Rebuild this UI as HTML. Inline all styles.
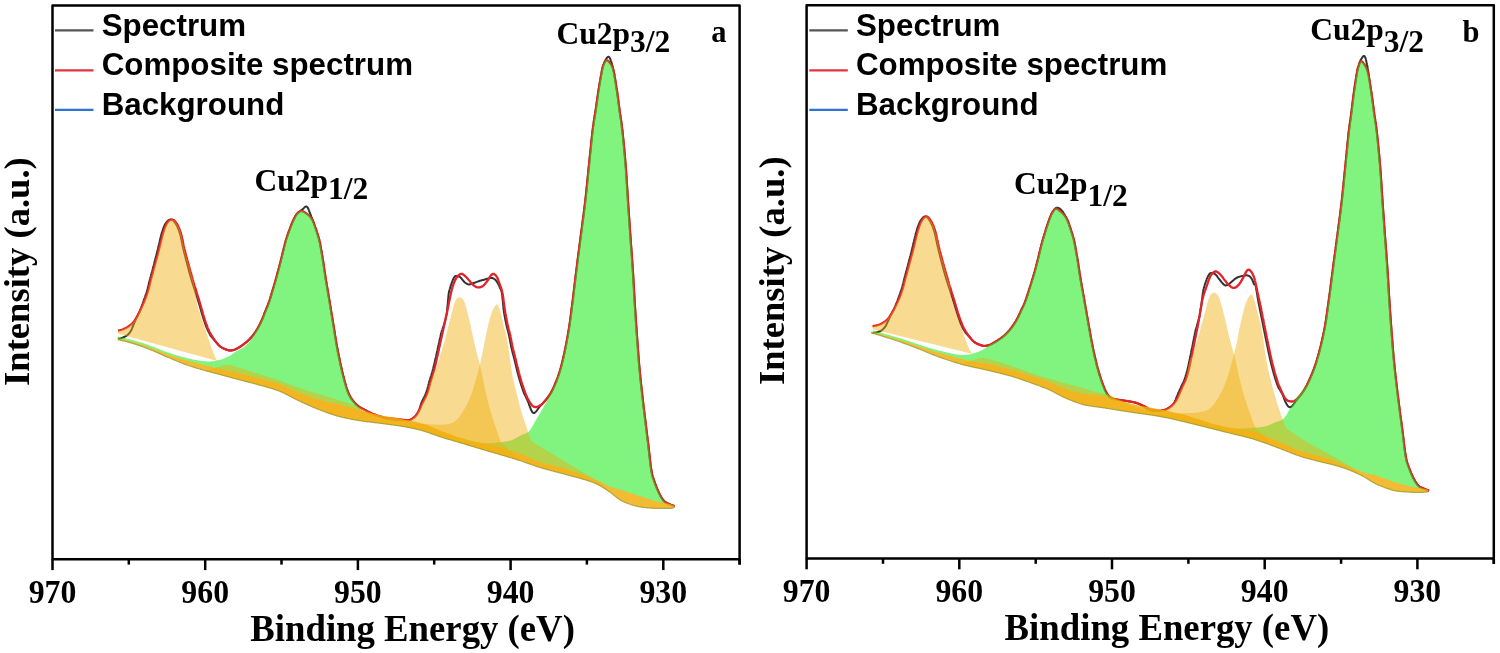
<!DOCTYPE html>
<html><head><meta charset="utf-8"><style>
html,body{margin:0;padding:0;background:#fff;}
svg{display:block;will-change:transform;}
</style></head><body>
<svg width="1500" height="653" viewBox="0 0 1500 653">
<rect width="1500" height="653" fill="#fff"/>

<g>
<path d="M118.0 338.9L118.4 338.8L118.9 338.7L119.5 338.5L120.2 338.4L120.9 338.2L121.6 338.0L122.3 337.7L123.0 337.5L123.5 337.3L124.1 337.0L124.6 336.8L125.2 336.5L125.7 336.2L126.3 335.9L126.8 335.5L127.4 335.1L127.9 334.6L128.4 334.2L128.9 333.6L129.4 333.0L129.9 332.3L130.5 331.5L131.0 330.6L131.5 329.6L132.0 328.6L132.4 327.5L132.9 326.4L133.3 325.4L133.6 324.6L134.0 323.7L134.3 322.9L134.6 322.1L135.0 321.4L135.3 320.6L135.6 319.9L135.9 319.2L136.2 318.6L136.6 317.9L136.9 317.2L137.2 316.6L137.5 316.1L137.8 315.5L138.0 314.9L138.3 314.3L138.6 313.7L138.9 313.2L139.2 312.6L139.5 312.0L139.8 311.4L140.0 310.7L140.3 310.0L140.6 309.2L140.9 308.5L141.2 307.8L141.4 307.1L141.7 306.4L141.9 305.7L142.2 305.0L142.4 304.3L142.7 303.6L142.9 302.9L143.2 302.1L143.4 301.4L143.7 300.6L143.9 299.8L144.2 299.2L144.4 298.5L144.7 297.9L144.9 297.3L145.1 296.7L145.3 296.0L145.5 295.4L145.8 294.8L146.0 294.2L146.2 293.6L146.4 292.9L146.6 292.3L146.8 291.7L147.0 291.0L147.2 290.4L147.4 289.7L147.6 289.0L147.8 288.3L147.9 287.6L148.1 286.8L148.3 286.1L148.5 285.4L148.6 284.7L148.7 284.2L148.8 283.7L148.9 283.3L149.0 282.9L149.1 282.5L149.2 282.1L149.3 281.7L149.5 281.3L149.6 280.8L149.7 280.3L149.9 279.6L150.1 278.9L150.3 278.1L150.5 277.2L150.8 276.2L150.9 275.8L151.0 275.3L151.1 274.9L151.3 274.4L151.4 274.0L151.5 273.4L151.7 272.9L151.8 272.4L152.0 271.8L152.1 271.3L152.3 270.7L152.4 270.1L152.6 269.5L152.7 268.9L152.9 268.3L153.1 267.6L153.2 267.0L153.4 266.3L153.6 265.7L153.8 265.0L153.9 264.3L154.1 263.7L154.3 263.0L154.5 262.3L154.6 261.6L154.8 260.9L155.0 260.2L155.2 259.5L155.4 258.8L155.5 258.1L155.7 257.4L155.9 256.7L156.1 256.0L156.2 255.4L156.4 254.7L156.6 254.0L156.8 253.4L156.9 252.7L157.1 252.1L157.2 251.4L157.4 250.8L157.6 250.2L157.7 249.6L157.9 249.0L158.0 248.4L158.1 247.8L158.3 247.3L158.4 246.7L158.6 245.9L158.8 245.1L159.0 244.4L159.1 243.6L159.3 242.9L159.5 242.1L159.7 241.4L159.8 240.7L160.0 240.1L160.1 239.4L160.3 238.8L160.4 238.2L160.6 237.6L160.7 237.0L160.9 236.4L161.0 235.9L161.1 235.4L161.3 234.9L161.4 234.4L161.5 233.9L161.7 233.4L161.8 233.0L161.9 232.6L162.1 232.1L162.2 231.7L162.3 231.3L162.5 230.9L162.6 230.5L162.7 230.1L162.9 229.7L163.0 229.3L163.2 228.6L163.5 228.0L163.7 227.4L163.9 226.8L164.1 226.3L164.4 225.8L164.6 225.3L164.8 224.9L165.0 224.5L165.2 224.1L165.4 223.7L165.6 223.4L165.9 223.0L166.1 222.7L166.3 222.4L166.5 222.1L166.8 221.8L167.0 221.6L167.5 221.1L168.0 220.6L168.5 220.3L169.0 220.0L169.6 219.8L170.1 219.6L170.6 219.6L171.2 219.6L171.7 219.7L172.2 219.9L172.7 220.2L173.2 220.6L173.8 221.1L174.3 221.6L174.8 222.3L175.3 223.0L175.8 223.8L176.3 224.6L176.6 225.1L176.8 225.6L177.1 226.1L177.3 226.6L177.6 227.2L177.8 227.8L178.1 228.4L178.4 229.0L178.6 229.7L178.9 230.4L179.1 231.1L179.4 231.8L179.7 232.6L179.9 233.4L180.2 234.3L180.4 235.2L180.7 236.2L180.9 237.2L181.0 237.9L181.2 238.5L181.3 239.1L181.4 239.7L181.6 240.3L181.7 240.9L181.8 241.5L181.9 242.1L182.0 242.7L182.2 243.3L182.3 243.8L182.4 244.4L182.5 245.0L182.6 245.5L182.7 246.1L182.9 246.6L183.0 247.2L183.1 247.8L183.2 248.3L183.4 248.9L183.5 249.5L183.6 250.0L183.8 250.6L183.9 251.2L184.1 251.8L184.2 252.5L184.4 253.1L184.6 253.8L184.7 254.5L184.9 255.2L185.1 255.9L185.2 256.4L185.4 256.9L185.5 257.5L185.6 258.0L185.8 258.6L185.9 259.2L186.1 259.7L186.2 260.3L186.4 261.0L186.6 261.6L186.7 262.2L186.9 262.9L187.1 263.5L187.2 264.2L187.4 264.9L187.6 265.5L187.8 266.2L187.9 266.9L188.1 267.6L188.3 268.3L188.5 269.0L188.7 269.6L188.8 270.3L189.0 271.0L189.2 271.7L189.4 272.3L189.6 273.0L189.8 273.6L189.9 274.3L190.1 274.9L190.3 275.5L190.5 276.1L190.6 276.7L190.8 277.3L191.0 277.9L191.2 278.5L191.3 279.0L191.5 279.6L191.6 280.1L191.8 280.6L191.9 281.1L192.1 281.6L192.2 282.1L192.4 282.6L192.5 283.0L192.7 283.4L192.8 283.8L192.9 284.2L193.2 285.1L193.4 285.8L193.6 286.5L193.9 287.2L194.1 287.8L194.3 288.4L194.4 288.9L194.6 289.5L194.8 289.9L194.9 290.4L195.1 290.9L195.2 291.3L195.4 291.8L195.5 292.3L195.7 292.7L195.8 293.2L196.0 293.6L196.1 294.1L196.3 294.6L196.4 295.2L196.6 295.7L196.8 296.3L197.0 296.8L197.1 297.4L197.3 298.0L197.5 298.5L197.7 299.1L197.8 299.7L198.0 300.3L198.2 300.8L198.4 301.4L198.5 302.0L198.7 302.6L198.9 303.2L199.1 303.8L199.3 304.3L199.4 304.9L199.6 305.5L199.8 306.1L200.0 306.7L200.1 307.3L200.3 308.0L200.5 308.6L200.6 309.2L200.8 309.8L201.0 310.4L201.1 311.0L201.3 311.5L201.5 312.1L201.6 312.7L201.8 313.3L202.0 313.8L202.1 314.4L202.3 314.9L202.5 315.5L202.7 316.0L202.8 316.6L203.0 317.1L203.2 317.6L203.3 318.2L203.5 318.8L203.7 319.3L203.9 319.9L204.1 320.5L204.3 321.1L204.5 321.7L204.7 322.2L204.8 322.8L205.0 323.4L205.2 323.9L205.4 324.5L205.6 325.1L205.8 325.6L206.0 326.1L206.2 326.7L206.4 327.2L206.7 327.7L206.9 328.2L207.1 328.7L207.3 329.2L207.5 329.7L207.7 330.2L208.0 330.7L208.2 331.1L208.5 331.7L208.8 332.2L209.0 332.8L209.3 333.3L209.6 333.8L209.9 334.4L210.2 334.9L210.5 335.4L210.8 335.9L211.1 336.3L211.5 336.7L211.8 337.1L212.1 337.5L212.4 337.8L212.7 338.2L213.1 338.6L213.4 338.9L213.7 339.3L214.1 339.7L214.4 340.1L214.8 340.5L215.2 340.9L215.5 341.4L215.9 341.9L216.3 342.4L216.7 342.9L217.1 343.3L217.5 343.8L217.9 344.2L218.3 344.7L218.7 345.1L219.1 345.5L219.5 345.8L219.9 346.2L220.4 346.6L221.0 347.0L221.6 347.4L222.1 347.7L222.7 348.0L223.3 348.3L223.9 348.6L224.5 348.9L225.1 349.1L225.7 349.3L226.2 349.5L226.7 349.7L227.2 349.9L227.9 350.1L228.6 350.3L229.2 350.4L229.8 350.4L230.3 350.4L230.9 350.4L231.4 350.4L232.0 350.3L232.6 350.2L233.3 350.1L233.8 349.9L234.5 349.7L235.1 349.5L235.8 349.2L236.5 348.8L237.0 348.6L237.5 348.3L238.0 348.0L238.5 347.7L239.0 347.4L239.5 347.1L240.1 346.7L240.7 346.4L241.2 346.0L241.8 345.6L242.3 345.2L242.9 344.8L243.3 344.5L243.8 344.1L244.3 343.8L244.7 343.4L245.2 343.0L245.7 342.7L246.2 342.3L246.6 341.9L247.1 341.5L247.6 341.1L248.0 340.7L248.5 340.3L248.9 339.8L249.4 339.4L249.8 339.0L250.2 338.5L250.7 338.1L251.1 337.6L251.5 337.1L251.9 336.6L252.3 336.1L252.7 335.6L253.1 335.1L253.5 334.6L253.9 334.1L254.2 333.6L254.6 333.1L255.0 332.6L255.3 332.1L255.7 331.6L256.0 331.0L256.4 330.5L256.7 330.0L257.0 329.5L257.3 329.0L257.6 328.4L257.9 327.9L258.2 327.4L258.5 326.8L258.8 326.3L259.1 325.8L259.4 325.2L259.7 324.6L260.0 324.0L260.3 323.5L260.6 322.8L260.9 322.2L261.1 321.6L261.4 321.0L261.7 320.4L261.9 319.8L262.2 319.2L262.4 318.7L262.7 318.1L262.9 317.6L263.2 316.9L263.4 316.4L263.6 315.9L263.8 315.4L264.0 314.9L264.2 314.3L264.4 313.7L264.7 313.0L265.0 312.1L265.2 311.7L265.3 311.3L265.5 310.9L265.7 310.5L265.9 310.1L266.0 309.6L266.2 309.2L266.4 308.8L266.6 308.3L266.8 307.8L267.0 307.3L267.3 306.8L267.5 306.2L267.7 305.6L268.0 305.0L268.2 304.3L268.5 303.5L268.8 302.7L269.1 301.9L269.4 301.0L269.7 300.0L269.8 299.6L270.0 299.2L270.1 298.7L270.2 298.3L270.4 297.8L270.5 297.3L270.7 296.8L270.8 296.3L271.0 295.8L271.2 295.3L271.3 294.8L271.5 294.2L271.6 293.7L271.8 293.1L272.0 292.5L272.2 292.0L272.3 291.4L272.5 290.8L272.7 290.2L272.9 289.6L273.0 289.0L273.2 288.4L273.4 287.7L273.6 287.1L273.8 286.5L273.9 285.9L274.1 285.2L274.3 284.6L274.5 284.0L274.7 283.3L274.8 282.7L275.0 282.1L275.2 281.4L275.4 280.8L275.6 280.2L275.8 279.5L275.9 278.9L276.1 278.3L276.3 277.6L276.5 277.0L276.6 276.4L276.8 275.8L277.0 275.2L277.1 274.6L277.3 274.0L277.5 273.4L277.6 272.8L277.8 272.2L277.9 271.7L278.1 271.1L278.3 270.5L278.4 270.0L278.6 269.4L278.7 268.7L278.9 268.1L279.1 267.4L279.3 266.8L279.4 266.1L279.6 265.4L279.8 264.8L279.9 264.1L280.1 263.5L280.3 262.8L280.4 262.1L280.6 261.5L280.8 260.8L280.9 260.1L281.1 259.5L281.3 258.8L281.4 258.2L281.6 257.5L281.7 256.9L281.9 256.2L282.0 255.6L282.2 255.0L282.4 254.4L282.5 253.7L282.6 253.1L282.8 252.5L282.9 251.9L283.1 251.4L283.2 250.8L283.4 250.2L283.5 249.7L283.6 249.1L283.8 248.6L283.9 248.1L284.0 247.6L284.1 247.1L284.2 246.6L284.4 246.1L284.5 245.7L284.6 245.2L284.7 244.8L284.8 244.4L284.9 244.0L285.2 242.8L285.5 241.8L285.7 241.0L285.9 240.3L286.1 239.7L286.2 239.2L286.4 238.8L286.5 238.4L286.6 238.1L286.7 237.7L286.9 237.3L287.0 236.8L287.2 236.3L287.4 235.7L287.6 235.1L287.8 234.5L288.0 234.0L288.2 233.4L288.4 232.8L288.6 232.2L288.8 231.6L289.0 231.0L289.2 230.5L289.5 229.9L289.7 229.3L289.9 228.7L290.1 228.1L290.3 227.5L290.6 226.9L290.8 226.3L291.0 225.7L291.3 225.1L291.5 224.5L291.7 223.9L292.0 223.3L292.2 222.7L292.5 222.1L292.7 221.6L293.0 221.0L293.3 220.4L293.5 219.9L293.8 219.3L294.1 218.7L294.4 218.1L294.7 217.5L295.0 217.0L295.2 216.4L295.5 215.9L295.9 215.4L296.2 214.9L296.5 214.5L296.8 214.1L297.3 213.6L297.8 213.0L298.3 212.6L298.8 212.1L299.3 211.7L299.8 211.3L300.4 210.9L300.9 210.5L301.4 210.2L302.0 209.7L302.6 209.3L303.2 208.7L303.8 208.1L304.3 207.6L304.9 207.0L305.5 206.6L306.0 206.4L306.5 206.5L307.0 206.8L307.5 207.4L308.0 208.2L308.5 209.2L308.9 210.3L309.4 211.5L309.8 212.7L310.2 213.7L310.6 214.7L310.9 215.7L311.3 216.6L311.6 217.5L312.0 218.3L312.3 219.1L312.6 219.8L312.9 220.5L313.2 221.2L313.4 221.8L313.6 222.5L313.9 223.1L314.1 223.8L314.3 224.4L314.5 225.1L314.8 225.7L315.0 226.4L315.2 227.1L315.4 227.6L315.6 228.2L315.8 228.7L316.0 229.3L316.2 229.8L316.4 230.4L316.5 231.0L316.7 231.6L316.9 232.1L317.1 232.8L317.3 233.4L317.5 234.0L317.7 234.5L317.8 235.0L318.0 235.5L318.1 236.0L318.3 236.5L318.4 237.0L318.6 237.5L318.8 238.1L318.9 238.7L319.1 239.3L319.3 240.0L319.4 240.7L319.6 241.5L319.8 242.4L319.9 242.9L320.0 243.3L320.1 243.8L320.2 244.3L320.3 244.9L320.4 245.4L320.5 246.0L320.6 246.5L320.7 247.1L320.8 247.7L320.9 248.3L321.0 248.9L321.1 249.5L321.3 250.2L321.4 250.8L321.5 251.4L321.6 252.1L321.7 252.7L321.8 253.4L321.9 254.1L322.0 254.7L322.1 255.4L322.3 256.0L322.4 256.7L322.5 257.4L322.6 258.0L322.7 258.7L322.8 259.3L322.9 260.0L323.0 260.6L323.1 261.1L323.2 261.7L323.3 262.3L323.4 262.9L323.4 263.5L323.5 264.1L323.6 264.7L323.7 265.3L323.8 265.9L323.9 266.5L324.0 267.1L324.1 267.7L324.2 268.3L324.2 268.9L324.3 269.5L324.4 270.2L324.5 270.8L324.6 271.4L324.7 272.0L324.8 272.6L324.9 273.2L325.0 273.9L325.1 274.5L325.1 275.1L325.2 275.7L325.3 276.3L325.4 276.9L325.5 277.6L325.6 278.2L325.7 278.8L325.8 279.4L325.9 280.0L326.0 280.6L326.1 281.2L326.2 281.8L326.3 282.4L326.4 283.0L326.5 283.6L326.6 284.2L326.7 284.7L326.8 285.3L326.9 285.9L327.0 286.5L327.1 287.1L327.2 287.6L327.3 288.2L327.4 288.8L327.5 289.4L327.6 290.0L327.7 290.6L327.8 291.2L327.9 291.8L328.0 292.4L328.1 293.0L328.2 293.6L328.3 294.2L328.4 294.8L328.5 295.4L328.6 296.1L328.7 296.7L328.9 297.3L329.0 298.0L329.1 298.7L329.2 299.3L329.3 300.0L329.4 300.5L329.5 301.1L329.6 301.6L329.7 302.2L329.8 302.7L329.8 303.3L329.9 303.9L330.0 304.4L330.1 305.0L330.2 305.6L330.3 306.2L330.4 306.8L330.5 307.4L330.6 308.0L330.7 308.6L330.8 309.2L330.9 309.8L331.0 310.4L331.1 311.0L331.2 311.6L331.3 312.2L331.4 312.8L331.5 313.4L331.6 314.0L331.7 314.6L331.8 315.3L331.9 315.9L332.0 316.5L332.1 317.1L332.2 317.7L332.3 318.3L332.4 318.9L332.5 319.6L332.6 320.2L332.7 320.8L332.8 321.4L332.9 322.0L333.0 322.6L333.1 323.2L333.2 323.8L333.3 324.4L333.4 325.0L333.5 325.6L333.6 326.2L333.7 326.8L333.8 327.4L333.9 328.0L334.0 328.6L334.1 329.2L334.2 329.8L334.3 330.4L334.4 331.0L334.5 331.5L334.6 332.1L334.7 332.7L334.7 333.3L334.8 333.9L334.9 334.5L335.0 335.1L335.1 335.7L335.2 336.3L335.3 336.9L335.4 337.5L335.5 338.1L335.6 338.7L335.7 339.3L335.8 339.9L335.9 340.5L336.0 341.1L336.1 341.7L336.2 342.3L336.3 342.9L336.4 343.5L336.5 344.0L336.6 344.6L336.7 345.2L336.8 345.8L336.9 346.4L337.0 347.0L337.2 347.6L337.3 348.2L337.4 348.8L337.5 349.4L337.6 350.0L337.7 350.6L337.8 351.2L337.9 351.8L338.1 352.4L338.2 353.0L338.3 353.6L338.4 354.3L338.6 354.9L338.7 355.5L338.8 356.1L338.9 356.8L339.1 357.4L339.2 358.0L339.3 358.6L339.5 359.3L339.6 359.9L339.7 360.5L339.9 361.1L340.0 361.8L340.1 362.4L340.2 363.0L340.4 363.6L340.5 364.2L340.7 364.8L340.8 365.5L340.9 366.1L341.1 366.7L341.2 367.3L341.3 367.9L341.5 368.4L341.6 369.0L341.7 369.6L341.8 370.2L342.0 370.7L342.1 371.3L342.2 371.8L342.4 372.4L342.5 372.9L342.6 373.5L342.8 374.0L342.9 374.5L343.0 375.0L343.2 375.7L343.4 376.4L343.5 377.1L343.7 377.8L343.9 378.5L344.1 379.2L344.2 379.8L344.4 380.5L344.6 381.1L344.8 381.8L344.9 382.4L345.1 383.0L345.3 383.6L345.5 384.2L345.6 384.8L345.8 385.4L346.0 386.0L346.1 386.5L346.3 387.1L346.5 387.6L346.6 388.1L346.8 388.7L347.0 389.2L347.2 389.7L347.3 390.2L347.5 390.6L347.7 391.1L347.8 391.6L348.0 392.0L348.3 392.8L348.6 393.5L348.9 394.2L349.2 394.8L349.5 395.4L349.8 395.9L350.1 396.4L350.3 396.9L350.6 397.4L350.9 397.9L351.2 398.3L351.5 398.8L351.8 399.2L352.1 399.6L352.5 400.1L352.8 400.5L353.2 401.0L353.6 401.5L354.0 402.0L354.4 402.5L354.8 402.9L355.2 403.4L355.7 403.8L356.1 404.2L356.5 404.6L357.0 405.0L357.4 405.4L357.8 405.8L358.3 406.2L358.7 406.5L359.2 406.9L359.7 407.2L360.2 407.5L360.7 407.8L361.2 408.1L361.7 408.4L362.2 408.6L362.8 408.9L363.3 409.2L363.9 409.4L364.4 409.7L365.0 410.0L365.5 410.3L366.0 410.5L366.5 410.8L367.0 411.1L367.5 411.4L368.1 411.7L368.6 411.9L369.2 412.2L369.7 412.5L370.3 412.8L370.9 413.1L371.5 413.4L372.1 413.6L372.8 413.9L373.3 414.1L373.8 414.3L374.4 414.5L375.0 414.7L375.5 414.9L376.1 415.2L376.7 415.4L377.3 415.6L378.0 415.8L378.6 416.0L379.2 416.2L379.8 416.4L380.4 416.6L381.0 416.8L381.6 417.0L382.2 417.2L382.7 417.4L383.3 417.5L383.8 417.7L384.5 417.9L385.2 418.1L385.9 418.2L386.6 418.4L387.3 418.5L387.9 418.6L388.5 418.8L389.1 418.9L389.7 419.0L390.3 419.1L390.9 419.2L391.4 419.3L392.0 419.4L392.7 419.5L393.3 419.6L393.9 419.7L394.5 419.8L395.1 419.9L395.6 419.9L396.2 420.0L396.8 420.0L397.4 420.1L398.0 420.1L398.6 420.1L399.2 420.1L399.9 420.1L400.6 420.2L401.3 420.2L401.9 420.2L402.6 420.2L403.2 420.2L403.8 420.2L404.4 420.2L404.9 420.3L405.8 420.3L406.5 420.4L407.1 420.5L407.7 420.5L408.3 420.4L408.9 420.3L409.4 420.1L410.0 419.9L410.6 419.7L411.2 419.4L411.8 419.0L412.3 418.7L412.8 418.3L413.3 417.9L413.8 417.5L414.4 417.1L414.9 416.6L415.4 416.1L415.9 415.5L416.3 415.0L416.7 414.5L417.0 414.0L417.4 413.5L417.7 412.9L418.1 412.3L418.4 411.5L418.8 410.7L419.1 409.9L419.4 409.1L419.7 408.3L419.9 407.4L420.2 406.6L420.4 405.8L420.7 405.1L420.9 404.3L421.1 403.7L421.4 403.0L421.6 402.4L421.9 401.8L422.1 401.2L422.4 400.7L422.7 400.2L422.9 399.6L423.2 399.1L423.5 398.5L423.8 397.9L424.1 397.4L424.3 396.8L424.6 396.3L424.9 395.7L425.2 395.2L425.4 394.6L425.7 394.0L425.9 393.4L426.2 392.7L426.4 392.0L426.7 391.2L426.9 390.4L427.2 389.5L427.4 388.6L427.7 387.6L427.9 387.0L428.0 386.4L428.2 385.7L428.3 385.1L428.5 384.5L428.7 384.0L428.8 383.4L429.0 382.8L429.1 382.2L429.3 381.7L429.5 381.1L429.6 380.6L429.8 380.0L430.0 379.5L430.1 378.9L430.3 378.3L430.5 377.7L430.7 377.2L430.8 376.6L431.0 376.0L431.2 375.5L431.4 374.9L431.6 374.3L431.7 373.6L431.9 373.0L432.1 372.3L432.3 371.7L432.5 371.0L432.7 370.3L432.9 369.6L433.1 368.9L433.3 368.2L433.4 367.5L433.6 366.8L433.8 366.1L433.9 365.5L434.1 364.8L434.3 364.1L434.4 363.3L434.6 362.7L434.7 362.0L434.9 361.3L435.0 360.7L435.2 360.1L435.3 359.6L435.4 359.0L435.6 358.4L435.7 357.8L435.8 357.3L436.0 356.7L436.1 356.1L436.2 355.5L436.4 354.9L436.5 354.2L436.6 353.7L436.8 353.1L436.9 352.6L437.0 352.0L437.1 351.5L437.2 351.0L437.3 350.4L437.5 349.9L437.6 349.4L437.7 348.8L437.8 348.3L437.9 347.7L438.1 347.1L438.2 346.5L438.4 345.8L438.5 345.2L438.7 344.4L438.8 343.7L439.0 342.9L439.1 342.4L439.2 341.9L439.3 341.4L439.4 340.9L439.6 340.4L439.7 339.8L439.8 339.3L439.9 338.7L440.0 338.1L440.2 337.5L440.3 337.0L440.4 336.4L440.6 335.8L440.7 335.1L440.8 334.5L441.0 333.9L441.1 333.4L441.2 333.0L441.4 332.6L441.5 332.2L441.7 331.7L441.8 331.3L441.9 330.9L442.1 330.4L442.2 330.0L442.4 329.6L442.5 329.2L442.6 328.7L442.8 328.3L442.9 327.9L443.0 327.5L443.2 327.1L443.3 326.7L443.4 326.3L443.6 325.9L443.7 325.5L443.8 325.0L444.0 324.6L444.1 324.2L444.3 323.8L444.4 323.3L444.5 322.9L444.7 322.5L444.8 322.0L445.0 321.6L445.1 321.0L445.2 320.4L445.4 319.7L445.5 319.1L445.7 318.5L445.8 317.8L445.9 317.2L446.1 316.6L446.2 316.0L446.3 315.4L446.5 314.8L446.6 314.2L446.7 313.7L446.8 312.8L447.0 311.6L447.1 310.4L447.2 309.2L447.3 308.0L447.4 306.9L447.5 305.9L447.6 304.9L447.8 303.0L447.9 301.3L448.1 299.8L448.2 298.5L448.3 297.3L448.4 296.2L448.5 295.3L448.6 294.3L448.7 293.5L448.8 292.8L448.9 292.4L449.0 292.0L449.1 291.6L449.2 291.1L449.4 290.6L449.5 290.1L449.6 289.7L449.7 289.2L449.8 288.8L450.0 288.3L450.1 287.9L450.2 287.5L450.3 287.1L450.5 286.6L450.6 286.2L450.7 285.8L450.9 285.4L451.0 285.0L451.1 284.6L451.3 284.2L451.4 283.8L451.6 283.4L451.7 283.0L451.8 282.6L452.0 282.2L452.1 281.8L452.3 281.4L452.5 280.9L452.7 280.4L452.9 279.8L453.2 279.3L453.4 278.8L453.6 278.3L453.9 277.9L454.1 277.4L454.4 277.0L454.6 276.7L454.9 276.4L455.1 276.2L455.3 276.1L455.6 276.0L455.8 276.0L456.0 276.1L456.5 276.1L456.9 276.1L457.4 276.1L457.8 276.2L458.2 276.3L458.7 276.4L459.1 276.6L459.7 276.9L460.2 277.3L460.8 277.8L461.4 278.4L462.1 279.3L462.5 279.8L463.0 280.4L463.4 281.0L463.9 281.5L464.4 282.0L464.9 282.5L465.4 282.9L465.9 283.2L466.4 283.5L466.8 283.8L467.3 284.0L467.7 284.2L468.1 284.3L468.6 284.4L469.0 284.4L469.5 284.4L469.9 284.3L470.3 284.2L470.7 284.1L471.2 284.0L471.7 283.8L472.1 283.7L472.5 283.5L473.0 283.3L473.4 283.1L473.9 283.0L474.4 282.8L475.0 282.6L475.6 282.4L476.2 282.1L476.8 281.9L477.5 281.7L478.1 281.4L478.7 281.2L479.3 281.0L479.9 280.8L480.5 280.6L481.2 280.5L481.8 280.3L482.4 280.1L483.0 280.0L483.4 279.9L483.9 279.8L484.3 279.6L484.8 279.5L485.2 279.4L485.6 279.2L486.1 279.1L486.5 279.0L486.9 278.8L487.3 278.7L487.7 278.6L488.1 278.4L488.5 278.3L488.8 278.3L489.2 278.2L489.6 278.1L489.9 278.1L490.2 278.0L490.6 278.0L490.9 278.0L491.5 278.0L492.1 278.0L492.6 278.1L493.1 278.3L493.7 278.6L494.1 278.9L494.6 279.2L495.1 279.6L495.6 280.1L496.1 280.7L496.5 281.3L497.0 281.9L497.2 282.3L497.5 282.6L497.7 283.0L497.9 283.4L498.1 283.8L498.4 284.2L498.6 284.7L498.8 285.1L499.0 285.6L499.3 286.1L499.5 286.7L499.7 287.2L499.9 287.8L500.1 288.2L500.3 288.5L500.5 288.8L500.7 289.1L500.9 289.5L501.0 290.0L501.2 290.4L501.4 291.0L501.6 291.7L501.7 292.5L501.9 293.5L502.1 294.7L502.3 296.1L502.4 297.6L502.6 299.3L502.7 300.2L502.8 301.1L502.9 302.0L502.9 302.9L503.0 303.7L503.1 304.6L503.2 305.4L503.3 306.2L503.4 307.0L503.4 307.8L503.5 308.5L503.6 309.3L503.7 309.9L503.8 310.6L503.9 311.3L503.9 311.9L504.0 312.5L504.1 313.0L504.2 313.5L504.3 314.0L504.4 314.4L504.4 314.9L504.5 315.4L504.6 315.9L504.7 316.4L504.8 316.9L504.9 317.4L505.0 318.0L505.1 318.5L505.2 319.1L505.3 319.7L505.4 320.2L505.5 320.8L505.7 321.4L505.8 321.9L505.9 322.5L506.0 323.1L506.1 323.6L506.2 324.2L506.3 324.7L506.5 325.3L506.6 325.8L506.7 326.3L506.8 326.8L506.9 327.3L507.0 327.8L507.2 328.2L507.3 328.6L507.4 329.1L507.5 329.5L507.6 329.9L507.7 330.3L507.9 330.8L508.0 331.4L508.2 332.0L508.3 332.5L508.5 333.1L508.6 333.7L508.7 334.3L508.9 335.0L509.0 335.6L509.2 336.3L509.3 337.0L509.5 337.7L509.6 338.5L509.8 339.2L509.9 340.0L510.1 340.8L510.2 341.6L510.3 342.2L510.4 342.8L510.5 343.4L510.7 344.0L510.8 344.5L510.9 345.1L511.0 345.7L511.1 346.2L511.2 346.7L511.3 347.3L511.4 347.8L511.6 348.3L511.7 348.8L511.8 349.3L511.9 349.8L512.0 350.3L512.2 350.8L512.3 351.3L512.4 351.8L512.5 352.3L512.7 352.8L512.8 353.3L512.9 353.8L513.1 354.3L513.2 354.9L513.4 355.4L513.5 356.0L513.7 356.5L513.8 357.1L514.0 357.7L514.1 358.3L514.3 358.9L514.4 359.5L514.6 360.1L514.7 360.7L514.9 361.3L515.0 361.9L515.2 362.6L515.3 363.2L515.5 363.9L515.6 364.5L515.8 365.2L516.0 365.8L516.1 366.4L516.2 367.1L516.4 367.7L516.5 368.3L516.7 368.9L516.8 369.5L517.0 370.0L517.1 370.6L517.2 371.2L517.4 371.7L517.5 372.3L517.7 372.8L517.8 373.4L517.9 373.9L518.1 374.4L518.2 375.0L518.4 375.5L518.5 376.0L518.7 376.6L518.8 377.1L519.0 377.7L519.1 378.2L519.3 378.8L519.5 379.3L519.6 379.9L519.8 380.4L520.0 381.0L520.1 381.6L520.3 382.1L520.5 382.7L520.6 383.2L520.8 383.8L521.0 384.4L521.2 384.9L521.3 385.5L521.5 386.0L521.7 386.6L521.9 387.1L522.1 387.6L522.3 388.2L522.4 388.7L522.6 389.3L522.8 389.9L523.0 390.4L523.2 391.0L523.4 391.6L523.6 392.2L523.8 392.8L524.1 393.4L524.3 393.8L524.5 394.3L524.7 394.7L524.9 395.1L525.2 395.6L525.4 396.0L525.6 396.5L525.8 397.0L526.1 397.4L526.3 397.9L526.5 398.4L526.8 398.9L527.0 399.4L527.3 400.0L527.5 400.5L527.8 401.1L528.1 401.9L528.5 402.8L528.8 403.8L529.1 404.8L529.5 405.8L529.9 406.7L530.2 407.7L530.6 408.6L530.9 409.5L531.3 410.3L531.7 411.0L532.1 411.7L532.4 412.2L532.8 412.6L533.2 412.9L533.6 413.0L534.2 413.0L534.8 412.7L535.3 412.2L535.9 411.6L536.6 410.8L537.2 410.0L537.8 409.1L538.4 408.3L539.0 407.5L539.6 406.7L540.2 406.1L540.6 405.6L541.1 405.2L541.5 404.7L541.9 404.3L542.4 403.8L542.8 403.4L543.2 402.9L543.7 402.5L544.1 402.0L544.5 401.5L545.0 401.0L545.4 400.4L545.8 399.9L546.3 399.4L546.7 398.8L547.0 398.4L547.3 398.0L547.7 397.6L548.0 397.1L548.3 396.7L548.6 396.3L548.9 395.9L549.2 395.4L549.6 395.0L549.9 394.5L550.2 394.0L550.5 393.5L550.8 393.0L551.2 392.4L551.5 391.8L551.8 391.2L552.2 390.6L552.5 389.9L552.8 389.2L553.2 388.4L553.4 388.0L553.6 387.5L553.8 387.1L554.0 386.7L554.2 386.2L554.4 385.7L554.6 385.3L554.8 384.8L555.0 384.3L555.2 383.8L555.4 383.3L555.6 382.8L555.8 382.3L556.1 381.8L556.3 381.3L556.5 380.7L556.7 380.2L556.9 379.6L557.1 379.1L557.3 378.5L557.6 377.9L557.8 377.3L558.0 376.7L558.2 376.1L558.4 375.5L558.6 374.9L558.8 374.3L559.0 373.6L559.3 373.0L559.5 372.3L559.7 371.7L559.9 371.0L560.1 370.3L560.3 369.6L560.5 368.9L560.7 368.2L560.9 367.5L561.0 367.0L561.2 366.5L561.3 366.0L561.4 365.5L561.6 365.0L561.7 364.4L561.8 363.9L562.0 363.4L562.1 362.8L562.2 362.3L562.4 361.7L562.5 361.2L562.7 360.6L562.8 360.0L562.9 359.5L563.1 358.9L563.2 358.3L563.3 357.7L563.5 357.1L563.6 356.5L563.7 355.9L563.9 355.3L564.0 354.7L564.1 354.1L564.3 353.5L564.4 352.9L564.5 352.2L564.7 351.6L564.8 351.0L564.9 350.4L565.0 349.7L565.2 349.1L565.3 348.5L565.4 347.9L565.6 347.2L565.7 346.6L565.8 346.0L565.9 345.4L566.1 344.7L566.2 344.1L566.3 343.5L566.4 342.8L566.5 342.2L566.7 341.6L566.8 341.0L566.9 340.4L567.0 339.7L567.1 339.1L567.2 338.5L567.4 337.9L567.5 337.3L567.6 336.7L567.7 336.1L567.8 335.5L567.9 334.9L568.0 334.3L568.1 333.7L568.2 333.1L568.3 332.5L568.4 331.9L568.5 331.3L568.6 330.7L568.7 330.1L568.8 329.5L568.9 328.9L569.0 328.3L569.1 327.7L569.2 327.1L569.3 326.5L569.4 325.9L569.5 325.3L569.5 324.7L569.6 324.1L569.7 323.5L569.8 322.9L569.9 322.2L570.0 321.6L570.1 321.0L570.1 320.4L570.2 319.8L570.3 319.2L570.4 318.6L570.5 318.0L570.6 317.4L570.6 316.8L570.7 316.2L570.8 315.6L570.9 315.0L571.0 314.4L571.0 313.8L571.1 313.2L571.2 312.6L571.3 312.0L571.3 311.4L571.4 310.8L571.5 310.2L571.6 309.6L571.6 309.0L571.7 308.4L571.8 307.8L571.9 307.2L572.0 306.6L572.0 306.0L572.1 305.4L572.2 304.8L572.3 304.2L572.3 303.6L572.4 303.0L572.5 302.4L572.6 301.8L572.7 301.2L572.7 300.6L572.8 300.0L572.9 299.4L573.0 298.8L573.0 298.3L573.1 297.7L573.2 297.1L573.2 296.5L573.3 295.9L573.4 295.4L573.5 294.8L573.5 294.2L573.6 293.6L573.7 293.1L573.7 292.5L573.8 291.9L573.9 291.3L573.9 290.8L574.0 290.2L574.1 289.6L574.1 289.0L574.2 288.5L574.3 287.9L574.3 287.3L574.4 286.7L574.5 286.2L574.5 285.6L574.6 285.0L574.7 284.4L574.7 283.8L574.8 283.2L574.9 282.6L575.0 282.0L575.0 281.4L575.1 280.8L575.2 280.2L575.2 279.6L575.3 279.0L575.4 278.4L575.5 277.8L575.5 277.2L575.6 276.5L575.7 275.9L575.8 275.3L575.8 274.6L575.9 274.0L576.0 273.3L576.1 272.7L576.1 272.0L576.2 271.3L576.3 270.7L576.4 270.0L576.5 269.5L576.5 268.9L576.6 268.4L576.7 267.8L576.7 267.2L576.8 266.7L576.9 266.1L577.0 265.5L577.0 264.9L577.1 264.3L577.2 263.7L577.3 263.1L577.3 262.5L577.4 261.9L577.5 261.3L577.6 260.7L577.7 260.1L577.7 259.5L577.8 258.8L577.9 258.2L578.0 257.6L578.1 256.9L578.1 256.3L578.2 255.7L578.3 255.0L578.4 254.4L578.5 253.8L578.6 253.1L578.6 252.5L578.7 251.9L578.8 251.2L578.9 250.6L579.0 249.9L579.1 249.3L579.1 248.6L579.2 248.0L579.3 247.4L579.4 246.7L579.5 246.1L579.6 245.5L579.6 244.8L579.7 244.2L579.8 243.6L579.9 242.9L580.0 242.3L580.1 241.7L580.1 241.1L580.2 240.4L580.3 239.8L580.4 239.2L580.5 238.6L580.5 238.0L580.6 237.4L580.7 236.8L580.8 236.2L580.8 235.6L580.9 235.0L581.0 234.5L581.1 233.9L581.1 233.3L581.2 232.8L581.3 232.2L581.4 231.7L581.4 231.1L581.5 230.6L581.6 230.0L581.6 229.5L581.7 229.0L581.8 228.3L581.9 227.6L582.0 226.9L582.1 226.2L582.2 225.5L582.2 224.8L582.3 224.2L582.4 223.5L582.5 222.9L582.6 222.3L582.7 221.7L582.7 221.0L582.8 220.4L582.9 219.8L583.0 219.3L583.1 218.7L583.1 218.1L583.2 217.5L583.3 216.9L583.4 216.4L583.4 215.8L583.5 215.2L583.6 214.7L583.7 214.1L583.7 213.6L583.8 213.0L583.9 212.5L583.9 211.9L584.0 211.3L584.1 210.8L584.2 210.2L584.2 209.7L584.3 209.1L584.4 208.5L584.4 208.0L584.5 207.4L584.6 206.8L584.7 206.2L584.7 205.6L584.8 205.0L584.9 204.4L585.0 203.8L585.0 203.2L585.1 202.6L585.2 202.0L585.2 201.3L585.3 200.7L585.4 200.0L585.5 199.4L585.5 198.9L585.6 198.3L585.7 197.8L585.7 197.2L585.8 196.6L585.8 196.1L585.9 195.5L586.0 194.9L586.0 194.3L586.1 193.7L586.1 193.1L586.2 192.6L586.3 192.0L586.3 191.4L586.4 190.8L586.5 190.2L586.5 189.6L586.6 189.0L586.6 188.4L586.7 187.8L586.8 187.2L586.8 186.6L586.9 185.9L587.0 185.3L587.0 184.7L587.1 184.1L587.1 183.5L587.2 182.9L587.3 182.3L587.3 181.6L587.4 181.0L587.4 180.4L587.5 179.8L587.6 179.2L587.6 178.5L587.7 177.9L587.8 177.3L587.8 176.7L587.9 176.1L587.9 175.4L588.0 174.8L588.1 174.2L588.1 173.6L588.2 173.0L588.3 172.3L588.3 171.7L588.4 171.1L588.4 170.5L588.5 169.9L588.6 169.3L588.6 168.6L588.7 168.0L588.7 167.4L588.8 166.8L588.9 166.2L588.9 165.6L589.0 165.0L589.1 164.4L589.1 163.8L589.2 163.2L589.3 162.6L589.3 161.9L589.4 161.3L589.4 160.7L589.5 160.0L589.6 159.4L589.6 158.8L589.7 158.1L589.8 157.5L589.8 156.9L589.9 156.2L590.0 155.6L590.0 154.9L590.1 154.3L590.2 153.6L590.2 153.0L590.3 152.3L590.4 151.7L590.4 151.1L590.5 150.4L590.6 149.8L590.6 149.1L590.7 148.5L590.8 147.8L590.8 147.2L590.9 146.6L591.0 145.9L591.0 145.3L591.1 144.7L591.1 144.0L591.2 143.4L591.3 142.8L591.3 142.2L591.4 141.6L591.5 141.0L591.5 140.4L591.6 139.8L591.7 139.2L591.7 138.6L591.8 138.0L591.9 137.4L591.9 136.8L592.0 136.3L592.0 135.7L592.1 135.1L592.2 134.6L592.2 134.1L592.3 133.5L592.3 133.0L592.4 132.5L592.5 132.0L592.5 131.5L592.6 131.0L592.6 130.5L592.7 130.0L592.8 129.2L592.9 128.4L593.0 127.6L593.1 126.9L593.2 126.2L593.3 125.5L593.4 124.8L593.5 124.1L593.6 123.5L593.7 122.8L593.8 122.2L593.8 121.6L593.9 121.0L594.0 120.5L594.1 119.9L594.2 119.3L594.3 118.8L594.4 118.2L594.5 117.7L594.6 117.2L594.6 116.6L594.7 116.1L594.8 115.6L594.9 115.0L595.0 114.5L595.1 114.0L595.2 113.4L595.3 112.9L595.3 112.3L595.4 111.8L595.5 111.2L595.6 110.6L595.7 110.0L595.8 109.4L595.9 108.8L596.0 108.2L596.1 107.6L596.1 107.0L596.2 106.4L596.3 105.8L596.4 105.2L596.5 104.5L596.6 103.9L596.7 103.3L596.7 102.7L596.8 102.1L596.9 101.5L597.0 100.9L597.1 100.3L597.2 99.7L597.2 99.1L597.3 98.5L597.4 97.9L597.5 97.3L597.6 96.7L597.7 96.1L597.8 95.5L597.9 94.8L597.9 94.2L598.0 93.6L598.1 93.0L598.2 92.4L598.3 91.8L598.4 91.2L598.5 90.6L598.6 90.0L598.7 89.4L598.8 88.8L598.9 88.1L599.0 87.5L599.1 86.8L599.2 86.2L599.3 85.5L599.4 84.8L599.6 84.2L599.7 83.5L599.8 82.8L599.9 82.1L600.0 81.5L600.1 80.8L600.2 80.1L600.4 79.5L600.5 78.8L600.6 78.1L600.7 77.5L600.8 76.9L600.9 76.2L601.0 75.6L601.1 75.0L601.3 74.4L601.4 73.9L601.5 73.3L601.6 72.8L601.7 72.3L601.8 71.8L601.8 71.3L601.9 70.8L602.0 70.4L602.1 70.0L602.3 68.8L602.6 67.9L602.7 67.1L602.9 66.5L603.1 65.9L603.2 65.5L603.4 65.1L603.5 64.8L603.7 64.3L603.9 63.9L604.2 63.1L604.5 62.3L604.8 61.5L605.2 60.8L605.5 60.0L605.9 59.3L606.3 58.7L606.8 58.0L607.3 57.4L607.8 56.9L608.4 56.7L608.9 56.8L609.5 57.5L609.8 58.0L610.0 58.5L610.3 59.1L610.6 59.8L610.8 60.5L611.1 61.4L611.4 62.2L611.7 63.1L611.9 64.1L612.2 65.1L612.5 66.1L612.8 67.1L613.0 68.2L613.3 69.3L613.4 69.8L613.5 70.3L613.6 70.9L613.7 71.4L613.9 72.0L614.0 72.5L614.1 73.1L614.2 73.7L614.3 74.3L614.4 74.9L614.5 75.6L614.6 76.2L614.7 76.9L614.8 77.5L615.0 78.2L615.1 78.8L615.2 79.5L615.3 80.1L615.4 80.8L615.5 81.5L615.6 82.2L615.7 82.8L615.8 83.5L615.9 84.2L616.0 84.9L616.1 85.5L616.2 86.2L616.3 86.8L616.4 87.5L616.5 88.1L616.6 88.8L616.7 89.4L616.8 90.0L616.9 90.6L617.0 91.2L617.1 91.8L617.2 92.4L617.3 93.0L617.3 93.6L617.4 94.2L617.5 94.8L617.6 95.5L617.7 96.1L617.8 96.7L617.8 97.3L617.9 97.9L618.0 98.5L618.1 99.1L618.2 99.7L618.2 100.3L618.3 100.9L618.4 101.5L618.5 102.1L618.5 102.7L618.6 103.3L618.7 103.9L618.8 104.5L618.9 105.2L618.9 105.8L619.0 106.4L619.1 107.0L619.2 107.6L619.3 108.2L619.3 108.8L619.4 109.4L619.5 110.0L619.6 110.6L619.7 111.2L619.7 111.8L619.8 112.3L619.9 112.9L620.0 113.4L620.1 114.0L620.2 114.5L620.2 115.0L620.3 115.6L620.4 116.1L620.5 116.6L620.6 117.2L620.7 117.7L620.7 118.2L620.8 118.8L620.9 119.3L621.0 119.9L621.1 120.5L621.2 121.0L621.2 121.6L621.3 122.2L621.4 122.8L621.5 123.5L621.6 124.1L621.7 124.8L621.8 125.5L621.8 126.2L621.9 126.9L622.0 127.6L622.1 128.4L622.2 129.2L622.3 130.0L622.4 130.5L622.4 131.0L622.5 131.5L622.5 132.0L622.6 132.5L622.6 133.0L622.7 133.5L622.7 134.1L622.8 134.6L622.9 135.1L622.9 135.7L623.0 136.3L623.0 136.8L623.1 137.4L623.1 138.0L623.2 138.6L623.3 139.2L623.3 139.8L623.4 140.4L623.4 141.0L623.5 141.6L623.6 142.2L623.6 142.8L623.7 143.4L623.7 144.0L623.8 144.7L623.9 145.3L623.9 145.9L624.0 146.6L624.0 147.2L624.1 147.8L624.2 148.5L624.2 149.1L624.3 149.8L624.3 150.4L624.4 151.1L624.5 151.7L624.5 152.3L624.6 153.0L624.6 153.6L624.7 154.3L624.7 154.9L624.8 155.6L624.9 156.2L624.9 156.9L625.0 157.5L625.0 158.1L625.1 158.8L625.1 159.4L625.2 160.0L625.2 160.7L625.3 161.3L625.3 161.9L625.4 162.6L625.5 163.2L625.5 163.8L625.6 164.4L625.6 165.0L625.6 165.6L625.7 166.2L625.7 166.8L625.8 167.4L625.8 168.0L625.9 168.6L625.9 169.2L626.0 169.8L626.0 170.4L626.1 171.0L626.1 171.6L626.1 172.2L626.2 172.8L626.2 173.4L626.3 174.1L626.3 174.7L626.3 175.3L626.4 175.9L626.4 176.5L626.5 177.1L626.5 177.7L626.5 178.3L626.6 178.9L626.6 179.5L626.7 180.1L626.7 180.7L626.7 181.3L626.8 181.9L626.8 182.5L626.8 183.1L626.9 183.7L626.9 184.3L627.0 184.9L627.0 185.5L627.0 186.1L627.1 186.7L627.1 187.3L627.1 187.9L627.2 188.5L627.2 189.1L627.2 189.7L627.3 190.3L627.3 190.9L627.4 191.6L627.4 192.2L627.4 192.8L627.5 193.4L627.5 194.0L627.5 194.6L627.6 195.2L627.6 195.8L627.7 196.4L627.7 197.0L627.7 197.6L627.8 198.2L627.8 198.8L627.9 199.4L627.9 200.0L627.9 200.6L628.0 201.2L628.0 201.8L628.1 202.4L628.1 203.0L628.1 203.6L628.2 204.2L628.2 204.8L628.3 205.4L628.3 206.0L628.3 206.6L628.4 207.2L628.4 207.8L628.5 208.4L628.5 209.1L628.6 209.7L628.6 210.3L628.6 210.9L628.7 211.5L628.7 212.1L628.8 212.7L628.8 213.3L628.8 213.9L628.9 214.5L628.9 215.1L629.0 215.7L629.0 216.3L629.0 216.9L629.1 217.5L629.1 218.1L629.2 218.7L629.2 219.3L629.3 219.9L629.3 220.5L629.3 221.1L629.4 221.7L629.4 222.3L629.5 222.9L629.5 223.5L629.5 224.1L629.6 224.7L629.6 225.3L629.7 225.9L629.7 226.6L629.8 227.2L629.8 227.8L629.8 228.4L629.9 229.0L629.9 229.6L630.0 230.2L630.0 230.8L630.0 231.4L630.1 232.0L630.1 232.6L630.2 233.2L630.2 233.8L630.3 234.4L630.3 235.0L630.3 235.6L630.4 236.2L630.4 236.8L630.5 237.4L630.5 238.0L630.6 238.6L630.6 239.2L630.6 239.8L630.7 240.4L630.7 241.0L630.8 241.6L630.8 242.2L630.9 242.8L630.9 243.4L630.9 244.0L631.0 244.6L631.0 245.2L631.1 245.8L631.1 246.4L631.2 247.0L631.2 247.6L631.3 248.2L631.3 248.8L631.3 249.4L631.4 250.0L631.4 250.6L631.5 251.2L631.5 251.8L631.6 252.4L631.6 253.0L631.7 253.6L631.7 254.2L631.7 254.8L631.8 255.4L631.8 256.0L631.9 256.6L631.9 257.2L632.0 257.8L632.0 258.4L632.0 259.0L632.1 259.6L632.1 260.2L632.2 260.8L632.2 261.4L632.3 262.0L632.3 262.6L632.3 263.2L632.4 263.8L632.4 264.4L632.5 265.1L632.5 265.7L632.6 266.3L632.6 266.9L632.6 267.5L632.7 268.1L632.7 268.8L632.8 269.4L632.8 270.0L632.8 270.6L632.9 271.2L632.9 271.7L632.9 272.3L633.0 272.9L633.0 273.5L633.1 274.1L633.1 274.7L633.1 275.3L633.2 275.9L633.2 276.4L633.2 277.0L633.3 277.6L633.3 278.2L633.3 278.8L633.4 279.4L633.4 280.0L633.4 280.6L633.5 281.2L633.5 281.8L633.5 282.4L633.6 283.0L633.6 283.6L633.7 284.2L633.7 284.7L633.7 285.3L633.8 285.9L633.8 286.5L633.8 287.1L633.9 287.7L633.9 288.3L633.9 288.9L634.0 289.5L634.0 290.1L634.0 290.8L634.1 291.4L634.1 292.0L634.1 292.6L634.2 293.2L634.2 293.8L634.2 294.4L634.3 295.0L634.3 295.6L634.3 296.2L634.4 296.8L634.4 297.4L634.4 298.0L634.5 298.6L634.5 299.2L634.5 299.8L634.6 300.5L634.6 301.1L634.7 301.7L634.7 302.3L634.7 302.9L634.8 303.5L634.8 304.1L634.8 304.7L634.9 305.4L634.9 306.0L635.0 306.6L635.0 307.2L635.0 307.8L635.1 308.4L635.1 309.0L635.2 309.6L635.2 310.2L635.2 310.8L635.3 311.4L635.3 312.0L635.4 312.6L635.4 313.2L635.4 313.8L635.5 314.5L635.5 315.1L635.6 315.7L635.6 316.3L635.6 317.0L635.7 317.6L635.7 318.2L635.8 318.8L635.8 319.5L635.8 320.1L635.9 320.7L635.9 321.4L636.0 322.0L636.0 322.6L636.1 323.3L636.1 323.9L636.1 324.5L636.2 325.1L636.2 325.8L636.3 326.4L636.3 327.0L636.4 327.7L636.4 328.3L636.5 328.9L636.5 329.5L636.5 330.2L636.6 330.8L636.6 331.4L636.7 332.0L636.7 332.6L636.8 333.2L636.8 333.8L636.8 334.4L636.9 335.0L636.9 335.6L637.0 336.2L637.0 336.8L637.1 337.4L637.1 338.0L637.1 338.6L637.2 339.2L637.2 339.8L637.3 340.3L637.3 340.9L637.3 341.5L637.4 342.0L637.4 342.6L637.5 343.1L637.5 343.7L637.5 344.2L637.6 344.7L637.6 345.3L637.7 345.8L637.7 346.3L637.8 347.0L637.8 347.7L637.9 348.4L637.9 349.1L638.0 349.8L638.0 350.5L638.1 351.1L638.1 351.8L638.2 352.4L638.2 353.0L638.3 353.6L638.3 354.3L638.3 354.9L638.4 355.5L638.4 356.1L638.5 356.6L638.5 357.2L638.6 357.8L638.6 358.4L638.7 359.0L638.7 359.5L638.8 360.1L638.8 360.7L638.9 361.2L638.9 361.8L638.9 362.3L639.0 362.9L639.0 363.5L639.1 364.0L639.1 364.6L639.2 365.1L639.2 365.7L639.3 366.3L639.3 366.8L639.4 367.4L639.4 368.0L639.5 368.5L639.5 369.1L639.6 369.7L639.6 370.3L639.7 370.9L639.8 371.5L639.8 372.1L639.9 372.7L639.9 373.4L640.0 374.0L640.1 374.6L640.1 375.2L640.2 375.7L640.2 376.3L640.3 376.9L640.3 377.5L640.4 378.0L640.5 378.6L640.5 379.2L640.6 379.8L640.6 380.3L640.7 380.9L640.8 381.5L640.8 382.1L640.9 382.7L640.9 383.3L641.0 383.8L641.1 384.4L641.1 385.0L641.2 385.6L641.3 386.2L641.3 386.8L641.4 387.4L641.5 388.0L641.5 388.6L641.6 389.2L641.7 389.8L641.7 390.4L641.8 391.0L641.9 391.6L641.9 392.2L642.0 392.8L642.1 393.4L642.1 394.1L642.2 394.7L642.3 395.3L642.3 395.9L642.4 396.6L642.5 397.2L642.6 397.8L642.6 398.5L642.7 399.1L642.8 399.7L642.9 400.4L642.9 401.0L643.0 401.7L643.1 402.3L643.2 403.0L643.2 403.7L643.3 404.3L643.4 405.0L643.5 405.5L643.5 406.1L643.6 406.7L643.7 407.2L643.7 407.8L643.8 408.4L643.9 408.9L643.9 409.5L644.0 410.1L644.1 410.7L644.1 411.3L644.2 411.9L644.3 412.5L644.4 413.1L644.4 413.7L644.5 414.3L644.6 414.9L644.7 415.6L644.7 416.2L644.8 416.8L644.9 417.4L645.0 418.0L645.0 418.7L645.1 419.3L645.2 419.9L645.3 420.6L645.4 421.2L645.4 421.8L645.5 422.4L645.6 423.1L645.7 423.7L645.7 424.3L645.8 425.0L645.9 425.6L646.0 426.2L646.1 426.9L646.1 427.5L646.2 428.1L646.3 428.7L646.4 429.3L646.4 430.0L646.5 430.6L646.6 431.2L646.7 431.8L646.7 432.4L646.8 433.0L646.9 433.6L647.0 434.2L647.0 434.8L647.1 435.4L647.2 436.0L647.3 436.6L647.3 437.1L647.4 437.7L647.5 438.3L647.5 438.8L647.6 439.4L647.7 439.9L647.7 440.5L647.8 441.0L647.9 441.6L647.9 442.1L648.0 442.6L648.1 443.3L648.2 444.0L648.3 444.8L648.3 445.5L648.4 446.2L648.5 446.9L648.6 447.6L648.7 448.3L648.7 449.0L648.8 449.7L648.9 450.4L649.0 451.1L649.1 451.7L649.1 452.4L649.2 453.1L649.3 453.7L649.4 454.4L649.4 455.1L649.5 455.7L649.6 456.3L649.6 457.0L649.7 457.6L649.8 458.2L649.8 458.9L649.9 459.5L650.0 460.1L650.1 460.7L650.1 461.3L650.2 461.8L650.3 462.4L650.3 463.0L650.4 463.5L650.5 464.1L650.5 464.6L650.6 465.2L650.7 465.7L650.7 466.2L650.8 466.7L650.9 467.2L650.9 467.7L651.0 468.2L651.1 468.7L651.2 469.1L651.2 469.6L651.3 470.0L651.5 471.0L651.6 471.9L651.8 472.7L651.9 473.5L652.1 474.2L652.2 474.8L652.4 475.4L652.5 476.0L652.7 476.5L652.8 477.0L653.0 477.5L653.2 477.9L653.3 478.4L653.5 478.9L653.7 479.4L653.8 479.9L654.0 480.4L654.2 480.9L654.4 481.5L654.6 482.1L654.8 482.7L655.0 483.3L655.2 483.9L655.4 484.5L655.7 485.1L655.9 485.7L656.1 486.3L656.4 486.9L656.6 487.5L656.8 488.1L657.1 488.7L657.3 489.3L657.6 489.8L657.8 490.4L658.1 490.9L658.3 491.5L658.5 492.0L658.8 492.5L659.0 493.0L659.3 493.7L659.7 494.3L660.0 495.0L660.3 495.6L660.6 496.2L661.0 496.8L661.3 497.3L661.6 497.9L662.0 498.4L662.3 498.9L662.6 499.3L662.9 499.8L663.3 500.2L663.6 500.6L664.1 501.1L664.6 501.6L665.1 502.0L665.5 502.3L666.0 502.6L666.5 502.9L667.1 503.1L667.6 503.4L668.2 503.7L668.7 504.0L669.3 504.2L670.0 504.5L670.7 504.8L671.3 505.0L672.0 505.3L672.7 505.5L673.3 505.7L673.8 505.9L674.3 506.1L674.6 506.2" fill="none" stroke="#333" stroke-width="2" stroke-linejoin="round"/>
<path d="M118.0 330.7L118.4 330.6L118.9 330.5L119.5 330.3L120.2 330.2L120.9 330.0L121.6 329.8L122.3 329.5L123.0 329.3L123.5 329.1L124.1 328.8L124.6 328.6L125.2 328.3L125.7 328.1L126.3 327.8L126.8 327.5L127.4 327.1L127.9 326.8L128.4 326.5L128.9 326.1L129.4 325.8L129.9 325.4L130.5 325.0L131.0 324.6L131.5 324.2L132.0 323.8L132.4 323.3L132.9 322.8L133.3 322.4L133.6 321.9L134.0 321.5L134.3 321.0L134.6 320.5L135.0 320.0L135.3 319.5L135.6 319.0L135.9 318.5L136.2 317.9L136.6 317.4L136.9 316.8L137.2 316.3L137.5 315.8L137.8 315.3L138.0 314.7L138.3 314.2L138.6 313.6L138.9 313.0L139.2 312.5L139.5 311.9L139.8 311.3L140.0 310.7L140.3 310.1L140.6 309.5L140.9 308.9L141.2 308.4L141.4 307.8L141.7 307.3L141.9 306.7L142.2 306.2L142.4 305.6L142.7 305.1L142.9 304.5L143.2 304.0L143.4 303.4L143.7 302.8L143.9 302.2L144.2 301.7L144.4 301.1L144.7 300.5L144.9 299.9L145.1 299.3L145.3 298.8L145.5 298.2L145.8 297.6L146.0 297.1L146.2 296.5L146.4 295.9L146.6 295.3L146.8 294.7L147.0 294.1L147.2 293.5L147.4 292.9L147.6 292.4L147.8 291.8L147.9 291.2L148.1 290.6L148.3 290.0L148.5 289.4L148.6 288.9L148.7 288.5L148.8 288.0L148.9 287.6L149.0 287.2L149.1 286.8L149.2 286.4L149.3 285.9L149.5 285.4L149.6 284.9L149.7 284.3L149.9 283.6L150.1 282.9L150.3 282.0L150.5 281.1L150.8 280.0L150.9 279.6L151.0 279.2L151.1 278.7L151.3 278.3L151.4 277.8L151.5 277.3L151.7 276.8L151.8 276.2L152.0 275.7L152.1 275.1L152.3 274.6L152.4 274.0L152.6 273.4L152.7 272.8L152.9 272.2L153.1 271.6L153.2 271.0L153.4 270.3L153.6 269.7L153.8 269.0L153.9 268.4L154.1 267.7L154.3 267.1L154.5 266.4L154.6 265.8L154.8 265.1L155.0 264.4L155.2 263.8L155.4 263.1L155.5 262.5L155.7 261.8L155.9 261.1L156.1 260.5L156.2 259.9L156.4 259.2L156.6 258.6L156.8 258.0L156.9 257.3L157.1 256.7L157.2 256.1L157.4 255.6L157.6 255.0L157.7 254.4L157.9 253.9L158.0 253.3L158.1 252.8L158.3 252.3L158.4 251.8L158.6 251.1L158.8 250.3L159.0 249.6L159.1 248.9L159.3 248.2L159.5 247.5L159.7 246.8L159.8 246.2L160.0 245.5L160.1 244.9L160.3 244.2L160.4 243.6L160.6 243.0L160.7 242.4L160.9 241.8L161.0 241.2L161.1 240.6L161.3 240.0L161.4 239.5L161.5 238.9L161.7 238.4L161.8 237.8L161.9 237.3L162.1 236.8L162.2 236.3L162.3 235.8L162.5 235.3L162.6 234.8L162.7 234.3L162.9 233.9L163.0 233.4L163.2 232.6L163.5 231.9L163.7 231.1L163.9 230.5L164.1 229.8L164.4 229.1L164.6 228.5L164.8 227.9L165.0 227.4L165.2 226.8L165.4 226.3L165.6 225.8L165.9 225.3L166.1 224.9L166.3 224.4L166.5 224.0L166.8 223.6L167.0 223.2L167.5 222.5L168.0 221.8L168.5 221.3L169.0 220.8L169.6 220.4L170.1 220.0L170.6 219.8L171.2 219.7L171.7 219.6L172.2 219.6L172.7 219.8L173.2 220.0L173.8 220.2L174.3 220.6L174.8 221.1L175.3 221.6L175.8 222.3L176.3 223.0L176.6 223.4L176.8 223.8L177.1 224.2L177.3 224.7L177.6 225.2L177.8 225.7L178.1 226.2L178.4 226.7L178.6 227.3L178.9 227.8L179.1 228.5L179.4 229.1L179.7 229.7L179.9 230.4L180.2 231.1L180.4 231.9L180.7 232.6L180.9 233.4L181.0 233.9L181.2 234.3L181.3 234.8L181.4 235.3L181.6 235.8L181.7 236.3L181.8 236.8L181.9 237.3L182.0 237.9L182.2 238.4L182.3 238.9L182.4 239.5L182.5 240.1L182.6 240.6L182.7 241.2L182.9 241.8L183.0 242.4L183.1 243.0L183.2 243.6L183.4 244.2L183.5 244.9L183.6 245.5L183.8 246.2L183.9 246.8L184.1 247.5L184.2 248.2L184.4 248.9L184.6 249.6L184.7 250.3L184.9 251.1L185.1 251.8L185.2 252.3L185.4 252.8L185.5 253.3L185.6 253.9L185.8 254.4L185.9 255.0L186.1 255.5L186.2 256.1L186.4 256.7L186.6 257.3L186.7 257.9L186.9 258.5L187.1 259.2L187.2 259.8L187.4 260.4L187.6 261.1L187.8 261.7L187.9 262.4L188.1 263.0L188.3 263.7L188.5 264.3L188.7 265.0L188.8 265.6L189.0 266.3L189.2 266.9L189.4 267.6L189.6 268.2L189.8 268.9L189.9 269.5L190.1 270.2L190.3 270.8L190.5 271.4L190.6 272.0L190.8 272.6L191.0 273.2L191.2 273.8L191.3 274.4L191.5 275.0L191.6 275.6L191.8 276.1L191.9 276.6L192.1 277.2L192.2 277.7L192.4 278.2L192.5 278.7L192.7 279.1L192.8 279.6L192.9 280.0L193.2 280.9L193.4 281.8L193.6 282.6L193.9 283.3L194.1 284.0L194.3 284.7L194.4 285.3L194.6 285.9L194.8 286.4L194.9 286.9L195.1 287.4L195.2 287.9L195.4 288.3L195.5 288.8L195.7 289.3L195.8 289.7L196.0 290.2L196.1 290.7L196.3 291.2L196.4 291.7L196.6 292.3L196.8 292.9L197.0 293.5L197.1 294.0L197.3 294.6L197.5 295.2L197.7 295.8L197.8 296.4L198.0 297.0L198.2 297.5L198.4 298.1L198.5 298.7L198.7 299.3L198.9 299.8L199.1 300.4L199.3 301.0L199.4 301.6L199.6 302.2L199.8 302.8L200.0 303.3L200.1 303.9L200.3 304.5L200.5 305.1L200.6 305.7L200.8 306.3L201.0 306.8L201.1 307.4L201.3 308.0L201.5 308.6L201.6 309.2L201.8 309.8L202.0 310.4L202.1 310.9L202.3 311.5L202.5 312.1L202.7 312.7L202.8 313.3L203.0 313.9L203.2 314.5L203.3 315.0L203.5 315.6L203.7 316.2L203.9 316.8L204.1 317.4L204.3 318.0L204.5 318.6L204.7 319.2L204.8 319.8L205.0 320.4L205.2 321.0L205.4 321.6L205.6 322.2L205.8 322.8L206.0 323.4L206.2 323.9L206.4 324.5L206.7 325.1L206.9 325.7L207.1 326.3L207.3 326.8L207.5 327.4L207.7 327.9L208.0 328.5L208.2 329.0L208.5 329.6L208.8 330.2L209.0 330.8L209.3 331.4L209.6 332.0L209.9 332.5L210.2 333.1L210.5 333.7L210.8 334.2L211.1 334.7L211.5 335.3L211.8 335.8L212.1 336.3L212.4 336.8L212.7 337.3L213.1 337.8L213.4 338.3L213.7 338.8L214.1 339.3L214.4 339.9L214.8 340.4L215.2 340.9L215.5 341.4L215.9 341.9L216.3 342.4L216.7 342.9L217.1 343.3L217.5 343.8L217.9 344.2L218.3 344.7L218.7 345.1L219.1 345.5L219.5 345.8L219.9 346.2L220.4 346.6L221.0 347.0L221.6 347.4L222.1 347.7L222.7 348.0L223.3 348.3L223.9 348.6L224.5 348.9L225.1 349.1L225.7 349.3L226.2 349.5L226.7 349.7L227.2 349.9L227.9 350.1L228.6 350.3L229.2 350.4L229.8 350.4L230.3 350.4L230.9 350.4L231.4 350.4L232.0 350.3L232.6 350.2L233.3 350.1L233.8 349.9L234.5 349.7L235.1 349.5L235.8 349.2L236.5 348.8L237.0 348.6L237.5 348.3L238.0 348.0L238.5 347.7L239.0 347.4L239.5 347.1L240.1 346.7L240.7 346.4L241.2 346.0L241.8 345.6L242.3 345.2L242.9 344.8L243.3 344.5L243.8 344.1L244.3 343.8L244.7 343.4L245.2 343.0L245.7 342.7L246.2 342.3L246.6 341.9L247.1 341.5L247.6 341.1L248.0 340.7L248.5 340.3L248.9 339.8L249.4 339.4L249.8 339.0L250.2 338.5L250.7 338.1L251.1 337.6L251.5 337.1L251.9 336.6L252.3 336.1L252.7 335.6L253.1 335.1L253.5 334.6L253.9 334.1L254.2 333.6L254.6 333.1L255.0 332.6L255.3 332.1L255.7 331.6L256.0 331.0L256.4 330.5L256.7 330.0L257.0 329.5L257.3 329.0L257.6 328.4L257.9 327.9L258.2 327.4L258.5 326.8L258.8 326.3L259.1 325.8L259.4 325.2L259.7 324.6L260.0 324.0L260.3 323.5L260.6 322.8L260.9 322.2L261.1 321.6L261.4 321.0L261.7 320.4L261.9 319.8L262.2 319.2L262.4 318.7L262.7 318.1L262.9 317.6L263.2 316.9L263.4 316.4L263.6 315.9L263.8 315.4L264.0 314.9L264.2 314.3L264.4 313.7L264.7 313.0L265.0 312.1L265.2 311.7L265.3 311.3L265.5 310.9L265.7 310.5L265.9 310.1L266.0 309.6L266.2 309.2L266.4 308.8L266.6 308.3L266.8 307.8L267.0 307.3L267.3 306.8L267.5 306.2L267.7 305.6L268.0 305.0L268.2 304.3L268.5 303.5L268.8 302.7L269.1 301.9L269.4 301.0L269.7 300.0L269.8 299.6L270.0 299.2L270.1 298.7L270.2 298.3L270.4 297.8L270.5 297.3L270.7 296.8L270.8 296.3L271.0 295.8L271.2 295.3L271.3 294.8L271.5 294.2L271.6 293.7L271.8 293.1L272.0 292.5L272.2 292.0L272.3 291.4L272.5 290.8L272.7 290.2L272.9 289.6L273.0 289.0L273.2 288.4L273.4 287.7L273.6 287.1L273.8 286.5L273.9 285.9L274.1 285.2L274.3 284.6L274.5 284.0L274.7 283.3L274.8 282.7L275.0 282.1L275.2 281.4L275.4 280.8L275.6 280.2L275.8 279.5L275.9 278.9L276.1 278.3L276.3 277.6L276.5 277.0L276.6 276.4L276.8 275.8L277.0 275.2L277.1 274.6L277.3 274.0L277.5 273.4L277.6 272.8L277.8 272.2L277.9 271.7L278.1 271.1L278.3 270.5L278.4 270.0L278.6 269.4L278.7 268.7L278.9 268.1L279.1 267.4L279.3 266.8L279.4 266.1L279.6 265.4L279.8 264.8L279.9 264.1L280.1 263.5L280.3 262.8L280.4 262.1L280.6 261.5L280.8 260.8L280.9 260.1L281.1 259.5L281.3 258.8L281.4 258.2L281.6 257.5L281.7 256.9L281.9 256.2L282.0 255.6L282.2 255.0L282.4 254.4L282.5 253.7L282.6 253.1L282.8 252.5L282.9 251.9L283.1 251.4L283.2 250.8L283.4 250.2L283.5 249.7L283.6 249.1L283.8 248.6L283.9 248.1L284.0 247.6L284.1 247.1L284.2 246.6L284.4 246.1L284.5 245.7L284.6 245.2L284.7 244.8L284.8 244.4L284.9 244.0L285.2 242.8L285.5 241.8L285.7 241.0L285.9 240.3L286.1 239.7L286.2 239.2L286.4 238.8L286.5 238.4L286.6 238.1L286.7 237.7L286.9 237.3L287.0 236.8L287.2 236.3L287.4 235.7L287.6 235.1L287.8 234.5L288.0 234.0L288.2 233.4L288.4 232.8L288.6 232.2L288.8 231.6L289.0 231.0L289.2 230.5L289.5 229.9L289.7 229.3L289.9 228.7L290.1 228.1L290.3 227.5L290.6 226.9L290.8 226.3L291.0 225.7L291.3 225.1L291.5 224.5L291.7 223.9L292.0 223.3L292.2 222.7L292.5 222.1L292.7 221.6L293.0 221.0L293.3 220.4L293.5 219.9L293.8 219.3L294.1 218.7L294.4 218.1L294.7 217.5L295.0 217.0L295.2 216.4L295.5 215.9L295.9 215.4L296.2 214.9L296.5 214.5L296.8 214.1L297.3 213.6L297.8 213.1L298.3 212.6L298.8 212.2L299.3 211.8L299.8 211.5L300.4 211.3L300.9 211.1L301.4 211.0L302.0 211.0L302.6 211.2L303.2 211.4L303.8 211.8L304.3 212.1L304.9 212.5L305.5 212.9L306.0 213.3L306.5 213.6L307.0 214.0L307.5 214.3L308.0 214.7L308.5 215.1L308.9 215.5L309.4 215.9L309.8 216.4L310.2 216.8L310.6 217.3L310.9 217.8L311.3 218.3L311.6 218.8L312.0 219.3L312.3 219.8L312.6 220.4L312.9 221.0L313.2 221.5L313.4 222.1L313.6 222.7L313.9 223.3L314.1 223.9L314.3 224.5L314.5 225.2L314.8 225.8L315.0 226.5L315.2 227.1L315.4 227.6L315.6 228.2L315.8 228.7L316.0 229.3L316.2 229.8L316.4 230.4L316.5 231.0L316.7 231.6L316.9 232.2L317.1 232.8L317.3 233.4L317.5 234.0L317.7 234.5L317.8 235.0L318.0 235.5L318.1 236.0L318.3 236.5L318.4 237.0L318.6 237.5L318.8 238.1L318.9 238.7L319.1 239.3L319.3 240.0L319.4 240.7L319.6 241.5L319.8 242.4L319.9 242.9L320.0 243.3L320.1 243.8L320.2 244.3L320.3 244.9L320.4 245.4L320.5 246.0L320.6 246.5L320.7 247.1L320.8 247.7L320.9 248.3L321.0 248.9L321.1 249.5L321.3 250.2L321.4 250.8L321.5 251.4L321.6 252.1L321.7 252.7L321.8 253.4L321.9 254.1L322.0 254.7L322.1 255.4L322.3 256.0L322.4 256.7L322.5 257.4L322.6 258.0L322.7 258.7L322.8 259.3L322.9 260.0L323.0 260.6L323.1 261.1L323.2 261.7L323.3 262.3L323.4 262.9L323.4 263.5L323.5 264.1L323.6 264.7L323.7 265.3L323.8 265.9L323.9 266.5L324.0 267.1L324.1 267.7L324.2 268.3L324.2 268.9L324.3 269.5L324.4 270.2L324.5 270.8L324.6 271.4L324.7 272.0L324.8 272.6L324.9 273.2L325.0 273.9L325.1 274.5L325.1 275.1L325.2 275.7L325.3 276.3L325.4 276.9L325.5 277.6L325.6 278.2L325.7 278.8L325.8 279.4L325.9 280.0L326.0 280.6L326.1 281.2L326.2 281.8L326.3 282.4L326.4 283.0L326.5 283.6L326.6 284.2L326.7 284.7L326.8 285.3L326.9 285.9L327.0 286.5L327.1 287.1L327.2 287.6L327.3 288.2L327.4 288.8L327.5 289.4L327.6 290.0L327.7 290.6L327.8 291.2L327.9 291.8L328.0 292.4L328.1 293.0L328.2 293.6L328.3 294.2L328.4 294.8L328.5 295.4L328.6 296.1L328.7 296.7L328.9 297.3L329.0 298.0L329.1 298.7L329.2 299.3L329.3 300.0L329.4 300.5L329.5 301.1L329.6 301.6L329.7 302.2L329.8 302.7L329.8 303.3L329.9 303.9L330.0 304.4L330.1 305.0L330.2 305.6L330.3 306.2L330.4 306.8L330.5 307.4L330.6 308.0L330.7 308.6L330.8 309.2L330.9 309.8L331.0 310.4L331.1 311.0L331.2 311.6L331.3 312.2L331.4 312.8L331.5 313.4L331.6 314.0L331.7 314.6L331.8 315.3L331.9 315.9L332.0 316.5L332.1 317.1L332.2 317.7L332.3 318.3L332.4 318.9L332.5 319.6L332.6 320.2L332.7 320.8L332.8 321.4L332.9 322.0L333.0 322.6L333.1 323.2L333.2 323.8L333.3 324.4L333.4 325.0L333.5 325.6L333.6 326.2L333.7 326.8L333.8 327.4L333.9 328.0L334.0 328.6L334.1 329.2L334.2 329.8L334.3 330.4L334.4 331.0L334.5 331.5L334.6 332.1L334.7 332.7L334.7 333.3L334.8 333.9L334.9 334.5L335.0 335.1L335.1 335.7L335.2 336.3L335.3 336.9L335.4 337.5L335.5 338.1L335.6 338.7L335.7 339.3L335.8 339.9L335.9 340.5L336.0 341.1L336.1 341.7L336.2 342.3L336.3 342.9L336.4 343.5L336.5 344.0L336.6 344.6L336.7 345.2L336.8 345.8L336.9 346.4L337.0 347.0L337.2 347.6L337.3 348.2L337.4 348.8L337.5 349.4L337.6 350.0L337.7 350.6L337.8 351.2L337.9 351.8L338.1 352.4L338.2 353.0L338.3 353.6L338.4 354.3L338.6 354.9L338.7 355.5L338.8 356.1L338.9 356.8L339.1 357.4L339.2 358.0L339.3 358.6L339.5 359.3L339.6 359.9L339.7 360.5L339.9 361.1L340.0 361.8L340.1 362.4L340.2 363.0L340.4 363.6L340.5 364.2L340.7 364.8L340.8 365.5L340.9 366.1L341.1 366.7L341.2 367.3L341.3 367.9L341.5 368.4L341.6 369.0L341.7 369.6L341.8 370.2L342.0 370.7L342.1 371.3L342.2 371.8L342.4 372.4L342.5 372.9L342.6 373.5L342.8 374.0L342.9 374.5L343.0 375.0L343.2 375.7L343.4 376.4L343.5 377.1L343.7 377.8L343.9 378.5L344.1 379.2L344.2 379.8L344.4 380.5L344.6 381.1L344.8 381.8L344.9 382.4L345.1 383.0L345.3 383.6L345.5 384.2L345.6 384.8L345.8 385.4L346.0 386.0L346.1 386.5L346.3 387.1L346.5 387.6L346.6 388.1L346.8 388.7L347.0 389.2L347.2 389.7L347.3 390.2L347.5 390.6L347.7 391.1L347.8 391.6L348.0 392.0L348.3 392.8L348.6 393.5L348.9 394.2L349.2 394.8L349.5 395.4L349.8 395.9L350.1 396.4L350.3 396.9L350.6 397.4L350.9 397.9L351.2 398.3L351.5 398.8L351.8 399.2L352.1 399.6L352.5 400.1L352.8 400.5L353.2 401.0L353.6 401.5L354.0 402.0L354.4 402.5L354.8 402.9L355.2 403.4L355.7 403.8L356.1 404.2L356.5 404.6L357.0 405.0L357.4 405.4L357.8 405.8L358.3 406.2L358.7 406.5L359.2 406.9L359.7 407.2L360.2 407.5L360.7 407.8L361.2 408.1L361.7 408.4L362.2 408.6L362.8 408.9L363.3 409.2L363.9 409.4L364.4 409.7L365.0 410.0L365.5 410.3L366.0 410.5L366.5 410.8L367.0 411.1L367.5 411.4L368.1 411.7L368.6 411.9L369.2 412.2L369.7 412.5L370.3 412.8L370.9 413.1L371.5 413.4L372.1 413.6L372.8 413.9L373.3 414.1L373.8 414.3L374.4 414.5L375.0 414.7L375.5 414.9L376.1 415.1L376.7 415.4L377.3 415.6L378.0 415.8L378.6 416.0L379.2 416.2L379.8 416.4L380.4 416.6L381.0 416.7L381.6 416.9L382.2 417.1L382.7 417.2L383.3 417.4L383.8 417.5L384.5 417.7L385.2 417.8L385.9 417.9L386.6 418.0L387.3 418.1L387.9 418.2L388.5 418.2L389.1 418.3L389.7 418.3L390.3 418.3L390.9 418.4L391.4 418.4L392.0 418.5L392.7 418.6L393.3 418.7L393.9 418.7L394.5 418.8L395.1 418.9L395.6 418.9L396.2 419.0L396.8 419.1L397.4 419.1L398.0 419.2L398.6 419.3L399.2 419.3L399.9 419.4L400.6 419.5L401.3 419.6L401.9 419.7L402.6 419.7L403.2 419.8L403.8 419.9L404.4 419.9L404.9 420.0L405.8 420.1L406.5 420.2L407.1 420.3L407.7 420.4L408.3 420.3L408.9 420.2L409.4 420.1L410.0 419.9L410.6 419.7L411.2 419.4L411.8 419.0L412.3 418.7L412.8 418.3L413.3 417.9L413.8 417.5L414.4 417.1L414.9 416.6L415.4 416.0L415.9 415.5L416.3 415.0L416.7 414.5L417.0 414.0L417.4 413.5L417.7 412.9L418.1 412.3L418.4 411.8L418.8 411.2L419.1 410.6L419.4 410.0L419.7 409.5L419.9 408.9L420.2 408.3L420.4 407.8L420.7 407.2L420.9 406.6L421.1 406.0L421.4 405.5L421.6 404.9L421.9 404.3L422.1 403.8L422.4 403.2L422.7 402.7L422.9 402.1L423.2 401.6L423.5 401.1L423.8 400.5L424.1 400.0L424.3 399.4L424.6 398.9L424.9 398.3L425.2 397.8L425.4 397.3L425.7 396.8L425.9 396.3L426.2 395.7L426.4 395.2L426.7 394.7L426.9 394.1L427.2 393.5L427.4 392.8L427.7 392.1L427.9 391.6L428.0 391.1L428.2 390.6L428.3 390.0L428.5 389.5L428.7 388.9L428.8 388.3L429.0 387.7L429.1 387.1L429.3 386.5L429.5 385.9L429.6 385.2L429.8 384.6L430.0 383.9L430.1 383.3L430.3 382.6L430.5 382.0L430.7 381.4L430.8 380.9L431.0 380.3L431.2 379.7L431.4 379.1L431.6 378.5L431.7 377.9L431.9 377.2L432.1 376.6L432.3 376.0L432.5 375.4L432.7 374.7L432.9 374.1L433.1 373.5L433.3 372.9L433.4 372.3L433.6 371.7L433.8 371.1L433.9 370.6L434.1 370.0L434.3 369.4L434.4 368.7L434.6 368.1L434.7 367.5L434.9 366.9L435.0 366.4L435.2 365.8L435.3 365.2L435.4 364.7L435.6 364.1L435.7 363.5L435.8 363.0L436.0 362.4L436.1 361.8L436.2 361.2L436.4 360.6L436.5 360.0L436.6 359.4L436.8 358.9L436.9 358.4L437.0 357.9L437.1 357.4L437.2 356.8L437.3 356.3L437.5 355.8L437.6 355.3L437.7 354.7L437.8 354.2L437.9 353.6L438.1 353.0L438.2 352.4L438.4 351.7L438.5 351.1L438.7 350.3L438.8 349.6L439.0 348.8L439.1 348.3L439.2 347.8L439.3 347.3L439.4 346.8L439.6 346.3L439.7 345.7L439.8 345.2L439.9 344.6L440.0 344.1L440.2 343.5L440.3 342.9L440.4 342.3L440.6 341.7L440.7 341.1L440.8 340.5L441.0 339.8L441.1 339.2L441.2 338.6L441.4 338.0L441.5 337.3L441.7 336.7L441.8 336.0L441.9 335.4L442.1 334.8L442.2 334.1L442.4 333.5L442.5 332.9L442.6 332.3L442.8 331.6L442.9 331.0L443.0 330.4L443.2 329.8L443.3 329.2L443.4 328.6L443.6 328.0L443.7 327.4L443.8 326.8L444.0 326.1L444.1 325.5L444.3 324.9L444.4 324.2L444.5 323.6L444.7 322.9L444.8 322.3L445.0 321.7L445.1 321.0L445.2 320.4L445.4 319.7L445.5 319.1L445.7 318.5L445.8 317.8L445.9 317.2L446.1 316.6L446.2 316.0L446.3 315.4L446.5 314.8L446.6 314.2L446.7 313.7L446.8 313.1L447.0 312.6L447.1 312.0L447.2 311.5L447.3 311.0L447.4 310.5L447.5 310.1L447.6 309.6L447.8 308.7L447.9 307.9L448.1 307.2L448.2 306.6L448.3 306.0L448.4 305.4L448.5 304.9L448.6 304.3L448.7 303.8L448.8 303.4L448.9 302.9L449.0 302.4L449.1 301.8L449.2 301.3L449.4 300.7L449.5 300.0L449.6 299.5L449.7 298.9L449.8 298.4L450.0 297.8L450.1 297.2L450.2 296.6L450.3 296.0L450.5 295.4L450.6 294.8L450.7 294.1L450.9 293.5L451.0 292.9L451.1 292.3L451.3 291.7L451.4 291.1L451.6 290.5L451.7 289.9L451.8 289.3L452.0 288.8L452.1 288.2L452.3 287.7L452.5 287.0L452.7 286.4L452.9 285.7L453.2 285.1L453.4 284.4L453.6 283.8L453.9 283.2L454.1 282.6L454.4 282.0L454.6 281.4L454.9 280.9L455.1 280.3L455.3 279.8L455.6 279.4L455.8 278.9L456.0 278.5L456.5 277.7L456.9 277.0L457.4 276.4L457.8 276.0L458.2 275.6L458.7 275.2L459.1 274.9L459.7 274.5L460.2 274.1L460.8 273.9L461.4 273.8L462.1 273.9L462.5 274.1L463.0 274.3L463.4 274.7L463.9 275.0L464.4 275.4L464.9 275.9L465.4 276.4L465.9 276.8L466.4 277.3L466.8 277.7L467.3 278.2L467.7 278.7L468.1 279.2L468.6 279.7L469.0 280.3L469.5 280.8L469.9 281.3L470.3 281.8L470.7 282.2L471.2 282.7L471.7 283.3L472.1 283.8L472.5 284.3L473.0 284.7L473.4 285.2L473.9 285.6L474.4 285.9L475.0 286.3L475.6 286.6L476.2 286.9L476.8 287.1L477.5 287.3L478.1 287.4L478.7 287.4L479.3 287.4L479.9 287.3L480.5 287.1L481.2 286.9L481.8 286.7L482.4 286.3L483.0 285.9L483.4 285.6L483.9 285.1L484.3 284.7L484.8 284.2L485.2 283.7L485.6 283.2L486.1 282.6L486.5 282.1L486.9 281.5L487.3 281.0L487.7 280.5L488.1 279.9L488.5 279.3L488.8 278.7L489.2 278.0L489.6 277.4L489.9 276.9L490.2 276.4L490.6 275.9L490.9 275.5L491.5 274.9L492.1 274.3L492.6 274.0L493.1 273.8L493.7 273.9L494.1 274.1L494.6 274.4L495.1 274.8L495.6 275.3L496.1 275.8L496.5 276.5L497.0 277.3L497.2 277.7L497.5 278.2L497.7 278.7L497.9 279.2L498.1 279.8L498.4 280.4L498.6 281.0L498.8 281.6L499.0 282.2L499.3 282.8L499.5 283.5L499.7 284.1L499.9 284.7L500.1 285.3L500.3 285.9L500.5 286.4L500.7 286.9L500.9 287.5L501.0 288.0L501.2 288.5L501.4 289.0L501.6 289.6L501.7 290.2L501.9 290.8L502.1 291.5L502.3 292.2L502.4 293.0L502.6 293.8L502.7 294.3L502.8 294.8L502.9 295.3L502.9 295.8L503.0 296.3L503.1 296.9L503.2 297.5L503.3 298.1L503.4 298.7L503.4 299.3L503.5 299.9L503.6 300.5L503.7 301.2L503.8 301.8L503.9 302.5L503.9 303.1L504.0 303.8L504.1 304.4L504.2 305.1L504.3 305.7L504.4 306.3L504.4 307.0L504.5 307.6L504.6 308.2L504.7 308.8L504.8 309.4L504.9 310.0L505.0 310.6L505.1 311.3L505.2 311.9L505.3 312.5L505.4 313.2L505.5 313.8L505.7 314.4L505.8 315.1L505.9 315.7L506.0 316.3L506.1 317.0L506.2 317.6L506.3 318.2L506.5 318.8L506.6 319.4L506.7 320.0L506.8 320.6L506.9 321.2L507.0 321.8L507.2 322.3L507.3 322.9L507.4 323.4L507.5 324.0L507.6 324.5L507.7 325.0L507.9 325.7L508.0 326.4L508.2 327.0L508.3 327.6L508.5 328.2L508.6 328.8L508.7 329.3L508.9 329.9L509.0 330.4L509.2 330.9L509.3 331.5L509.5 332.0L509.6 332.5L509.8 333.1L509.9 333.7L510.1 334.3L510.2 335.0L510.3 335.5L510.4 336.1L510.5 336.6L510.7 337.2L510.8 337.8L510.9 338.3L511.0 338.9L511.1 339.5L511.2 340.1L511.3 340.7L511.4 341.3L511.6 341.9L511.7 342.5L511.8 343.1L511.9 343.8L512.0 344.4L512.2 345.0L512.3 345.6L512.4 346.2L512.5 346.8L512.7 347.4L512.8 348.0L512.9 348.6L513.1 349.2L513.2 349.8L513.4 350.4L513.5 351.0L513.7 351.5L513.8 352.1L514.0 352.7L514.1 353.3L514.3 353.9L514.4 354.5L514.6 355.1L514.7 355.7L514.9 356.3L515.0 356.9L515.2 357.4L515.3 358.0L515.5 358.6L515.6 359.2L515.8 359.8L516.0 360.4L516.1 361.0L516.2 361.6L516.4 362.2L516.5 362.8L516.7 363.4L516.8 364.0L517.0 364.6L517.1 365.2L517.2 365.8L517.4 366.4L517.5 367.0L517.7 367.6L517.8 368.1L517.9 368.7L518.1 369.3L518.2 369.9L518.4 370.5L518.5 371.1L518.7 371.7L518.8 372.3L519.0 372.9L519.1 373.5L519.3 374.1L519.5 374.7L519.6 375.3L519.8 375.9L520.0 376.5L520.1 377.1L520.3 377.7L520.5 378.3L520.6 378.9L520.8 379.5L521.0 380.1L521.2 380.7L521.3 381.3L521.5 381.9L521.7 382.5L521.9 383.1L522.1 383.7L522.3 384.2L522.4 384.8L522.6 385.4L522.8 386.0L523.0 386.5L523.2 387.1L523.4 387.7L523.6 388.3L523.8 389.0L524.1 389.6L524.3 390.2L524.5 390.8L524.7 391.4L524.9 392.1L525.2 392.7L525.4 393.3L525.6 393.9L525.8 394.5L526.1 395.0L526.3 395.6L526.5 396.2L526.8 396.7L527.0 397.3L527.3 397.8L527.5 398.3L527.8 398.8L528.1 399.4L528.5 400.0L528.8 400.6L529.1 401.2L529.5 401.8L529.9 402.4L530.2 403.0L530.6 403.5L530.9 404.0L531.3 404.5L531.7 405.0L532.1 405.4L532.4 405.8L532.8 406.1L533.2 406.4L533.6 406.6L534.2 406.8L534.8 407.0L535.3 407.0L535.9 407.0L536.6 406.9L537.2 406.8L537.8 406.5L538.4 406.3L539.0 406.0L539.6 405.6L540.2 405.3L540.6 405.0L541.1 404.7L541.5 404.4L541.9 404.0L542.4 403.7L542.8 403.3L543.2 402.8L543.7 402.4L544.1 401.9L544.5 401.4L545.0 400.9L545.4 400.4L545.8 399.9L546.3 399.4L546.7 398.8L547.0 398.4L547.3 398.0L547.7 397.6L548.0 397.1L548.3 396.7L548.6 396.3L548.9 395.9L549.2 395.4L549.6 395.0L549.9 394.5L550.2 394.0L550.5 393.5L550.8 393.0L551.2 392.4L551.5 391.8L551.8 391.2L552.2 390.6L552.5 389.9L552.8 389.2L553.2 388.4L553.4 388.0L553.6 387.5L553.8 387.1L554.0 386.7L554.2 386.2L554.4 385.7L554.6 385.3L554.8 384.8L555.0 384.3L555.2 383.8L555.4 383.3L555.6 382.8L555.8 382.3L556.1 381.8L556.3 381.3L556.5 380.7L556.7 380.2L556.9 379.6L557.1 379.1L557.3 378.5L557.6 377.9L557.8 377.3L558.0 376.7L558.2 376.1L558.4 375.5L558.6 374.9L558.8 374.3L559.0 373.6L559.3 373.0L559.5 372.3L559.7 371.7L559.9 371.0L560.1 370.3L560.3 369.6L560.5 368.9L560.7 368.2L560.9 367.5L561.0 367.0L561.2 366.5L561.3 366.0L561.4 365.5L561.6 365.0L561.7 364.4L561.8 363.9L562.0 363.4L562.1 362.8L562.2 362.3L562.4 361.7L562.5 361.2L562.7 360.6L562.8 360.0L562.9 359.5L563.1 358.9L563.2 358.3L563.3 357.7L563.5 357.1L563.6 356.5L563.7 355.9L563.9 355.3L564.0 354.7L564.1 354.1L564.3 353.5L564.4 352.9L564.5 352.2L564.7 351.6L564.8 351.0L564.9 350.4L565.0 349.7L565.2 349.1L565.3 348.5L565.4 347.9L565.6 347.2L565.7 346.6L565.8 346.0L565.9 345.4L566.1 344.7L566.2 344.1L566.3 343.5L566.4 342.8L566.5 342.2L566.7 341.6L566.8 341.0L566.9 340.4L567.0 339.7L567.1 339.1L567.2 338.5L567.4 337.9L567.5 337.3L567.6 336.7L567.7 336.1L567.8 335.5L567.9 334.9L568.0 334.3L568.1 333.7L568.2 333.1L568.3 332.5L568.4 331.9L568.5 331.3L568.6 330.7L568.7 330.1L568.8 329.5L568.9 328.9L569.0 328.3L569.1 327.7L569.2 327.1L569.3 326.5L569.4 325.9L569.5 325.3L569.5 324.7L569.6 324.1L569.7 323.5L569.8 322.9L569.9 322.2L570.0 321.6L570.1 321.0L570.1 320.4L570.2 319.8L570.3 319.2L570.4 318.6L570.5 318.0L570.6 317.4L570.6 316.8L570.7 316.2L570.8 315.6L570.9 315.0L571.0 314.4L571.0 313.8L571.1 313.2L571.2 312.6L571.3 312.0L571.3 311.4L571.4 310.8L571.5 310.2L571.6 309.6L571.6 309.0L571.7 308.4L571.8 307.8L571.9 307.2L572.0 306.6L572.0 306.0L572.1 305.4L572.2 304.8L572.3 304.2L572.3 303.6L572.4 303.0L572.5 302.4L572.6 301.8L572.7 301.2L572.7 300.6L572.8 300.0L572.9 299.4L573.0 298.8L573.0 298.3L573.1 297.7L573.2 297.1L573.2 296.5L573.3 295.9L573.4 295.4L573.5 294.8L573.5 294.2L573.6 293.6L573.7 293.1L573.7 292.5L573.8 291.9L573.9 291.3L573.9 290.8L574.0 290.2L574.1 289.6L574.1 289.0L574.2 288.5L574.3 287.9L574.3 287.3L574.4 286.7L574.5 286.2L574.5 285.6L574.6 285.0L574.7 284.4L574.7 283.8L574.8 283.2L574.9 282.6L575.0 282.0L575.0 281.4L575.1 280.8L575.2 280.2L575.2 279.6L575.3 279.0L575.4 278.4L575.5 277.8L575.5 277.2L575.6 276.5L575.7 275.9L575.8 275.3L575.8 274.6L575.9 274.0L576.0 273.3L576.1 272.7L576.1 272.0L576.2 271.3L576.3 270.7L576.4 270.0L576.5 269.5L576.5 268.9L576.6 268.4L576.7 267.8L576.7 267.2L576.8 266.7L576.9 266.1L577.0 265.5L577.0 264.9L577.1 264.3L577.2 263.7L577.3 263.1L577.3 262.5L577.4 261.9L577.5 261.3L577.6 260.7L577.7 260.1L577.7 259.5L577.8 258.8L577.9 258.2L578.0 257.6L578.1 256.9L578.1 256.3L578.2 255.7L578.3 255.0L578.4 254.4L578.5 253.8L578.6 253.1L578.6 252.5L578.7 251.9L578.8 251.2L578.9 250.6L579.0 249.9L579.1 249.3L579.1 248.6L579.2 248.0L579.3 247.4L579.4 246.7L579.5 246.1L579.6 245.5L579.6 244.8L579.7 244.2L579.8 243.6L579.9 242.9L580.0 242.3L580.1 241.7L580.1 241.1L580.2 240.4L580.3 239.8L580.4 239.2L580.5 238.6L580.5 238.0L580.6 237.4L580.7 236.8L580.8 236.2L580.8 235.6L580.9 235.0L581.0 234.5L581.1 233.9L581.1 233.3L581.2 232.8L581.3 232.2L581.4 231.7L581.4 231.1L581.5 230.6L581.6 230.0L581.6 229.5L581.7 229.0L581.8 228.3L581.9 227.6L582.0 226.9L582.1 226.2L582.2 225.5L582.2 224.8L582.3 224.2L582.4 223.5L582.5 222.9L582.6 222.3L582.7 221.7L582.7 221.0L582.8 220.4L582.9 219.8L583.0 219.3L583.1 218.7L583.1 218.1L583.2 217.5L583.3 216.9L583.4 216.4L583.4 215.8L583.5 215.2L583.6 214.7L583.7 214.1L583.7 213.6L583.8 213.0L583.9 212.5L583.9 211.9L584.0 211.3L584.1 210.8L584.2 210.2L584.2 209.7L584.3 209.1L584.4 208.5L584.4 208.0L584.5 207.4L584.6 206.8L584.7 206.2L584.7 205.6L584.8 205.0L584.9 204.4L585.0 203.8L585.0 203.2L585.1 202.6L585.2 202.0L585.2 201.3L585.3 200.7L585.4 200.0L585.5 199.4L585.5 198.9L585.6 198.3L585.7 197.8L585.7 197.2L585.8 196.6L585.8 196.1L585.9 195.5L586.0 194.9L586.0 194.3L586.1 193.7L586.1 193.1L586.2 192.6L586.3 192.0L586.3 191.4L586.4 190.8L586.5 190.2L586.5 189.6L586.6 189.0L586.6 188.4L586.7 187.8L586.8 187.2L586.8 186.6L586.9 185.9L587.0 185.3L587.0 184.7L587.1 184.1L587.1 183.5L587.2 182.9L587.3 182.3L587.3 181.6L587.4 181.0L587.4 180.4L587.5 179.8L587.6 179.2L587.6 178.5L587.7 177.9L587.8 177.3L587.8 176.7L587.9 176.1L587.9 175.4L588.0 174.8L588.1 174.2L588.1 173.6L588.2 173.0L588.3 172.3L588.3 171.7L588.4 171.1L588.4 170.5L588.5 169.9L588.6 169.3L588.6 168.6L588.7 168.0L588.7 167.4L588.8 166.8L588.9 166.2L588.9 165.6L589.0 165.0L589.1 164.4L589.1 163.8L589.2 163.2L589.3 162.6L589.3 161.9L589.4 161.3L589.4 160.7L589.5 160.0L589.6 159.4L589.6 158.8L589.7 158.1L589.8 157.5L589.8 156.9L589.9 156.2L590.0 155.6L590.0 154.9L590.1 154.3L590.2 153.6L590.2 153.0L590.3 152.3L590.4 151.7L590.4 151.1L590.5 150.4L590.6 149.8L590.6 149.1L590.7 148.5L590.8 147.8L590.8 147.2L590.9 146.6L591.0 145.9L591.0 145.3L591.1 144.7L591.1 144.0L591.2 143.4L591.3 142.8L591.3 142.2L591.4 141.6L591.5 141.0L591.5 140.4L591.6 139.8L591.7 139.2L591.7 138.6L591.8 138.0L591.9 137.4L591.9 136.8L592.0 136.3L592.0 135.7L592.1 135.1L592.2 134.6L592.2 134.1L592.3 133.5L592.3 133.0L592.4 132.5L592.5 132.0L592.5 131.5L592.6 131.0L592.6 130.5L592.7 130.0L592.8 129.2L592.9 128.4L593.0 127.6L593.1 126.9L593.2 126.2L593.3 125.5L593.4 124.8L593.5 124.1L593.6 123.5L593.7 122.8L593.8 122.2L593.8 121.6L593.9 121.0L594.0 120.5L594.1 119.9L594.2 119.3L594.3 118.8L594.4 118.2L594.5 117.7L594.6 117.2L594.6 116.6L594.7 116.1L594.8 115.6L594.9 115.0L595.0 114.5L595.1 114.0L595.2 113.4L595.3 112.9L595.3 112.3L595.4 111.8L595.5 111.2L595.6 110.6L595.7 110.0L595.8 109.4L595.9 108.8L596.0 108.2L596.1 107.6L596.1 107.0L596.2 106.4L596.3 105.8L596.4 105.2L596.5 104.5L596.6 103.9L596.7 103.3L596.7 102.7L596.8 102.1L596.9 101.5L597.0 100.9L597.1 100.3L597.2 99.7L597.2 99.1L597.3 98.5L597.4 97.9L597.5 97.3L597.6 96.7L597.7 96.1L597.8 95.5L597.9 94.8L597.9 94.2L598.0 93.6L598.1 93.0L598.2 92.4L598.3 91.8L598.4 91.2L598.5 90.6L598.6 90.0L598.7 89.4L598.8 88.8L598.9 88.1L599.0 87.5L599.1 86.8L599.2 86.2L599.3 85.5L599.4 84.8L599.6 84.2L599.7 83.5L599.8 82.8L599.9 82.1L600.0 81.5L600.1 80.8L600.2 80.1L600.4 79.5L600.5 78.8L600.6 78.1L600.7 77.5L600.8 76.9L600.9 76.2L601.0 75.6L601.1 75.0L601.3 74.4L601.4 73.9L601.5 73.3L601.6 72.8L601.7 72.3L601.8 71.8L601.8 71.3L601.9 70.8L602.0 70.4L602.1 70.0L602.3 68.8L602.6 67.9L602.7 67.1L602.9 66.5L603.1 66.0L603.2 65.6L603.4 65.2L603.5 64.8L603.7 64.4L603.9 64.0L604.2 63.3L604.5 62.6L604.8 61.9L605.2 61.4L605.5 60.9L605.9 60.5L606.3 60.3L606.8 60.3L607.3 60.4L607.8 60.7L608.4 61.2L608.9 61.8L609.5 62.5L609.8 62.8L610.0 63.2L610.3 63.5L610.6 63.9L610.8 64.3L611.1 64.7L611.4 65.1L611.7 65.6L611.9 66.2L612.2 66.8L612.5 67.5L612.8 68.2L613.0 69.1L613.3 70.0L613.4 70.4L613.5 70.9L613.6 71.3L613.7 71.8L613.9 72.3L614.0 72.9L614.1 73.4L614.2 74.0L614.3 74.6L614.4 75.1L614.5 75.7L614.6 76.4L614.7 77.0L614.8 77.6L615.0 78.2L615.1 78.9L615.2 79.5L615.3 80.2L615.4 80.9L615.5 81.5L615.6 82.2L615.7 82.9L615.8 83.5L615.9 84.2L616.0 84.9L616.1 85.5L616.2 86.2L616.3 86.8L616.4 87.5L616.5 88.1L616.6 88.8L616.7 89.4L616.8 90.0L616.9 90.6L617.0 91.2L617.1 91.8L617.2 92.4L617.3 93.0L617.3 93.6L617.4 94.2L617.5 94.8L617.6 95.5L617.7 96.1L617.8 96.7L617.8 97.3L617.9 97.9L618.0 98.5L618.1 99.1L618.2 99.7L618.2 100.3L618.3 100.9L618.4 101.5L618.5 102.1L618.5 102.7L618.6 103.3L618.7 103.9L618.8 104.5L618.9 105.2L618.9 105.8L619.0 106.4L619.1 107.0L619.2 107.6L619.3 108.2L619.3 108.8L619.4 109.4L619.5 110.0L619.6 110.6L619.7 111.2L619.7 111.8L619.8 112.3L619.9 112.9L620.0 113.4L620.1 114.0L620.2 114.5L620.2 115.0L620.3 115.6L620.4 116.1L620.5 116.6L620.6 117.2L620.7 117.7L620.7 118.2L620.8 118.8L620.9 119.3L621.0 119.9L621.1 120.5L621.2 121.0L621.2 121.6L621.3 122.2L621.4 122.8L621.5 123.5L621.6 124.1L621.7 124.8L621.8 125.5L621.8 126.2L621.9 126.9L622.0 127.6L622.1 128.4L622.2 129.2L622.3 130.0L622.4 130.5L622.4 131.0L622.5 131.5L622.5 132.0L622.6 132.5L622.6 133.0L622.7 133.5L622.7 134.1L622.8 134.6L622.9 135.1L622.9 135.7L623.0 136.3L623.0 136.8L623.1 137.4L623.1 138.0L623.2 138.6L623.3 139.2L623.3 139.8L623.4 140.4L623.4 141.0L623.5 141.6L623.6 142.2L623.6 142.8L623.7 143.4L623.7 144.0L623.8 144.7L623.9 145.3L623.9 145.9L624.0 146.6L624.0 147.2L624.1 147.8L624.2 148.5L624.2 149.1L624.3 149.8L624.3 150.4L624.4 151.1L624.5 151.7L624.5 152.3L624.6 153.0L624.6 153.6L624.7 154.3L624.7 154.9L624.8 155.6L624.9 156.2L624.9 156.9L625.0 157.5L625.0 158.1L625.1 158.8L625.1 159.4L625.2 160.0L625.2 160.7L625.3 161.3L625.3 161.9L625.4 162.6L625.5 163.2L625.5 163.8L625.6 164.4L625.6 165.0L625.6 165.6L625.7 166.2L625.7 166.8L625.8 167.4L625.8 168.0L625.9 168.6L625.9 169.2L626.0 169.8L626.0 170.4L626.1 171.0L626.1 171.6L626.1 172.2L626.2 172.8L626.2 173.4L626.3 174.1L626.3 174.7L626.3 175.3L626.4 175.9L626.4 176.5L626.5 177.1L626.5 177.7L626.5 178.3L626.6 178.9L626.6 179.5L626.7 180.1L626.7 180.7L626.7 181.3L626.8 181.9L626.8 182.5L626.8 183.1L626.9 183.7L626.9 184.3L627.0 184.9L627.0 185.5L627.0 186.1L627.1 186.7L627.1 187.3L627.1 187.9L627.2 188.5L627.2 189.1L627.2 189.7L627.3 190.3L627.3 190.9L627.4 191.6L627.4 192.2L627.4 192.8L627.5 193.4L627.5 194.0L627.5 194.6L627.6 195.2L627.6 195.8L627.7 196.4L627.7 197.0L627.7 197.6L627.8 198.2L627.8 198.8L627.9 199.4L627.9 200.0L627.9 200.6L628.0 201.2L628.0 201.8L628.1 202.4L628.1 203.0L628.1 203.6L628.2 204.2L628.2 204.8L628.3 205.4L628.3 206.0L628.3 206.6L628.4 207.2L628.4 207.8L628.5 208.4L628.5 209.1L628.6 209.7L628.6 210.3L628.6 210.9L628.7 211.5L628.7 212.1L628.8 212.7L628.8 213.3L628.8 213.9L628.9 214.5L628.9 215.1L629.0 215.7L629.0 216.3L629.0 216.9L629.1 217.5L629.1 218.1L629.2 218.7L629.2 219.3L629.3 219.9L629.3 220.5L629.3 221.1L629.4 221.7L629.4 222.3L629.5 222.9L629.5 223.5L629.5 224.1L629.6 224.7L629.6 225.3L629.7 225.9L629.7 226.6L629.8 227.2L629.8 227.8L629.8 228.4L629.9 229.0L629.9 229.6L630.0 230.2L630.0 230.8L630.0 231.4L630.1 232.0L630.1 232.6L630.2 233.2L630.2 233.8L630.3 234.4L630.3 235.0L630.3 235.6L630.4 236.2L630.4 236.8L630.5 237.4L630.5 238.0L630.6 238.6L630.6 239.2L630.6 239.8L630.7 240.4L630.7 241.0L630.8 241.6L630.8 242.2L630.9 242.8L630.9 243.4L630.9 244.0L631.0 244.6L631.0 245.2L631.1 245.8L631.1 246.4L631.2 247.0L631.2 247.6L631.3 248.2L631.3 248.8L631.3 249.4L631.4 250.0L631.4 250.6L631.5 251.2L631.5 251.8L631.6 252.4L631.6 253.0L631.7 253.6L631.7 254.2L631.7 254.8L631.8 255.4L631.8 256.0L631.9 256.6L631.9 257.2L632.0 257.8L632.0 258.4L632.0 259.0L632.1 259.6L632.1 260.2L632.2 260.8L632.2 261.4L632.3 262.0L632.3 262.6L632.3 263.2L632.4 263.8L632.4 264.4L632.5 265.1L632.5 265.7L632.6 266.3L632.6 266.9L632.6 267.5L632.7 268.1L632.7 268.8L632.8 269.4L632.8 270.0L632.8 270.6L632.9 271.2L632.9 271.7L632.9 272.3L633.0 272.9L633.0 273.5L633.1 274.1L633.1 274.7L633.1 275.3L633.2 275.9L633.2 276.4L633.2 277.0L633.3 277.6L633.3 278.2L633.3 278.8L633.4 279.4L633.4 280.0L633.4 280.6L633.5 281.2L633.5 281.8L633.5 282.4L633.6 283.0L633.6 283.6L633.7 284.2L633.7 284.7L633.7 285.3L633.8 285.9L633.8 286.5L633.8 287.1L633.9 287.7L633.9 288.3L633.9 288.9L634.0 289.5L634.0 290.1L634.0 290.8L634.1 291.4L634.1 292.0L634.1 292.6L634.2 293.2L634.2 293.8L634.2 294.4L634.3 295.0L634.3 295.6L634.3 296.2L634.4 296.8L634.4 297.4L634.4 298.0L634.5 298.6L634.5 299.2L634.5 299.8L634.6 300.5L634.6 301.1L634.7 301.7L634.7 302.3L634.7 302.9L634.8 303.5L634.8 304.1L634.8 304.7L634.9 305.4L634.9 306.0L635.0 306.6L635.0 307.2L635.0 307.8L635.1 308.4L635.1 309.0L635.2 309.6L635.2 310.2L635.2 310.8L635.3 311.4L635.3 312.0L635.4 312.6L635.4 313.2L635.4 313.8L635.5 314.5L635.5 315.1L635.6 315.7L635.6 316.3L635.6 317.0L635.7 317.6L635.7 318.2L635.8 318.8L635.8 319.5L635.8 320.1L635.9 320.7L635.9 321.4L636.0 322.0L636.0 322.6L636.1 323.3L636.1 323.9L636.1 324.5L636.2 325.1L636.2 325.8L636.3 326.4L636.3 327.0L636.4 327.7L636.4 328.3L636.5 328.9L636.5 329.5L636.5 330.2L636.6 330.8L636.6 331.4L636.7 332.0L636.7 332.6L636.8 333.2L636.8 333.8L636.8 334.4L636.9 335.0L636.9 335.6L637.0 336.2L637.0 336.8L637.1 337.4L637.1 338.0L637.1 338.6L637.2 339.2L637.2 339.8L637.3 340.3L637.3 340.9L637.3 341.5L637.4 342.0L637.4 342.6L637.5 343.1L637.5 343.7L637.5 344.2L637.6 344.7L637.6 345.3L637.7 345.8L637.7 346.3L637.8 347.0L637.8 347.7L637.9 348.4L637.9 349.1L638.0 349.8L638.0 350.5L638.1 351.1L638.1 351.8L638.2 352.4L638.2 353.0L638.3 353.6L638.3 354.3L638.3 354.9L638.4 355.5L638.4 356.1L638.5 356.6L638.5 357.2L638.6 357.8L638.6 358.4L638.7 359.0L638.7 359.5L638.8 360.1L638.8 360.7L638.9 361.2L638.9 361.8L638.9 362.3L639.0 362.9L639.0 363.5L639.1 364.0L639.1 364.6L639.2 365.1L639.2 365.7L639.3 366.3L639.3 366.8L639.4 367.4L639.4 368.0L639.5 368.5L639.5 369.1L639.6 369.7L639.6 370.3L639.7 370.9L639.8 371.5L639.8 372.1L639.9 372.7L639.9 373.4L640.0 374.0L640.1 374.6L640.1 375.2L640.2 375.7L640.2 376.3L640.3 376.9L640.3 377.5L640.4 378.0L640.5 378.6L640.5 379.2L640.6 379.8L640.6 380.3L640.7 380.9L640.8 381.5L640.8 382.1L640.9 382.7L640.9 383.3L641.0 383.8L641.1 384.4L641.1 385.0L641.2 385.6L641.3 386.2L641.3 386.8L641.4 387.4L641.5 388.0L641.5 388.6L641.6 389.2L641.7 389.8L641.7 390.4L641.8 391.0L641.9 391.6L641.9 392.2L642.0 392.8L642.1 393.4L642.1 394.1L642.2 394.7L642.3 395.3L642.3 395.9L642.4 396.6L642.5 397.2L642.6 397.8L642.6 398.5L642.7 399.1L642.8 399.7L642.9 400.4L642.9 401.0L643.0 401.7L643.1 402.3L643.2 403.0L643.2 403.7L643.3 404.3L643.4 405.0L643.5 405.5L643.5 406.1L643.6 406.7L643.7 407.2L643.7 407.8L643.8 408.4L643.9 408.9L643.9 409.5L644.0 410.1L644.1 410.7L644.1 411.3L644.2 411.9L644.3 412.5L644.4 413.1L644.4 413.7L644.5 414.3L644.6 414.9L644.7 415.6L644.7 416.2L644.8 416.8L644.9 417.4L645.0 418.0L645.0 418.7L645.1 419.3L645.2 419.9L645.3 420.6L645.4 421.2L645.4 421.8L645.5 422.4L645.6 423.1L645.7 423.7L645.7 424.3L645.8 425.0L645.9 425.6L646.0 426.2L646.1 426.9L646.1 427.5L646.2 428.1L646.3 428.7L646.4 429.3L646.4 430.0L646.5 430.6L646.6 431.2L646.7 431.8L646.7 432.4L646.8 433.0L646.9 433.6L647.0 434.2L647.0 434.8L647.1 435.4L647.2 436.0L647.3 436.6L647.3 437.1L647.4 437.7L647.5 438.3L647.5 438.8L647.6 439.4L647.7 439.9L647.7 440.5L647.8 441.0L647.9 441.6L647.9 442.1L648.0 442.6L648.1 443.3L648.2 444.0L648.3 444.8L648.3 445.5L648.4 446.2L648.5 446.9L648.6 447.6L648.7 448.3L648.7 449.0L648.8 449.7L648.9 450.4L649.0 451.1L649.1 451.7L649.1 452.4L649.2 453.1L649.3 453.7L649.4 454.4L649.4 455.1L649.5 455.7L649.6 456.3L649.6 457.0L649.7 457.6L649.8 458.2L649.8 458.9L649.9 459.5L650.0 460.1L650.1 460.7L650.1 461.3L650.2 461.8L650.3 462.4L650.3 463.0L650.4 463.5L650.5 464.1L650.5 464.6L650.6 465.2L650.7 465.7L650.7 466.2L650.8 466.7L650.9 467.2L650.9 467.7L651.0 468.2L651.1 468.7L651.2 469.1L651.2 469.6L651.3 470.0L651.5 471.0L651.6 471.9L651.8 472.7L651.9 473.5L652.1 474.2L652.2 474.8L652.4 475.4L652.5 476.0L652.7 476.5L652.8 477.0L653.0 477.5L653.2 477.9L653.3 478.4L653.5 478.9L653.7 479.4L653.8 479.9L654.0 480.4L654.2 480.9L654.4 481.5L654.6 482.1L654.8 482.7L655.0 483.3L655.2 483.9L655.4 484.5L655.7 485.1L655.9 485.7L656.1 486.3L656.4 486.9L656.6 487.5L656.8 488.1L657.1 488.7L657.3 489.3L657.6 489.8L657.8 490.4L658.1 490.9L658.3 491.5L658.5 492.0L658.8 492.5L659.0 493.0L659.3 493.7L659.7 494.3L660.0 495.0L660.3 495.6L660.6 496.2L661.0 496.8L661.3 497.3L661.6 497.9L662.0 498.4L662.3 498.9L662.6 499.3L662.9 499.8L663.3 500.2L663.6 500.6L664.1 501.1L664.6 501.6L665.1 502.0L665.5 502.3L666.0 502.6L666.5 502.9L667.1 503.1L667.6 503.4L668.2 503.7L668.7 504.0L669.3 504.2L670.0 504.5L670.7 504.8L671.3 505.0L672.0 505.3L672.7 505.5L673.3 505.7L673.8 505.9L674.3 506.1L674.6 506.2" fill="none" stroke="#E0242A" stroke-width="2.3" stroke-linejoin="round"/>
<path d="M117.8 336.6L118.5 336.8L119.3 336.9L120.0 337.1L120.8 337.3L121.5 337.5L122.3 337.6L123.0 337.8L123.8 338.0L124.5 338.1L125.3 338.3L126.0 338.5L126.8 338.7L127.5 338.9L128.3 339.0L129.1 339.2L129.8 339.4L130.6 339.6L131.3 339.8L132.1 340.0L132.8 340.2L133.6 340.4L134.3 340.6L135.1 340.8L135.8 341.0L136.6 341.2L137.3 341.4L138.1 341.7L138.8 341.9L139.6 342.1L140.3 342.4L141.1 342.6L141.8 342.8L142.6 343.1L143.3 343.3L144.1 343.6L144.8 343.8L145.6 344.1L146.3 344.3L147.1 344.6L147.8 344.8L148.6 345.1L149.3 345.4L150.1 345.6L150.8 345.9L151.6 346.2L152.3 346.4L153.1 346.7L153.8 347.0L154.6 347.3L155.3 347.6L156.1 347.9L156.8 348.2L157.6 348.5L158.3 348.8L159.1 349.1L159.8 349.4L160.6 349.7L161.3 350.0L162.1 350.3L162.8 350.6L163.6 350.9L164.3 351.2L165.1 351.4L165.8 351.7L166.6 352.0L167.3 352.3L168.1 352.5L168.8 352.8L169.6 353.1L170.3 353.3L171.1 353.5L171.8 353.8L172.6 354.0L173.3 354.3L174.1 354.5L174.8 354.7L175.6 354.9L176.3 355.2L177.1 355.4L177.8 355.6L178.6 355.8L179.3 356.0L180.1 356.2L180.8 356.5L181.6 356.7L182.3 356.9L183.1 357.1L183.8 357.3L184.6 357.5L185.3 357.6L186.1 357.8L186.8 358.0L187.6 358.2L188.3 358.4L189.1 358.6L189.8 358.7L190.6 358.9L191.3 359.1L192.1 359.2L192.8 359.4L193.6 359.5L194.3 359.7L195.1 359.8L195.8 360.0L196.6 360.1L197.3 360.2L198.1 360.4L198.8 360.5L199.6 360.6L200.3 360.7L201.1 360.8L201.8 360.9L202.6 361.0L203.3 361.1L204.1 361.1L204.8 361.2L205.6 361.3L206.3 361.3L207.1 361.4L207.8 361.4L208.6 361.4L209.3 361.4L210.1 361.4L210.8 361.4L211.6 361.3L212.3 361.3L213.1 361.2L213.8 361.1L214.6 361.0L215.3 360.9L216.1 360.7L216.8 360.6L217.6 360.4L218.3 360.3L219.1 360.1L219.8 359.9L220.6 359.7L221.3 359.5L222.1 359.2L222.8 359.0L223.6 358.7L224.3 358.4L225.1 358.1L225.8 357.8L226.6 357.5L227.3 357.1L228.1 356.8L228.8 356.4L229.6 356.0L230.3 355.5L231.1 355.0L231.8 354.4L232.6 353.9L233.3 353.3L234.1 352.7L234.8 352.2L235.6 351.7L236.3 351.2L237.1 350.8L237.8 350.4L238.6 350.0L239.3 349.7L240.1 349.3L240.8 348.9L241.6 348.5L242.3 348.0L243.1 347.5L243.8 346.9L244.6 346.4L245.3 345.8L246.1 345.2L246.8 344.5L247.6 343.8L248.3 343.1L249.1 342.3L249.8 341.4L250.6 340.4L251.3 339.2L252.1 338.0L252.8 336.7L253.6 335.3L254.3 333.9L255.1 332.5L255.8 331.3L256.6 330.0L257.3 328.8L258.1 327.6L258.8 326.3L259.6 324.9L260.3 323.4L261.1 321.8L261.8 320.1L262.6 318.4L263.3 316.6L264.1 314.6L264.8 312.6L265.6 310.8L266.3 309.1L267.1 307.3L267.8 305.5L268.6 303.4L269.3 301.2L270.1 298.9L270.8 296.5L271.6 294.0L272.3 291.5L273.1 288.9L273.8 286.3L274.6 283.7L275.3 281.1L276.1 278.5L276.8 275.8L277.6 273.1L278.3 270.4L279.1 267.6L279.8 264.7L280.6 261.7L281.3 258.7L282.1 255.6L282.8 252.5L283.6 249.4L284.3 246.4L285.1 243.4L285.8 240.6L286.6 238.2L287.3 236.0L288.1 233.8L288.8 231.7L289.6 229.6L290.3 227.6L291.1 225.7L291.8 223.8L292.6 222.0L293.3 220.4L294.1 218.8L294.8 217.3L295.6 215.9L296.3 214.8L297.1 213.8L297.8 213.0L298.6 212.4L299.3 211.8L300.1 211.4L300.8 211.1L301.6 211.0L302.3 211.1L303.1 211.4L303.8 211.8L304.6 212.3L305.3 212.8L306.1 213.3L306.8 213.8L307.6 214.4L308.3 215.0L309.1 215.6L309.8 216.4L310.6 217.3L311.3 218.3L312.1 219.5L312.8 220.8L313.6 222.4L314.3 224.5L315.1 226.7L315.8 228.8L316.6 231.0L317.3 233.3L318.1 235.8L318.8 238.2L319.6 241.2L320.3 244.9L321.1 249.0L321.8 253.4L322.6 257.9L323.3 262.5L324.1 267.6L324.8 272.7L325.6 277.8L326.3 282.5L327.1 286.9L327.8 291.2L328.6 295.6L329.3 300.0L330.1 304.5L330.8 309.1L331.6 313.7L332.3 318.3L333.1 322.9L333.8 327.4L334.6 332.1L335.3 336.8L336.1 341.3L336.8 345.7L337.6 349.7L338.3 353.6L339.1 357.3L339.8 360.9L340.6 364.4L341.3 367.8L342.1 371.0L342.8 374.2L343.6 377.2L344.3 380.1L345.1 382.8L345.8 385.4L346.6 387.8L347.3 390.1L348.1 392.1L348.8 394.0L349.6 395.6L350.3 396.9L351.1 398.1L351.8 399.1L352.6 400.2L353.3 401.2L354.1 402.1L354.8 402.9L355.6 403.7L356.3 404.5L357.1 405.3L357.8 406.1L358.6 406.9L359.3 407.7L360.1 408.6L360.8 409.5L361.6 410.4L362.3 411.2L363.1 411.4L363.8 411.6L364.6 411.8L365.3 412.0L366.1 412.2L366.8 412.4L367.6 412.6L366.8 412.4L366.1 412.2L365.3 412.0L364.6 411.8L363.8 411.6L363.1 411.4L362.3 411.2L361.6 411.0L360.8 410.8L360.1 410.6L359.3 410.4L358.6 410.2L357.8 410.0L357.1 409.8L356.3 409.5L355.6 409.3L354.8 409.1L354.1 408.9L353.3 408.7L352.6 408.6L351.8 408.4L351.1 408.2L350.3 408.0L349.6 407.8L348.8 407.6L348.1 407.4L347.3 407.2L346.6 407.0L345.8 406.7L345.1 406.5L344.3 406.3L343.6 406.1L342.8 405.9L342.1 405.6L341.3 405.4L340.6 405.2L339.8 405.0L339.1 404.9L338.3 404.7L337.6 404.6L336.8 404.5L336.1 404.3L335.3 404.2L334.6 404.0L333.8 403.9L333.1 403.7L332.3 403.5L331.6 403.3L330.8 403.2L330.1 403.0L329.3 402.8L328.6 402.6L327.8 402.4L327.1 402.2L326.3 402.0L325.6 401.8L324.8 401.6L324.1 401.4L323.3 401.2L322.6 401.0L321.8 400.8L321.1 400.6L320.3 400.4L319.6 400.2L318.8 400.0L318.1 399.7L317.3 399.5L316.6 399.3L315.8 399.1L315.1 398.8L314.3 398.6L313.6 398.3L312.8 398.1L312.1 397.8L311.3 397.6L310.6 397.3L309.8 397.1L309.1 396.8L308.3 396.6L307.6 396.3L306.8 396.0L306.1 395.8L305.3 395.5L304.6 395.2L303.8 395.0L303.1 394.7L302.3 394.4L301.6 394.2L300.8 393.9L300.1 393.6L299.3 393.3L298.6 393.0L297.8 392.7L297.1 392.3L296.3 392.0L295.6 391.7L294.8 391.3L294.1 391.0L293.3 390.6L292.6 390.2L291.8 389.9L291.1 389.5L290.3 389.2L289.6 388.8L288.8 388.5L288.1 388.1L287.3 387.8L286.6 387.4L285.8 387.1L285.1 386.7L284.3 386.4L283.6 386.1L282.8 385.8L282.1 385.5L281.3 385.2L280.6 384.9L279.8 384.6L279.1 384.3L278.3 384.1L277.6 383.8L276.8 383.5L276.1 383.3L275.3 383.1L274.6 382.8L273.8 382.6L273.1 382.4L272.3 382.2L271.6 382.0L270.8 381.8L270.1 381.6L269.3 381.4L268.6 381.2L267.8 381.0L267.1 380.8L266.3 380.6L265.6 380.4L264.8 380.2L264.1 380.0L263.3 379.8L262.6 379.6L261.8 379.5L261.1 379.3L260.3 379.1L259.6 378.9L258.8 378.7L258.1 378.5L257.3 378.3L256.6 378.1L255.8 377.9L255.1 377.7L254.3 377.5L253.6 377.3L252.8 377.1L252.1 376.9L251.3 376.7L250.6 376.5L249.8 376.3L249.1 376.1L248.3 375.9L247.6 375.7L246.8 375.5L246.1 375.3L245.3 375.2L244.6 375.0L243.8 374.8L243.1 374.6L242.3 374.4L241.6 374.2L240.8 374.0L240.1 373.8L239.3 373.7L238.6 373.5L237.8 373.3L237.1 373.1L236.3 373.0L235.6 372.8L234.8 372.6L234.1 372.4L233.3 372.3L232.6 372.1L231.8 371.9L231.1 371.7L230.3 371.6L229.6 371.4L228.8 371.2L228.1 371.0L227.3 370.9L226.6 370.7L225.8 370.5L225.1 370.3L224.3 370.2L223.6 370.0L222.8 369.8L222.1 369.6L221.3 369.4L220.6 369.3L219.8 369.1L219.1 368.9L218.3 368.7L217.6 368.5L216.8 368.4L216.1 368.2L215.3 368.0L214.6 367.8L213.8 367.6L213.1 367.5L212.3 367.3L211.6 367.1L210.8 366.9L210.1 366.7L209.3 366.5L208.6 366.4L207.8 366.2L207.1 366.0L206.3 365.8L205.6 365.6L204.8 365.4L204.1 365.2L203.3 365.0L202.6 364.8L201.8 364.7L201.1 364.5L200.3 364.3L199.6 364.1L198.8 363.9L198.1 363.7L197.3 363.5L196.6 363.3L195.8 363.1L195.1 362.9L194.3 362.7L193.6 362.5L192.8 362.3L192.1 362.1L191.3 361.9L190.6 361.7L189.8 361.4L189.1 361.2L188.3 361.0L187.6 360.8L186.8 360.6L186.1 360.4L185.3 360.2L184.6 360.0L183.8 359.8L183.1 359.6L182.3 359.4L181.6 359.1L180.8 358.9L180.1 358.7L179.3 358.5L178.6 358.2L177.8 358.0L177.1 357.8L176.3 357.5L175.6 357.3L174.8 357.0L174.1 356.8L173.3 356.6L172.6 356.3L171.8 356.1L171.1 355.8L170.3 355.6L169.6 355.3L168.8 355.1L168.1 354.8L167.3 354.5L166.6 354.2L165.8 353.9L165.1 353.6L164.3 353.3L163.6 353.0L162.8 352.7L162.1 352.4L161.3 352.1L160.6 351.8L159.8 351.5L159.1 351.2L158.3 350.9L157.6 350.7L156.8 350.4L156.1 350.1L155.3 349.8L154.6 349.5L153.8 349.2L153.1 349.0L152.3 348.7L151.6 348.4L150.8 348.2L150.1 347.9L149.3 347.7L148.6 347.4L147.8 347.1L147.1 346.8L146.3 346.6L145.6 346.3L144.8 346.0L144.1 345.8L143.3 345.5L142.6 345.3L141.8 345.0L141.1 344.7L140.3 344.5L139.6 344.3L138.8 344.0L138.1 343.8L137.3 343.6L136.6 343.3L135.8 343.1L135.1 342.9L134.3 342.7L133.6 342.5L132.8 342.3L132.1 342.0L131.3 341.8L130.6 341.6L129.8 341.4L129.1 341.2L128.3 341.0L127.5 340.8L126.8 340.6L126.0 340.4L125.3 340.3L124.5 340.1L123.8 339.9L123.0 339.7L122.3 339.6L121.5 339.4L120.8 339.2L120.0 339.1L119.3 338.9L118.5 338.7L117.8 338.6Z" fill="rgba(26,235,22,0.55)"/>
<path d="M430.6 426.7L431.3 427.1L432.1 427.4L432.8 427.7L433.6 428.0L434.3 428.4L435.1 428.7L435.8 429.0L436.6 429.3L437.3 429.7L438.1 430.0L438.8 430.3L439.6 430.6L440.3 430.9L441.1 431.2L441.8 431.4L442.6 431.7L443.3 432.0L444.1 432.3L444.8 432.6L445.6 432.9L446.3 433.2L447.1 433.4L447.8 433.7L448.6 434.0L449.3 434.3L450.1 434.6L450.8 434.8L451.6 435.1L452.3 435.4L453.1 435.6L453.8 435.9L454.6 436.2L455.3 436.4L456.1 436.7L456.8 436.9L457.6 437.1L458.3 437.3L459.1 437.5L459.8 437.6L460.6 437.8L461.3 438.0L462.1 438.2L462.8 438.4L463.6 438.6L464.3 438.8L465.1 439.0L465.8 439.3L466.6 439.5L467.3 439.7L468.1 439.9L468.8 440.1L469.6 440.3L470.3 440.5L471.1 440.8L471.8 441.0L472.6 441.2L473.3 441.4L474.1 441.6L474.8 441.8L475.6 441.9L476.3 442.1L477.1 442.3L477.8 442.4L478.6 442.6L479.3 442.7L480.1 442.8L480.8 442.9L481.6 443.0L482.3 443.1L483.1 443.1L483.8 443.2L484.6 443.2L485.3 443.3L486.1 443.3L486.8 443.3L487.6 443.3L488.3 443.3L489.1 443.2L489.8 443.2L490.6 443.1L491.3 443.1L492.1 443.0L492.8 443.0L493.6 442.9L494.3 442.9L495.1 442.8L495.8 442.8L496.6 442.7L497.3 442.6L498.1 442.6L498.8 442.5L499.6 442.4L500.3 442.3L501.1 442.2L501.8 442.1L502.6 442.1L503.3 441.9L504.1 441.8L504.8 441.7L505.6 441.6L506.3 441.5L507.1 441.3L507.8 441.2L508.6 441.0L509.3 440.8L510.1 440.6L510.8 440.4L511.6 440.2L512.3 439.9L513.0 439.6L513.8 439.3L514.5 438.9L515.3 438.5L516.0 438.1L516.8 437.6L517.5 437.2L518.3 436.7L519.0 436.3L519.8 435.9L520.5 435.5L521.3 435.2L522.0 434.9L522.8 434.6L523.5 434.4L524.3 434.1L525.0 433.8L525.8 433.5L526.5 433.1L527.3 432.7L528.0 432.1L528.8 431.5L529.5 430.7L530.3 429.8L531.0 428.7L531.8 427.5L532.5 426.3L533.3 424.9L534.0 423.5L534.8 422.1L535.5 420.8L536.3 419.5L537.0 418.3L537.8 417.0L538.5 415.8L539.3 414.5L540.0 413.2L540.8 411.9L541.5 410.6L542.3 409.3L543.0 407.9L543.8 406.5L544.5 405.2L545.3 403.8L546.0 402.5L546.8 401.1L547.5 399.7L548.3 398.3L549.0 396.9L549.8 395.4L550.5 394.0L551.3 392.5L552.0 390.9L552.8 389.3L553.5 387.6L554.3 385.9L555.0 384.2L555.8 382.4L556.5 380.6L557.3 378.6L558.0 376.6L558.8 374.4L559.5 372.1L560.3 369.6L561.0 366.9L561.8 364.1L562.5 361.0L563.3 357.8L564.0 354.5L564.8 350.9L565.5 347.3L566.3 343.5L567.0 339.6L567.8 335.5L568.5 331.1L569.3 326.3L570.0 321.1L570.8 315.6L571.5 309.8L572.3 303.9L573.0 298.1L573.8 291.9L574.5 285.5L575.3 279.1L576.0 272.8L576.8 266.8L577.5 261.0L578.3 255.2L579.0 249.4L579.8 243.6L580.5 237.9L581.3 232.1L582.0 226.3L582.8 220.6L583.5 214.9L584.3 209.1L585.0 203.0L585.8 196.4L586.5 189.3L587.3 181.9L588.0 174.3L588.8 166.9L589.5 159.7L590.3 152.3L591.0 145.0L591.8 137.9L592.5 131.2L593.3 125.4L594.0 120.3L594.8 115.7L595.5 111.0L596.3 105.8L597.0 100.5L597.8 95.2L598.5 90.3L599.3 85.7L600.0 81.3L600.8 77.0L601.5 72.8L602.3 69.0L603.0 66.0L603.8 64.2L604.5 62.5L605.3 61.2L606.0 60.4L606.8 60.3L607.5 60.5L608.3 61.1L609.0 61.9L609.8 62.9L610.5 63.9L611.3 65.0L612.0 66.4L612.8 68.3L613.5 71.0L614.3 74.6L615.0 78.8L615.8 83.5L616.5 88.4L617.3 93.4L618.0 98.9L618.8 104.7L619.5 110.4L620.3 115.4L621.0 120.3L621.8 125.8L622.5 132.3L623.3 139.6L624.0 147.3L624.8 155.5L625.5 164.4L626.3 174.6L627.0 186.5L627.8 198.5L628.5 209.6L629.3 220.6L630.0 231.4L630.8 242.0L631.5 252.2L632.3 262.6L633.0 273.9L633.8 286.8L634.5 299.9L635.3 311.8L636.0 323.1L636.8 333.9L637.5 344.3L638.3 354.2L639.0 363.6L639.8 371.9L640.5 379.5L641.3 386.6L642.0 393.3L642.8 399.8L643.5 406.3L644.3 412.6L645.0 418.7L645.8 424.8L646.5 430.8L647.3 436.9L648.0 443.0L648.8 449.5L649.5 456.2L650.3 462.7L651.0 468.4L651.8 472.8L652.5 476.0L653.3 478.4L654.0 480.5L654.8 482.7L655.5 484.8L656.3 486.7L657.0 488.6L657.8 490.4L658.5 492.0L659.3 493.6L660.0 495.1L660.8 496.5L661.5 497.7L662.3 498.9L663.0 499.9L663.8 500.8L664.5 501.6L665.3 502.2L666.0 502.6L666.8 503.0L667.5 503.4L668.3 503.7L669.0 504.1L669.8 504.4L670.5 504.5L671.3 504.8L672.0 505.2L672.8 505.5L673.5 505.8L674.3 506.0L674.6 506.1L674.3 506.0L673.5 505.8L672.8 505.6L672.0 505.2L671.3 504.8L670.5 504.5L669.8 504.4L669.0 504.2L668.3 504.1L667.5 503.9L666.8 503.8L666.0 503.6L665.3 503.5L664.5 503.3L663.8 503.2L663.0 503.0L662.3 502.9L661.5 502.7L660.8 502.6L660.0 502.4L659.3 502.3L658.5 502.1L657.8 502.0L657.0 501.8L656.3 501.7L655.5 501.5L654.8 501.3L654.0 501.1L653.3 500.8L652.5 500.6L651.8 500.4L651.0 500.1L650.3 499.9L649.5 499.6L648.8 499.3L648.0 499.1L647.3 498.8L646.5 498.5L645.8 498.3L645.0 498.0L644.3 497.8L643.5 497.6L642.8 497.4L642.0 497.2L641.3 496.9L640.5 496.7L639.8 496.5L639.0 496.2L638.3 496.0L637.5 495.7L636.8 495.5L636.0 495.2L635.3 494.9L634.5 494.6L633.8 494.3L633.0 494.0L632.3 493.9L631.5 493.7L630.8 493.5L630.0 493.3L629.3 493.1L628.5 492.9L627.8 492.6L627.0 492.4L626.3 492.1L625.5 491.9L624.8 491.6L624.0 491.3L623.3 491.0L622.5 490.7L621.8 490.3L621.0 490.2L620.3 490.1L619.5 490.0L618.8 489.8L618.0 489.6L617.3 489.4L616.5 489.2L615.8 488.9L615.0 488.7L614.3 488.4L613.5 488.2L612.8 487.9L612.0 487.7L611.3 487.4L610.5 487.2L609.8 487.0L609.0 486.6L608.3 486.1L607.5 485.7L606.8 485.3L606.0 484.9L605.3 484.5L604.5 484.1L603.8 483.7L603.0 483.3L602.3 483.0L601.5 482.6L600.8 482.3L600.0 481.9L599.3 481.6L598.5 481.3L597.8 481.0L597.0 480.7L596.3 480.4L595.5 480.2L594.8 479.9L594.0 479.6L593.3 479.2L592.5 478.9L591.8 478.5L591.0 478.2L590.3 477.9L589.5 477.6L588.8 477.3L588.0 477.0L587.3 476.7L586.5 476.4L585.8 476.1L585.0 475.8L584.3 475.5L583.5 475.3L582.8 475.0L582.0 474.7L581.3 474.5L580.5 474.2L579.8 473.9L579.0 473.7L578.3 473.4L577.5 473.2L576.8 472.9L576.0 472.7L575.3 472.4L574.5 472.2L573.8 471.9L573.0 471.7L572.3 471.4L571.5 471.1L570.8 470.9L570.0 470.6L569.3 470.4L568.5 470.1L567.8 469.8L567.0 469.6L566.3 469.4L565.5 469.2L564.8 468.9L564.0 468.7L563.3 468.5L562.5 468.3L561.8 468.1L561.0 467.9L560.3 467.8L559.5 467.6L558.8 467.4L558.0 467.2L557.3 467.0L556.5 466.8L555.8 466.6L555.0 466.4L554.3 466.2L553.5 466.0L552.8 465.8L552.0 465.6L551.3 465.4L550.5 465.2L549.8 465.0L549.0 464.8L548.3 464.6L547.5 464.4L546.8 464.2L546.0 464.0L545.3 463.8L544.5 463.6L543.8 463.4L543.0 463.2L542.3 463.0L541.5 462.8L540.8 462.5L540.0 462.3L539.3 462.0L538.5 461.7L537.8 461.4L537.0 461.1L536.3 460.8L535.5 460.5L534.8 460.2L534.0 459.9L533.3 459.6L532.5 459.3L531.8 458.9L531.0 458.6L530.3 458.3L529.5 457.9L528.8 457.6L528.0 457.3L527.3 457.0L526.5 456.6L525.8 456.3L525.0 456.0L524.3 455.7L523.5 455.4L522.8 455.0L522.0 454.7L521.3 454.4L520.5 454.1L519.8 453.8L519.0 453.6L518.3 453.4L517.5 453.1L516.8 452.9L516.0 452.6L515.3 452.4L514.5 452.2L513.8 451.9L513.0 451.7L512.3 451.5L511.6 451.3L510.8 451.0L510.1 450.8L509.3 450.6L508.6 450.4L507.8 450.1L507.1 449.9L506.3 449.7L505.6 449.5L504.8 449.2L504.1 449.0L503.3 448.8L502.6 448.6L501.8 448.4L501.1 448.1L500.3 447.9L499.6 447.7L498.8 447.5L498.1 447.4L497.3 447.2L496.6 447.0L495.8 446.8L495.1 446.6L494.3 446.5L493.6 446.3L492.8 446.1L492.1 445.9L491.3 445.7L490.6 445.6L489.8 445.4L489.1 445.2L488.3 445.0L487.6 444.8L486.8 444.7L486.1 444.5L485.3 444.3L484.6 444.1L483.8 443.9L483.1 443.8L482.3 443.6L481.6 443.4L480.8 443.2L480.1 443.0L479.3 442.9L478.6 442.8L477.8 442.7L477.1 442.6L476.3 442.5L475.6 442.4L474.8 442.3L474.1 442.2L473.3 442.1L472.6 442.0L471.8 441.9L471.1 441.8L470.3 441.7L469.6 441.5L468.8 441.3L468.1 441.0L467.3 440.7L466.6 440.5L465.8 440.2L465.1 439.9L464.3 439.6L463.6 439.4L462.8 439.1L462.1 438.8L461.3 438.6L460.6 438.3L459.8 438.0L459.1 437.8L458.3 437.5L457.6 437.2L456.8 437.0L456.1 436.7L455.3 436.4L454.6 436.2L453.8 435.9L453.1 435.6L452.3 435.4L451.6 435.1L450.8 434.8L450.1 434.6L449.3 434.3L448.6 434.0L447.8 433.7L447.1 433.4L446.3 433.2L445.6 432.9L444.8 432.6L444.1 432.3L443.3 432.0L442.6 431.7L441.8 431.4L441.1 431.2L440.3 430.9L439.6 430.6L438.8 430.3L438.1 430.0L437.3 429.7L436.6 429.3L435.8 429.0L435.1 428.7L434.3 428.4L433.6 428.0L432.8 427.7L432.1 427.4L431.3 427.1L430.6 426.7Z" fill="rgba(26,235,22,0.55)"/>
<path d="M117.8 330.9L118.5 330.7L119.3 330.5L120.0 330.3L120.8 330.0L121.5 329.8L122.3 329.6L123.0 329.3L123.8 329.0L124.5 328.6L125.3 328.3L126.0 327.9L126.8 327.5L127.5 327.0L128.3 326.5L129.1 326.0L129.8 325.5L130.6 324.9L131.3 324.3L132.1 323.7L132.8 322.9L133.6 322.0L134.3 321.0L135.1 319.9L135.8 318.7L136.6 317.4L137.3 316.1L138.1 314.7L138.8 313.2L139.6 311.7L140.3 310.2L141.1 308.6L141.8 307.0L142.6 305.4L143.3 303.7L144.1 302.0L144.8 300.2L145.6 298.2L146.3 296.1L147.1 294.0L147.8 291.6L148.6 289.1L149.3 286.1L150.1 282.9L150.8 280.0L151.6 277.2L152.3 274.4L153.1 271.6L153.8 268.9L154.6 266.1L155.3 263.4L156.1 260.6L156.8 257.8L157.6 255.0L158.3 252.2L159.1 249.3L159.8 246.2L160.6 243.1L161.3 239.9L162.1 236.9L162.8 234.1L163.6 231.6L164.3 229.3L165.1 227.2L165.8 225.4L166.6 224.0L167.3 222.7L168.1 221.8L168.8 221.0L169.6 220.4L170.3 219.9L171.1 219.7L171.8 219.6L172.6 219.7L173.3 220.0L174.1 220.5L174.8 221.1L175.6 222.0L176.3 223.0L177.1 224.2L177.8 225.6L178.6 227.1L179.3 228.8L180.1 230.8L180.8 233.1L181.6 235.8L182.3 239.1L183.1 242.7L183.8 246.3L184.6 249.6L185.3 252.6L186.1 255.4L186.8 258.1L187.6 260.8L188.3 263.5L189.1 266.1L189.8 268.8L190.6 271.4L191.3 274.1L192.1 276.8L192.8 279.6L193.6 282.6L194.3 285.7L195.1 289.4L195.8 294.0L196.6 300.8L197.3 304.9L198.1 307.6L198.8 309.9L199.6 312.0L200.3 314.1L201.1 316.2L201.8 318.5L202.6 320.8L203.3 323.2L204.1 325.5L204.8 327.8L205.6 330.1L206.3 332.3L207.1 334.6L207.8 336.9L208.6 339.2L209.3 341.5L210.1 343.9L210.8 346.1L211.6 348.0L212.3 350.0L213.1 351.9L213.8 353.8L214.6 355.6L215.3 357.3L216.1 358.7L216.8 360.0L217.6 360.9L218.3 361.3L219.1 361.5L219.8 361.8L220.6 362.0L221.3 362.2L220.6 362.0L219.8 361.8L219.1 361.5L218.3 361.3L217.6 361.1L216.8 360.9L216.1 360.7L215.3 360.5L214.6 360.3L213.8 360.1L213.1 359.9L212.3 359.7L211.6 359.5L210.8 359.3L210.1 359.1L209.3 358.9L208.6 358.6L207.8 358.4L207.1 358.2L206.3 358.0L205.6 357.8L204.8 357.6L204.1 357.4L203.3 357.2L202.6 357.0L201.8 356.8L201.1 356.6L200.3 356.4L199.6 356.2L198.8 356.0L198.1 355.7L197.3 355.5L196.6 355.3L195.8 355.1L195.1 354.9L194.3 354.7L193.6 354.5L192.8 354.3L192.1 354.1L191.3 353.9L190.6 353.7L189.8 353.5L189.1 353.3L188.3 353.1L187.6 352.9L186.8 352.6L186.1 352.4L185.3 352.2L184.6 352.0L183.8 351.8L183.1 351.6L182.3 351.4L181.6 351.2L180.8 351.0L180.1 350.8L179.3 350.6L178.6 350.4L177.8 350.2L177.1 350.0L176.3 349.7L175.6 349.5L174.8 349.3L174.1 349.1L173.3 348.9L172.6 348.7L171.8 348.5L171.1 348.3L170.3 348.1L169.6 347.9L168.8 347.7L168.1 347.5L167.3 347.3L166.6 347.1L165.8 346.8L165.1 346.6L164.3 346.4L163.6 346.2L162.8 346.0L162.1 345.8L161.3 345.6L160.6 345.4L159.8 345.2L159.1 345.0L158.3 344.8L157.6 344.6L156.8 344.4L156.1 344.2L155.3 344.0L154.6 343.7L153.8 343.5L153.1 343.3L152.3 343.1L151.6 342.9L150.8 342.7L150.1 342.5L149.3 342.3L148.6 342.1L147.8 341.9L147.1 341.7L146.3 341.5L145.6 341.3L144.8 341.1L144.1 340.8L143.3 340.6L142.6 340.4L141.8 340.2L141.1 340.0L140.3 339.8L139.6 339.6L138.8 339.4L138.1 339.2L137.3 339.0L136.6 338.8L135.8 338.6L135.1 338.4L134.3 338.2L133.6 337.9L132.8 337.7L132.1 337.5L131.3 337.3L130.6 337.1L129.8 336.9L129.1 336.7L128.3 336.5L127.5 336.3L126.8 336.1L126.0 335.9L125.3 335.7L124.5 335.5L123.8 335.3L123.0 335.0L122.3 334.8L121.5 334.6L120.8 334.4L120.0 334.2L119.3 334.0L118.5 333.8L117.8 333.6Z" fill="rgba(240,173,11,0.45)"/>
<path d="M205.6 370.4L206.3 370.2L207.1 369.9L207.8 369.7L208.6 369.5L209.3 369.3L210.1 369.1L210.8 368.9L211.6 368.7L212.3 368.5L213.1 368.2L213.8 368.0L214.6 367.9L215.3 367.7L216.1 367.5L216.8 367.3L217.6 367.1L218.3 367.0L219.1 366.8L219.8 366.5L220.6 366.3L221.3 366.0L222.1 365.8L222.8 365.5L223.6 365.3L224.3 365.2L225.1 365.0L225.8 365.0L226.6 364.9L227.3 364.9L228.1 365.0L228.8 365.0L229.6 365.1L230.3 365.2L231.1 365.4L231.8 365.5L232.6 365.7L233.3 365.9L234.1 366.1L234.8 366.3L235.6 366.5L236.3 366.7L237.1 366.9L237.8 367.2L238.6 367.4L239.3 367.6L240.1 367.9L240.8 368.1L241.6 368.4L242.3 368.6L243.1 368.9L243.8 369.1L244.6 369.4L245.3 369.6L246.1 369.9L246.8 370.1L247.6 370.4L248.3 370.6L249.1 370.9L249.8 371.1L250.6 371.4L251.3 371.6L252.1 371.9L252.8 372.1L253.6 372.4L254.3 372.6L255.1 372.8L255.8 373.1L256.6 373.3L257.3 373.5L258.1 373.8L258.8 374.0L259.6 374.2L260.3 374.4L261.1 374.7L261.8 374.9L262.6 375.1L263.3 375.3L264.1 375.6L264.8 375.8L265.6 376.0L266.3 376.3L267.1 376.5L267.8 376.7L268.6 377.0L269.3 377.2L270.1 377.4L270.8 377.7L271.6 377.9L272.3 378.2L273.1 378.4L273.8 378.6L274.6 378.9L275.3 379.2L276.1 379.4L276.8 379.7L277.6 379.9L278.3 380.2L279.1 380.5L279.8 380.7L280.6 381.0L281.3 381.3L282.1 381.6L282.8 381.9L283.6 382.2L284.3 382.5L285.1 382.8L285.8 383.0L286.6 383.3L287.3 383.6L288.1 383.9L288.8 384.2L289.6 384.5L290.3 384.8L291.1 385.1L291.8 385.3L292.6 385.6L293.3 385.9L294.1 386.2L294.8 386.4L295.6 386.7L296.3 386.9L297.1 387.2L297.8 387.5L298.6 387.7L299.3 388.0L300.1 388.2L300.8 388.5L301.6 388.7L302.3 388.9L303.1 389.2L303.8 389.4L304.6 389.7L305.3 389.9L306.1 390.1L306.8 390.4L307.6 390.6L308.3 390.8L309.1 391.1L309.8 391.3L310.6 391.5L311.3 391.8L312.1 392.0L312.8 392.2L313.6 392.5L314.3 392.7L315.1 392.9L315.8 393.1L316.6 393.4L317.3 393.6L318.1 393.8L318.8 394.1L319.6 394.3L320.3 394.5L321.1 394.7L321.8 395.0L322.6 395.2L323.3 395.4L324.1 395.6L324.8 395.9L325.6 396.1L326.3 396.3L327.1 396.5L327.8 396.8L328.6 397.0L329.3 397.2L330.1 397.5L330.8 397.7L331.6 397.9L332.3 398.1L333.1 398.4L333.8 398.6L334.6 398.8L335.3 399.0L336.1 399.3L336.8 399.5L337.6 399.7L338.3 400.0L339.1 400.2L339.8 400.4L340.6 400.7L341.3 400.9L342.1 401.1L342.8 401.4L343.6 401.6L344.3 401.9L345.1 402.1L345.8 402.3L346.6 402.6L347.3 402.8L348.1 403.1L348.8 403.3L349.6 403.6L350.3 403.8L351.1 404.1L351.8 404.3L352.6 404.6L353.3 404.9L354.1 405.1L354.8 405.4L355.6 405.7L356.3 406.0L357.1 406.3L357.8 406.7L358.6 407.0L359.3 407.4L360.1 407.8L360.8 408.1L361.6 408.5L362.3 408.8L363.1 409.2L363.8 409.5L364.6 409.9L365.3 410.3L366.1 410.6L366.8 411.0L367.6 411.3L368.3 411.7L369.1 412.1L369.8 412.4L370.6 412.8L371.3 413.1L372.1 413.5L372.8 413.8L373.6 414.2L374.3 414.6L375.1 414.9L375.8 415.3L376.6 415.6L377.3 415.9L378.1 416.3L378.8 416.6L379.6 416.9L380.3 417.3L381.1 417.6L381.8 417.9L382.6 418.2L383.3 418.5L384.1 418.7L384.8 418.9L385.6 419.1L386.3 419.3L387.1 419.3L387.8 419.4L388.6 419.3L389.3 419.1L390.1 418.9L390.8 418.6L391.6 418.5L392.3 418.5L393.1 418.6L393.8 418.6L394.6 418.7L395.3 418.8L396.1 418.9L396.8 419.0L397.6 419.1L398.3 419.2L399.1 419.3L399.8 419.4L400.6 419.5L401.3 419.6L402.1 419.7L402.8 419.8L403.6 419.8L404.3 419.9L405.1 420.0L405.8 420.1L406.6 420.2L407.3 420.3L408.1 420.3L408.8 420.2L409.6 420.0L410.3 419.8L411.1 419.4L411.8 419.0L412.6 418.5L413.3 418.0L414.1 417.3L414.8 416.7L415.6 415.9L416.3 415.0L417.1 414.0L417.8 412.8L418.6 411.6L419.3 410.2L420.1 408.7L420.8 406.9L421.6 405.0L422.3 403.4L423.1 401.9L423.8 400.5L424.6 399.0L425.3 397.5L426.1 396.0L426.8 394.4L427.6 392.5L428.3 390.1L429.1 387.2L429.8 384.3L430.6 381.8L431.3 379.7L432.1 377.6L432.8 375.5L433.6 373.5L434.3 371.6L435.1 369.6L435.8 367.8L436.6 366.3L437.3 364.7L438.1 362.7L438.8 360.3L439.6 357.8L440.3 355.3L441.1 352.7L441.8 350.2L442.6 347.7L443.3 345.2L444.1 342.7L444.8 340.1L445.6 337.3L446.3 334.4L447.1 331.3L447.8 328.3L448.6 325.3L449.3 322.3L450.1 319.4L450.8 316.4L451.6 313.5L452.3 310.6L453.1 307.8L453.8 305.1L454.6 302.8L455.3 300.9L456.1 299.6L456.8 298.6L457.6 298.0L458.3 297.6L459.1 297.4L459.8 297.4L460.6 297.5L461.3 297.9L462.1 298.6L462.8 299.4L463.6 300.4L464.3 301.8L465.1 303.7L465.8 306.2L466.6 308.9L467.3 311.9L468.1 315.0L468.8 318.1L469.6 321.3L470.3 324.5L471.1 327.8L471.8 331.2L472.6 334.7L473.3 338.2L474.1 341.6L474.8 344.9L475.6 348.1L476.3 351.0L477.1 353.9L477.8 356.8L478.6 359.6L479.3 362.5L480.1 365.5L480.8 368.7L481.6 372.2L482.3 375.8L483.1 379.5L483.8 383.2L484.6 386.9L485.3 390.5L486.1 393.9L486.8 397.0L487.6 400.1L488.3 403.0L489.1 405.8L489.8 408.6L490.6 411.2L491.3 413.8L492.1 416.4L492.8 418.8L493.6 421.1L494.3 423.4L495.1 425.6L495.8 427.7L496.6 429.9L497.3 432.0L498.1 434.2L498.8 436.6L499.6 438.8L500.3 440.7L501.1 442.2L501.8 443.4L502.6 444.3L503.3 445.1L504.1 445.7L504.8 446.2L505.6 446.8L506.3 447.4L507.1 448.0L507.8 448.7L508.6 449.4L509.3 450.1L510.1 450.9L510.8 451.6L511.6 452.3L512.3 453.1L513.0 453.8L513.8 454.5L514.5 455.3L515.3 456.0L516.0 456.7L516.8 457.5L517.5 458.2L518.3 458.9L519.0 459.7L519.8 460.4L519.8 460.5L519.0 460.3L518.3 460.1L517.5 459.8L516.8 459.6L516.0 459.3L515.3 459.1L514.5 458.9L513.8 458.6L513.0 458.4L512.3 458.2L511.6 458.0L510.8 457.7L510.1 457.5L509.3 457.3L508.6 457.1L507.8 456.8L507.1 456.6L506.3 456.4L505.6 456.2L504.8 455.9L504.1 455.7L503.3 455.5L502.6 455.3L501.8 455.1L501.1 454.8L500.3 454.6L499.6 454.4L498.8 454.2L498.1 454.0L497.3 453.7L496.6 453.5L495.8 453.3L495.1 453.1L494.3 452.9L493.6 452.7L492.8 452.4L492.1 452.2L491.3 452.0L490.6 451.8L489.8 451.6L489.1 451.4L488.3 451.1L487.6 450.9L486.8 450.7L486.1 450.5L485.3 450.3L484.6 450.0L483.8 449.8L483.1 449.6L482.3 449.4L481.6 449.2L480.8 448.9L480.1 448.7L479.3 448.5L478.6 448.3L477.8 448.0L477.1 447.8L476.3 447.6L475.6 447.4L474.8 447.1L474.1 446.9L473.3 446.7L472.6 446.5L471.8 446.2L471.1 446.0L470.3 445.8L469.6 445.6L468.8 445.3L468.1 445.1L467.3 444.9L466.6 444.7L465.8 444.4L465.1 444.2L464.3 444.0L463.6 443.8L462.8 443.5L462.1 443.3L461.3 443.1L460.6 442.9L459.8 442.6L459.1 442.4L458.3 442.2L457.6 442.0L456.8 441.7L456.1 441.5L455.3 441.3L454.6 441.1L453.8 440.9L453.1 440.6L452.3 440.4L451.6 440.2L450.8 440.0L450.1 439.8L449.3 439.5L448.6 439.3L447.8 439.1L447.1 438.9L446.3 438.6L445.6 438.4L444.8 438.2L444.1 438.0L443.3 437.7L442.6 437.5L441.8 437.3L441.1 437.0L440.3 436.8L439.6 436.6L438.8 436.3L438.1 436.1L437.3 435.8L436.6 435.5L435.8 435.3L435.1 435.0L434.3 434.7L433.6 434.5L432.8 434.2L432.1 433.9L431.3 433.7L430.6 433.4L429.8 433.1L429.1 432.8L428.3 432.6L427.6 432.3L426.8 432.1L426.1 431.8L425.3 431.6L424.6 431.3L423.8 431.1L423.1 430.8L422.3 430.6L421.6 430.4L420.8 430.2L420.1 430.0L419.3 429.8L418.6 429.6L417.8 429.5L417.1 429.3L416.3 429.1L415.6 428.9L414.8 428.8L414.1 428.6L413.3 428.5L412.6 428.3L411.8 428.1L411.1 428.0L410.3 427.8L409.6 427.7L408.8 427.5L408.1 427.4L407.3 427.3L406.6 427.1L405.8 427.0L405.1 426.9L404.3 426.7L403.6 426.6L402.8 426.5L402.1 426.3L401.3 426.2L400.6 426.1L399.8 426.0L399.1 425.8L398.3 425.7L397.6 425.6L396.8 425.5L396.1 425.4L395.3 425.3L394.6 425.2L393.8 425.1L393.1 425.0L392.3 424.9L391.6 424.8L390.8 424.7L390.1 424.6L389.3 424.5L388.6 424.4L387.8 424.3L387.1 424.2L386.3 424.1L385.6 424.0L384.8 423.9L384.1 423.8L383.3 423.7L382.6 423.6L381.8 423.5L381.1 423.4L380.3 423.3L379.6 423.2L378.8 423.1L378.1 423.0L377.3 423.0L376.6 422.9L375.8 422.8L375.1 422.7L374.3 422.6L373.6 422.5L372.8 422.4L372.1 422.3L371.3 422.2L370.6 422.1L369.8 422.0L369.1 421.9L368.3 421.9L367.6 421.8L366.8 421.7L366.1 421.6L365.3 421.5L364.6 421.4L363.8 421.3L363.1 421.2L362.3 421.0L361.6 420.9L360.8 420.8L360.1 420.7L359.3 420.6L358.6 420.5L357.8 420.3L357.1 420.2L356.3 420.1L355.6 420.0L354.8 419.8L354.1 419.7L353.3 419.6L352.6 419.4L351.8 419.3L351.1 419.1L350.3 419.0L349.6 418.8L348.8 418.7L348.1 418.5L347.3 418.4L346.6 418.2L345.8 418.1L345.1 417.9L344.3 417.7L343.6 417.6L342.8 417.4L342.1 417.2L341.3 417.0L340.6 416.8L339.8 416.6L339.1 416.5L338.3 416.3L337.6 416.1L336.8 415.8L336.1 415.6L335.3 415.4L334.6 415.2L333.8 414.9L333.1 414.7L332.3 414.4L331.6 414.2L330.8 413.9L330.1 413.7L329.3 413.4L328.6 413.2L327.8 412.9L327.1 412.6L326.3 412.4L325.6 412.1L324.8 411.8L324.1 411.5L323.3 411.2L322.6 411.0L321.8 410.7L321.1 410.4L320.3 410.1L319.6 409.8L318.8 409.5L318.1 409.2L317.3 408.9L316.6 408.6L315.8 408.3L315.1 408.0L314.3 407.7L313.6 407.4L312.8 407.1L312.1 406.8L311.3 406.4L310.6 406.1L309.8 405.8L309.1 405.4L308.3 405.1L307.6 404.8L306.8 404.4L306.1 404.1L305.3 403.7L304.6 403.4L303.8 403.0L303.1 402.7L302.3 402.4L301.6 402.0L300.8 401.7L300.1 401.3L299.3 401.0L298.6 400.6L297.8 400.3L297.1 399.9L296.3 399.5L295.6 399.1L294.8 398.7L294.1 398.4L293.3 398.0L292.6 397.6L291.8 397.2L291.1 396.8L290.3 396.4L289.6 396.0L288.8 395.6L288.1 395.2L287.3 394.8L286.6 394.4L285.8 394.1L285.1 393.7L284.3 393.3L283.6 393.0L282.8 392.6L282.1 392.3L281.3 391.9L280.6 391.6L279.8 391.3L279.1 391.0L278.3 390.7L277.6 390.4L276.8 390.2L276.1 389.9L275.3 389.7L274.6 389.4L273.8 389.2L273.1 388.9L272.3 388.7L271.6 388.5L270.8 388.2L270.1 388.0L269.3 387.8L268.6 387.6L267.8 387.4L267.1 387.2L266.3 386.9L265.6 386.7L264.8 386.5L264.1 386.3L263.3 386.1L262.6 385.9L261.8 385.7L261.1 385.5L260.3 385.3L259.6 385.1L258.8 384.9L258.1 384.7L257.3 384.4L256.6 384.2L255.8 384.0L255.1 383.8L254.3 383.6L253.6 383.4L252.8 383.2L252.1 383.0L251.3 382.8L250.6 382.6L249.8 382.4L249.1 382.3L248.3 382.1L247.6 381.9L246.8 381.7L246.1 381.5L245.3 381.3L244.6 381.1L243.8 380.9L243.1 380.7L242.3 380.5L241.6 380.3L240.8 380.1L240.1 379.9L239.3 379.7L238.6 379.5L237.8 379.3L237.1 379.1L236.3 378.9L235.6 378.7L234.8 378.5L234.1 378.3L233.3 378.1L232.6 377.9L231.8 377.7L231.1 377.5L230.3 377.3L229.6 377.1L228.8 376.9L228.1 376.7L227.3 376.5L226.6 376.3L225.8 376.1L225.1 375.9L224.3 375.7L223.6 375.5L222.8 375.3L222.1 375.1L221.3 374.9L220.6 374.7L219.8 374.5L219.1 374.3L218.3 374.1L217.6 373.9L216.8 373.7L216.1 373.5L215.3 373.3L214.6 373.1L213.8 372.9L213.1 372.7L212.3 372.5L211.6 372.3L210.8 372.1L210.1 371.9L209.3 371.7L208.6 371.5L207.8 371.3L207.1 371.1L206.3 370.9L205.6 370.7Z" fill="rgba(240,173,11,0.45)"/>
<path d="M400.6 425.9L401.3 425.9L402.1 425.8L402.8 425.7L403.6 425.6L404.3 425.5L405.1 425.4L405.8 425.3L406.6 425.2L407.3 425.1L408.1 425.0L408.8 424.9L409.6 424.8L410.3 424.8L411.1 424.7L411.8 424.6L412.6 424.5L413.3 424.4L414.1 424.4L414.8 424.3L415.6 424.3L416.3 424.2L417.1 424.1L417.8 424.1L418.6 424.1L419.3 424.0L420.1 424.0L420.8 424.0L421.6 424.0L422.3 424.0L423.1 424.0L423.8 424.0L424.6 424.0L425.3 424.1L426.1 424.1L426.8 424.1L427.6 424.2L428.3 424.2L429.1 424.3L429.8 424.3L430.6 424.3L431.3 424.4L432.1 424.4L432.8 424.5L433.6 424.5L434.3 424.6L435.1 424.6L435.8 424.7L436.6 424.7L437.3 424.7L438.1 424.7L438.8 424.8L439.6 424.8L440.3 424.8L441.1 424.8L441.8 424.8L442.6 424.7L443.3 424.7L444.1 424.6L444.8 424.6L445.6 424.5L446.3 424.4L447.1 424.3L447.8 424.1L448.6 424.0L449.3 423.8L450.1 423.6L450.8 423.4L451.6 423.1L452.3 422.8L453.1 422.4L453.8 422.0L454.6 421.5L455.3 420.9L456.1 420.3L456.8 419.7L457.6 419.0L458.3 418.2L459.1 417.3L459.8 416.3L460.6 415.3L461.3 414.2L462.1 413.0L462.8 411.8L463.6 410.5L464.3 409.2L465.1 407.9L465.8 406.5L466.6 405.1L467.3 403.7L468.1 402.2L468.8 400.5L469.6 398.8L470.3 396.9L471.1 395.0L471.8 392.9L472.6 390.7L473.3 388.5L474.1 386.1L474.8 383.5L475.6 380.8L476.3 378.0L477.1 375.2L477.8 372.4L478.6 369.6L479.3 366.8L480.1 363.8L480.8 360.6L481.6 357.2L482.3 353.6L483.1 349.7L483.8 345.8L484.6 341.9L485.3 338.2L486.1 334.6L486.8 331.2L487.6 327.8L488.3 324.5L489.1 321.4L489.8 318.5L490.6 316.0L491.3 313.7L492.1 311.8L492.8 310.0L493.6 308.4L494.3 307.0L495.1 305.9L495.8 305.0L496.6 304.5L497.3 304.6L498.1 305.6L498.8 307.4L499.6 309.6L500.3 311.9L501.1 314.6L501.8 317.7L502.6 321.0L503.3 324.2L504.1 327.1L504.8 329.7L505.6 332.3L506.3 335.4L507.1 339.2L507.8 343.7L508.6 348.8L509.3 354.2L510.1 359.8L510.8 365.1L511.6 370.2L512.3 374.7L513.0 378.6L513.8 382.1L514.5 385.3L515.3 388.3L516.0 391.3L516.8 394.2L517.5 397.2L518.3 400.1L519.0 403.0L519.8 405.8L520.5 408.5L521.3 411.1L522.0 413.6L522.8 416.0L523.5 418.3L524.3 420.6L525.0 422.8L525.8 425.0L526.5 427.2L527.3 429.4L528.0 431.7L528.8 434.2L529.5 436.7L530.3 438.7L531.0 440.1L531.8 441.2L532.5 442.0L533.3 442.5L534.0 442.9L534.8 443.4L535.5 443.9L536.3 444.3L537.0 444.8L537.8 445.3L538.5 445.8L539.3 446.2L540.0 446.7L540.8 447.1L541.5 447.6L542.3 448.0L543.0 448.5L543.8 448.9L544.5 449.4L545.3 449.8L546.0 450.3L546.8 450.7L547.5 451.2L548.3 451.6L549.0 452.1L549.8 452.5L550.5 453.0L551.3 453.4L552.0 453.8L552.8 454.3L553.5 454.7L554.3 455.2L555.0 455.6L555.8 456.1L556.5 456.5L557.3 457.0L558.0 457.4L558.8 457.9L559.5 458.3L560.3 458.8L561.0 459.2L561.8 459.7L562.5 460.1L563.3 460.6L564.0 461.0L564.8 461.5L565.5 461.9L566.3 462.4L567.0 462.8L567.8 463.3L568.5 463.7L569.3 464.2L570.0 464.6L570.8 465.1L571.5 465.5L572.3 466.0L573.0 466.4L573.8 466.9L574.5 467.3L575.3 467.8L576.0 468.2L576.8 468.7L577.5 469.1L578.3 469.6L579.0 470.0L579.8 470.4L580.5 470.9L581.3 471.3L582.0 471.7L582.8 472.2L583.5 472.6L584.3 473.0L585.0 473.4L585.8 473.9L586.5 474.3L587.3 474.7L588.0 475.2L588.8 475.6L589.5 476.0L590.3 476.5L591.0 476.9L591.8 477.3L592.5 477.8L593.3 478.2L594.0 478.7L594.8 479.2L595.5 479.7L596.3 480.1L597.0 480.6L597.8 481.1L598.5 481.7L599.3 482.2L600.0 482.8L600.8 483.4L601.5 484.0L602.3 484.7L603.0 485.4L603.8 486.1L604.5 486.8L605.3 487.5L606.0 488.2L606.8 489.0L607.5 489.7L608.3 490.5L609.0 491.3L609.8 492.0L609.8 492.1L609.0 491.5L608.3 491.0L607.5 490.5L606.8 490.0L606.0 489.5L605.3 489.0L604.5 488.5L603.8 488.0L603.0 487.5L602.3 487.1L601.5 486.6L600.8 486.2L600.0 485.8L599.3 485.3L598.5 484.9L597.8 484.5L597.0 484.1L596.3 483.8L595.5 483.4L594.8 483.1L594.0 482.8L593.3 482.5L592.5 482.2L591.8 482.0L591.0 481.7L590.3 481.4L589.5 481.2L588.8 480.9L588.0 480.7L587.3 480.4L586.5 480.2L585.8 480.0L585.0 479.7L584.3 479.5L583.5 479.3L582.8 479.1L582.0 478.9L581.3 478.6L580.5 478.4L579.8 478.2L579.0 478.0L578.3 477.8L577.5 477.6L576.8 477.4L576.0 477.2L575.3 477.0L574.5 476.8L573.8 476.6L573.0 476.4L572.3 476.2L571.5 476.0L570.8 475.8L570.0 475.6L569.3 475.4L568.5 475.2L567.8 475.0L567.0 474.8L566.3 474.6L565.5 474.4L564.8 474.1L564.0 473.9L563.3 473.7L562.5 473.5L561.8 473.3L561.0 473.1L560.3 473.0L559.5 472.8L558.8 472.6L558.0 472.4L557.3 472.2L556.5 472.0L555.8 471.8L555.0 471.6L554.3 471.4L553.5 471.2L552.8 471.0L552.0 470.8L551.3 470.6L550.5 470.4L549.8 470.2L549.0 470.0L548.3 469.8L547.5 469.6L546.8 469.4L546.0 469.2L545.3 469.0L544.5 468.8L543.8 468.6L543.0 468.4L542.3 468.2L541.5 468.0L540.8 467.7L540.0 467.5L539.3 467.3L538.5 467.0L537.8 466.8L537.0 466.6L536.3 466.3L535.5 466.1L534.8 465.8L534.0 465.5L533.3 465.3L532.5 465.0L531.8 464.7L531.0 464.5L530.3 464.2L529.5 463.9L528.8 463.7L528.0 463.4L527.3 463.1L526.5 462.9L525.8 462.6L525.0 462.3L524.3 462.1L523.5 461.8L522.8 461.5L522.0 461.3L521.3 461.0L520.5 460.8L519.8 460.5L519.0 460.3L518.3 460.1L517.5 459.8L516.8 459.6L516.0 459.3L515.3 459.1L514.5 458.9L513.8 458.6L513.0 458.4L512.3 458.2L511.6 458.0L510.8 457.7L510.1 457.5L509.3 457.3L508.6 457.1L507.8 456.8L507.1 456.6L506.3 456.4L505.6 456.2L504.8 455.9L504.1 455.7L503.3 455.5L502.6 455.3L501.8 455.1L501.1 454.8L500.3 454.6L499.6 454.4L498.8 454.2L498.1 454.0L497.3 453.7L496.6 453.5L495.8 453.3L495.1 453.1L494.3 452.9L493.6 452.7L492.8 452.4L492.1 452.2L491.3 452.0L490.6 451.8L489.8 451.6L489.1 451.4L488.3 451.1L487.6 450.9L486.8 450.7L486.1 450.5L485.3 450.3L484.6 450.0L483.8 449.8L483.1 449.6L482.3 449.4L481.6 449.2L480.8 448.9L480.1 448.7L479.3 448.5L478.6 448.3L477.8 448.0L477.1 447.8L476.3 447.6L475.6 447.4L474.8 447.1L474.1 446.9L473.3 446.7L472.6 446.5L471.8 446.2L471.1 446.0L470.3 445.8L469.6 445.6L468.8 445.3L468.1 445.1L467.3 444.9L466.6 444.7L465.8 444.4L465.1 444.2L464.3 444.0L463.6 443.8L462.8 443.5L462.1 443.3L461.3 443.1L460.6 442.9L459.8 442.6L459.1 442.4L458.3 442.2L457.6 442.0L456.8 441.7L456.1 441.5L455.3 441.3L454.6 441.1L453.8 440.9L453.1 440.6L452.3 440.4L451.6 440.2L450.8 440.0L450.1 439.8L449.3 439.5L448.6 439.3L447.8 439.1L447.1 438.9L446.3 438.6L445.6 438.4L444.8 438.2L444.1 438.0L443.3 437.7L442.6 437.5L441.8 437.3L441.1 437.0L440.3 436.8L439.6 436.6L438.8 436.3L438.1 436.1L437.3 435.8L436.6 435.5L435.8 435.3L435.1 435.0L434.3 434.7L433.6 434.5L432.8 434.2L432.1 433.9L431.3 433.7L430.6 433.4L429.8 433.1L429.1 432.8L428.3 432.6L427.6 432.3L426.8 432.1L426.1 431.8L425.3 431.6L424.6 431.3L423.8 431.1L423.1 430.8L422.3 430.6L421.6 430.4L420.8 430.2L420.1 430.0L419.3 429.8L418.6 429.6L417.8 429.5L417.1 429.3L416.3 429.1L415.6 428.9L414.8 428.8L414.1 428.6L413.3 428.5L412.6 428.3L411.8 428.1L411.1 428.0L410.3 427.8L409.6 427.7L408.8 427.5L408.1 427.4L407.3 427.3L406.6 427.1L405.8 427.0L405.1 426.9L404.3 426.7L403.6 426.6L402.8 426.5L402.1 426.3L401.3 426.2L400.6 426.1Z" fill="rgba(240,173,11,0.45)"/>
<path d="M117.8 338.3L118.5 338.4L119.3 338.6L120.0 338.8L120.8 338.9L121.5 339.1L122.3 339.3L123.0 339.4L123.8 339.6L124.5 339.8L125.3 340.0L126.0 340.1L126.8 340.3L127.5 340.5L128.3 340.7L129.1 340.9L129.8 341.1L130.6 341.3L131.3 341.5L132.1 341.7L132.8 342.0L133.6 342.2L134.3 342.4L135.1 342.6L135.8 342.8L136.6 343.0L137.3 343.3L138.1 343.5L138.8 343.7L139.6 344.0L140.3 344.2L141.1 344.4L141.8 344.7L142.6 345.0L143.3 345.2L144.1 345.5L144.8 345.7L145.6 346.0L146.3 346.3L147.1 346.5L147.8 346.8L148.6 347.1L149.3 347.4L150.1 347.6L150.8 347.9L151.6 348.1L152.3 348.4L153.1 348.7L153.8 348.9L154.6 349.2L155.3 349.5L156.1 349.8L156.8 350.1L157.6 350.4L158.3 350.6L159.1 350.9L159.8 351.2L160.6 351.5L161.3 351.8L162.1 352.1L162.8 352.4L163.6 352.7L164.3 353.0L165.1 353.3L165.8 353.6L166.6 353.9L167.3 354.2L168.1 354.5L168.8 354.8L169.6 355.0L170.3 355.3L171.1 355.5L171.8 355.8L172.6 356.0L173.3 356.3L174.1 356.5L174.8 356.7L175.6 357.0L176.3 357.2L177.1 357.5L177.8 357.7L178.6 357.9L179.3 358.2L180.1 358.4L180.8 358.6L181.6 358.8L182.3 359.1L183.1 359.3L183.8 359.5L184.6 359.7L185.3 359.9L186.1 360.1L186.8 360.3L187.6 360.5L188.3 360.7L189.1 360.9L189.8 361.1L190.6 361.4L191.3 361.6L192.1 361.8L192.8 362.0L193.6 362.2L194.3 362.4L195.1 362.6L195.8 362.8L196.6 363.0L197.3 363.2L198.1 363.4L198.8 363.6L199.6 363.8L200.3 364.0L201.1 364.2L201.8 364.4L202.6 364.5L203.3 364.7L204.1 364.9L204.8 365.1L205.6 365.3L206.3 365.5L207.1 365.7L207.8 365.9L208.6 366.1L209.3 366.2L210.1 366.4L210.8 366.6L211.6 366.8L212.3 367.0L213.1 367.2L213.8 367.3L214.6 367.5L215.3 367.7L216.1 367.9L216.8 368.1L217.6 368.2L218.3 368.4L219.1 368.6L219.8 368.8L220.6 369.0L221.3 369.1L222.1 369.3L222.8 369.5L223.6 369.7L224.3 369.9L225.1 370.0L225.8 370.2L226.6 370.4L227.3 370.6L228.1 370.7L228.8 370.9L229.6 371.1L230.3 371.3L231.1 371.4L231.8 371.6L232.6 371.8L233.3 372.0L234.1 372.1L234.8 372.3L235.6 372.5L236.3 372.7L237.1 372.8L237.8 373.0L238.6 373.2L239.3 373.4L240.1 373.5L240.8 373.7L241.6 373.9L242.3 374.1L243.1 374.3L243.8 374.5L244.6 374.7L245.3 374.9L246.1 375.0L246.8 375.2L247.6 375.4L248.3 375.6L249.1 375.8L249.8 376.0L250.6 376.2L251.3 376.4L252.1 376.6L252.8 376.8L253.6 377.0L254.3 377.2L255.1 377.4L255.8 377.6L256.6 377.8L257.3 378.0L258.1 378.2L258.8 378.4L259.6 378.6L260.3 378.8L261.1 379.0L261.8 379.2L262.6 379.3L263.3 379.5L264.1 379.7L264.8 379.9L265.6 380.1L266.3 380.3L267.1 380.5L267.8 380.7L268.6 380.9L269.3 381.1L270.1 381.3L270.8 381.5L271.6 381.7L272.3 381.9L273.1 382.1L273.8 382.3L274.6 382.5L275.3 382.8L276.1 383.0L276.8 383.2L277.6 383.5L278.3 383.8L279.1 384.0L279.8 384.3L280.6 384.6L281.3 384.9L282.1 385.2L282.8 385.5L283.6 385.8L284.3 386.1L285.1 386.4L285.8 386.8L286.6 387.1L287.3 387.5L288.1 387.8L288.8 388.2L289.6 388.5L290.3 388.9L291.1 389.2L291.8 389.6L292.6 389.9L293.3 390.3L294.1 390.7L294.8 391.0L295.6 391.4L296.3 391.7L297.1 392.0L297.8 392.4L298.6 392.7L299.3 393.0L300.1 393.3L300.8 393.6L301.6 393.9L302.3 394.1L303.1 394.4L303.8 394.7L304.6 394.9L305.3 395.2L306.1 395.5L306.8 395.7L307.6 396.0L308.3 396.3L309.1 396.5L309.8 396.8L310.6 397.0L311.3 397.3L312.1 397.5L312.8 397.8L313.6 398.0L314.3 398.3L315.1 398.5L315.8 398.8L316.6 399.0L317.3 399.2L318.1 399.4L318.8 399.7L319.6 399.9L320.3 400.1L321.1 400.3L321.8 400.5L322.6 400.7L323.3 400.9L324.1 401.1L324.8 401.3L325.6 401.5L326.3 401.7L327.1 401.9L327.8 402.1L328.6 402.3L329.3 402.5L330.1 402.7L330.8 402.9L331.6 403.0L332.3 403.2L333.1 403.4L333.8 403.6L334.6 403.7L335.3 403.9L336.1 404.0L336.8 404.2L337.6 404.3L338.3 404.4L339.1 404.6L339.8 404.7L340.6 404.9L341.3 405.1L342.1 405.3L342.8 405.6L343.6 405.8L344.3 406.0L345.1 406.2L345.8 406.4L346.6 406.7L347.3 406.9L348.1 407.1L348.8 407.3L349.6 407.5L350.3 407.7L351.1 407.9L351.8 408.1L352.6 408.3L353.3 408.4L354.1 408.6L354.8 408.8L355.6 409.0L356.3 409.2L357.1 409.5L357.8 409.7L358.6 409.9L359.3 410.1L360.1 410.3L360.8 410.5L361.6 410.7L362.3 410.9L363.1 411.1L363.8 411.3L364.6 411.5L365.3 411.7L366.1 411.9L366.8 412.1L367.6 412.3L368.3 412.4L369.1 412.6L369.8 412.8L370.6 413.0L371.3 413.2L372.1 413.4L372.8 413.5L373.6 413.7L374.3 413.9L375.1 414.1L375.8 414.3L376.6 414.4L377.3 414.6L378.1 414.8L378.8 415.0L379.6 415.2L380.3 415.4L381.1 415.5L381.8 415.6L382.6 415.7L383.3 415.9L384.1 416.0L384.8 416.1L385.6 416.2L386.3 416.4L387.1 416.5L387.8 416.6L388.6 416.7L389.3 416.9L390.1 417.0L390.8 417.1L391.6 417.2L392.3 417.4L393.1 417.5L393.8 417.6L394.6 417.8L395.3 417.9L396.1 418.0L396.8 418.2L397.6 418.3L398.3 418.5L399.1 418.6L399.8 418.8L400.6 418.9L401.3 419.1L402.1 419.2L402.8 419.4L403.6 419.5L404.3 419.7L405.1 419.9L405.8 420.0L406.6 420.1L407.3 420.3L408.1 420.4L408.8 420.5L409.6 420.7L410.3 420.8L411.1 421.0L411.8 421.1L412.6 421.3L413.3 421.5L414.1 421.6L414.8 421.8L415.6 421.9L416.3 422.1L417.1 422.3L417.8 422.5L418.6 422.6L419.3 422.8L420.1 423.0L420.8 423.2L421.6 423.4L422.3 423.6L423.1 423.8L423.8 424.1L424.6 424.3L425.3 424.6L426.1 424.8L426.8 425.1L427.6 425.3L428.3 425.6L429.1 425.8L429.8 426.1L430.6 426.4L431.3 426.8L432.1 427.1L432.8 427.4L433.6 427.7L434.3 428.1L435.1 428.4L435.8 428.7L436.6 429.0L437.3 429.4L438.1 429.7L438.8 430.0L439.6 430.3L440.3 430.6L441.1 430.9L441.8 431.1L442.6 431.4L443.3 431.7L444.1 432.0L444.8 432.3L445.6 432.6L446.3 432.9L447.1 433.1L447.8 433.4L448.6 433.7L449.3 434.0L450.1 434.3L450.8 434.5L451.6 434.8L452.3 435.1L453.1 435.3L453.8 435.6L454.6 435.9L455.3 436.1L456.1 436.4L456.8 436.7L457.6 436.9L458.3 437.2L459.1 437.5L459.8 437.7L460.6 438.0L461.3 438.3L462.1 438.5L462.8 438.8L463.6 439.1L464.3 439.3L465.1 439.6L465.8 439.9L466.6 440.2L467.3 440.4L468.1 440.7L468.8 441.0L469.6 441.2L470.3 441.4L471.1 441.5L471.8 441.6L472.6 441.7L473.3 441.8L474.1 441.9L474.8 442.0L475.6 442.1L476.3 442.2L477.1 442.3L477.8 442.4L478.6 442.5L479.3 442.6L480.1 442.7L480.8 442.9L481.6 443.1L482.3 443.3L483.1 443.5L483.8 443.6L484.6 443.8L485.3 444.0L486.1 444.2L486.8 444.4L487.6 444.5L488.3 444.7L489.1 444.9L489.8 445.1L490.6 445.3L491.3 445.4L492.1 445.6L492.8 445.8L493.6 446.0L494.3 446.2L495.1 446.3L495.8 446.5L496.6 446.7L497.3 446.9L498.1 447.1L498.8 447.2L499.6 447.4L500.3 447.6L501.1 447.8L501.8 448.1L502.6 448.3L503.3 448.5L504.1 448.7L504.8 448.9L505.6 449.2L506.3 449.4L507.1 449.6L507.8 449.8L508.6 450.1L509.3 450.3L510.1 450.5L510.8 450.7L511.6 451.0L512.3 451.2L513.0 451.4L513.8 451.6L514.5 451.9L515.3 452.1L516.0 452.3L516.8 452.6L517.5 452.8L518.3 453.1L519.0 453.3L519.8 453.5L520.5 453.8L521.3 454.1L522.0 454.4L522.8 454.7L523.5 455.1L524.3 455.4L525.0 455.7L525.8 456.0L526.5 456.3L527.3 456.7L528.0 457.0L528.8 457.3L529.5 457.6L530.3 458.0L531.0 458.3L531.8 458.6L532.5 459.0L533.3 459.3L534.0 459.6L534.8 459.9L535.5 460.2L536.3 460.5L537.0 460.8L537.8 461.1L538.5 461.4L539.3 461.7L540.0 462.0L540.8 462.2L541.5 462.5L542.3 462.7L543.0 462.9L543.8 463.1L544.5 463.3L545.3 463.5L546.0 463.7L546.8 463.9L547.5 464.1L548.3 464.3L549.0 464.5L549.8 464.7L550.5 464.9L551.3 465.1L552.0 465.3L552.8 465.5L553.5 465.7L554.3 465.9L555.0 466.1L555.8 466.3L556.5 466.5L557.3 466.7L558.0 466.9L558.8 467.1L559.5 467.3L560.3 467.5L561.0 467.6L561.8 467.8L562.5 468.0L563.3 468.2L564.0 468.4L564.8 468.6L565.5 468.9L566.3 469.1L567.0 469.3L567.8 469.5L568.5 469.8L569.3 470.1L570.0 470.3L570.8 470.6L571.5 470.8L572.3 471.1L573.0 471.4L573.8 471.6L574.5 471.9L575.3 472.1L576.0 472.4L576.8 472.6L577.5 472.9L578.3 473.1L579.0 473.4L579.8 473.6L580.5 473.9L581.3 474.2L582.0 474.4L582.8 474.7L583.5 475.0L584.3 475.2L585.0 475.5L585.8 475.8L586.5 476.1L587.3 476.4L588.0 476.7L588.8 477.0L589.5 477.3L590.3 477.6L591.0 477.9L591.8 478.2L592.5 478.6L593.3 478.9L594.0 479.3L594.8 479.6L595.5 479.9L596.3 480.1L597.0 480.4L597.8 480.7L598.5 481.0L599.3 481.3L600.0 481.6L600.8 482.0L601.5 482.3L602.3 482.7L603.0 483.0L603.8 483.4L604.5 483.8L605.3 484.2L606.0 484.6L606.8 485.0L607.5 485.4L608.3 485.8L609.0 486.3L609.8 486.7L610.5 486.9L611.3 487.1L612.0 487.4L612.8 487.6L613.5 487.9L614.3 488.1L615.0 488.4L615.8 488.6L616.5 488.9L617.3 489.1L618.0 489.3L618.8 489.5L619.5 489.7L620.3 489.8L621.0 489.9L621.8 490.0L622.5 490.4L623.3 490.7L624.0 491.0L624.8 491.3L625.5 491.6L626.3 491.8L627.0 492.1L627.8 492.3L628.5 492.6L629.3 492.8L630.0 493.0L630.8 493.2L631.5 493.4L632.3 493.6L633.0 493.7L633.8 494.0L634.5 494.3L635.3 494.6L636.0 494.9L636.8 495.2L637.5 495.4L638.3 495.7L639.0 495.9L639.8 496.2L640.5 496.4L641.3 496.6L642.0 496.9L642.8 497.1L643.5 497.3L644.3 497.5L645.0 497.7L645.8 498.0L646.5 498.2L647.3 498.5L648.0 498.8L648.8 499.0L649.5 499.3L650.3 499.6L651.0 499.8L651.8 500.1L652.5 500.3L653.3 500.5L654.0 500.8L654.8 501.0L655.5 501.2L656.3 501.4L657.0 501.5L657.8 501.7L658.5 501.8L659.3 502.0L660.0 502.1L660.8 502.3L661.5 502.4L662.3 502.6L663.0 502.7L663.8 502.9L664.5 503.0L665.3 503.2L666.0 503.3L666.8 503.5L667.5 503.6L668.3 503.8L669.0 503.9L669.8 504.1L670.5 504.2L671.3 504.5L672.0 504.9L672.8 505.3L673.5 505.5L674.3 505.7L674.6 505.8L674.6 507.3L674.3 507.4L673.5 507.7L672.8 508.0L672.0 508.2L671.3 508.3L670.5 508.3L669.8 508.3L669.0 508.3L668.3 508.3L667.5 508.3L666.8 508.3L666.0 508.3L665.3 508.3L664.5 508.3L663.8 508.3L663.0 508.3L662.3 508.3L661.5 508.3L660.8 508.3L660.0 508.3L659.3 508.3L658.5 508.3L657.8 508.3L657.0 508.3L656.3 508.3L655.5 508.3L654.8 508.3L654.0 508.3L653.3 508.2L652.5 508.2L651.8 508.2L651.0 508.1L650.3 508.1L649.5 508.0L648.8 507.9L648.0 507.9L647.3 507.8L646.5 507.7L645.8 507.6L645.0 507.6L644.3 507.5L643.5 507.4L642.8 507.3L642.0 507.2L641.3 507.1L640.5 506.9L639.8 506.8L639.0 506.6L638.3 506.5L637.5 506.3L636.8 506.2L636.0 506.0L635.3 505.8L634.5 505.6L633.8 505.4L633.0 505.2L632.3 505.0L631.5 504.8L630.8 504.6L630.0 504.3L629.3 504.0L628.5 503.8L627.8 503.5L627.0 503.2L626.3 502.9L625.5 502.5L624.8 502.2L624.0 501.9L623.3 501.5L622.5 501.1L621.8 500.8L621.0 500.4L620.3 499.9L619.5 499.5L618.8 498.9L618.0 498.4L617.3 497.9L616.5 497.3L615.8 496.7L615.0 496.1L614.3 495.5L613.5 494.9L612.8 494.3L612.0 493.7L611.3 493.1L610.5 492.6L609.8 492.1L609.0 491.5L608.3 491.0L607.5 490.5L606.8 490.0L606.0 489.5L605.3 489.0L604.5 488.5L603.8 488.0L603.0 487.5L602.3 487.1L601.5 486.6L600.8 486.2L600.0 485.8L599.3 485.3L598.5 484.9L597.8 484.5L597.0 484.1L596.3 483.8L595.5 483.4L594.8 483.1L594.0 482.8L593.3 482.5L592.5 482.2L591.8 482.0L591.0 481.7L590.3 481.4L589.5 481.2L588.8 480.9L588.0 480.7L587.3 480.4L586.5 480.2L585.8 480.0L585.0 479.7L584.3 479.5L583.5 479.3L582.8 479.1L582.0 478.9L581.3 478.6L580.5 478.4L579.8 478.2L579.0 478.0L578.3 477.8L577.5 477.6L576.8 477.4L576.0 477.2L575.3 477.0L574.5 476.8L573.8 476.6L573.0 476.4L572.3 476.2L571.5 476.0L570.8 475.8L570.0 475.6L569.3 475.4L568.5 475.2L567.8 475.0L567.0 474.8L566.3 474.6L565.5 474.4L564.8 474.1L564.0 473.9L563.3 473.7L562.5 473.5L561.8 473.3L561.0 473.1L560.3 473.0L559.5 472.8L558.8 472.6L558.0 472.4L557.3 472.2L556.5 472.0L555.8 471.8L555.0 471.6L554.3 471.4L553.5 471.2L552.8 471.0L552.0 470.8L551.3 470.6L550.5 470.4L549.8 470.2L549.0 470.0L548.3 469.8L547.5 469.6L546.8 469.4L546.0 469.2L545.3 469.0L544.5 468.8L543.8 468.6L543.0 468.4L542.3 468.2L541.5 468.0L540.8 467.7L540.0 467.5L539.3 467.3L538.5 467.0L537.8 466.8L537.0 466.6L536.3 466.3L535.5 466.1L534.8 465.8L534.0 465.5L533.3 465.3L532.5 465.0L531.8 464.7L531.0 464.5L530.3 464.2L529.5 463.9L528.8 463.7L528.0 463.4L527.3 463.1L526.5 462.9L525.8 462.6L525.0 462.3L524.3 462.1L523.5 461.8L522.8 461.5L522.0 461.3L521.3 461.0L520.5 460.8L519.8 460.5L519.0 460.3L518.3 460.1L517.5 459.8L516.8 459.6L516.0 459.3L515.3 459.1L514.5 458.9L513.8 458.6L513.0 458.4L512.3 458.2L511.6 458.0L510.8 457.7L510.1 457.5L509.3 457.3L508.6 457.1L507.8 456.8L507.1 456.6L506.3 456.4L505.6 456.2L504.8 455.9L504.1 455.7L503.3 455.5L502.6 455.3L501.8 455.1L501.1 454.8L500.3 454.6L499.6 454.4L498.8 454.2L498.1 454.0L497.3 453.7L496.6 453.5L495.8 453.3L495.1 453.1L494.3 452.9L493.6 452.7L492.8 452.4L492.1 452.2L491.3 452.0L490.6 451.8L489.8 451.6L489.1 451.4L488.3 451.1L487.6 450.9L486.8 450.7L486.1 450.5L485.3 450.3L484.6 450.0L483.8 449.8L483.1 449.6L482.3 449.4L481.6 449.2L480.8 448.9L480.1 448.7L479.3 448.5L478.6 448.3L477.8 448.0L477.1 447.8L476.3 447.6L475.6 447.4L474.8 447.1L474.1 446.9L473.3 446.7L472.6 446.5L471.8 446.2L471.1 446.0L470.3 445.8L469.6 445.6L468.8 445.3L468.1 445.1L467.3 444.9L466.6 444.7L465.8 444.4L465.1 444.2L464.3 444.0L463.6 443.8L462.8 443.5L462.1 443.3L461.3 443.1L460.6 442.9L459.8 442.6L459.1 442.4L458.3 442.2L457.6 442.0L456.8 441.7L456.1 441.5L455.3 441.3L454.6 441.1L453.8 440.9L453.1 440.6L452.3 440.4L451.6 440.2L450.8 440.0L450.1 439.8L449.3 439.5L448.6 439.3L447.8 439.1L447.1 438.9L446.3 438.6L445.6 438.4L444.8 438.2L444.1 438.0L443.3 437.7L442.6 437.5L441.8 437.3L441.1 437.0L440.3 436.8L439.6 436.6L438.8 436.3L438.1 436.1L437.3 435.8L436.6 435.5L435.8 435.3L435.1 435.0L434.3 434.7L433.6 434.5L432.8 434.2L432.1 433.9L431.3 433.7L430.6 433.4L429.8 433.1L429.1 432.8L428.3 432.6L427.6 432.3L426.8 432.1L426.1 431.8L425.3 431.6L424.6 431.3L423.8 431.1L423.1 430.8L422.3 430.6L421.6 430.4L420.8 430.2L420.1 430.0L419.3 429.8L418.6 429.6L417.8 429.5L417.1 429.3L416.3 429.1L415.6 428.9L414.8 428.8L414.1 428.6L413.3 428.5L412.6 428.3L411.8 428.1L411.1 428.0L410.3 427.8L409.6 427.7L408.8 427.5L408.1 427.4L407.3 427.3L406.6 427.1L405.8 427.0L405.1 426.9L404.3 426.7L403.6 426.6L402.8 426.5L402.1 426.3L401.3 426.2L400.6 426.1L399.8 426.0L399.1 425.8L398.3 425.7L397.6 425.6L396.8 425.5L396.1 425.4L395.3 425.3L394.6 425.2L393.8 425.1L393.1 425.0L392.3 424.9L391.6 424.8L390.8 424.7L390.1 424.6L389.3 424.5L388.6 424.4L387.8 424.3L387.1 424.2L386.3 424.1L385.6 424.0L384.8 423.9L384.1 423.8L383.3 423.7L382.6 423.6L381.8 423.5L381.1 423.4L380.3 423.3L379.6 423.2L378.8 423.1L378.1 423.0L377.3 423.0L376.6 422.9L375.8 422.8L375.1 422.7L374.3 422.6L373.6 422.5L372.8 422.4L372.1 422.3L371.3 422.2L370.6 422.1L369.8 422.0L369.1 421.9L368.3 421.9L367.6 421.8L366.8 421.7L366.1 421.6L365.3 421.5L364.6 421.4L363.8 421.3L363.1 421.2L362.3 421.0L361.6 420.9L360.8 420.8L360.1 420.7L359.3 420.6L358.6 420.5L357.8 420.3L357.1 420.2L356.3 420.1L355.6 420.0L354.8 419.8L354.1 419.7L353.3 419.6L352.6 419.4L351.8 419.3L351.1 419.1L350.3 419.0L349.6 418.8L348.8 418.7L348.1 418.5L347.3 418.4L346.6 418.2L345.8 418.1L345.1 417.9L344.3 417.7L343.6 417.6L342.8 417.4L342.1 417.2L341.3 417.0L340.6 416.8L339.8 416.6L339.1 416.5L338.3 416.3L337.6 416.1L336.8 415.8L336.1 415.6L335.3 415.4L334.6 415.2L333.8 414.9L333.1 414.7L332.3 414.4L331.6 414.2L330.8 413.9L330.1 413.7L329.3 413.4L328.6 413.2L327.8 412.9L327.1 412.6L326.3 412.4L325.6 412.1L324.8 411.8L324.1 411.5L323.3 411.2L322.6 411.0L321.8 410.7L321.1 410.4L320.3 410.1L319.6 409.8L318.8 409.5L318.1 409.2L317.3 408.9L316.6 408.6L315.8 408.3L315.1 408.0L314.3 407.7L313.6 407.4L312.8 407.1L312.1 406.8L311.3 406.4L310.6 406.1L309.8 405.8L309.1 405.4L308.3 405.1L307.6 404.8L306.8 404.4L306.1 404.1L305.3 403.7L304.6 403.4L303.8 403.0L303.1 402.7L302.3 402.4L301.6 402.0L300.8 401.7L300.1 401.3L299.3 401.0L298.6 400.6L297.8 400.3L297.1 399.9L296.3 399.5L295.6 399.1L294.8 398.7L294.1 398.4L293.3 398.0L292.6 397.6L291.8 397.2L291.1 396.8L290.3 396.4L289.6 396.0L288.8 395.6L288.1 395.2L287.3 394.8L286.6 394.4L285.8 394.1L285.1 393.7L284.3 393.3L283.6 393.0L282.8 392.6L282.1 392.3L281.3 391.9L280.6 391.6L279.8 391.3L279.1 391.0L278.3 390.7L277.6 390.4L276.8 390.2L276.1 389.9L275.3 389.7L274.6 389.4L273.8 389.2L273.1 388.9L272.3 388.7L271.6 388.5L270.8 388.2L270.1 388.0L269.3 387.8L268.6 387.6L267.8 387.4L267.1 387.2L266.3 386.9L265.6 386.7L264.8 386.5L264.1 386.3L263.3 386.1L262.6 385.9L261.8 385.7L261.1 385.5L260.3 385.3L259.6 385.1L258.8 384.9L258.1 384.7L257.3 384.4L256.6 384.2L255.8 384.0L255.1 383.8L254.3 383.6L253.6 383.4L252.8 383.2L252.1 383.0L251.3 382.8L250.6 382.6L249.8 382.4L249.1 382.3L248.3 382.1L247.6 381.9L246.8 381.7L246.1 381.5L245.3 381.3L244.6 381.1L243.8 380.9L243.1 380.7L242.3 380.5L241.6 380.3L240.8 380.1L240.1 379.9L239.3 379.7L238.6 379.5L237.8 379.3L237.1 379.1L236.3 378.9L235.6 378.7L234.8 378.5L234.1 378.3L233.3 378.1L232.6 377.9L231.8 377.7L231.1 377.5L230.3 377.3L229.6 377.1L228.8 376.9L228.1 376.7L227.3 376.5L226.6 376.3L225.8 376.1L225.1 375.9L224.3 375.7L223.6 375.5L222.8 375.3L222.1 375.1L221.3 374.9L220.6 374.7L219.8 374.5L219.1 374.3L218.3 374.1L217.6 373.9L216.8 373.7L216.1 373.5L215.3 373.3L214.6 373.1L213.8 372.9L213.1 372.7L212.3 372.5L211.6 372.3L210.8 372.1L210.1 371.9L209.3 371.7L208.6 371.5L207.8 371.3L207.1 371.1L206.3 370.9L205.6 370.7L204.8 370.5L204.1 370.3L203.3 370.0L202.6 369.8L201.8 369.6L201.1 369.4L200.3 369.2L199.6 369.0L198.8 368.8L198.1 368.5L197.3 368.3L196.6 368.1L195.8 367.9L195.1 367.7L194.3 367.4L193.6 367.2L192.8 367.0L192.1 366.7L191.3 366.5L190.6 366.3L189.8 366.0L189.1 365.8L188.3 365.5L187.6 365.2L186.8 365.0L186.1 364.7L185.3 364.4L184.6 364.2L183.8 363.9L183.1 363.6L182.3 363.3L181.6 363.0L180.8 362.7L180.1 362.4L179.3 362.1L178.6 361.8L177.8 361.5L177.1 361.2L176.3 360.8L175.6 360.5L174.8 360.2L174.1 359.9L173.3 359.6L172.6 359.3L171.8 359.0L171.1 358.6L170.3 358.3L169.6 358.0L168.8 357.7L168.1 357.4L167.3 357.1L166.6 356.7L165.8 356.4L165.1 356.1L164.3 355.7L163.6 355.4L162.8 355.1L162.1 354.7L161.3 354.4L160.6 354.1L159.8 353.7L159.1 353.4L158.3 353.1L157.6 352.7L156.8 352.4L156.1 352.1L155.3 351.8L154.6 351.4L153.8 351.1L153.1 350.8L152.3 350.5L151.6 350.2L150.8 349.9L150.1 349.6L149.3 349.3L148.6 349.0L147.8 348.7L147.1 348.4L146.3 348.1L145.6 347.9L144.8 347.6L144.1 347.3L143.3 347.0L142.6 346.7L141.8 346.4L141.1 346.2L140.3 345.9L139.6 345.6L138.8 345.4L138.1 345.1L137.3 344.9L136.6 344.6L135.8 344.4L135.1 344.1L134.3 343.9L133.6 343.7L132.8 343.4L132.1 343.2L131.3 343.0L130.6 342.8L129.8 342.6L129.1 342.4L128.3 342.2L127.5 341.9L126.8 341.7L126.0 341.5L125.3 341.4L124.5 341.2L123.8 341.0L123.0 340.8L122.3 340.6L121.5 340.4L120.8 340.3L120.0 340.1L119.3 339.9L118.5 339.8L117.8 339.6Z" fill="rgba(240,173,11,0.83)"/>
<path d="M117.8 339.6L118.5 339.8L119.3 339.9L120.0 340.1L120.8 340.3L121.5 340.4L122.3 340.6L123.0 340.8L123.8 341.0L124.5 341.2L125.3 341.4L126.0 341.5L126.8 341.7L127.5 341.9L128.3 342.2L129.1 342.4L129.8 342.6L130.6 342.8L131.3 343.0L132.1 343.2L132.8 343.4L133.6 343.7L134.3 343.9L135.1 344.1L135.8 344.4L136.6 344.6L137.3 344.9L138.1 345.1L138.8 345.4L139.6 345.6L140.3 345.9L141.1 346.2L141.8 346.4L142.6 346.7L143.3 347.0L144.1 347.3L144.8 347.6L145.6 347.9L146.3 348.1L147.1 348.4L147.8 348.7L148.6 349.0L149.3 349.3L150.1 349.6L150.8 349.9L151.6 350.2L152.3 350.5L153.1 350.8L153.8 351.1L154.6 351.4L155.3 351.8L156.1 352.1L156.8 352.4L157.6 352.7L158.3 353.1L159.1 353.4L159.8 353.7L160.6 354.1L161.3 354.4L162.1 354.7L162.8 355.1L163.6 355.4L164.3 355.7L165.1 356.1L165.8 356.4L166.6 356.7L167.3 357.1L168.1 357.4L168.8 357.7L169.6 358.0L170.3 358.3L171.1 358.6L171.8 359.0L172.6 359.3L173.3 359.6L174.1 359.9L174.8 360.2L175.6 360.5L176.3 360.8L177.1 361.2L177.8 361.5L178.6 361.8L179.3 362.1L180.1 362.4L180.8 362.7L181.6 363.0L182.3 363.3L183.1 363.6L183.8 363.9L184.6 364.2L185.3 364.4L186.1 364.7L186.8 365.0L187.6 365.2L188.3 365.5L189.1 365.8L189.8 366.0L190.6 366.3L191.3 366.5L192.1 366.7L192.8 367.0L193.6 367.2L194.3 367.4L195.1 367.7L195.8 367.9L196.6 368.1L197.3 368.3L198.1 368.5L198.8 368.8L199.6 369.0L200.3 369.2L201.1 369.4L201.8 369.6L202.6 369.8L203.3 370.0L204.1 370.3L204.8 370.5L205.6 370.7L206.3 370.9L207.1 371.1L207.8 371.3L208.6 371.5L209.3 371.7L210.1 371.9L210.8 372.1L211.6 372.3L212.3 372.5L213.1 372.7L213.8 372.9L214.6 373.1L215.3 373.3L216.1 373.5L216.8 373.7L217.6 373.9L218.3 374.1L219.1 374.3L219.8 374.5L220.6 374.7L221.3 374.9L222.1 375.1L222.8 375.3L223.6 375.5L224.3 375.7L225.1 375.9L225.8 376.1L226.6 376.3L227.3 376.5L228.1 376.7L228.8 376.9L229.6 377.1L230.3 377.3L231.1 377.5L231.8 377.7L232.6 377.9L233.3 378.1L234.1 378.3L234.8 378.5L235.6 378.7L236.3 378.9L237.1 379.1L237.8 379.3L238.6 379.5L239.3 379.7L240.1 379.9L240.8 380.1L241.6 380.3L242.3 380.5L243.1 380.7L243.8 380.9L244.6 381.1L245.3 381.3L246.1 381.5L246.8 381.7L247.6 381.9L248.3 382.1L249.1 382.3L249.8 382.4L250.6 382.6L251.3 382.8L252.1 383.0L252.8 383.2L253.6 383.4L254.3 383.6L255.1 383.8L255.8 384.0L256.6 384.2L257.3 384.4L258.1 384.7L258.8 384.9L259.6 385.1L260.3 385.3L261.1 385.5L261.8 385.7L262.6 385.9L263.3 386.1L264.1 386.3L264.8 386.5L265.6 386.7L266.3 386.9L267.1 387.2L267.8 387.4L268.6 387.6L269.3 387.8L270.1 388.0L270.8 388.2L271.6 388.5L272.3 388.7L273.1 388.9L273.8 389.2L274.6 389.4L275.3 389.7L276.1 389.9L276.8 390.2L277.6 390.4L278.3 390.7L279.1 391.0L279.8 391.3L280.6 391.6L281.3 391.9L282.1 392.3L282.8 392.6L283.6 393.0L284.3 393.3L285.1 393.7L285.8 394.1L286.6 394.4L287.3 394.8L288.1 395.2L288.8 395.6L289.6 396.0L290.3 396.4L291.1 396.8L291.8 397.2L292.6 397.6L293.3 398.0L294.1 398.4L294.8 398.7L295.6 399.1L296.3 399.5L297.1 399.9L297.8 400.3L298.6 400.6L299.3 401.0L300.1 401.3L300.8 401.7L301.6 402.0L302.3 402.4L303.1 402.7L303.8 403.0L304.6 403.4L305.3 403.7L306.1 404.1L306.8 404.4L307.6 404.8L308.3 405.1L309.1 405.4L309.8 405.8L310.6 406.1L311.3 406.4L312.1 406.8L312.8 407.1L313.6 407.4L314.3 407.7L315.1 408.0L315.8 408.3L316.6 408.6L317.3 408.9L318.1 409.2L318.8 409.5L319.6 409.8L320.3 410.1L321.1 410.4L321.8 410.7L322.6 411.0L323.3 411.2L324.1 411.5L324.8 411.8L325.6 412.1L326.3 412.4L327.1 412.6L327.8 412.9L328.6 413.2L329.3 413.4L330.1 413.7L330.8 413.9L331.6 414.2L332.3 414.4L333.1 414.7L333.8 414.9L334.6 415.2L335.3 415.4L336.1 415.6L336.8 415.8L337.6 416.1L338.3 416.3L339.1 416.5L339.8 416.6L340.6 416.8L341.3 417.0L342.1 417.2L342.8 417.4L343.6 417.6L344.3 417.7L345.1 417.9L345.8 418.1L346.6 418.2L347.3 418.4L348.1 418.5L348.8 418.7L349.6 418.8L350.3 419.0L351.1 419.1L351.8 419.3L352.6 419.4L353.3 419.6L354.1 419.7L354.8 419.8L355.6 420.0L356.3 420.1L357.1 420.2L357.8 420.3L358.6 420.5L359.3 420.6L360.1 420.7L360.8 420.8L361.6 420.9L362.3 421.0L363.1 421.2L363.8 421.3L364.6 421.4L365.3 421.5L366.1 421.6L366.8 421.7L367.6 421.8L368.3 421.9L369.1 421.9L369.8 422.0L370.6 422.1L371.3 422.2L372.1 422.3L372.8 422.4L373.6 422.5L374.3 422.6L375.1 422.7L375.8 422.8L376.6 422.9L377.3 423.0L378.1 423.0L378.8 423.1L379.6 423.2L380.3 423.3L381.1 423.4L381.8 423.5L382.6 423.6L383.3 423.7L384.1 423.8L384.8 423.9L385.6 424.0L386.3 424.1L387.1 424.2L387.8 424.3L388.6 424.4L389.3 424.5L390.1 424.6L390.8 424.7L391.6 424.8L392.3 424.9L393.1 425.0L393.8 425.1L394.6 425.2L395.3 425.3L396.1 425.4L396.8 425.5L397.6 425.6L398.3 425.7L399.1 425.8L399.8 426.0L400.6 426.1L401.3 426.2L402.1 426.3L402.8 426.5L403.6 426.6L404.3 426.7L405.1 426.9L405.8 427.0L406.6 427.1L407.3 427.3L408.1 427.4L408.8 427.5L409.6 427.7L410.3 427.8L411.1 428.0L411.8 428.1L412.6 428.3L413.3 428.5L414.1 428.6L414.8 428.8L415.6 428.9L416.3 429.1L417.1 429.3L417.8 429.5L418.6 429.6L419.3 429.8L420.1 430.0L420.8 430.2L421.6 430.4L422.3 430.6L423.1 430.8L423.8 431.1L424.6 431.3L425.3 431.6L426.1 431.8L426.8 432.1L427.6 432.3L428.3 432.6L429.1 432.8L429.8 433.1L430.6 433.4L431.3 433.7L432.1 433.9L432.8 434.2L433.6 434.5L434.3 434.7L435.1 435.0L435.8 435.3L436.6 435.5L437.3 435.8L438.1 436.1L438.8 436.3L439.6 436.6L440.3 436.8L441.1 437.0L441.8 437.3L442.6 437.5L443.3 437.7L444.1 438.0L444.8 438.2L445.6 438.4L446.3 438.6L447.1 438.9L447.8 439.1L448.6 439.3L449.3 439.5L450.1 439.8L450.8 440.0L451.6 440.2L452.3 440.4L453.1 440.6L453.8 440.9L454.6 441.1L455.3 441.3L456.1 441.5L456.8 441.7L457.6 442.0L458.3 442.2L459.1 442.4L459.8 442.6L460.6 442.9L461.3 443.1L462.1 443.3L462.8 443.5L463.6 443.8L464.3 444.0L465.1 444.2L465.8 444.4L466.6 444.7L467.3 444.9L468.1 445.1L468.8 445.3L469.6 445.6L470.3 445.8L471.1 446.0L471.8 446.2L472.6 446.5L473.3 446.7L474.1 446.9L474.8 447.1L475.6 447.4L476.3 447.6L477.1 447.8L477.8 448.0L478.6 448.3L479.3 448.5L480.1 448.7L480.8 448.9L481.6 449.2L482.3 449.4L483.1 449.6L483.8 449.8L484.6 450.0L485.3 450.3L486.1 450.5L486.8 450.7L487.6 450.9L488.3 451.1L489.1 451.4L489.8 451.6L490.6 451.8L491.3 452.0L492.1 452.2L492.8 452.4L493.6 452.7L494.3 452.9L495.1 453.1L495.8 453.3L496.6 453.5L497.3 453.7L498.1 454.0L498.8 454.2L499.6 454.4L500.3 454.6L501.1 454.8L501.8 455.1L502.6 455.3L503.3 455.5L504.1 455.7L504.8 455.9L505.6 456.2L506.3 456.4L507.1 456.6L507.8 456.8L508.6 457.1L509.3 457.3L510.1 457.5L510.8 457.7L511.6 458.0L512.3 458.2L513.0 458.4L513.8 458.6L514.5 458.9L515.3 459.1L516.0 459.3L516.8 459.6L517.5 459.8L518.3 460.1L519.0 460.3L519.8 460.5L520.5 460.8L521.3 461.0L522.0 461.3L522.8 461.5L523.5 461.8L524.3 462.1L525.0 462.3L525.8 462.6L526.5 462.9L527.3 463.1L528.0 463.4L528.8 463.7L529.5 463.9L530.3 464.2L531.0 464.5L531.8 464.7L532.5 465.0L533.3 465.3L534.0 465.5L534.8 465.8L535.5 466.1L536.3 466.3L537.0 466.6L537.8 466.8L538.5 467.0L539.3 467.3L540.0 467.5L540.8 467.7L541.5 468.0L542.3 468.2L543.0 468.4L543.8 468.6L544.5 468.8L545.3 469.0L546.0 469.2L546.8 469.4L547.5 469.6L548.3 469.8L549.0 470.0L549.8 470.2L550.5 470.4L551.3 470.6L552.0 470.8L552.8 471.0L553.5 471.2L554.3 471.4L555.0 471.6L555.8 471.8L556.5 472.0L557.3 472.2L558.0 472.4L558.8 472.6L559.5 472.8L560.3 473.0L561.0 473.1L561.8 473.3L562.5 473.5L563.3 473.7L564.0 473.9L564.8 474.1L565.5 474.4L566.3 474.6L567.0 474.8L567.8 475.0L568.5 475.2L569.3 475.4L570.0 475.6L570.8 475.8L571.5 476.0L572.3 476.2L573.0 476.4L573.8 476.6L574.5 476.8L575.3 477.0L576.0 477.2L576.8 477.4L577.5 477.6L578.3 477.8L579.0 478.0L579.8 478.2L580.5 478.4L581.3 478.6L582.0 478.9L582.8 479.1L583.5 479.3L584.3 479.5L585.0 479.7L585.8 480.0L586.5 480.2L587.3 480.4L588.0 480.7L588.8 480.9L589.5 481.2L590.3 481.4L591.0 481.7L591.8 482.0L592.5 482.2L593.3 482.5L594.0 482.8L594.8 483.1L595.5 483.4L596.3 483.8L597.0 484.1L597.8 484.5L598.5 484.9L599.3 485.3L600.0 485.8L600.8 486.2L601.5 486.6L602.3 487.1L603.0 487.5L603.8 488.0L604.5 488.5L605.3 489.0L606.0 489.5L606.8 490.0L607.5 490.5L608.3 491.0L609.0 491.5L609.8 492.1L610.5 492.6L611.3 493.1L612.0 493.7L612.8 494.3L613.5 494.9L614.3 495.5L615.0 496.1L615.8 496.7L616.5 497.3L617.3 497.9L618.0 498.4L618.8 498.9L619.5 499.5L620.3 499.9L621.0 500.4L621.8 500.8L622.5 501.1L623.3 501.5L624.0 501.9L624.8 502.2L625.5 502.5L626.3 502.9L627.0 503.2L627.8 503.5L628.5 503.8L629.3 504.0L630.0 504.3L630.8 504.6L631.5 504.8L632.3 505.0L633.0 505.2L633.8 505.4L634.5 505.6L635.3 505.8L636.0 506.0L636.8 506.2L637.5 506.3L638.3 506.5L639.0 506.6L639.8 506.8L640.5 506.9L641.3 507.1L642.0 507.2L642.8 507.3L643.5 507.4L644.3 507.5L645.0 507.6L645.8 507.6L646.5 507.7L647.3 507.8L648.0 507.9L648.8 507.9L649.5 508.0L650.3 508.1L651.0 508.1L651.8 508.2L652.5 508.2L653.3 508.2L654.0 508.3L654.8 508.3L655.5 508.3L656.3 508.3L657.0 508.3L657.8 508.3L658.5 508.3L659.3 508.3L660.0 508.3L660.8 508.3L661.5 508.3L662.3 508.3L663.0 508.3L663.8 508.3L664.5 508.3L665.3 508.3L666.0 508.3L666.8 508.3L667.5 508.3L668.3 508.3L669.0 508.3L669.8 508.3L670.5 508.3L671.3 508.3L672.0 508.2L672.8 508.0L673.5 507.7L674.3 507.4L674.6 507.3" fill="none" stroke="#9A9A2A" stroke-width="1.2" stroke-opacity="0.8"/>
</g>
<rect x="52.5" y="5.6" width="687.1" height="553.7" fill="none" stroke="#000" stroke-width="2.5" stroke-linejoin="round"/>
<g stroke="#000" stroke-width="2.5" stroke-linecap="butt">
<line x1="52.5" y1="559.3" x2="52.5" y2="570.1"/>
<line x1="128.8" y1="559.3" x2="128.8" y2="564.6"/>
<line x1="205.2" y1="559.3" x2="205.2" y2="570.1"/>
<line x1="281.5" y1="559.3" x2="281.5" y2="564.6"/>
<line x1="357.9" y1="559.3" x2="357.9" y2="570.1"/>
<line x1="434.2" y1="559.3" x2="434.2" y2="564.6"/>
<line x1="510.6" y1="559.3" x2="510.6" y2="570.1"/>
<line x1="586.9" y1="559.3" x2="586.9" y2="564.6"/>
<line x1="663.3" y1="559.3" x2="663.3" y2="570.1"/>
<line x1="739.6" y1="559.3" x2="739.6" y2="564.6"/>
<line x1="739.6" y1="559.3" x2="739.6" y2="564.6"/>
</g>
<g font-family="Liberation Serif" font-weight="bold" font-size="31.8" fill="#000">
<text transform="translate(52.5,602.5) scale(1,1.057)" text-anchor="middle">970</text>
<text transform="translate(205.2,602.5) scale(1,1.057)" text-anchor="middle">960</text>
<text transform="translate(357.9,602.5) scale(1,1.057)" text-anchor="middle">950</text>
<text transform="translate(510.6,602.5) scale(1,1.057)" text-anchor="middle">940</text>
<text transform="translate(663.3,602.5) scale(1,1.057)" text-anchor="middle">930</text>
</g>
<text transform="translate(250.3,640.6) scale(1,1.03)" font-family="Liberation Serif" font-weight="bold" font-size="36.75" fill="#000">Binding Energy (eV)</text>
<text transform="translate(28.5,385.9) rotate(-90)" font-family="Liberation Serif" font-weight="bold" font-size="36.6" fill="#000">Intensity (a.u.)</text>
<g stroke-width="2.2">
<line x1="55.0" y1="30.4" x2="93.5" y2="30.4" stroke="#555555"/>
<line x1="55.0" y1="70.4" x2="93.5" y2="70.4" stroke="#E0343A"/>
<line x1="55.0" y1="109.8" x2="93.5" y2="109.8" stroke="#2F72D6"/>
</g>
<g font-family="Liberation Sans" font-weight="bold" font-size="31.3" fill="#000">
<text x="101.7" y="36.3">Spectrum</text>
<text x="101.7" y="75.0">Composite spectrum</text>
<text x="101.7" y="114.8">Background</text>
</g>
<g font-family="Liberation Serif" font-weight="bold" font-size="31.5" fill="#000">
<text x="556.5" y="44.4">Cu2p<tspan dy="7.7">3/2</tspan></text>
<text x="254.4" y="191.0">Cu2p<tspan dy="8.0">1/2</tspan></text>
<text x="711.2" y="41.5" font-size="30.5">a</text>
</g>


<g>
<path d="M872.5 333.1L872.9 333.1L873.4 333.0L874.0 332.9L874.7 332.8L875.4 332.7L876.1 332.5L876.8 332.4L877.5 332.2L878.1 332.0L878.7 331.8L879.3 331.5L880.0 331.3L880.6 331.0L881.2 330.6L881.8 330.2L882.4 329.8L882.9 329.4L883.4 328.9L883.9 328.4L884.4 327.7L885.0 327.0L885.5 326.2L886.0 325.3L886.5 324.4L886.9 323.4L887.4 322.4L887.8 321.5L888.2 320.7L888.6 319.9L888.9 319.1L889.3 318.3L889.6 317.6L890.0 316.9L890.3 316.2L890.7 315.5L891.0 314.8L891.4 314.1L891.7 313.6L892.0 313.0L892.3 312.4L892.6 311.8L892.9 311.3L893.2 310.7L893.6 310.1L893.9 309.5L894.2 308.9L894.5 308.3L894.8 307.5L895.1 306.8L895.4 306.0L895.7 305.3L895.9 304.6L896.2 303.9L896.5 303.2L896.8 302.5L897.0 301.8L897.3 301.1L897.6 300.3L897.8 299.6L898.1 298.8L898.4 298.0L898.6 297.3L898.9 296.6L899.2 296.0L899.4 295.3L899.6 294.7L899.9 294.1L900.1 293.4L900.3 292.8L900.5 292.2L900.8 291.5L901.0 290.9L901.2 290.2L901.4 289.6L901.6 288.9L901.8 288.2L902.0 287.6L902.2 286.9L902.4 286.1L902.6 285.4L902.8 284.6L903.0 283.9L903.1 283.3L903.3 282.7L903.4 282.2L903.5 281.8L903.6 281.4L903.7 281.0L903.8 280.6L903.9 280.2L904.0 279.7L904.2 279.1L904.3 278.5L904.5 277.8L904.7 277.0L905.0 276.0L905.3 274.9L905.4 274.5L905.5 274.1L905.6 273.7L905.8 273.2L905.9 272.7L906.0 272.2L906.2 271.7L906.3 271.2L906.5 270.6L906.6 270.1L906.8 269.5L906.9 268.9L907.1 268.3L907.2 267.7L907.4 267.1L907.6 266.5L907.7 265.8L907.9 265.2L908.1 264.5L908.3 263.9L908.4 263.2L908.6 262.5L908.8 261.9L909.0 261.2L909.1 260.5L909.3 259.8L909.5 259.1L909.7 258.4L909.9 257.7L910.0 257.0L910.2 256.3L910.4 255.7L910.6 255.0L910.7 254.3L910.9 253.6L911.1 253.0L911.3 252.3L911.4 251.6L911.6 251.0L911.7 250.4L911.9 249.7L912.1 249.1L912.2 248.5L912.4 247.9L912.5 247.3L912.6 246.8L912.8 246.2L912.9 245.7L913.1 244.9L913.3 244.1L913.4 243.3L913.6 242.6L913.8 241.9L914.0 241.2L914.1 240.5L914.3 239.8L914.4 239.1L914.6 238.5L914.7 237.8L914.9 237.2L915.0 236.6L915.2 236.0L915.3 235.5L915.4 234.9L915.6 234.4L915.7 233.9L915.8 233.4L916.0 232.9L916.1 232.4L916.2 232.0L916.3 231.5L916.5 231.1L916.6 230.7L916.7 230.3L916.8 229.9L917.0 229.4L917.1 229.0L917.2 228.6L917.4 228.2L917.5 227.8L917.7 227.1L917.9 226.5L918.2 225.9L918.4 225.3L918.6 224.8L918.8 224.3L919.0 223.8L919.2 223.3L919.4 222.9L919.6 222.5L919.8 222.1L920.0 221.7L920.2 221.3L920.4 220.9L920.6 220.6L920.8 220.3L921.1 219.9L921.3 219.6L921.5 219.3L921.9 218.8L922.3 218.3L922.7 217.8L923.2 217.4L923.6 217.1L924.0 216.8L924.5 216.6L924.9 216.5L925.3 216.4L925.8 216.5L926.2 216.6L926.7 216.9L927.1 217.2L927.6 217.7L928.0 218.2L928.5 218.7L929.0 219.4L929.4 220.1L929.9 220.8L930.3 221.6L930.8 222.5L931.0 222.9L931.3 223.4L931.5 224.0L931.8 224.5L932.0 225.1L932.3 225.6L932.5 226.2L932.8 226.9L933.0 227.5L933.2 228.2L933.5 228.9L933.7 229.6L934.0 230.3L934.2 231.1L934.5 231.9L934.7 232.7L934.9 233.6L935.2 234.6L935.4 235.6L935.5 236.2L935.7 236.8L935.8 237.4L935.9 238.1L936.1 238.7L936.2 239.3L936.3 239.9L936.4 240.4L936.5 241.0L936.7 241.6L936.8 242.2L936.9 242.7L937.0 243.3L937.1 243.8L937.2 244.4L937.4 244.9L937.5 245.5L937.6 246.0L937.7 246.6L937.9 247.2L938.0 247.7L938.1 248.3L938.3 248.9L938.4 249.5L938.6 250.1L938.7 250.7L938.9 251.4L939.1 252.0L939.2 252.7L939.4 253.4L939.6 254.2L939.7 254.7L939.9 255.2L940.0 255.7L940.1 256.3L940.3 256.8L940.4 257.4L940.6 258.0L940.7 258.6L940.9 259.2L941.1 259.9L941.2 260.5L941.4 261.1L941.6 261.8L941.7 262.5L941.9 263.1L942.1 263.8L942.3 264.5L942.4 265.2L942.6 265.8L942.8 266.5L943.0 267.2L943.2 267.9L943.3 268.6L943.5 269.2L943.7 269.9L943.9 270.6L944.1 271.2L944.3 271.9L944.4 272.5L944.6 273.2L944.8 273.8L945.0 274.4L945.1 275.0L945.3 275.6L945.5 276.2L945.7 276.7L945.8 277.3L946.0 277.8L946.1 278.4L946.3 278.9L946.4 279.4L946.6 279.9L946.7 280.3L946.9 280.8L947.0 281.2L947.2 281.6L947.3 282.1L947.4 282.4L947.7 283.3L947.9 284.0L948.1 284.7L948.4 285.4L948.6 286.0L948.8 286.6L948.9 287.1L949.1 287.6L949.3 288.1L949.4 288.6L949.6 289.0L949.7 289.5L949.9 289.9L950.0 290.4L950.2 290.8L950.3 291.3L950.5 291.7L950.6 292.2L950.8 292.7L950.9 293.2L951.1 293.8L951.3 294.4L951.5 294.9L951.7 295.5L951.8 296.1L952.0 296.7L952.2 297.3L952.4 297.9L952.6 298.5L952.8 299.1L953.0 299.7L953.1 300.3L953.3 300.9L953.5 301.4L953.7 302.0L953.9 302.7L954.1 303.3L954.3 303.9L954.4 304.5L954.6 305.1L954.8 305.7L955.0 306.3L955.2 307.0L955.3 307.6L955.5 308.2L955.7 308.8L955.9 309.3L956.0 309.9L956.2 310.5L956.4 311.1L956.6 311.6L956.7 312.2L956.9 312.7L957.1 313.3L957.3 313.8L957.5 314.4L957.6 314.9L957.8 315.5L958.0 316.1L958.2 316.6L958.4 317.2L958.6 317.8L958.8 318.4L959.0 319.0L959.2 319.5L959.4 320.1L959.6 320.7L959.8 321.2L960.0 321.8L960.2 322.3L960.4 322.9L960.6 323.4L960.9 323.9L961.1 324.5L961.3 325.0L961.5 325.5L961.8 326.0L962.0 326.5L962.2 326.9L962.5 327.4L962.7 327.9L963.0 328.4L963.3 329.0L963.6 329.5L963.9 330.1L964.2 330.6L964.5 331.1L964.8 331.6L965.2 332.1L965.5 332.7L965.8 333.0L966.2 333.4L966.5 333.8L966.8 334.1L967.2 334.5L967.5 334.9L967.9 335.2L968.2 335.6L968.6 336.0L969.0 336.4L969.4 336.8L969.8 337.2L970.2 337.7L970.6 338.2L971.0 338.7L971.4 339.2L971.8 339.6L972.2 340.1L972.6 340.5L973.1 340.9L973.5 341.3L974.0 341.7L974.4 342.0L974.9 342.4L975.5 342.8L976.1 343.1L976.6 343.4L977.2 343.7L977.8 344.0L978.4 344.3L979.0 344.5L979.6 344.7L980.2 344.9L980.7 345.1L981.2 345.3L981.7 345.4L982.4 345.6L983.1 345.8L983.7 345.9L984.3 345.9L984.8 345.9L985.4 345.9L985.9 345.8L986.5 345.7L987.1 345.6L987.7 345.5L988.3 345.3L988.9 345.1L989.6 344.9L990.3 344.6L991.0 344.2L991.5 344.0L992.0 343.8L992.5 343.5L993.0 343.2L993.5 342.9L994.1 342.6L994.7 342.3L995.2 341.9L995.8 341.6L996.4 341.2L997.0 340.8L997.6 340.5L998.0 340.2L998.5 339.8L999.0 339.5L999.5 339.2L1000.0 338.8L1000.5 338.5L1001.0 338.1L1001.5 337.8L1002.0 337.4L1002.5 337.0L1003.0 336.6L1003.5 336.3L1003.9 335.9L1004.4 335.5L1004.8 335.1L1005.3 334.7L1005.7 334.3L1006.2 333.8L1006.6 333.4L1007.1 332.9L1007.5 332.5L1007.9 332.0L1008.3 331.5L1008.7 331.1L1009.1 330.6L1009.5 330.2L1009.9 329.7L1010.3 329.2L1010.6 328.8L1011.0 328.3L1011.4 327.8L1011.8 327.2L1012.2 326.7L1012.6 326.2L1013.0 325.7L1013.3 325.2L1013.7 324.7L1014.0 324.1L1014.4 323.6L1014.7 323.1L1015.1 322.5L1015.4 322.0L1015.7 321.5L1016.0 320.9L1016.3 320.4L1016.6 319.8L1016.9 319.3L1017.2 318.7L1017.5 318.2L1017.8 317.6L1018.1 317.1L1018.3 316.6L1018.6 316.1L1018.8 315.6L1019.1 315.0L1019.4 314.5L1019.6 314.0L1019.8 313.6L1020.0 313.1L1020.2 312.7L1020.5 312.1L1020.7 311.4L1021.1 310.6L1021.3 310.2L1021.5 309.8L1021.6 309.4L1021.8 309.0L1022.0 308.7L1022.2 308.3L1022.4 307.8L1022.7 307.4L1022.9 307.0L1023.1 306.5L1023.3 306.0L1023.6 305.5L1023.9 304.9L1024.1 304.3L1024.4 303.6L1024.7 302.9L1025.0 302.1L1025.3 301.3L1025.6 300.4L1026.0 299.4L1026.1 299.0L1026.2 298.6L1026.4 298.2L1026.6 297.7L1026.7 297.2L1026.9 296.7L1027.0 296.3L1027.2 295.7L1027.4 295.2L1027.6 294.7L1027.7 294.2L1027.9 293.6L1028.1 293.0L1028.3 292.5L1028.5 291.9L1028.7 291.3L1028.9 290.7L1029.0 290.1L1029.2 289.5L1029.4 288.9L1029.6 288.3L1029.8 287.7L1030.0 287.0L1030.2 286.4L1030.4 285.8L1030.6 285.1L1030.8 284.5L1031.0 283.8L1031.2 283.2L1031.4 282.6L1031.6 281.9L1031.8 281.3L1032.0 280.6L1032.2 280.0L1032.4 279.4L1032.6 278.7L1032.8 278.1L1033.0 277.5L1033.2 276.8L1033.4 276.2L1033.5 275.6L1033.7 275.0L1033.9 274.4L1034.1 273.8L1034.2 273.2L1034.4 272.6L1034.6 272.0L1034.7 271.4L1034.9 270.9L1035.1 270.3L1035.3 269.6L1035.4 269.0L1035.6 268.4L1035.8 267.7L1035.9 267.1L1036.1 266.4L1036.3 265.8L1036.5 265.1L1036.6 264.5L1036.8 263.8L1037.0 263.1L1037.1 262.5L1037.3 261.8L1037.5 261.2L1037.6 260.5L1037.8 259.9L1037.9 259.2L1038.1 258.6L1038.3 257.9L1038.4 257.3L1038.6 256.7L1038.7 256.0L1038.9 255.4L1039.0 254.8L1039.2 254.2L1039.3 253.6L1039.4 253.0L1039.6 252.4L1039.7 251.8L1039.9 251.2L1040.0 250.7L1040.1 250.1L1040.3 249.6L1040.4 249.1L1040.5 248.6L1040.6 248.1L1040.7 247.6L1040.9 247.1L1041.0 246.7L1041.1 246.2L1041.2 245.8L1041.3 245.4L1041.4 245.0L1041.7 243.8L1042.0 242.8L1042.2 241.9L1042.4 241.2L1042.6 240.6L1042.7 240.1L1042.9 239.7L1043.0 239.3L1043.1 238.9L1043.2 238.5L1043.4 238.1L1043.5 237.6L1043.7 237.1L1043.8 236.5L1044.0 235.9L1044.2 235.3L1044.4 234.8L1044.5 234.2L1044.7 233.6L1044.9 233.0L1045.0 232.4L1045.2 231.9L1045.4 231.3L1045.6 230.7L1045.7 230.1L1045.9 229.5L1046.1 228.9L1046.3 228.3L1046.5 227.8L1046.7 227.2L1046.9 226.5L1047.1 225.9L1047.3 225.3L1047.5 224.7L1047.7 224.1L1047.9 223.5L1048.1 222.9L1048.3 222.3L1048.5 221.7L1048.7 221.2L1048.9 220.6L1049.1 220.0L1049.3 219.4L1049.6 218.8L1049.8 218.2L1050.0 217.6L1050.2 217.0L1050.5 216.4L1050.7 215.9L1051.0 215.3L1051.2 214.7L1051.4 214.2L1051.7 213.7L1051.9 213.2L1052.2 212.8L1052.6 212.1L1053.0 211.4L1053.4 210.8L1053.8 210.2L1054.2 209.6L1054.7 209.1L1055.1 208.7L1055.5 208.3L1056.0 208.0L1056.5 207.8L1057.1 207.7L1057.7 207.8L1058.3 207.9L1058.8 208.1L1059.4 208.4L1060.0 208.8L1060.5 209.2L1061.0 209.7L1061.5 210.2L1062.0 210.8L1062.5 211.4L1063.0 212.1L1063.4 212.8L1063.9 213.5L1064.3 214.2L1064.7 214.9L1065.1 215.5L1065.4 216.2L1065.8 216.8L1066.1 217.4L1066.5 218.1L1066.8 218.7L1067.1 219.4L1067.4 220.0L1067.6 220.6L1067.9 221.1L1068.1 221.7L1068.3 222.2L1068.5 222.8L1068.7 223.4L1068.9 224.0L1069.1 224.6L1069.3 225.2L1069.5 225.8L1069.7 226.4L1069.9 226.9L1070.1 227.5L1070.3 228.0L1070.5 228.6L1070.7 229.2L1070.8 229.7L1071.0 230.3L1071.2 230.9L1071.4 231.5L1071.6 232.1L1071.8 232.7L1072.0 233.4L1072.2 233.9L1072.3 234.4L1072.5 234.9L1072.6 235.4L1072.8 235.9L1072.9 236.4L1073.1 236.9L1073.3 237.5L1073.4 238.0L1073.6 238.7L1073.8 239.3L1073.9 240.1L1074.1 240.9L1074.3 241.7L1074.4 242.2L1074.5 242.7L1074.6 243.1L1074.7 243.7L1074.8 244.2L1074.9 244.7L1075.0 245.2L1075.1 245.8L1075.2 246.4L1075.3 246.9L1075.4 247.5L1075.5 248.1L1075.6 248.7L1075.8 249.4L1075.9 250.0L1076.0 250.6L1076.1 251.2L1076.2 251.9L1076.3 252.5L1076.4 253.2L1076.5 253.8L1076.6 254.5L1076.8 255.1L1076.9 255.8L1077.0 256.4L1077.1 257.0L1077.2 257.7L1077.3 258.3L1077.4 259.0L1077.5 259.5L1077.6 260.1L1077.7 260.7L1077.8 261.3L1077.9 261.9L1078.0 262.4L1078.1 263.0L1078.1 263.6L1078.2 264.2L1078.3 264.8L1078.4 265.4L1078.5 266.0L1078.6 266.6L1078.7 267.3L1078.8 267.9L1078.9 268.5L1079.0 269.1L1079.1 269.7L1079.2 270.3L1079.3 270.9L1079.3 271.5L1079.4 272.2L1079.5 272.8L1079.6 273.4L1079.7 274.0L1079.8 274.6L1079.9 275.2L1080.0 275.8L1080.1 276.4L1080.2 277.0L1080.3 277.6L1080.4 278.2L1080.5 278.8L1080.6 279.4L1080.7 280.0L1080.8 280.6L1080.9 281.2L1081.0 281.8L1081.1 282.3L1081.2 282.9L1081.3 283.5L1081.4 284.1L1081.5 284.6L1081.6 285.2L1081.7 285.8L1081.8 286.4L1081.9 286.9L1082.0 287.5L1082.1 288.1L1082.2 288.7L1082.3 289.3L1082.5 289.8L1082.6 290.4L1082.7 291.0L1082.8 291.6L1082.9 292.2L1083.0 292.9L1083.1 293.5L1083.2 294.1L1083.3 294.7L1083.5 295.4L1083.6 296.0L1083.7 296.7L1083.8 297.3L1083.9 297.9L1084.0 298.4L1084.1 299.0L1084.2 299.5L1084.3 300.1L1084.4 300.7L1084.5 301.3L1084.6 301.9L1084.7 302.4L1084.8 303.0L1084.9 303.6L1085.0 304.2L1085.1 304.8L1085.2 305.4L1085.3 306.0L1085.4 306.7L1085.5 307.3L1085.6 307.9L1085.7 308.5L1085.9 309.1L1086.0 309.7L1086.1 310.4L1086.2 311.0L1086.3 311.6L1086.4 312.2L1086.5 312.8L1086.6 313.5L1086.7 314.1L1086.8 314.7L1086.9 315.3L1087.0 315.9L1087.1 316.6L1087.3 317.2L1087.4 317.8L1087.5 318.4L1087.6 319.0L1087.7 319.6L1087.8 320.2L1087.9 320.8L1088.0 321.4L1088.1 322.0L1088.2 322.6L1088.3 323.3L1088.4 323.9L1088.5 324.5L1088.7 325.1L1088.8 325.7L1088.9 326.4L1089.0 327.0L1089.1 327.6L1089.2 328.3L1089.3 328.9L1089.4 329.5L1089.5 330.1L1089.7 330.8L1089.8 331.4L1089.9 332.0L1090.0 332.6L1090.1 333.3L1090.2 333.9L1090.3 334.5L1090.4 335.1L1090.5 335.7L1090.6 336.3L1090.7 336.9L1090.9 337.5L1091.0 338.1L1091.1 338.7L1091.2 339.3L1091.3 339.8L1091.4 340.4L1091.5 340.9L1091.6 341.5L1091.7 342.0L1091.8 342.6L1091.9 343.1L1092.0 343.6L1092.1 344.1L1092.2 344.8L1092.4 345.6L1092.5 346.3L1092.7 346.9L1092.8 347.6L1093.0 348.3L1093.1 349.0L1093.2 349.6L1093.4 350.2L1093.5 350.9L1093.6 351.5L1093.8 352.1L1093.9 352.7L1094.0 353.3L1094.2 353.9L1094.3 354.4L1094.4 355.0L1094.6 355.5L1094.7 356.1L1094.8 356.6L1094.9 357.1L1095.0 357.6L1095.2 358.1L1095.3 358.6L1095.4 359.1L1095.5 359.5L1095.6 360.0L1095.8 360.8L1096.0 361.6L1096.1 362.3L1096.3 362.9L1096.4 363.6L1096.6 364.1L1096.7 364.7L1096.8 365.2L1097.0 365.7L1097.1 366.2L1097.2 366.7L1097.4 367.3L1097.5 367.8L1097.7 368.4L1097.9 369.0L1098.0 369.6L1098.2 370.2L1098.4 370.8L1098.5 371.4L1098.7 372.0L1098.9 372.6L1099.1 373.2L1099.3 373.8L1099.4 374.4L1099.6 375.0L1099.8 375.6L1100.0 376.2L1100.2 376.8L1100.4 377.4L1100.6 377.9L1100.8 378.5L1100.9 379.1L1101.1 379.6L1101.3 380.2L1101.5 380.8L1101.7 381.3L1101.9 381.9L1102.1 382.5L1102.3 383.0L1102.5 383.6L1102.8 384.2L1103.0 384.7L1103.2 385.3L1103.4 385.9L1103.7 386.5L1103.9 387.0L1104.1 387.6L1104.4 388.3L1104.6 388.9L1104.9 389.5L1105.1 390.0L1105.4 390.6L1105.6 391.2L1105.9 391.7L1106.2 392.3L1106.4 392.8L1106.7 393.3L1107.0 393.7L1107.4 394.3L1107.8 394.9L1108.3 395.4L1108.7 395.9L1109.1 396.4L1109.6 396.8L1110.1 397.2L1110.6 397.6L1111.1 397.9L1111.6 398.2L1112.2 398.5L1112.7 398.7L1113.3 398.9L1113.9 399.0L1114.5 399.1L1115.1 399.2L1115.8 399.3L1116.5 399.4L1117.2 399.6L1118.0 399.7L1118.5 399.8L1119.1 399.9L1119.7 400.0L1120.3 400.1L1120.9 400.2L1121.6 400.3L1122.2 400.3L1122.9 400.4L1123.5 400.5L1124.2 400.6L1124.9 400.7L1125.5 400.8L1126.2 400.9L1126.8 401.0L1127.4 401.1L1128.0 401.2L1128.7 401.3L1129.3 401.4L1129.9 401.5L1130.5 401.6L1131.2 401.7L1131.8 401.9L1132.3 402.0L1132.9 402.1L1133.5 402.2L1134.1 402.3L1134.7 402.5L1135.3 402.6L1135.8 402.8L1136.4 403.0L1137.0 403.2L1137.6 403.4L1138.2 403.7L1138.8 404.0L1139.5 404.2L1140.1 404.5L1140.6 404.8L1141.2 405.1L1141.8 405.4L1142.4 405.7L1142.9 406.0L1143.5 406.4L1144.0 406.7L1144.6 407.0L1145.2 407.4L1145.7 407.8L1146.3 408.1L1146.8 408.5L1147.3 408.9L1147.8 409.2L1148.3 409.5L1148.9 409.8L1149.4 410.1L1150.0 410.3L1150.6 410.5L1151.2 410.6L1151.9 410.7L1152.5 410.8L1153.2 410.9L1153.8 410.9L1154.5 411.0L1155.1 411.0L1155.7 411.0L1156.3 411.0L1156.9 411.0L1157.6 411.0L1158.2 411.0L1158.9 410.9L1159.5 410.9L1160.1 410.9L1160.7 410.8L1161.3 410.8L1161.8 410.7L1162.4 410.6L1163.0 410.5L1163.7 410.3L1164.3 410.1L1164.9 409.9L1165.5 409.6L1166.1 409.4L1166.6 409.1L1167.2 408.8L1167.8 408.5L1168.3 408.2L1168.9 407.9L1169.4 407.5L1169.9 407.1L1170.4 406.8L1170.9 406.4L1171.4 406.0L1171.9 405.6L1172.3 405.2L1172.8 404.8L1173.2 404.2L1173.6 403.6L1174.0 403.0L1174.4 402.3L1174.8 401.5L1175.1 400.8L1175.5 400.0L1175.8 399.3L1176.1 398.5L1176.4 397.7L1176.7 397.0L1177.0 396.3L1177.3 395.6L1177.6 394.9L1177.8 394.3L1178.1 393.7L1178.3 393.1L1178.6 392.6L1178.8 392.0L1179.1 391.4L1179.3 390.9L1179.6 390.3L1179.8 389.8L1180.1 389.2L1180.3 388.7L1180.6 388.1L1180.8 387.5L1181.1 387.0L1181.3 386.4L1181.6 385.8L1181.8 385.3L1182.1 384.7L1182.3 384.2L1182.6 383.7L1182.8 383.2L1183.1 382.7L1183.4 382.1L1183.6 381.6L1183.9 381.1L1184.1 380.5L1184.3 379.8L1184.6 379.1L1184.8 378.4L1185.1 377.6L1185.4 376.8L1185.6 376.0L1185.9 375.1L1186.1 374.6L1186.2 374.1L1186.4 373.5L1186.5 373.0L1186.7 372.4L1186.9 371.8L1187.0 371.2L1187.2 370.5L1187.3 369.9L1187.5 369.2L1187.7 368.5L1187.9 367.8L1188.0 367.0L1188.2 366.2L1188.4 365.4L1188.6 364.5L1188.8 363.6L1189.0 362.7L1189.2 361.7L1189.3 361.2L1189.4 360.7L1189.5 360.1L1189.6 359.6L1189.8 359.1L1189.9 358.5L1190.0 357.9L1190.1 357.3L1190.2 356.8L1190.3 356.2L1190.5 355.6L1190.6 355.0L1190.7 354.3L1190.8 353.7L1191.0 353.1L1191.1 352.5L1191.2 351.8L1191.3 351.2L1191.5 350.6L1191.6 349.9L1191.7 349.3L1191.9 348.6L1192.0 348.0L1192.1 347.3L1192.3 346.7L1192.4 346.1L1192.5 345.4L1192.6 344.8L1192.8 344.2L1192.9 343.5L1193.0 342.9L1193.2 342.3L1193.3 341.7L1193.4 341.1L1193.5 340.4L1193.7 339.8L1193.8 339.2L1193.9 338.6L1194.0 338.1L1194.1 337.5L1194.3 336.9L1194.4 336.3L1194.5 335.7L1194.6 335.1L1194.7 334.5L1194.9 333.9L1195.0 333.3L1195.1 332.7L1195.2 332.1L1195.3 331.5L1195.5 330.9L1195.6 330.4L1195.7 330.0L1195.8 329.6L1195.9 329.2L1196.1 328.8L1196.2 328.4L1196.3 328.0L1196.4 327.6L1196.5 327.2L1196.7 326.8L1196.8 326.4L1196.9 325.9L1197.0 325.5L1197.1 325.1L1197.2 324.7L1197.4 324.3L1197.5 323.9L1197.6 323.5L1197.7 323.1L1197.8 322.6L1197.9 322.2L1198.1 321.8L1198.2 321.4L1198.3 321.0L1198.4 320.5L1198.5 320.1L1198.6 319.7L1198.7 319.3L1198.8 318.9L1198.9 318.4L1199.1 318.0L1199.2 317.6L1199.3 317.1L1199.4 316.7L1199.5 316.3L1199.6 315.7L1199.7 315.0L1199.8 314.4L1199.9 313.7L1200.0 313.1L1200.1 312.5L1200.2 311.8L1200.3 311.2L1200.4 310.5L1200.5 309.9L1200.6 309.3L1200.7 308.6L1200.9 308.0L1201.0 307.4L1201.1 306.8L1201.2 306.2L1201.3 305.4L1201.4 304.4L1201.5 303.6L1201.6 302.7L1201.7 301.8L1201.8 301.0L1201.9 300.2L1202.0 299.4L1202.1 298.6L1202.2 297.9L1202.3 297.1L1202.4 296.4L1202.5 295.6L1202.7 294.3L1202.9 293.0L1203.1 291.7L1203.3 290.6L1203.4 289.8L1203.6 289.1L1203.8 288.3L1204.0 287.6L1204.2 286.9L1204.4 286.2L1204.6 285.5L1204.7 284.9L1204.9 284.3L1205.1 283.7L1205.3 283.1L1205.5 282.5L1205.7 282.0L1205.8 281.5L1206.0 281.0L1206.2 280.5L1206.4 280.0L1206.6 279.5L1206.8 278.9L1207.0 278.4L1207.3 277.9L1207.5 277.4L1207.7 277.0L1207.9 276.5L1208.1 276.1L1208.3 275.7L1208.6 275.3L1208.8 274.9L1209.0 274.6L1209.2 274.3L1209.4 274.0L1209.6 273.7L1209.8 273.5L1210.0 273.4L1210.2 273.3L1210.6 273.1L1211.0 273.1L1211.5 273.1L1211.9 273.1L1212.2 273.1L1212.6 273.2L1213.0 273.3L1213.4 273.4L1214.0 273.6L1214.5 273.8L1215.1 274.2L1215.6 274.6L1216.3 275.3L1216.8 275.9L1217.3 276.5L1217.8 277.3L1218.3 278.0L1218.8 278.8L1219.4 279.4L1220.0 280.1L1220.5 280.8L1220.9 281.2L1221.2 281.7L1221.6 282.2L1222.0 282.6L1222.4 283.0L1222.8 283.5L1223.2 283.9L1223.5 284.3L1223.9 284.6L1224.3 284.9L1224.6 285.1L1225.0 285.3L1225.5 285.4L1225.9 285.4L1226.3 285.3L1226.7 285.2L1227.2 285.0L1227.6 284.8L1228.0 284.6L1228.4 284.3L1228.9 284.0L1229.4 283.7L1230.0 283.3L1230.5 282.8L1231.1 282.3L1231.7 281.8L1232.3 281.3L1232.8 280.7L1233.4 280.2L1234.0 279.7L1234.5 279.2L1235.1 278.8L1235.7 278.4L1236.2 278.0L1236.8 277.7L1237.3 277.5L1237.9 277.3L1238.2 277.1L1238.6 277.0L1239.0 276.9L1239.3 276.8L1239.7 276.6L1240.1 276.5L1240.4 276.4L1240.8 276.3L1241.1 276.2L1241.5 276.2L1241.8 276.1L1242.1 276.1L1242.4 276.0L1242.7 275.9L1243.1 275.9L1243.4 275.8L1243.7 275.8L1244.0 275.8L1244.2 275.7L1244.5 275.7L1244.8 275.6L1245.1 275.6L1245.3 275.5L1245.6 275.4L1246.0 275.4L1246.4 275.3L1246.8 275.3L1247.2 275.4L1247.6 275.4L1248.1 275.6L1248.5 275.7L1249.0 275.9L1249.5 276.2L1250.0 276.6L1250.5 277.1L1251.0 277.8L1251.5 278.5L1252.0 279.3L1252.3 279.9L1252.5 280.5L1252.8 281.1L1253.0 281.7L1253.3 282.4L1253.5 283.0L1253.7 283.7L1254.0 284.2L1254.2 284.1L1254.4 284.1L1254.6 284.1L1254.8 284.1L1254.9 284.2L1255.0 284.4L1255.2 284.7L1255.3 284.9L1255.4 285.3L1255.6 285.7L1255.7 286.1L1255.8 286.6L1255.9 287.1L1256.1 287.9L1256.2 288.8L1256.3 289.6L1256.5 290.5L1256.6 291.2L1256.7 292.0L1256.9 292.7L1257.0 293.5L1257.1 294.3L1257.3 295.1L1257.4 296.0L1257.5 296.8L1257.7 297.6L1257.8 298.5L1258.0 299.3L1258.1 300.2L1258.2 301.0L1258.4 301.8L1258.5 302.7L1258.6 303.3L1258.8 303.9L1258.9 304.5L1259.0 305.0L1259.1 305.7L1259.3 306.3L1259.4 306.9L1259.5 307.4L1259.6 307.9L1259.7 308.5L1259.8 309.0L1259.9 309.5L1260.0 310.0L1260.1 310.6L1260.3 311.2L1260.4 311.8L1260.5 312.5L1260.7 313.2L1260.8 314.0L1261.0 314.8L1261.1 315.3L1261.2 315.8L1261.3 316.3L1261.4 316.8L1261.5 317.3L1261.6 317.9L1261.7 318.4L1261.8 319.0L1261.9 319.6L1262.1 320.2L1262.2 320.8L1262.3 321.4L1262.4 322.0L1262.6 322.6L1262.7 323.2L1262.8 323.9L1262.9 324.5L1263.1 325.1L1263.2 325.8L1263.3 326.4L1263.4 327.0L1263.6 327.7L1263.7 328.3L1263.8 328.9L1264.0 329.6L1264.1 330.2L1264.2 330.8L1264.3 331.5L1264.5 332.1L1264.6 332.7L1264.7 333.3L1264.8 333.9L1264.9 334.5L1265.1 335.1L1265.2 335.7L1265.3 336.3L1265.4 336.8L1265.5 337.4L1265.6 338.0L1265.8 338.6L1265.9 339.2L1266.0 339.8L1266.1 340.3L1266.2 340.9L1266.4 341.5L1266.5 342.1L1266.6 342.6L1266.7 343.2L1266.8 343.8L1266.9 344.4L1267.1 344.9L1267.2 345.5L1267.3 346.1L1267.4 346.7L1267.5 347.2L1267.7 347.8L1267.8 348.4L1267.9 349.0L1268.0 349.6L1268.2 350.2L1268.3 350.8L1268.4 351.4L1268.5 352.0L1268.6 352.6L1268.8 353.2L1268.9 353.8L1269.0 354.3L1269.1 354.9L1269.3 355.5L1269.4 356.1L1269.5 356.6L1269.6 357.2L1269.7 357.7L1269.9 358.3L1270.0 358.8L1270.1 359.4L1270.2 359.9L1270.4 360.5L1270.5 361.0L1270.6 361.5L1270.8 362.1L1270.9 362.6L1271.0 363.1L1271.1 363.7L1271.3 364.2L1271.4 364.7L1271.5 365.3L1271.7 365.8L1271.8 366.4L1272.0 366.9L1272.1 367.5L1272.3 368.0L1272.4 368.6L1272.5 369.1L1272.7 369.7L1272.9 370.3L1273.0 370.9L1273.2 371.4L1273.3 372.0L1273.5 372.6L1273.6 373.2L1273.8 373.8L1274.0 374.4L1274.1 374.9L1274.3 375.5L1274.5 376.1L1274.7 376.7L1274.8 377.3L1275.0 377.8L1275.2 378.4L1275.3 378.9L1275.5 379.5L1275.7 380.0L1275.9 380.6L1276.0 381.1L1276.2 381.6L1276.4 382.1L1276.6 382.6L1276.7 383.1L1276.9 383.6L1277.1 384.1L1277.3 384.5L1277.4 385.0L1277.6 385.4L1277.8 386.0L1278.1 386.6L1278.3 387.2L1278.6 387.8L1278.8 388.2L1279.1 388.6L1279.3 389.0L1279.6 389.4L1279.9 389.8L1280.1 390.3L1280.4 390.7L1280.6 391.1L1280.9 391.5L1281.1 391.9L1281.4 392.3L1281.6 392.8L1281.8 393.2L1282.1 393.6L1282.3 394.0L1282.5 394.4L1282.7 394.9L1282.9 395.4L1283.1 395.9L1283.6 397.2L1284.0 398.3L1284.4 399.3L1284.7 400.1L1285.0 400.8L1285.3 401.5L1285.6 402.2L1286.0 402.9L1286.5 404.0L1287.1 404.9L1287.6 405.7L1288.2 406.4L1288.8 406.9L1289.5 407.2L1290.1 407.2L1290.7 407.1L1291.3 406.7L1291.9 406.2L1292.6 405.5L1293.3 404.7L1294.0 403.7L1294.7 402.7L1295.1 402.1L1295.5 401.5L1295.9 401.0L1296.3 400.4L1296.8 399.8L1297.2 399.3L1297.6 398.7L1298.1 398.1L1298.5 397.6L1299.0 397.0L1299.4 396.5L1299.9 395.9L1300.3 395.4L1300.8 394.8L1301.2 394.2L1301.5 393.8L1301.8 393.3L1302.2 392.9L1302.5 392.5L1302.8 392.1L1303.1 391.6L1303.4 391.2L1303.7 390.7L1304.0 390.2L1304.3 389.7L1304.6 389.2L1305.0 388.7L1305.3 388.2L1305.6 387.6L1305.9 387.0L1306.3 386.4L1306.6 385.7L1307.0 385.0L1307.3 384.3L1307.7 383.5L1307.9 383.1L1308.1 382.6L1308.3 382.2L1308.5 381.7L1308.8 381.2L1309.0 380.8L1309.2 380.3L1309.4 379.8L1309.6 379.3L1309.9 378.8L1310.1 378.3L1310.3 377.8L1310.6 377.2L1310.8 376.7L1311.0 376.2L1311.3 375.6L1311.5 375.1L1311.8 374.5L1312.0 373.9L1312.2 373.3L1312.5 372.7L1312.7 372.2L1313.0 371.6L1313.2 370.9L1313.4 370.3L1313.7 369.7L1313.9 369.1L1314.1 368.4L1314.4 367.8L1314.6 367.1L1314.8 366.5L1315.1 365.8L1315.3 365.1L1315.5 364.5L1315.8 363.8L1316.0 363.1L1316.2 362.4L1316.4 361.9L1316.5 361.4L1316.7 360.9L1316.8 360.4L1317.0 359.9L1317.1 359.3L1317.3 358.8L1317.4 358.3L1317.6 357.7L1317.8 357.2L1317.9 356.6L1318.1 356.1L1318.2 355.5L1318.4 354.9L1318.5 354.4L1318.7 353.8L1318.9 353.2L1319.0 352.6L1319.2 352.1L1319.3 351.5L1319.5 350.9L1319.6 350.3L1319.8 349.7L1319.9 349.1L1320.1 348.5L1320.2 347.9L1320.4 347.3L1320.6 346.7L1320.7 346.1L1320.9 345.5L1321.0 344.8L1321.1 344.2L1321.3 343.6L1321.4 343.0L1321.6 342.4L1321.7 341.8L1321.9 341.2L1322.0 340.6L1322.2 339.9L1322.3 339.3L1322.4 338.7L1322.6 338.1L1322.7 337.5L1322.8 336.9L1323.0 336.3L1323.1 335.7L1323.2 335.1L1323.4 334.5L1323.5 333.9L1323.6 333.3L1323.7 332.7L1323.9 332.1L1324.0 331.5L1324.1 330.9L1324.2 330.3L1324.3 329.7L1324.4 329.1L1324.6 328.6L1324.7 328.0L1324.8 327.4L1324.9 326.8L1325.0 326.2L1325.1 325.6L1325.2 325.0L1325.3 324.4L1325.4 323.8L1325.5 323.2L1325.6 322.6L1325.7 322.0L1325.8 321.4L1325.9 320.8L1326.0 320.2L1326.1 319.6L1326.2 319.0L1326.3 318.4L1326.3 317.8L1326.4 317.2L1326.5 316.6L1326.6 316.0L1326.7 315.4L1326.8 314.8L1326.9 314.2L1326.9 313.6L1327.0 313.0L1327.1 312.4L1327.2 311.8L1327.3 311.2L1327.4 310.6L1327.4 310.0L1327.5 309.4L1327.6 308.8L1327.7 308.2L1327.8 307.6L1327.9 307.1L1327.9 306.5L1328.0 305.9L1328.1 305.3L1328.2 304.7L1328.3 304.1L1328.4 303.5L1328.4 302.9L1328.5 302.3L1328.6 301.7L1328.7 301.1L1328.8 300.5L1328.9 299.9L1328.9 299.3L1329.0 298.7L1329.1 298.1L1329.2 297.5L1329.3 297.0L1329.3 296.4L1329.4 295.8L1329.5 295.2L1329.6 294.6L1329.7 294.1L1329.7 293.5L1329.8 292.9L1329.9 292.4L1330.0 291.8L1330.0 291.2L1330.1 290.6L1330.2 290.1L1330.3 289.5L1330.3 288.9L1330.4 288.4L1330.5 287.8L1330.6 287.2L1330.6 286.7L1330.7 286.1L1330.8 285.5L1330.8 284.9L1330.9 284.3L1331.0 283.8L1331.1 283.2L1331.1 282.6L1331.2 282.0L1331.3 281.4L1331.4 280.8L1331.4 280.2L1331.5 279.6L1331.6 279.0L1331.7 278.4L1331.8 277.8L1331.8 277.2L1331.9 276.6L1332.0 276.0L1332.1 275.3L1332.2 274.7L1332.2 274.1L1332.3 273.4L1332.4 272.8L1332.5 272.1L1332.6 271.5L1332.7 270.8L1332.7 270.1L1332.8 269.5L1332.9 268.9L1333.0 268.4L1333.0 267.8L1333.1 267.3L1333.2 266.7L1333.3 266.1L1333.3 265.6L1333.4 265.0L1333.5 264.4L1333.6 263.8L1333.7 263.2L1333.7 262.6L1333.8 262.0L1333.9 261.4L1334.0 260.8L1334.1 260.2L1334.1 259.6L1334.2 259.0L1334.3 258.4L1334.4 257.7L1334.5 257.1L1334.6 256.5L1334.6 255.9L1334.7 255.2L1334.8 254.6L1334.9 254.0L1335.0 253.3L1335.1 252.7L1335.1 252.1L1335.2 251.4L1335.3 250.8L1335.4 250.2L1335.5 249.5L1335.6 248.9L1335.7 248.2L1335.7 247.6L1335.8 247.0L1335.9 246.3L1336.0 245.7L1336.1 245.1L1336.2 244.4L1336.2 243.8L1336.3 243.2L1336.4 242.6L1336.5 242.0L1336.6 241.3L1336.7 240.7L1336.7 240.1L1336.8 239.5L1336.9 238.9L1337.0 238.3L1337.1 237.7L1337.1 237.1L1337.2 236.5L1337.3 236.0L1337.4 235.4L1337.4 234.8L1337.5 234.2L1337.6 233.7L1337.7 233.1L1337.7 232.6L1337.8 232.0L1337.9 231.5L1338.0 231.0L1338.0 230.4L1338.1 229.9L1338.2 229.2L1338.3 228.5L1338.4 227.8L1338.5 227.1L1338.5 226.5L1338.6 225.8L1338.7 225.2L1338.8 224.5L1338.9 223.9L1339.0 223.3L1339.0 222.7L1339.1 222.1L1339.2 221.5L1339.3 220.9L1339.4 220.3L1339.4 219.7L1339.5 219.2L1339.6 218.6L1339.7 218.0L1339.7 217.5L1339.8 216.9L1339.9 216.4L1340.0 215.8L1340.0 215.3L1340.1 214.7L1340.2 214.2L1340.2 213.6L1340.3 213.1L1340.4 212.5L1340.5 211.9L1340.5 211.4L1340.6 210.8L1340.7 210.3L1340.7 209.7L1340.8 209.1L1340.9 208.6L1340.9 208.0L1341.0 207.4L1341.1 206.8L1341.2 206.2L1341.2 205.6L1341.3 205.0L1341.4 204.4L1341.4 203.8L1341.5 203.1L1341.6 202.5L1341.7 201.8L1341.7 201.3L1341.8 200.7L1341.9 200.2L1341.9 199.6L1342.0 199.0L1342.1 198.5L1342.1 197.9L1342.2 197.3L1342.2 196.7L1342.3 196.1L1342.4 195.6L1342.4 195.0L1342.5 194.4L1342.6 193.8L1342.6 193.2L1342.7 192.6L1342.7 192.0L1342.8 191.4L1342.9 190.8L1342.9 190.2L1343.0 189.6L1343.1 189.0L1343.1 188.3L1343.2 187.7L1343.2 187.1L1343.3 186.5L1343.4 185.9L1343.4 185.3L1343.5 184.7L1343.6 184.0L1343.6 183.4L1343.7 182.8L1343.7 182.2L1343.8 181.6L1343.9 180.9L1343.9 180.3L1344.0 179.7L1344.0 179.1L1344.1 178.4L1344.2 177.8L1344.2 177.2L1344.3 176.6L1344.4 176.0L1344.4 175.3L1344.5 174.7L1344.5 174.1L1344.6 173.5L1344.7 172.9L1344.7 172.2L1344.8 171.6L1344.9 171.0L1344.9 170.4L1345.0 169.8L1345.0 169.2L1345.1 168.6L1345.2 167.9L1345.2 167.3L1345.3 166.7L1345.3 166.1L1345.4 165.5L1345.5 164.9L1345.5 164.3L1345.6 163.7L1345.7 163.0L1345.7 162.4L1345.8 161.8L1345.8 161.2L1345.9 160.5L1346.0 159.9L1346.0 159.2L1346.1 158.6L1346.2 158.0L1346.2 157.3L1346.3 156.7L1346.3 156.0L1346.4 155.4L1346.5 154.8L1346.5 154.1L1346.6 153.5L1346.7 152.8L1346.7 152.2L1346.8 151.6L1346.8 150.9L1346.9 150.3L1347.0 149.7L1347.0 149.0L1347.1 148.4L1347.1 147.8L1347.2 147.2L1347.3 146.6L1347.3 145.9L1347.4 145.3L1347.4 144.7L1347.5 144.1L1347.6 143.5L1347.6 142.9L1347.7 142.3L1347.7 141.8L1347.8 141.2L1347.9 140.6L1347.9 140.0L1348.0 139.5L1348.0 138.9L1348.1 138.4L1348.2 137.8L1348.2 137.3L1348.3 136.8L1348.3 136.3L1348.4 135.7L1348.4 135.2L1348.5 134.7L1348.5 134.3L1348.6 133.8L1348.7 133.0L1348.8 132.2L1348.9 131.4L1348.9 130.7L1349.0 130.0L1349.1 129.3L1349.2 128.6L1349.3 128.0L1349.4 127.3L1349.5 126.7L1349.5 126.1L1349.6 125.5L1349.7 124.9L1349.8 124.3L1349.8 123.8L1349.9 123.2L1350.0 122.6L1350.1 122.1L1350.2 121.6L1350.2 121.0L1350.3 120.5L1350.4 120.0L1350.5 119.4L1350.5 118.9L1350.6 118.4L1350.7 117.8L1350.8 117.3L1350.8 116.7L1350.9 116.2L1351.0 115.6L1351.1 115.0L1351.1 114.4L1351.2 113.8L1351.3 113.2L1351.4 112.6L1351.5 112.0L1351.5 111.4L1351.6 110.9L1351.7 110.3L1351.7 109.7L1351.8 109.1L1351.9 108.5L1352.0 107.9L1352.0 107.3L1352.1 106.7L1352.2 106.1L1352.2 105.5L1352.3 104.9L1352.4 104.3L1352.5 103.7L1352.5 103.1L1352.6 102.5L1352.7 102.0L1352.8 101.4L1352.8 100.8L1352.9 100.2L1353.0 99.6L1353.1 99.0L1353.1 98.4L1353.2 97.8L1353.3 97.2L1353.4 96.6L1353.4 96.0L1353.5 95.4L1353.6 94.8L1353.7 94.2L1353.8 93.6L1353.9 93.0L1353.9 92.3L1354.0 91.7L1354.1 91.1L1354.2 90.4L1354.3 89.8L1354.4 89.1L1354.5 88.4L1354.6 87.7L1354.7 87.1L1354.8 86.4L1354.9 85.7L1355.0 85.0L1355.1 84.3L1355.2 83.7L1355.3 83.0L1355.4 82.3L1355.5 81.7L1355.6 81.0L1355.7 80.4L1355.8 79.7L1355.9 79.1L1356.0 78.5L1356.1 77.9L1356.2 77.3L1356.3 76.7L1356.4 76.2L1356.5 75.6L1356.5 75.1L1356.6 74.6L1356.7 74.1L1356.8 73.6L1356.9 73.2L1356.9 72.8L1357.1 71.6L1357.3 70.7L1357.5 69.9L1357.6 69.2L1357.7 68.7L1357.9 68.2L1358.0 67.8L1358.1 67.4L1358.3 67.0L1358.4 66.5L1358.6 66.0L1358.8 65.2L1359.1 64.4L1359.3 63.6L1359.6 62.7L1359.9 61.9L1360.2 61.1L1360.5 60.4L1360.8 59.8L1361.3 59.0L1361.8 58.2L1362.3 57.4L1362.9 56.7L1363.4 56.1L1364.0 56.0L1364.2 56.1L1364.5 56.3L1364.7 56.5L1365.0 57.0L1365.2 57.5L1365.5 58.2L1365.8 59.0L1366.0 59.9L1366.3 61.0L1366.5 62.2L1366.8 63.4L1367.0 64.7L1367.3 66.0L1367.6 67.4L1367.8 68.9L1367.9 69.5L1368.0 70.2L1368.1 70.9L1368.2 71.6L1368.4 72.3L1368.5 73.0L1368.6 73.8L1368.7 74.5L1368.8 75.2L1368.9 75.9L1369.0 76.7L1369.1 77.4L1369.2 78.2L1369.3 78.9L1369.5 79.6L1369.6 80.4L1369.7 81.1L1369.8 81.8L1369.9 82.6L1370.0 83.3L1370.1 84.0L1370.2 84.7L1370.3 85.4L1370.4 86.1L1370.5 86.8L1370.6 87.5L1370.7 88.2L1370.8 88.9L1370.9 89.6L1371.0 90.2L1371.1 90.9L1371.2 91.5L1371.3 92.1L1371.4 92.7L1371.5 93.4L1371.6 94.0L1371.7 94.6L1371.8 95.2L1371.8 95.8L1371.9 96.4L1372.0 97.0L1372.1 97.6L1372.2 98.2L1372.3 98.8L1372.3 99.4L1372.4 100.0L1372.5 100.6L1372.6 101.2L1372.7 101.8L1372.7 102.4L1372.8 103.0L1372.9 103.6L1373.0 104.2L1373.0 104.8L1373.1 105.4L1373.2 106.0L1373.3 106.6L1373.4 107.2L1373.4 107.8L1373.5 108.4L1373.6 109.0L1373.7 109.6L1373.8 110.2L1373.8 110.8L1373.9 111.4L1374.0 112.0L1374.1 112.6L1374.2 113.2L1374.2 113.8L1374.3 114.4L1374.4 114.9L1374.5 115.5L1374.6 116.0L1374.7 116.6L1374.7 117.1L1374.8 117.6L1374.9 118.2L1375.0 118.7L1375.1 119.2L1375.2 119.8L1375.2 120.3L1375.3 120.9L1375.4 121.4L1375.5 122.0L1375.6 122.5L1375.7 123.1L1375.7 123.7L1375.8 124.3L1375.9 124.9L1376.0 125.6L1376.1 126.2L1376.2 126.9L1376.3 127.5L1376.3 128.2L1376.4 128.9L1376.5 129.7L1376.6 130.4L1376.7 131.2L1376.8 132.0L1376.9 132.5L1376.9 133.0L1377.0 133.5L1377.0 134.0L1377.1 134.5L1377.1 135.0L1377.2 135.6L1377.2 136.1L1377.3 136.6L1377.4 137.2L1377.4 137.8L1377.5 138.3L1377.5 138.9L1377.6 139.5L1377.7 140.0L1377.7 140.6L1377.8 141.2L1377.8 141.8L1377.9 142.4L1378.0 143.0L1378.0 143.6L1378.1 144.2L1378.1 144.8L1378.2 145.5L1378.3 146.1L1378.3 146.7L1378.4 147.3L1378.5 148.0L1378.5 148.6L1378.6 149.2L1378.6 149.9L1378.7 150.5L1378.8 151.2L1378.8 151.8L1378.9 152.4L1378.9 153.1L1379.0 153.7L1379.1 154.4L1379.1 155.0L1379.2 155.6L1379.2 156.3L1379.3 156.9L1379.3 157.6L1379.4 158.2L1379.5 158.8L1379.5 159.5L1379.6 160.1L1379.6 160.7L1379.7 161.4L1379.7 162.0L1379.8 162.6L1379.8 163.2L1379.9 163.8L1379.9 164.5L1380.0 165.1L1380.1 165.7L1380.1 166.3L1380.1 166.9L1380.2 167.5L1380.2 168.1L1380.3 168.7L1380.3 169.3L1380.4 169.9L1380.4 170.5L1380.5 171.1L1380.5 171.7L1380.6 172.3L1380.6 172.9L1380.7 173.5L1380.7 174.1L1380.7 174.7L1380.8 175.3L1380.8 175.9L1380.9 176.6L1380.9 177.2L1381.0 177.8L1381.0 178.4L1381.0 179.0L1381.1 179.6L1381.1 180.2L1381.2 180.8L1381.2 181.4L1381.2 182.0L1381.3 182.6L1381.3 183.2L1381.3 183.8L1381.4 184.4L1381.4 185.0L1381.5 185.6L1381.5 186.2L1381.5 186.8L1381.6 187.4L1381.6 188.0L1381.7 188.6L1381.7 189.2L1381.7 189.8L1381.8 190.4L1381.8 191.0L1381.8 191.6L1381.9 192.2L1381.9 192.8L1382.0 193.4L1382.0 194.0L1382.0 194.6L1382.1 195.2L1382.1 195.8L1382.2 196.4L1382.2 197.0L1382.2 197.6L1382.3 198.2L1382.3 198.8L1382.4 199.4L1382.4 200.0L1382.4 200.6L1382.5 201.2L1382.5 201.8L1382.6 202.5L1382.6 203.1L1382.7 203.7L1382.7 204.3L1382.7 204.9L1382.8 205.5L1382.8 206.1L1382.9 206.7L1382.9 207.3L1382.9 207.9L1383.0 208.5L1383.0 209.1L1383.1 209.7L1383.1 210.3L1383.2 210.9L1383.2 211.5L1383.2 212.1L1383.3 212.7L1383.3 213.3L1383.4 213.9L1383.4 214.5L1383.5 215.1L1383.5 215.7L1383.5 216.3L1383.6 216.9L1383.6 217.5L1383.7 218.1L1383.7 218.7L1383.8 219.3L1383.8 219.9L1383.8 220.5L1383.9 221.1L1383.9 221.7L1384.0 222.3L1384.0 222.9L1384.1 223.6L1384.1 224.2L1384.1 224.8L1384.2 225.4L1384.2 226.0L1384.3 226.6L1384.3 227.2L1384.4 227.8L1384.4 228.4L1384.5 229.0L1384.5 229.6L1384.5 230.2L1384.6 230.8L1384.6 231.4L1384.7 232.0L1384.7 232.6L1384.8 233.2L1384.8 233.8L1384.8 234.4L1384.9 235.0L1384.9 235.6L1385.0 236.2L1385.0 236.8L1385.1 237.4L1385.1 238.0L1385.2 238.6L1385.2 239.2L1385.2 239.8L1385.3 240.4L1385.3 241.0L1385.4 241.6L1385.4 242.2L1385.5 242.8L1385.5 243.4L1385.6 244.0L1385.6 244.6L1385.7 245.2L1385.7 245.8L1385.7 246.4L1385.8 247.0L1385.8 247.6L1385.9 248.2L1385.9 248.8L1386.0 249.4L1386.0 249.9L1386.1 250.5L1386.1 251.1L1386.2 251.7L1386.2 252.3L1386.2 252.9L1386.3 253.5L1386.3 254.1L1386.4 254.7L1386.4 255.3L1386.5 255.9L1386.5 256.5L1386.6 257.2L1386.6 257.8L1386.6 258.4L1386.7 259.0L1386.7 259.6L1386.8 260.2L1386.8 260.8L1386.9 261.4L1386.9 262.0L1387.0 262.6L1387.0 263.2L1387.0 263.8L1387.1 264.4L1387.1 265.1L1387.2 265.7L1387.2 266.3L1387.3 266.9L1387.3 267.5L1387.3 268.1L1387.4 268.7L1387.4 269.3L1387.5 269.9L1387.5 270.5L1387.5 271.1L1387.6 271.7L1387.6 272.2L1387.6 272.8L1387.7 273.4L1387.7 274.0L1387.8 274.6L1387.8 275.2L1387.8 275.8L1387.9 276.4L1387.9 277.0L1387.9 277.6L1388.0 278.2L1388.0 278.8L1388.0 279.4L1388.1 280.0L1388.1 280.6L1388.2 281.2L1388.2 281.8L1388.2 282.4L1388.3 283.0L1388.3 283.6L1388.3 284.2L1388.4 284.8L1388.4 285.4L1388.4 286.0L1388.5 286.6L1388.5 287.2L1388.5 287.8L1388.6 288.4L1388.6 289.0L1388.7 289.6L1388.7 290.2L1388.7 290.8L1388.8 291.5L1388.8 292.1L1388.8 292.7L1388.9 293.3L1388.9 293.9L1388.9 294.5L1389.0 295.1L1389.0 295.7L1389.1 296.3L1389.1 297.0L1389.1 297.6L1389.2 298.2L1389.2 298.8L1389.3 299.4L1389.3 300.0L1389.3 300.6L1389.4 301.3L1389.4 301.9L1389.5 302.5L1389.5 303.1L1389.5 303.7L1389.6 304.3L1389.6 304.9L1389.7 305.5L1389.7 306.1L1389.7 306.7L1389.8 307.3L1389.8 307.9L1389.9 308.5L1389.9 309.1L1390.0 309.8L1390.0 310.4L1390.0 311.0L1390.1 311.6L1390.1 312.2L1390.2 312.9L1390.2 313.5L1390.3 314.1L1390.3 314.8L1390.3 315.4L1390.4 316.0L1390.4 316.7L1390.5 317.3L1390.5 317.9L1390.6 318.5L1390.6 319.2L1390.7 319.8L1390.7 320.4L1390.8 321.1L1390.8 321.7L1390.8 322.3L1390.9 322.9L1390.9 323.6L1391.0 324.2L1391.0 324.8L1391.1 325.4L1391.1 326.1L1391.2 326.7L1391.2 327.3L1391.3 327.9L1391.3 328.5L1391.3 329.1L1391.4 329.7L1391.4 330.3L1391.5 330.9L1391.5 331.5L1391.6 332.1L1391.6 332.7L1391.7 333.3L1391.7 333.8L1391.7 334.4L1391.8 335.0L1391.8 335.5L1391.9 336.1L1391.9 336.7L1392.0 337.2L1392.0 337.7L1392.0 338.3L1392.1 338.8L1392.1 339.3L1392.2 339.9L1392.2 340.4L1392.3 341.1L1392.3 341.8L1392.4 342.5L1392.4 343.2L1392.5 343.8L1392.5 344.5L1392.6 345.2L1392.6 345.8L1392.7 346.4L1392.7 347.1L1392.8 347.7L1392.8 348.3L1392.9 348.9L1392.9 349.5L1393.0 350.1L1393.0 350.6L1393.1 351.2L1393.1 351.8L1393.2 352.4L1393.2 352.9L1393.3 353.5L1393.3 354.0L1393.4 354.6L1393.4 355.2L1393.5 355.7L1393.5 356.3L1393.5 356.8L1393.6 357.4L1393.6 357.9L1393.7 358.5L1393.8 359.0L1393.8 359.6L1393.9 360.2L1393.9 360.7L1394.0 361.3L1394.0 361.9L1394.1 362.5L1394.1 363.1L1394.2 363.6L1394.3 364.2L1394.3 364.9L1394.4 365.5L1394.4 366.1L1394.5 366.7L1394.6 367.3L1394.6 367.9L1394.7 368.4L1394.7 369.0L1394.8 369.6L1394.9 370.1L1394.9 370.7L1395.0 371.3L1395.0 371.8L1395.1 372.4L1395.2 373.0L1395.2 373.6L1395.3 374.1L1395.4 374.7L1395.4 375.3L1395.5 375.9L1395.6 376.4L1395.6 377.0L1395.7 377.6L1395.7 378.2L1395.8 378.8L1395.9 379.4L1396.0 380.0L1396.0 380.5L1396.1 381.1L1396.2 381.7L1396.2 382.3L1396.3 382.9L1396.4 383.5L1396.4 384.1L1396.5 384.7L1396.6 385.3L1396.7 385.9L1396.7 386.6L1396.8 387.2L1396.9 387.8L1397.0 388.4L1397.0 389.0L1397.1 389.7L1397.2 390.3L1397.3 390.9L1397.3 391.5L1397.4 392.2L1397.5 392.8L1397.6 393.5L1397.7 394.1L1397.7 394.8L1397.8 395.4L1397.9 396.1L1398.0 396.6L1398.0 397.2L1398.1 397.7L1398.2 398.3L1398.3 398.9L1398.3 399.5L1398.4 400.0L1398.5 400.6L1398.5 401.2L1398.6 401.8L1398.7 402.4L1398.8 403.0L1398.9 403.6L1398.9 404.2L1399.0 404.8L1399.1 405.5L1399.2 406.1L1399.3 406.7L1399.3 407.3L1399.4 407.9L1399.5 408.6L1399.6 409.2L1399.7 409.8L1399.7 410.5L1399.8 411.1L1399.9 411.7L1400.0 412.3L1400.1 413.0L1400.2 413.6L1400.2 414.2L1400.3 414.9L1400.4 415.5L1400.5 416.1L1400.6 416.7L1400.7 417.4L1400.7 418.0L1400.8 418.6L1400.9 419.2L1401.0 419.8L1401.1 420.5L1401.2 421.1L1401.2 421.7L1401.3 422.3L1401.4 422.9L1401.5 423.5L1401.6 424.1L1401.6 424.7L1401.7 425.2L1401.8 425.8L1401.9 426.4L1401.9 427.0L1402.0 427.5L1402.1 428.1L1402.2 428.6L1402.2 429.2L1402.3 429.7L1402.4 430.2L1402.4 430.8L1402.5 431.3L1402.6 432.0L1402.7 432.7L1402.8 433.4L1402.9 434.2L1403.0 434.9L1403.0 435.6L1403.1 436.3L1403.2 437.0L1403.3 437.7L1403.4 438.3L1403.5 439.0L1403.5 439.7L1403.6 440.4L1403.7 441.0L1403.8 441.7L1403.9 442.4L1403.9 443.0L1404.0 443.7L1404.1 444.3L1404.2 444.9L1404.2 445.5L1404.3 446.2L1404.4 446.8L1404.5 447.4L1404.5 448.0L1404.6 448.6L1404.7 449.1L1404.8 449.7L1404.8 450.3L1404.9 450.8L1405.0 451.4L1405.1 451.9L1405.1 452.4L1405.2 453.0L1405.3 453.5L1405.4 454.0L1405.4 454.5L1405.5 454.9L1405.6 455.4L1405.6 455.9L1405.7 456.3L1405.8 456.7L1406.0 457.7L1406.1 458.6L1406.3 459.4L1406.5 460.1L1406.6 460.8L1406.8 461.4L1407.0 462.0L1407.1 462.5L1407.3 463.0L1407.4 463.5L1407.6 464.0L1407.8 464.4L1407.9 464.9L1408.1 465.4L1408.3 465.9L1408.5 466.4L1408.7 466.9L1408.9 467.5L1409.1 468.0L1409.3 468.6L1409.5 469.2L1409.8 469.8L1410.0 470.4L1410.2 471.0L1410.5 471.6L1410.7 472.2L1411.0 472.8L1411.2 473.4L1411.5 474.0L1411.7 474.6L1412.0 475.2L1412.3 475.7L1412.5 476.3L1412.8 476.8L1413.0 477.3L1413.3 477.8L1413.5 478.3L1413.8 478.9L1414.2 479.5L1414.5 480.1L1414.8 480.7L1415.1 481.3L1415.5 481.8L1415.8 482.3L1416.1 482.8L1416.5 483.3L1416.8 483.8L1417.1 484.2L1417.4 484.6L1417.8 485.0L1418.1 485.4L1418.7 485.9L1419.2 486.4L1419.7 486.7L1420.3 487.0L1420.8 487.3L1421.4 487.5L1422.0 487.8L1422.7 488.1L1423.2 488.4L1423.8 488.6L1424.5 488.9L1425.2 489.2L1425.8 489.5L1426.5 489.7L1427.2 490.0L1427.8 490.2L1428.3 490.4L1428.8 490.6L1429.1 490.7" fill="none" stroke="#333" stroke-width="2" stroke-linejoin="round"/>
<path d="M872.5 326.1L872.9 326.1L873.4 326.0L874.0 325.9L874.7 325.8L875.4 325.7L876.1 325.5L876.8 325.4L877.5 325.2L878.1 325.0L878.7 324.8L879.3 324.6L880.0 324.3L880.6 324.0L881.2 323.8L881.8 323.4L882.4 323.1L882.9 322.8L883.4 322.5L883.9 322.2L884.4 321.8L885.0 321.5L885.5 321.1L886.0 320.7L886.5 320.3L886.9 319.8L887.4 319.4L887.8 318.9L888.2 318.5L888.6 318.0L888.9 317.6L889.3 317.1L889.6 316.6L890.0 316.0L890.3 315.5L890.7 314.9L891.0 314.4L891.4 313.8L891.7 313.3L892.0 312.8L892.3 312.2L892.6 311.7L892.9 311.1L893.2 310.6L893.6 310.0L893.9 309.4L894.2 308.8L894.5 308.2L894.8 307.6L895.1 307.0L895.4 306.4L895.7 305.9L895.9 305.3L896.2 304.8L896.5 304.2L896.8 303.7L897.0 303.1L897.3 302.6L897.6 302.0L897.8 301.4L898.1 300.8L898.4 300.2L898.6 299.6L898.9 299.0L899.2 298.4L899.4 297.8L899.6 297.3L899.9 296.7L900.1 296.1L900.3 295.5L900.5 294.9L900.8 294.4L901.0 293.8L901.2 293.2L901.4 292.5L901.6 291.9L901.8 291.3L902.0 290.7L902.2 290.1L902.4 289.5L902.6 288.9L902.8 288.3L903.0 287.8L903.1 287.3L903.3 286.8L903.4 286.4L903.5 285.9L903.6 285.5L903.7 285.1L903.8 284.7L903.9 284.2L904.0 283.7L904.2 283.1L904.3 282.4L904.5 281.6L904.7 280.8L905.0 279.8L905.3 278.7L905.4 278.3L905.5 277.9L905.6 277.4L905.8 277.0L905.9 276.5L906.0 276.0L906.2 275.5L906.3 275.0L906.5 274.5L906.6 273.9L906.8 273.3L906.9 272.8L907.1 272.2L907.2 271.6L907.4 271.0L907.6 270.4L907.7 269.8L907.9 269.1L908.1 268.5L908.3 267.9L908.4 267.2L908.6 266.6L908.8 265.9L909.0 265.3L909.1 264.6L909.3 264.0L909.5 263.3L909.7 262.7L909.9 262.0L910.0 261.3L910.2 260.7L910.4 260.1L910.6 259.4L910.7 258.8L910.9 258.1L911.1 257.5L911.3 256.9L911.4 256.3L911.6 255.7L911.7 255.1L911.9 254.5L912.1 253.9L912.2 253.4L912.4 252.8L912.5 252.3L912.6 251.7L912.8 251.2L912.9 250.7L913.1 250.0L913.3 249.3L913.4 248.6L913.6 247.9L913.8 247.2L914.0 246.6L914.1 245.9L914.3 245.2L914.4 244.6L914.6 244.0L914.7 243.3L914.9 242.7L915.0 242.1L915.2 241.5L915.3 240.9L915.4 240.3L915.6 239.8L915.7 239.2L915.8 238.6L916.0 238.1L916.1 237.5L916.2 237.0L916.3 236.5L916.5 236.0L916.6 235.4L916.7 234.9L916.8 234.4L917.0 233.9L917.1 233.5L917.2 233.0L917.4 232.5L917.5 232.0L917.7 231.3L917.9 230.5L918.2 229.8L918.4 229.1L918.6 228.5L918.8 227.8L919.0 227.2L919.2 226.6L919.4 226.0L919.6 225.5L919.8 224.9L920.0 224.4L920.2 223.9L920.4 223.4L920.6 222.9L920.8 222.5L921.1 222.0L921.3 221.6L921.5 221.2L921.9 220.5L922.3 219.8L922.7 219.2L923.2 218.6L923.6 218.1L924.0 217.7L924.5 217.3L924.9 216.9L925.3 216.7L925.8 216.5L926.2 216.5L926.7 216.5L927.1 216.6L927.6 216.9L928.0 217.2L928.5 217.6L929.0 218.1L929.4 218.6L929.9 219.3L930.3 219.9L930.8 220.7L931.0 221.1L931.3 221.5L931.5 222.0L931.8 222.4L932.0 222.9L932.3 223.4L932.5 223.9L932.8 224.5L933.0 225.0L933.2 225.6L933.5 226.2L933.7 226.8L934.0 227.4L934.2 228.1L934.5 228.8L934.7 229.5L934.9 230.2L935.2 230.9L935.4 231.7L935.5 232.2L935.7 232.6L935.8 233.1L935.9 233.6L936.1 234.1L936.2 234.6L936.3 235.1L936.4 235.7L936.5 236.2L936.7 236.7L936.8 237.3L936.9 237.8L937.0 238.4L937.1 238.9L937.2 239.5L937.4 240.1L937.5 240.7L937.6 241.3L937.7 241.9L937.9 242.5L938.0 243.2L938.1 243.8L938.3 244.5L938.4 245.1L938.6 245.8L938.7 246.5L938.9 247.2L939.1 247.9L939.2 248.6L939.4 249.3L939.6 250.1L939.7 250.6L939.9 251.1L940.0 251.6L940.1 252.1L940.3 252.7L940.4 253.2L940.6 253.8L940.7 254.4L940.9 255.0L941.1 255.6L941.2 256.2L941.4 256.8L941.6 257.4L941.7 258.1L941.9 258.7L942.1 259.3L942.3 260.0L942.4 260.6L942.6 261.3L942.8 261.9L943.0 262.6L943.2 263.2L943.3 263.9L943.5 264.5L943.7 265.2L943.9 265.8L944.1 266.5L944.3 267.1L944.4 267.8L944.6 268.4L944.8 269.0L945.0 269.7L945.1 270.3L945.3 270.9L945.5 271.5L945.7 272.1L945.8 272.7L946.0 273.2L946.1 273.8L946.3 274.3L946.4 274.9L946.6 275.4L946.7 275.9L946.9 276.4L947.0 276.9L947.2 277.4L947.3 277.8L947.4 278.2L947.7 279.2L947.9 280.0L948.1 280.8L948.4 281.6L948.6 282.2L948.8 282.9L948.9 283.5L949.1 284.1L949.3 284.6L949.4 285.1L949.6 285.6L949.7 286.1L949.9 286.5L950.0 287.0L950.2 287.4L950.3 287.9L950.5 288.3L950.6 288.8L950.8 289.3L950.9 289.9L951.1 290.4L951.3 291.0L951.5 291.6L951.7 292.2L951.8 292.8L952.0 293.4L952.2 294.0L952.4 294.6L952.6 295.2L952.8 295.8L953.0 296.4L953.1 297.0L953.3 297.6L953.5 298.2L953.7 298.8L953.9 299.4L954.1 300.0L954.3 300.6L954.4 301.2L954.6 301.8L954.8 302.4L955.0 303.0L955.2 303.6L955.3 304.2L955.5 304.8L955.7 305.3L955.9 305.9L956.0 306.5L956.2 307.1L956.4 307.7L956.6 308.3L956.7 308.9L956.9 309.5L957.1 310.1L957.3 310.7L957.5 311.3L957.6 311.9L957.8 312.5L958.0 313.1L958.2 313.6L958.4 314.2L958.6 314.8L958.8 315.4L959.0 316.0L959.2 316.6L959.4 317.2L959.6 317.8L959.8 318.4L960.0 319.0L960.2 319.6L960.4 320.2L960.6 320.8L960.9 321.4L961.1 322.0L961.3 322.5L961.5 323.1L961.8 323.7L962.0 324.2L962.2 324.8L962.5 325.3L962.7 325.9L963.0 326.5L963.3 327.1L963.6 327.7L963.9 328.3L964.2 328.8L964.5 329.4L964.8 330.0L965.2 330.5L965.5 331.1L965.8 331.6L966.2 332.1L966.5 332.7L966.8 333.2L967.2 333.7L967.5 334.2L967.9 334.7L968.2 335.1L968.6 335.7L969.0 336.2L969.4 336.7L969.8 337.2L970.2 337.7L970.6 338.2L971.0 338.7L971.4 339.2L971.8 339.6L972.2 340.1L972.6 340.5L973.1 340.9L973.5 341.3L974.0 341.7L974.4 342.0L974.9 342.4L975.5 342.8L976.1 343.1L976.6 343.4L977.2 343.7L977.8 344.0L978.4 344.3L979.0 344.5L979.6 344.7L980.2 344.9L980.7 345.1L981.2 345.3L981.7 345.4L982.4 345.6L983.1 345.8L983.7 345.9L984.3 345.9L984.8 345.9L985.4 345.9L985.9 345.8L986.5 345.7L987.1 345.6L987.7 345.5L988.3 345.3L988.9 345.1L989.6 344.9L990.3 344.6L991.0 344.2L991.5 344.0L992.0 343.8L992.5 343.5L993.0 343.2L993.5 342.9L994.1 342.6L994.7 342.3L995.2 341.9L995.8 341.6L996.4 341.2L997.0 340.8L997.6 340.5L998.0 340.2L998.5 339.8L999.0 339.5L999.5 339.2L1000.0 338.8L1000.5 338.5L1001.0 338.1L1001.5 337.8L1002.0 337.4L1002.5 337.0L1003.0 336.6L1003.5 336.3L1003.9 335.9L1004.4 335.5L1004.8 335.1L1005.3 334.7L1005.7 334.3L1006.2 333.8L1006.6 333.4L1007.1 332.9L1007.5 332.5L1007.9 332.0L1008.3 331.5L1008.7 331.1L1009.1 330.6L1009.5 330.2L1009.9 329.7L1010.3 329.2L1010.6 328.8L1011.0 328.3L1011.4 327.8L1011.8 327.2L1012.2 326.7L1012.6 326.2L1013.0 325.7L1013.3 325.2L1013.7 324.7L1014.0 324.1L1014.4 323.6L1014.7 323.1L1015.1 322.5L1015.4 322.0L1015.7 321.5L1016.0 320.9L1016.3 320.4L1016.6 319.8L1016.9 319.3L1017.2 318.7L1017.5 318.2L1017.8 317.6L1018.1 317.1L1018.3 316.6L1018.6 316.1L1018.8 315.6L1019.1 315.0L1019.4 314.5L1019.6 314.0L1019.8 313.6L1020.0 313.1L1020.2 312.7L1020.5 312.1L1020.7 311.4L1021.1 310.6L1021.3 310.2L1021.5 309.8L1021.6 309.4L1021.8 309.0L1022.0 308.7L1022.2 308.3L1022.4 307.8L1022.7 307.4L1022.9 307.0L1023.1 306.5L1023.3 306.0L1023.6 305.5L1023.9 304.9L1024.1 304.3L1024.4 303.6L1024.7 302.9L1025.0 302.1L1025.3 301.3L1025.6 300.4L1026.0 299.4L1026.1 299.0L1026.2 298.6L1026.4 298.2L1026.6 297.7L1026.7 297.2L1026.9 296.7L1027.0 296.3L1027.2 295.7L1027.4 295.2L1027.6 294.7L1027.7 294.2L1027.9 293.6L1028.1 293.0L1028.3 292.5L1028.5 291.9L1028.7 291.3L1028.9 290.7L1029.0 290.1L1029.2 289.5L1029.4 288.9L1029.6 288.3L1029.8 287.7L1030.0 287.0L1030.2 286.4L1030.4 285.8L1030.6 285.1L1030.8 284.5L1031.0 283.8L1031.2 283.2L1031.4 282.6L1031.6 281.9L1031.8 281.3L1032.0 280.6L1032.2 280.0L1032.4 279.4L1032.6 278.7L1032.8 278.1L1033.0 277.5L1033.2 276.8L1033.4 276.2L1033.5 275.6L1033.7 275.0L1033.9 274.4L1034.1 273.8L1034.2 273.2L1034.4 272.6L1034.6 272.0L1034.7 271.4L1034.9 270.9L1035.1 270.3L1035.3 269.6L1035.4 269.0L1035.6 268.4L1035.8 267.7L1035.9 267.1L1036.1 266.4L1036.3 265.8L1036.5 265.1L1036.6 264.5L1036.8 263.8L1037.0 263.1L1037.1 262.5L1037.3 261.8L1037.5 261.2L1037.6 260.5L1037.8 259.9L1037.9 259.2L1038.1 258.6L1038.3 257.9L1038.4 257.3L1038.6 256.7L1038.7 256.0L1038.9 255.4L1039.0 254.8L1039.2 254.2L1039.3 253.6L1039.4 253.0L1039.6 252.4L1039.7 251.8L1039.9 251.2L1040.0 250.7L1040.1 250.1L1040.3 249.6L1040.4 249.1L1040.5 248.6L1040.6 248.1L1040.7 247.6L1040.9 247.1L1041.0 246.7L1041.1 246.2L1041.2 245.8L1041.3 245.4L1041.4 245.0L1041.7 243.8L1042.0 242.8L1042.2 241.9L1042.4 241.2L1042.6 240.6L1042.7 240.1L1042.9 239.7L1043.0 239.3L1043.1 238.9L1043.2 238.5L1043.4 238.1L1043.5 237.6L1043.7 237.1L1043.8 236.5L1044.0 235.9L1044.2 235.3L1044.4 234.8L1044.5 234.2L1044.7 233.6L1044.9 233.0L1045.0 232.4L1045.2 231.9L1045.4 231.3L1045.6 230.7L1045.7 230.1L1045.9 229.5L1046.1 228.9L1046.3 228.3L1046.5 227.8L1046.7 227.2L1046.9 226.5L1047.1 225.9L1047.3 225.3L1047.5 224.7L1047.7 224.1L1047.9 223.5L1048.1 222.9L1048.3 222.3L1048.5 221.7L1048.7 221.2L1048.9 220.6L1049.1 220.0L1049.3 219.4L1049.6 218.8L1049.8 218.2L1050.0 217.6L1050.2 217.0L1050.5 216.4L1050.7 215.9L1051.0 215.3L1051.2 214.8L1051.4 214.2L1051.7 213.7L1051.9 213.3L1052.2 212.8L1052.6 212.2L1053.0 211.5L1053.4 210.9L1053.8 210.4L1054.2 209.9L1054.7 209.4L1055.1 209.1L1055.5 208.8L1056.0 208.7L1056.5 208.7L1057.1 208.9L1057.7 209.2L1058.3 209.6L1058.8 210.0L1059.4 210.5L1060.0 211.0L1060.5 211.4L1061.0 211.8L1061.5 212.3L1062.0 212.7L1062.5 213.2L1063.0 213.7L1063.4 214.2L1063.9 214.7L1064.3 215.2L1064.7 215.7L1065.1 216.2L1065.4 216.8L1065.8 217.3L1066.1 217.8L1066.5 218.4L1066.8 219.0L1067.1 219.6L1067.4 220.2L1067.6 220.7L1067.9 221.2L1068.1 221.8L1068.3 222.3L1068.5 222.9L1068.7 223.4L1068.9 224.0L1069.1 224.6L1069.3 225.2L1069.5 225.8L1069.7 226.4L1069.9 226.9L1070.1 227.5L1070.3 228.0L1070.5 228.6L1070.7 229.2L1070.8 229.7L1071.0 230.3L1071.2 230.9L1071.4 231.5L1071.6 232.1L1071.8 232.7L1072.0 233.4L1072.2 233.9L1072.3 234.4L1072.5 234.9L1072.6 235.4L1072.8 235.9L1072.9 236.4L1073.1 236.9L1073.3 237.5L1073.4 238.0L1073.6 238.7L1073.8 239.3L1073.9 240.1L1074.1 240.9L1074.3 241.7L1074.4 242.2L1074.5 242.7L1074.6 243.1L1074.7 243.7L1074.8 244.2L1074.9 244.7L1075.0 245.2L1075.1 245.8L1075.2 246.4L1075.3 246.9L1075.4 247.5L1075.5 248.1L1075.6 248.7L1075.8 249.4L1075.9 250.0L1076.0 250.6L1076.1 251.2L1076.2 251.9L1076.3 252.5L1076.4 253.2L1076.5 253.8L1076.6 254.5L1076.8 255.1L1076.9 255.8L1077.0 256.4L1077.1 257.0L1077.2 257.7L1077.3 258.3L1077.4 259.0L1077.5 259.5L1077.6 260.1L1077.7 260.7L1077.8 261.3L1077.9 261.9L1078.0 262.4L1078.1 263.0L1078.1 263.6L1078.2 264.2L1078.3 264.8L1078.4 265.4L1078.5 266.0L1078.6 266.6L1078.7 267.3L1078.8 267.9L1078.9 268.5L1079.0 269.1L1079.1 269.7L1079.2 270.3L1079.3 270.9L1079.3 271.5L1079.4 272.2L1079.5 272.8L1079.6 273.4L1079.7 274.0L1079.8 274.6L1079.9 275.2L1080.0 275.8L1080.1 276.4L1080.2 277.0L1080.3 277.6L1080.4 278.2L1080.5 278.8L1080.6 279.4L1080.7 280.0L1080.8 280.6L1080.9 281.2L1081.0 281.8L1081.1 282.3L1081.2 282.9L1081.3 283.5L1081.4 284.1L1081.5 284.6L1081.6 285.2L1081.7 285.8L1081.8 286.4L1081.9 286.9L1082.0 287.5L1082.1 288.1L1082.2 288.7L1082.3 289.3L1082.5 289.8L1082.6 290.4L1082.7 291.0L1082.8 291.6L1082.9 292.2L1083.0 292.9L1083.1 293.5L1083.2 294.1L1083.3 294.7L1083.5 295.4L1083.6 296.0L1083.7 296.7L1083.8 297.3L1083.9 297.9L1084.0 298.4L1084.1 299.0L1084.2 299.5L1084.3 300.1L1084.4 300.7L1084.5 301.3L1084.6 301.9L1084.7 302.4L1084.8 303.0L1084.9 303.6L1085.0 304.2L1085.1 304.8L1085.2 305.4L1085.3 306.0L1085.4 306.7L1085.5 307.3L1085.6 307.9L1085.7 308.5L1085.9 309.1L1086.0 309.7L1086.1 310.4L1086.2 311.0L1086.3 311.6L1086.4 312.2L1086.5 312.8L1086.6 313.5L1086.7 314.1L1086.8 314.7L1086.9 315.3L1087.0 315.9L1087.1 316.6L1087.3 317.2L1087.4 317.8L1087.5 318.4L1087.6 319.0L1087.7 319.6L1087.8 320.2L1087.9 320.8L1088.0 321.4L1088.1 322.0L1088.2 322.6L1088.3 323.3L1088.4 323.9L1088.5 324.5L1088.7 325.1L1088.8 325.7L1088.9 326.4L1089.0 327.0L1089.1 327.6L1089.2 328.3L1089.3 328.9L1089.4 329.5L1089.5 330.1L1089.7 330.8L1089.8 331.4L1089.9 332.0L1090.0 332.6L1090.1 333.3L1090.2 333.9L1090.3 334.5L1090.4 335.1L1090.5 335.7L1090.6 336.3L1090.7 336.9L1090.9 337.5L1091.0 338.1L1091.1 338.7L1091.2 339.3L1091.3 339.8L1091.4 340.4L1091.5 340.9L1091.6 341.5L1091.7 342.0L1091.8 342.6L1091.9 343.1L1092.0 343.6L1092.1 344.1L1092.2 344.8L1092.4 345.6L1092.5 346.3L1092.7 346.9L1092.8 347.6L1093.0 348.3L1093.1 349.0L1093.2 349.6L1093.4 350.2L1093.5 350.9L1093.6 351.5L1093.8 352.1L1093.9 352.7L1094.0 353.3L1094.2 353.9L1094.3 354.4L1094.4 355.0L1094.6 355.5L1094.7 356.1L1094.8 356.6L1094.9 357.1L1095.0 357.6L1095.2 358.1L1095.3 358.6L1095.4 359.1L1095.5 359.5L1095.6 360.0L1095.8 360.8L1096.0 361.6L1096.1 362.3L1096.3 362.9L1096.4 363.6L1096.6 364.1L1096.7 364.7L1096.8 365.2L1097.0 365.7L1097.1 366.2L1097.2 366.7L1097.4 367.3L1097.5 367.8L1097.7 368.4L1097.9 369.0L1098.0 369.6L1098.2 370.2L1098.4 370.8L1098.5 371.4L1098.7 372.0L1098.9 372.6L1099.1 373.2L1099.3 373.8L1099.4 374.4L1099.6 375.0L1099.8 375.6L1100.0 376.2L1100.2 376.8L1100.4 377.4L1100.6 377.9L1100.8 378.5L1100.9 379.1L1101.1 379.6L1101.3 380.2L1101.5 380.8L1101.7 381.3L1101.9 381.9L1102.1 382.5L1102.3 383.0L1102.5 383.6L1102.8 384.2L1103.0 384.7L1103.2 385.3L1103.4 385.9L1103.7 386.5L1103.9 387.0L1104.1 387.6L1104.4 388.3L1104.6 388.9L1104.9 389.5L1105.1 390.0L1105.4 390.6L1105.6 391.2L1105.9 391.7L1106.2 392.3L1106.4 392.8L1106.7 393.3L1107.0 393.7L1107.4 394.3L1107.8 394.9L1108.3 395.4L1108.7 395.9L1109.1 396.4L1109.6 396.8L1110.1 397.2L1110.6 397.6L1111.1 397.9L1111.6 398.2L1112.2 398.5L1112.7 398.7L1113.3 398.9L1113.9 399.0L1114.5 399.1L1115.1 399.2L1115.8 399.3L1116.5 399.4L1117.2 399.6L1118.0 399.7L1118.5 399.8L1119.1 399.9L1119.7 400.0L1120.3 400.1L1120.9 400.2L1121.6 400.3L1122.2 400.3L1122.9 400.4L1123.5 400.5L1124.2 400.6L1124.9 400.7L1125.5 400.8L1126.2 400.9L1126.8 401.0L1127.4 401.1L1128.0 401.2L1128.7 401.3L1129.3 401.4L1129.9 401.5L1130.5 401.6L1131.2 401.7L1131.8 401.8L1132.3 401.9L1132.9 402.1L1133.5 402.2L1134.1 402.3L1134.7 402.4L1135.3 402.6L1135.8 402.7L1136.4 402.9L1137.0 403.1L1137.6 403.3L1138.2 403.5L1138.8 403.7L1139.5 404.0L1140.1 404.2L1140.6 404.5L1141.2 404.7L1141.8 405.0L1142.4 405.2L1142.9 405.5L1143.5 405.8L1144.0 406.0L1144.6 406.3L1145.2 406.6L1145.7 406.9L1146.3 407.3L1146.8 407.6L1147.3 407.9L1147.8 408.2L1148.3 408.5L1148.9 408.8L1149.4 409.1L1150.0 409.3L1150.6 409.5L1151.2 409.7L1151.9 409.8L1152.5 409.9L1153.2 410.1L1153.8 410.2L1154.5 410.2L1155.1 410.3L1155.7 410.4L1156.3 410.4L1156.9 410.5L1157.6 410.6L1158.2 410.6L1158.9 410.7L1159.5 410.7L1160.1 410.7L1160.7 410.7L1161.3 410.6L1161.8 410.6L1162.4 410.5L1163.0 410.4L1163.7 410.2L1164.3 410.0L1164.9 409.8L1165.5 409.6L1166.1 409.3L1166.6 409.1L1167.2 408.8L1167.8 408.5L1168.3 408.2L1168.9 407.9L1169.4 407.5L1169.9 407.1L1170.4 406.8L1170.9 406.4L1171.4 406.0L1171.9 405.6L1172.3 405.2L1172.8 404.8L1173.2 404.4L1173.6 404.0L1174.0 403.6L1174.4 403.1L1174.8 402.6L1175.1 402.1L1175.5 401.7L1175.8 401.2L1176.1 400.6L1176.4 400.1L1176.7 399.6L1177.0 399.0L1177.3 398.4L1177.6 397.8L1177.8 397.3L1178.1 396.8L1178.3 396.2L1178.6 395.7L1178.8 395.1L1179.1 394.5L1179.3 393.9L1179.6 393.3L1179.8 392.8L1180.1 392.2L1180.3 391.6L1180.6 391.0L1180.8 390.5L1181.1 389.9L1181.3 389.3L1181.6 388.7L1181.8 388.2L1182.1 387.6L1182.3 387.0L1182.6 386.4L1182.8 385.9L1183.1 385.3L1183.4 384.8L1183.6 384.2L1183.9 383.7L1184.1 383.3L1184.3 382.8L1184.6 382.3L1184.8 381.7L1185.1 381.2L1185.4 380.5L1185.6 379.9L1185.9 379.1L1186.1 378.6L1186.2 378.2L1186.4 377.7L1186.5 377.2L1186.7 376.7L1186.9 376.2L1187.0 375.7L1187.2 375.2L1187.3 374.7L1187.5 374.1L1187.7 373.5L1187.9 372.9L1188.0 372.2L1188.2 371.6L1188.4 370.8L1188.6 370.1L1188.8 369.3L1189.0 368.5L1189.2 367.6L1189.3 367.1L1189.4 366.7L1189.5 366.2L1189.6 365.7L1189.8 365.2L1189.9 364.7L1190.0 364.1L1190.1 363.6L1190.2 363.0L1190.3 362.4L1190.5 361.9L1190.6 361.3L1190.7 360.7L1190.8 360.1L1191.0 359.5L1191.1 358.9L1191.2 358.2L1191.3 357.6L1191.5 357.0L1191.6 356.4L1191.7 355.7L1191.9 355.1L1192.0 354.4L1192.1 353.8L1192.3 353.2L1192.4 352.5L1192.5 351.9L1192.6 351.2L1192.8 350.6L1192.9 349.9L1193.0 349.3L1193.2 348.7L1193.3 348.1L1193.4 347.4L1193.5 346.8L1193.7 346.2L1193.8 345.6L1193.9 345.0L1194.0 344.4L1194.1 343.8L1194.3 343.2L1194.4 342.6L1194.5 342.0L1194.6 341.5L1194.7 340.9L1194.9 340.3L1195.0 339.7L1195.1 339.1L1195.2 338.5L1195.3 337.9L1195.5 337.3L1195.6 336.7L1195.7 336.1L1195.8 335.6L1195.9 335.0L1196.1 334.4L1196.2 333.8L1196.3 333.2L1196.4 332.6L1196.5 332.0L1196.7 331.4L1196.8 330.8L1196.9 330.3L1197.0 329.7L1197.1 329.1L1197.2 328.5L1197.4 327.9L1197.5 327.3L1197.6 326.7L1197.7 326.1L1197.8 325.5L1197.9 324.9L1198.1 324.3L1198.2 323.7L1198.3 323.1L1198.4 322.5L1198.5 321.9L1198.6 321.3L1198.7 320.7L1198.8 320.1L1198.9 319.5L1199.1 318.8L1199.2 318.2L1199.3 317.6L1199.4 317.0L1199.5 316.3L1199.6 315.7L1199.7 315.0L1199.8 314.4L1199.9 313.7L1200.0 313.1L1200.1 312.5L1200.2 311.8L1200.3 311.2L1200.4 310.5L1200.5 309.9L1200.6 309.3L1200.7 308.6L1200.9 308.0L1201.0 307.4L1201.1 306.8L1201.2 306.2L1201.3 305.6L1201.4 305.0L1201.5 304.4L1201.6 303.8L1201.7 303.3L1201.8 302.7L1201.9 302.2L1202.0 301.7L1202.1 301.1L1202.2 300.6L1202.3 300.1L1202.4 299.7L1202.5 299.2L1202.7 298.4L1202.9 297.6L1203.1 296.8L1203.3 296.1L1203.4 295.5L1203.6 294.8L1203.8 294.2L1204.0 293.6L1204.2 293.1L1204.4 292.5L1204.6 292.0L1204.7 291.5L1204.9 290.9L1205.1 290.4L1205.3 289.9L1205.5 289.5L1205.7 289.0L1205.8 288.5L1206.0 287.9L1206.2 287.4L1206.4 286.9L1206.6 286.3L1206.8 285.6L1207.0 285.0L1207.3 284.4L1207.5 283.7L1207.7 283.1L1207.9 282.5L1208.1 281.8L1208.3 281.2L1208.6 280.6L1208.8 280.1L1209.0 279.5L1209.2 279.0L1209.4 278.4L1209.6 277.9L1209.8 277.5L1210.0 277.0L1210.2 276.6L1210.6 275.8L1211.0 275.1L1211.5 274.5L1211.9 274.0L1212.2 273.5L1212.6 273.2L1213.0 272.8L1213.4 272.5L1214.0 272.0L1214.5 271.7L1215.1 271.4L1215.6 271.4L1216.3 271.5L1216.8 271.7L1217.3 271.9L1217.8 272.3L1218.3 272.7L1218.8 273.1L1219.4 273.6L1220.0 274.1L1220.5 274.7L1220.9 275.1L1221.2 275.5L1221.6 276.0L1222.0 276.5L1222.4 277.0L1222.8 277.5L1223.2 278.0L1223.5 278.6L1223.9 279.1L1224.3 279.6L1224.6 280.1L1225.0 280.5L1225.5 281.1L1225.9 281.6L1226.3 282.2L1226.7 282.7L1227.2 283.2L1227.6 283.7L1228.0 284.1L1228.4 284.6L1228.9 285.0L1229.4 285.5L1230.0 286.0L1230.5 286.4L1231.1 286.9L1231.7 287.3L1232.3 287.6L1232.8 287.8L1233.4 287.9L1234.0 287.9L1234.5 287.8L1235.1 287.6L1235.7 287.4L1236.2 287.1L1236.8 286.7L1237.3 286.2L1237.9 285.7L1238.2 285.3L1238.6 284.9L1239.0 284.5L1239.3 284.0L1239.7 283.5L1240.1 283.0L1240.4 282.4L1240.8 281.9L1241.1 281.3L1241.5 280.8L1241.8 280.2L1242.1 279.7L1242.4 279.2L1242.7 278.6L1243.1 278.0L1243.4 277.4L1243.7 276.7L1244.0 276.1L1244.2 275.5L1244.5 274.9L1244.8 274.3L1245.1 273.8L1245.3 273.3L1245.6 272.8L1246.0 272.1L1246.4 271.5L1246.8 270.9L1247.2 270.4L1247.6 270.0L1248.1 269.7L1248.5 269.6L1249.0 269.7L1249.5 270.0L1250.0 270.4L1250.5 270.9L1251.0 271.5L1251.5 272.1L1252.0 272.8L1252.3 273.3L1252.5 273.7L1252.8 274.3L1253.0 274.8L1253.3 275.4L1253.5 276.0L1253.7 276.6L1254.0 277.2L1254.2 277.9L1254.4 278.5L1254.6 279.2L1254.8 279.7L1254.9 280.3L1255.0 280.8L1255.2 281.4L1255.3 281.9L1255.4 282.5L1255.6 283.1L1255.7 283.7L1255.8 284.3L1255.9 284.9L1256.1 285.6L1256.2 286.2L1256.3 286.9L1256.5 287.6L1256.6 288.1L1256.7 288.7L1256.9 289.3L1257.0 289.8L1257.1 290.4L1257.3 291.0L1257.4 291.7L1257.5 292.3L1257.7 292.9L1257.8 293.6L1258.0 294.2L1258.1 294.8L1258.2 295.4L1258.4 296.1L1258.5 296.7L1258.6 297.3L1258.8 297.9L1258.9 298.4L1259.0 299.0L1259.1 299.6L1259.3 300.2L1259.4 300.8L1259.5 301.3L1259.6 301.8L1259.7 302.3L1259.8 302.8L1259.9 303.3L1260.0 303.8L1260.1 304.3L1260.3 304.9L1260.4 305.5L1260.5 306.1L1260.7 306.8L1260.8 307.6L1261.0 308.4L1261.1 308.9L1261.2 309.3L1261.3 309.8L1261.4 310.3L1261.5 310.9L1261.6 311.4L1261.7 311.9L1261.8 312.5L1261.9 313.1L1262.1 313.7L1262.2 314.3L1262.3 314.9L1262.4 315.5L1262.6 316.1L1262.7 316.7L1262.8 317.4L1262.9 318.0L1263.1 318.6L1263.2 319.3L1263.3 319.9L1263.4 320.6L1263.6 321.2L1263.7 321.8L1263.8 322.5L1264.0 323.1L1264.1 323.7L1264.2 324.4L1264.3 325.0L1264.5 325.6L1264.6 326.2L1264.7 326.8L1264.8 327.4L1264.9 328.0L1265.1 328.6L1265.2 329.2L1265.3 329.8L1265.4 330.3L1265.5 330.9L1265.6 331.5L1265.8 332.1L1265.9 332.7L1266.0 333.3L1266.1 333.9L1266.2 334.5L1266.4 335.1L1266.5 335.7L1266.6 336.2L1266.7 336.8L1266.8 337.4L1266.9 338.0L1267.1 338.6L1267.2 339.2L1267.3 339.8L1267.4 340.4L1267.5 341.0L1267.7 341.6L1267.8 342.1L1267.9 342.7L1268.0 343.3L1268.2 343.9L1268.3 344.5L1268.4 345.1L1268.5 345.7L1268.6 346.3L1268.8 346.9L1268.9 347.5L1269.0 348.1L1269.1 348.7L1269.3 349.2L1269.4 349.8L1269.5 350.4L1269.6 351.0L1269.7 351.6L1269.9 352.2L1270.0 352.8L1270.1 353.4L1270.2 354.0L1270.4 354.6L1270.5 355.2L1270.6 355.8L1270.8 356.4L1270.9 357.0L1271.0 357.6L1271.1 358.2L1271.3 358.7L1271.4 359.3L1271.5 359.9L1271.7 360.5L1271.8 361.1L1272.0 361.7L1272.1 362.3L1272.3 362.9L1272.4 363.5L1272.5 364.1L1272.7 364.7L1272.9 365.3L1273.0 365.9L1273.2 366.5L1273.3 367.1L1273.5 367.8L1273.6 368.4L1273.8 369.0L1274.0 369.6L1274.1 370.3L1274.3 370.9L1274.5 371.5L1274.7 372.1L1274.8 372.7L1275.0 373.4L1275.2 374.0L1275.3 374.6L1275.5 375.2L1275.7 375.8L1275.9 376.4L1276.0 377.0L1276.2 377.5L1276.4 378.1L1276.6 378.7L1276.7 379.2L1276.9 379.8L1277.1 380.3L1277.3 380.9L1277.4 381.4L1277.6 381.9L1277.8 382.6L1278.1 383.3L1278.3 383.9L1278.6 384.6L1278.8 385.2L1279.1 385.9L1279.3 386.5L1279.6 387.1L1279.9 387.7L1280.1 388.3L1280.4 388.9L1280.6 389.5L1280.9 390.1L1281.1 390.6L1281.4 391.2L1281.6 391.7L1281.8 392.2L1282.1 392.7L1282.3 393.1L1282.5 393.6L1282.7 394.0L1282.9 394.4L1283.1 394.8L1283.6 395.8L1284.0 396.6L1284.4 397.2L1284.7 397.7L1285.0 398.2L1285.3 398.6L1285.6 398.9L1286.0 399.3L1286.5 399.8L1287.1 400.2L1287.6 400.6L1288.2 400.8L1288.8 401.1L1289.5 401.2L1290.1 401.3L1290.7 401.4L1291.3 401.5L1291.9 401.5L1292.6 401.4L1293.3 401.3L1294.0 401.1L1294.7 400.7L1295.1 400.5L1295.5 400.2L1295.9 399.9L1296.3 399.5L1296.8 399.1L1297.2 398.7L1297.6 398.3L1298.1 397.9L1298.5 397.4L1299.0 396.9L1299.4 396.4L1299.9 395.9L1300.3 395.3L1300.8 394.8L1301.2 394.2L1301.5 393.8L1301.8 393.3L1302.2 392.9L1302.5 392.5L1302.8 392.0L1303.1 391.6L1303.4 391.2L1303.7 390.7L1304.0 390.2L1304.3 389.7L1304.6 389.2L1305.0 388.7L1305.3 388.2L1305.6 387.6L1305.9 387.0L1306.3 386.4L1306.6 385.7L1307.0 385.0L1307.3 384.3L1307.7 383.5L1307.9 383.1L1308.1 382.6L1308.3 382.2L1308.5 381.7L1308.8 381.2L1309.0 380.8L1309.2 380.3L1309.4 379.8L1309.6 379.3L1309.9 378.8L1310.1 378.3L1310.3 377.8L1310.6 377.2L1310.8 376.7L1311.0 376.2L1311.3 375.6L1311.5 375.1L1311.8 374.5L1312.0 373.9L1312.2 373.3L1312.5 372.7L1312.7 372.2L1313.0 371.6L1313.2 370.9L1313.4 370.3L1313.7 369.7L1313.9 369.1L1314.1 368.4L1314.4 367.8L1314.6 367.1L1314.8 366.5L1315.1 365.8L1315.3 365.1L1315.5 364.5L1315.8 363.8L1316.0 363.1L1316.2 362.4L1316.4 361.9L1316.5 361.4L1316.7 360.9L1316.8 360.4L1317.0 359.9L1317.1 359.3L1317.3 358.8L1317.4 358.3L1317.6 357.7L1317.8 357.2L1317.9 356.6L1318.1 356.1L1318.2 355.5L1318.4 354.9L1318.5 354.4L1318.7 353.8L1318.9 353.2L1319.0 352.6L1319.2 352.1L1319.3 351.5L1319.5 350.9L1319.6 350.3L1319.8 349.7L1319.9 349.1L1320.1 348.5L1320.2 347.9L1320.4 347.3L1320.6 346.7L1320.7 346.1L1320.9 345.5L1321.0 344.8L1321.1 344.2L1321.3 343.6L1321.4 343.0L1321.6 342.4L1321.7 341.8L1321.9 341.2L1322.0 340.6L1322.2 339.9L1322.3 339.3L1322.4 338.7L1322.6 338.1L1322.7 337.5L1322.8 336.9L1323.0 336.3L1323.1 335.7L1323.2 335.1L1323.4 334.5L1323.5 333.9L1323.6 333.3L1323.7 332.7L1323.9 332.1L1324.0 331.5L1324.1 330.9L1324.2 330.3L1324.3 329.7L1324.4 329.1L1324.6 328.6L1324.7 328.0L1324.8 327.4L1324.9 326.8L1325.0 326.2L1325.1 325.6L1325.2 325.0L1325.3 324.4L1325.4 323.8L1325.5 323.2L1325.6 322.6L1325.7 322.0L1325.8 321.4L1325.9 320.8L1326.0 320.2L1326.1 319.6L1326.2 319.0L1326.3 318.4L1326.3 317.8L1326.4 317.2L1326.5 316.6L1326.6 316.0L1326.7 315.4L1326.8 314.8L1326.9 314.2L1326.9 313.6L1327.0 313.0L1327.1 312.4L1327.2 311.8L1327.3 311.2L1327.4 310.6L1327.4 310.0L1327.5 309.4L1327.6 308.8L1327.7 308.2L1327.8 307.6L1327.9 307.1L1327.9 306.5L1328.0 305.9L1328.1 305.3L1328.2 304.7L1328.3 304.1L1328.4 303.5L1328.4 302.9L1328.5 302.3L1328.6 301.7L1328.7 301.1L1328.8 300.5L1328.9 299.9L1328.9 299.3L1329.0 298.7L1329.1 298.1L1329.2 297.5L1329.3 297.0L1329.3 296.4L1329.4 295.8L1329.5 295.2L1329.6 294.6L1329.7 294.1L1329.7 293.5L1329.8 292.9L1329.9 292.4L1330.0 291.8L1330.0 291.2L1330.1 290.6L1330.2 290.1L1330.3 289.5L1330.3 288.9L1330.4 288.4L1330.5 287.8L1330.6 287.2L1330.6 286.7L1330.7 286.1L1330.8 285.5L1330.8 284.9L1330.9 284.3L1331.0 283.8L1331.1 283.2L1331.1 282.6L1331.2 282.0L1331.3 281.4L1331.4 280.8L1331.4 280.2L1331.5 279.6L1331.6 279.0L1331.7 278.4L1331.8 277.8L1331.8 277.2L1331.9 276.6L1332.0 276.0L1332.1 275.3L1332.2 274.7L1332.2 274.1L1332.3 273.4L1332.4 272.8L1332.5 272.1L1332.6 271.5L1332.7 270.8L1332.7 270.1L1332.8 269.5L1332.9 268.9L1333.0 268.4L1333.0 267.8L1333.1 267.3L1333.2 266.7L1333.3 266.1L1333.3 265.6L1333.4 265.0L1333.5 264.4L1333.6 263.8L1333.7 263.2L1333.7 262.6L1333.8 262.0L1333.9 261.4L1334.0 260.8L1334.1 260.2L1334.1 259.6L1334.2 259.0L1334.3 258.4L1334.4 257.7L1334.5 257.1L1334.6 256.5L1334.6 255.9L1334.7 255.2L1334.8 254.6L1334.9 254.0L1335.0 253.3L1335.1 252.7L1335.1 252.1L1335.2 251.4L1335.3 250.8L1335.4 250.2L1335.5 249.5L1335.6 248.9L1335.7 248.2L1335.7 247.6L1335.8 247.0L1335.9 246.3L1336.0 245.7L1336.1 245.1L1336.2 244.4L1336.2 243.8L1336.3 243.2L1336.4 242.6L1336.5 242.0L1336.6 241.3L1336.7 240.7L1336.7 240.1L1336.8 239.5L1336.9 238.9L1337.0 238.3L1337.1 237.7L1337.1 237.1L1337.2 236.5L1337.3 236.0L1337.4 235.4L1337.4 234.8L1337.5 234.2L1337.6 233.7L1337.7 233.1L1337.7 232.6L1337.8 232.0L1337.9 231.5L1338.0 231.0L1338.0 230.4L1338.1 229.9L1338.2 229.2L1338.3 228.5L1338.4 227.8L1338.5 227.1L1338.5 226.5L1338.6 225.8L1338.7 225.2L1338.8 224.5L1338.9 223.9L1339.0 223.3L1339.0 222.7L1339.1 222.1L1339.2 221.5L1339.3 220.9L1339.4 220.3L1339.4 219.7L1339.5 219.2L1339.6 218.6L1339.7 218.0L1339.7 217.5L1339.8 216.9L1339.9 216.4L1340.0 215.8L1340.0 215.3L1340.1 214.7L1340.2 214.2L1340.2 213.6L1340.3 213.1L1340.4 212.5L1340.5 211.9L1340.5 211.4L1340.6 210.8L1340.7 210.3L1340.7 209.7L1340.8 209.1L1340.9 208.6L1340.9 208.0L1341.0 207.4L1341.1 206.8L1341.2 206.2L1341.2 205.6L1341.3 205.0L1341.4 204.4L1341.4 203.8L1341.5 203.1L1341.6 202.5L1341.7 201.8L1341.7 201.3L1341.8 200.7L1341.9 200.2L1341.9 199.6L1342.0 199.0L1342.1 198.5L1342.1 197.9L1342.2 197.3L1342.2 196.7L1342.3 196.1L1342.4 195.6L1342.4 195.0L1342.5 194.4L1342.6 193.8L1342.6 193.2L1342.7 192.6L1342.7 192.0L1342.8 191.4L1342.9 190.8L1342.9 190.2L1343.0 189.6L1343.1 189.0L1343.1 188.3L1343.2 187.7L1343.2 187.1L1343.3 186.5L1343.4 185.9L1343.4 185.3L1343.5 184.7L1343.6 184.0L1343.6 183.4L1343.7 182.8L1343.7 182.2L1343.8 181.6L1343.9 180.9L1343.9 180.3L1344.0 179.7L1344.0 179.1L1344.1 178.4L1344.2 177.8L1344.2 177.2L1344.3 176.6L1344.4 176.0L1344.4 175.3L1344.5 174.7L1344.5 174.1L1344.6 173.5L1344.7 172.9L1344.7 172.2L1344.8 171.6L1344.9 171.0L1344.9 170.4L1345.0 169.8L1345.0 169.2L1345.1 168.6L1345.2 167.9L1345.2 167.3L1345.3 166.7L1345.3 166.1L1345.4 165.5L1345.5 164.9L1345.5 164.3L1345.6 163.7L1345.7 163.0L1345.7 162.4L1345.8 161.8L1345.8 161.2L1345.9 160.5L1346.0 159.9L1346.0 159.2L1346.1 158.6L1346.2 158.0L1346.2 157.3L1346.3 156.7L1346.3 156.0L1346.4 155.4L1346.5 154.8L1346.5 154.1L1346.6 153.5L1346.7 152.8L1346.7 152.2L1346.8 151.6L1346.8 150.9L1346.9 150.3L1347.0 149.7L1347.0 149.0L1347.1 148.4L1347.1 147.8L1347.2 147.2L1347.3 146.6L1347.3 145.9L1347.4 145.3L1347.4 144.7L1347.5 144.1L1347.6 143.5L1347.6 142.9L1347.7 142.3L1347.7 141.8L1347.8 141.2L1347.9 140.6L1347.9 140.0L1348.0 139.5L1348.0 138.9L1348.1 138.4L1348.2 137.8L1348.2 137.3L1348.3 136.8L1348.3 136.3L1348.4 135.7L1348.4 135.2L1348.5 134.7L1348.5 134.3L1348.6 133.8L1348.7 133.0L1348.8 132.2L1348.9 131.4L1348.9 130.7L1349.0 130.0L1349.1 129.3L1349.2 128.6L1349.3 128.0L1349.4 127.3L1349.5 126.7L1349.5 126.1L1349.6 125.5L1349.7 124.9L1349.8 124.3L1349.8 123.8L1349.9 123.2L1350.0 122.6L1350.1 122.1L1350.2 121.6L1350.2 121.0L1350.3 120.5L1350.4 120.0L1350.5 119.4L1350.5 118.9L1350.6 118.4L1350.7 117.8L1350.8 117.3L1350.8 116.7L1350.9 116.2L1351.0 115.6L1351.1 115.0L1351.1 114.4L1351.2 113.8L1351.3 113.2L1351.4 112.6L1351.5 112.0L1351.5 111.4L1351.6 110.9L1351.7 110.3L1351.7 109.7L1351.8 109.1L1351.9 108.5L1352.0 107.9L1352.0 107.3L1352.1 106.7L1352.2 106.1L1352.2 105.5L1352.3 104.9L1352.4 104.3L1352.5 103.7L1352.5 103.1L1352.6 102.5L1352.7 102.0L1352.8 101.4L1352.8 100.8L1352.9 100.2L1353.0 99.6L1353.1 99.0L1353.1 98.4L1353.2 97.8L1353.3 97.2L1353.4 96.6L1353.4 96.0L1353.5 95.4L1353.6 94.8L1353.7 94.2L1353.8 93.6L1353.9 93.0L1353.9 92.3L1354.0 91.7L1354.1 91.1L1354.2 90.4L1354.3 89.8L1354.4 89.1L1354.5 88.4L1354.6 87.7L1354.7 87.1L1354.8 86.4L1354.9 85.7L1355.0 85.0L1355.1 84.4L1355.2 83.7L1355.3 83.0L1355.4 82.3L1355.5 81.7L1355.6 81.0L1355.7 80.4L1355.8 79.7L1355.9 79.1L1356.0 78.5L1356.1 77.9L1356.2 77.3L1356.3 76.7L1356.4 76.2L1356.5 75.6L1356.5 75.1L1356.6 74.6L1356.7 74.1L1356.8 73.7L1356.9 73.2L1356.9 72.8L1357.1 71.7L1357.3 70.7L1357.5 69.9L1357.6 69.3L1357.7 68.7L1357.9 68.3L1358.0 67.9L1358.1 67.5L1358.3 67.1L1358.4 66.7L1358.6 66.2L1358.8 65.5L1359.1 64.7L1359.3 64.0L1359.6 63.2L1359.9 62.6L1360.2 62.1L1360.5 61.7L1360.8 61.4L1361.3 61.4L1361.8 61.5L1362.3 61.9L1362.9 62.4L1363.4 63.1L1364.0 63.9L1364.2 64.3L1364.5 64.7L1364.7 65.0L1365.0 65.4L1365.2 65.8L1365.5 66.3L1365.8 66.7L1366.0 67.2L1366.3 67.8L1366.5 68.4L1366.8 69.0L1367.0 69.7L1367.3 70.5L1367.6 71.3L1367.8 72.2L1367.9 72.7L1368.0 73.1L1368.1 73.6L1368.2 74.1L1368.4 74.6L1368.5 75.2L1368.6 75.7L1368.7 76.3L1368.8 76.8L1368.9 77.4L1369.0 78.0L1369.1 78.6L1369.2 79.3L1369.3 79.9L1369.5 80.5L1369.6 81.2L1369.7 81.8L1369.8 82.5L1369.9 83.2L1370.0 83.8L1370.1 84.5L1370.2 85.1L1370.3 85.8L1370.4 86.5L1370.5 87.1L1370.6 87.8L1370.7 88.4L1370.8 89.1L1370.9 89.7L1371.0 90.4L1371.1 91.0L1371.2 91.6L1371.3 92.2L1371.4 92.8L1371.5 93.4L1371.6 94.0L1371.7 94.6L1371.8 95.2L1371.8 95.8L1371.9 96.4L1372.0 97.0L1372.1 97.6L1372.2 98.2L1372.3 98.8L1372.3 99.4L1372.4 100.0L1372.5 100.6L1372.6 101.2L1372.7 101.8L1372.7 102.4L1372.8 103.0L1372.9 103.6L1373.0 104.2L1373.0 104.8L1373.1 105.4L1373.2 106.0L1373.3 106.6L1373.4 107.2L1373.4 107.8L1373.5 108.4L1373.6 109.0L1373.7 109.6L1373.8 110.2L1373.8 110.8L1373.9 111.4L1374.0 112.0L1374.1 112.6L1374.2 113.2L1374.2 113.8L1374.3 114.4L1374.4 114.9L1374.5 115.5L1374.6 116.0L1374.7 116.6L1374.7 117.1L1374.8 117.6L1374.9 118.2L1375.0 118.7L1375.1 119.2L1375.2 119.8L1375.2 120.3L1375.3 120.9L1375.4 121.4L1375.5 122.0L1375.6 122.5L1375.7 123.1L1375.7 123.7L1375.8 124.3L1375.9 124.9L1376.0 125.6L1376.1 126.2L1376.2 126.9L1376.3 127.5L1376.3 128.2L1376.4 128.9L1376.5 129.7L1376.6 130.4L1376.7 131.2L1376.8 132.0L1376.9 132.5L1376.9 133.0L1377.0 133.5L1377.0 134.0L1377.1 134.5L1377.1 135.0L1377.2 135.6L1377.2 136.1L1377.3 136.6L1377.4 137.2L1377.4 137.8L1377.5 138.3L1377.5 138.9L1377.6 139.5L1377.7 140.0L1377.7 140.6L1377.8 141.2L1377.8 141.8L1377.9 142.4L1378.0 143.0L1378.0 143.6L1378.1 144.2L1378.1 144.8L1378.2 145.5L1378.3 146.1L1378.3 146.7L1378.4 147.3L1378.5 148.0L1378.5 148.6L1378.6 149.2L1378.6 149.9L1378.7 150.5L1378.8 151.2L1378.8 151.8L1378.9 152.4L1378.9 153.1L1379.0 153.7L1379.1 154.4L1379.1 155.0L1379.2 155.6L1379.2 156.3L1379.3 156.9L1379.3 157.6L1379.4 158.2L1379.5 158.8L1379.5 159.5L1379.6 160.1L1379.6 160.7L1379.7 161.4L1379.7 162.0L1379.8 162.6L1379.8 163.2L1379.9 163.8L1379.9 164.5L1380.0 165.1L1380.1 165.7L1380.1 166.3L1380.1 166.9L1380.2 167.5L1380.2 168.1L1380.3 168.7L1380.3 169.3L1380.4 169.9L1380.4 170.5L1380.5 171.1L1380.5 171.7L1380.6 172.3L1380.6 172.9L1380.7 173.5L1380.7 174.1L1380.7 174.7L1380.8 175.3L1380.8 175.9L1380.9 176.6L1380.9 177.2L1381.0 177.8L1381.0 178.4L1381.0 179.0L1381.1 179.6L1381.1 180.2L1381.2 180.8L1381.2 181.4L1381.2 182.0L1381.3 182.6L1381.3 183.2L1381.3 183.8L1381.4 184.4L1381.4 185.0L1381.5 185.6L1381.5 186.2L1381.5 186.8L1381.6 187.4L1381.6 188.0L1381.7 188.6L1381.7 189.2L1381.7 189.8L1381.8 190.4L1381.8 191.0L1381.8 191.6L1381.9 192.2L1381.9 192.8L1382.0 193.4L1382.0 194.0L1382.0 194.6L1382.1 195.2L1382.1 195.8L1382.2 196.4L1382.2 197.0L1382.2 197.6L1382.3 198.2L1382.3 198.8L1382.4 199.4L1382.4 200.0L1382.4 200.6L1382.5 201.2L1382.5 201.8L1382.6 202.5L1382.6 203.1L1382.7 203.7L1382.7 204.3L1382.7 204.9L1382.8 205.5L1382.8 206.1L1382.9 206.7L1382.9 207.3L1382.9 207.9L1383.0 208.5L1383.0 209.1L1383.1 209.7L1383.1 210.3L1383.2 210.9L1383.2 211.5L1383.2 212.1L1383.3 212.7L1383.3 213.3L1383.4 213.9L1383.4 214.5L1383.5 215.1L1383.5 215.7L1383.5 216.3L1383.6 216.9L1383.6 217.5L1383.7 218.1L1383.7 218.7L1383.8 219.3L1383.8 219.9L1383.8 220.5L1383.9 221.1L1383.9 221.7L1384.0 222.3L1384.0 222.9L1384.1 223.6L1384.1 224.2L1384.1 224.8L1384.2 225.4L1384.2 226.0L1384.3 226.6L1384.3 227.2L1384.4 227.8L1384.4 228.4L1384.5 229.0L1384.5 229.6L1384.5 230.2L1384.6 230.8L1384.6 231.4L1384.7 232.0L1384.7 232.6L1384.8 233.2L1384.8 233.8L1384.8 234.4L1384.9 235.0L1384.9 235.6L1385.0 236.2L1385.0 236.8L1385.1 237.4L1385.1 238.0L1385.2 238.6L1385.2 239.2L1385.2 239.8L1385.3 240.4L1385.3 241.0L1385.4 241.6L1385.4 242.2L1385.5 242.8L1385.5 243.4L1385.6 244.0L1385.6 244.6L1385.7 245.2L1385.7 245.8L1385.7 246.4L1385.8 247.0L1385.8 247.6L1385.9 248.2L1385.9 248.8L1386.0 249.4L1386.0 249.9L1386.1 250.5L1386.1 251.1L1386.2 251.7L1386.2 252.3L1386.2 252.9L1386.3 253.5L1386.3 254.1L1386.4 254.7L1386.4 255.3L1386.5 255.9L1386.5 256.5L1386.6 257.2L1386.6 257.8L1386.6 258.4L1386.7 259.0L1386.7 259.6L1386.8 260.2L1386.8 260.8L1386.9 261.4L1386.9 262.0L1387.0 262.6L1387.0 263.2L1387.0 263.8L1387.1 264.4L1387.1 265.1L1387.2 265.7L1387.2 266.3L1387.3 266.9L1387.3 267.5L1387.3 268.1L1387.4 268.7L1387.4 269.3L1387.5 269.9L1387.5 270.5L1387.5 271.1L1387.6 271.7L1387.6 272.2L1387.6 272.8L1387.7 273.4L1387.7 274.0L1387.8 274.6L1387.8 275.2L1387.8 275.8L1387.9 276.4L1387.9 277.0L1387.9 277.6L1388.0 278.2L1388.0 278.8L1388.0 279.4L1388.1 280.0L1388.1 280.6L1388.2 281.2L1388.2 281.8L1388.2 282.4L1388.3 283.0L1388.3 283.6L1388.3 284.2L1388.4 284.8L1388.4 285.4L1388.4 286.0L1388.5 286.6L1388.5 287.2L1388.5 287.8L1388.6 288.4L1388.6 289.0L1388.7 289.6L1388.7 290.2L1388.7 290.8L1388.8 291.5L1388.8 292.1L1388.8 292.7L1388.9 293.3L1388.9 293.9L1388.9 294.5L1389.0 295.1L1389.0 295.7L1389.1 296.3L1389.1 297.0L1389.1 297.6L1389.2 298.2L1389.2 298.8L1389.3 299.4L1389.3 300.0L1389.3 300.6L1389.4 301.3L1389.4 301.9L1389.5 302.5L1389.5 303.1L1389.5 303.7L1389.6 304.3L1389.6 304.9L1389.7 305.5L1389.7 306.1L1389.7 306.7L1389.8 307.3L1389.8 307.9L1389.9 308.5L1389.9 309.1L1390.0 309.8L1390.0 310.4L1390.0 311.0L1390.1 311.6L1390.1 312.2L1390.2 312.9L1390.2 313.5L1390.3 314.1L1390.3 314.8L1390.3 315.4L1390.4 316.0L1390.4 316.7L1390.5 317.3L1390.5 317.9L1390.6 318.5L1390.6 319.2L1390.7 319.8L1390.7 320.4L1390.8 321.1L1390.8 321.7L1390.8 322.3L1390.9 322.9L1390.9 323.6L1391.0 324.2L1391.0 324.8L1391.1 325.4L1391.1 326.1L1391.2 326.7L1391.2 327.3L1391.3 327.9L1391.3 328.5L1391.3 329.1L1391.4 329.7L1391.4 330.3L1391.5 330.9L1391.5 331.5L1391.6 332.1L1391.6 332.7L1391.7 333.3L1391.7 333.8L1391.7 334.4L1391.8 335.0L1391.8 335.5L1391.9 336.1L1391.9 336.7L1392.0 337.2L1392.0 337.7L1392.0 338.3L1392.1 338.8L1392.1 339.3L1392.2 339.9L1392.2 340.4L1392.3 341.1L1392.3 341.8L1392.4 342.5L1392.4 343.2L1392.5 343.8L1392.5 344.5L1392.6 345.2L1392.6 345.8L1392.7 346.4L1392.7 347.1L1392.8 347.7L1392.8 348.3L1392.9 348.9L1392.9 349.5L1393.0 350.1L1393.0 350.6L1393.1 351.2L1393.1 351.8L1393.2 352.4L1393.2 352.9L1393.3 353.5L1393.3 354.0L1393.4 354.6L1393.4 355.2L1393.5 355.7L1393.5 356.3L1393.5 356.8L1393.6 357.4L1393.6 357.9L1393.7 358.5L1393.8 359.0L1393.8 359.6L1393.9 360.2L1393.9 360.7L1394.0 361.3L1394.0 361.9L1394.1 362.5L1394.1 363.1L1394.2 363.6L1394.3 364.2L1394.3 364.9L1394.4 365.5L1394.4 366.1L1394.5 366.7L1394.6 367.3L1394.6 367.9L1394.7 368.4L1394.7 369.0L1394.8 369.6L1394.9 370.1L1394.9 370.7L1395.0 371.3L1395.0 371.8L1395.1 372.4L1395.2 373.0L1395.2 373.6L1395.3 374.1L1395.4 374.7L1395.4 375.3L1395.5 375.9L1395.6 376.4L1395.6 377.0L1395.7 377.6L1395.7 378.2L1395.8 378.8L1395.9 379.4L1396.0 380.0L1396.0 380.5L1396.1 381.1L1396.2 381.7L1396.2 382.3L1396.3 382.9L1396.4 383.5L1396.4 384.1L1396.5 384.7L1396.6 385.3L1396.7 385.9L1396.7 386.6L1396.8 387.2L1396.9 387.8L1397.0 388.4L1397.0 389.0L1397.1 389.7L1397.2 390.3L1397.3 390.9L1397.3 391.5L1397.4 392.2L1397.5 392.8L1397.6 393.5L1397.7 394.1L1397.7 394.8L1397.8 395.4L1397.9 396.1L1398.0 396.6L1398.0 397.2L1398.1 397.7L1398.2 398.3L1398.3 398.9L1398.3 399.5L1398.4 400.0L1398.5 400.6L1398.5 401.2L1398.6 401.8L1398.7 402.4L1398.8 403.0L1398.9 403.6L1398.9 404.2L1399.0 404.8L1399.1 405.5L1399.2 406.1L1399.3 406.7L1399.3 407.3L1399.4 407.9L1399.5 408.6L1399.6 409.2L1399.7 409.8L1399.7 410.5L1399.8 411.1L1399.9 411.7L1400.0 412.3L1400.1 413.0L1400.2 413.6L1400.2 414.2L1400.3 414.9L1400.4 415.5L1400.5 416.1L1400.6 416.7L1400.7 417.4L1400.7 418.0L1400.8 418.6L1400.9 419.2L1401.0 419.8L1401.1 420.5L1401.2 421.1L1401.2 421.7L1401.3 422.3L1401.4 422.9L1401.5 423.5L1401.6 424.1L1401.6 424.7L1401.7 425.2L1401.8 425.8L1401.9 426.4L1401.9 427.0L1402.0 427.5L1402.1 428.1L1402.2 428.6L1402.2 429.2L1402.3 429.7L1402.4 430.2L1402.4 430.8L1402.5 431.3L1402.6 432.0L1402.7 432.7L1402.8 433.4L1402.9 434.2L1403.0 434.9L1403.0 435.6L1403.1 436.3L1403.2 437.0L1403.3 437.7L1403.4 438.3L1403.5 439.0L1403.5 439.7L1403.6 440.4L1403.7 441.0L1403.8 441.7L1403.9 442.4L1403.9 443.0L1404.0 443.7L1404.1 444.3L1404.2 444.9L1404.2 445.5L1404.3 446.2L1404.4 446.8L1404.5 447.4L1404.5 448.0L1404.6 448.6L1404.7 449.1L1404.8 449.7L1404.8 450.3L1404.9 450.8L1405.0 451.4L1405.1 451.9L1405.1 452.4L1405.2 453.0L1405.3 453.5L1405.4 454.0L1405.4 454.5L1405.5 454.9L1405.6 455.4L1405.6 455.9L1405.7 456.3L1405.8 456.7L1406.0 457.7L1406.1 458.6L1406.3 459.4L1406.5 460.1L1406.6 460.8L1406.8 461.4L1407.0 462.0L1407.1 462.5L1407.3 463.0L1407.4 463.5L1407.6 464.0L1407.8 464.4L1407.9 464.9L1408.1 465.4L1408.3 465.9L1408.5 466.4L1408.7 466.9L1408.9 467.5L1409.1 468.0L1409.3 468.6L1409.5 469.2L1409.8 469.8L1410.0 470.4L1410.2 471.0L1410.5 471.6L1410.7 472.2L1411.0 472.8L1411.2 473.4L1411.5 474.0L1411.7 474.6L1412.0 475.2L1412.3 475.7L1412.5 476.3L1412.8 476.8L1413.0 477.3L1413.3 477.8L1413.5 478.3L1413.8 478.9L1414.2 479.5L1414.5 480.1L1414.8 480.7L1415.1 481.3L1415.5 481.8L1415.8 482.3L1416.1 482.8L1416.5 483.3L1416.8 483.8L1417.1 484.2L1417.4 484.6L1417.8 485.0L1418.1 485.4L1418.7 485.9L1419.2 486.4L1419.7 486.7L1420.3 487.0L1420.8 487.3L1421.4 487.5L1422.0 487.8L1422.7 488.1L1423.2 488.4L1423.8 488.6L1424.5 488.9L1425.2 489.2L1425.8 489.5L1426.5 489.7L1427.2 490.0L1427.8 490.2L1428.3 490.4L1428.8 490.6L1429.1 490.7" fill="none" stroke="#E0242A" stroke-width="2.3" stroke-linejoin="round"/>
<path d="M872.6 330.4L873.4 330.6L874.1 330.8L874.9 331.0L875.6 331.3L876.4 331.5L877.1 331.7L877.9 331.9L878.6 332.1L879.4 332.3L880.1 332.5L880.9 332.7L881.6 332.9L882.4 333.1L883.1 333.3L883.9 333.6L884.6 333.8L885.4 334.0L886.1 334.2L886.9 334.4L887.6 334.6L888.4 334.8L889.1 335.1L889.9 335.3L890.6 335.5L891.4 335.7L892.1 335.9L892.9 336.1L893.6 336.4L894.4 336.6L895.1 336.8L895.9 337.0L896.6 337.2L897.4 337.4L898.1 337.7L898.9 337.9L899.6 338.1L900.4 338.4L901.1 338.6L901.9 338.8L902.6 339.0L903.4 339.3L904.1 339.5L904.9 339.8L905.6 340.0L906.4 340.2L907.1 340.5L907.9 340.8L908.6 341.0L909.4 341.3L910.1 341.5L910.9 341.8L911.6 342.0L912.4 342.3L913.1 342.6L913.9 342.8L914.6 343.1L915.4 343.4L916.1 343.6L916.9 343.9L917.6 344.1L918.4 344.4L919.1 344.6L919.9 344.9L920.6 345.1L921.4 345.4L922.1 345.6L922.9 345.9L923.6 346.1L924.4 346.3L925.1 346.6L925.9 346.8L926.6 347.0L927.4 347.2L928.1 347.5L928.9 347.7L929.6 347.9L930.4 348.1L931.1 348.3L931.9 348.5L932.6 348.8L933.4 349.0L934.1 349.2L934.9 349.4L935.6 349.6L936.4 349.8L937.1 350.0L937.9 350.2L938.6 350.4L939.4 350.6L940.1 350.8L940.9 351.0L941.6 351.1L942.4 351.3L943.1 351.5L943.9 351.7L944.6 351.9L945.4 352.0L946.1 352.2L946.9 352.4L947.6 352.6L948.4 352.7L949.1 352.9L949.9 353.1L950.6 353.2L951.4 353.4L952.1 353.5L952.9 353.7L953.6 353.8L954.4 354.0L955.1 354.1L955.9 354.2L956.6 354.4L957.4 354.5L958.1 354.6L958.9 354.7L959.6 354.7L960.4 354.8L961.1 354.9L961.9 354.9L962.6 354.9L963.4 354.9L964.1 354.9L964.9 354.9L965.6 354.9L966.4 354.8L967.1 354.7L967.9 354.6L968.6 354.5L969.4 354.4L970.1 354.2L970.9 354.1L971.6 353.9L972.4 353.8L973.1 353.6L973.9 353.3L974.6 353.1L975.4 352.9L976.1 352.6L976.9 352.3L977.6 352.0L978.4 351.7L979.1 351.4L979.9 351.1L980.6 350.8L981.4 350.4L982.1 350.0L982.9 349.7L983.6 349.2L984.4 348.8L985.1 348.3L985.9 347.7L986.6 347.2L987.4 346.6L988.1 346.1L988.9 345.5L989.6 345.0L990.4 344.5L991.1 344.0L991.9 343.6L992.6 343.2L993.4 342.9L994.1 342.5L994.9 342.2L995.6 341.8L996.4 341.4L997.1 340.9L997.9 340.4L998.6 339.9L999.4 339.3L1000.1 338.7L1000.9 338.1L1001.6 337.5L1002.4 336.9L1003.1 336.2L1003.9 335.6L1004.6 334.9L1005.4 334.2L1006.1 333.5L1006.9 332.8L1007.6 332.1L1008.4 331.3L1009.1 330.5L1009.9 329.7L1010.6 328.8L1011.4 327.9L1012.1 326.9L1012.9 325.9L1013.6 324.8L1014.4 323.6L1015.1 322.4L1015.9 321.2L1016.6 319.9L1017.4 318.5L1018.1 317.0L1018.9 315.6L1019.6 314.0L1020.4 312.3L1021.1 310.6L1021.9 309.0L1022.6 307.5L1023.4 306.0L1024.1 304.3L1024.8 302.5L1025.6 300.4L1026.3 298.3L1027.1 296.1L1027.8 293.8L1028.6 291.5L1029.3 289.2L1030.1 286.8L1030.8 284.4L1031.6 282.0L1032.3 279.5L1033.1 277.0L1033.8 274.5L1034.6 271.9L1035.3 269.3L1036.1 266.5L1036.8 263.6L1037.6 260.6L1038.3 257.5L1039.1 254.4L1039.8 251.3L1040.6 248.2L1041.3 245.2L1042.1 242.3L1042.8 239.7L1043.6 237.3L1044.3 234.8L1045.1 232.2L1045.8 229.8L1046.6 227.4L1047.3 225.0L1048.1 222.8L1048.8 220.7L1049.6 218.7L1050.3 216.8L1051.1 215.0L1051.8 213.4L1052.6 212.2L1053.3 211.0L1054.1 210.0L1054.8 209.3L1055.6 208.8L1056.3 208.7L1057.1 208.9L1057.8 209.3L1058.6 209.8L1059.3 210.4L1060.1 211.1L1060.8 211.7L1061.6 212.3L1062.3 213.0L1063.1 213.8L1063.8 214.7L1064.6 215.6L1065.3 216.7L1066.1 217.8L1066.8 219.1L1067.6 220.6L1068.3 222.5L1069.1 224.6L1069.8 226.8L1070.6 229.0L1071.3 231.3L1072.1 233.7L1072.8 236.1L1073.6 238.7L1074.3 242.0L1075.1 245.8L1075.8 249.9L1076.6 254.2L1077.3 258.7L1078.1 263.3L1078.8 268.3L1079.6 273.2L1080.3 277.9L1081.1 282.3L1081.8 286.5L1082.6 290.6L1083.3 294.8L1084.1 299.0L1084.8 303.3L1085.6 307.7L1086.3 312.0L1087.1 316.3L1087.8 320.5L1088.6 324.8L1089.3 329.1L1090.1 333.3L1090.8 337.5L1091.6 341.5L1092.3 345.4L1093.1 349.0L1093.8 352.4L1094.6 355.7L1095.3 358.9L1096.1 362.1L1096.8 365.2L1097.6 368.0L1098.3 370.7L1099.1 373.3L1099.8 375.7L1100.6 378.0L1101.3 380.3L1102.1 382.4L1102.8 384.4L1103.6 386.4L1104.3 388.6L1105.1 390.6L1105.8 392.1L1106.6 393.2L1107.3 394.1L1108.1 394.7L1108.8 395.2L1109.6 395.7L1110.3 396.1L1111.1 396.5L1111.8 396.9L1112.6 397.3L1113.3 397.8L1114.1 398.2L1114.8 398.7L1115.6 399.3L1116.3 400.0L1117.1 400.2L1117.8 400.4L1118.6 400.6L1119.3 400.8L1120.1 401.0L1120.8 401.2L1121.6 401.4L1122.3 401.6L1121.6 401.4L1120.8 401.2L1120.1 401.0L1119.3 400.8L1118.6 400.6L1117.8 400.4L1117.1 400.2L1116.3 400.0L1115.6 399.8L1114.8 399.5L1114.1 399.3L1113.3 399.1L1112.6 398.9L1111.8 398.7L1111.1 398.5L1110.3 398.3L1109.6 398.1L1108.8 397.9L1108.1 397.7L1107.3 397.6L1106.6 397.4L1105.8 397.2L1105.1 397.1L1104.3 396.9L1103.6 396.7L1102.8 396.6L1102.1 396.4L1101.3 396.2L1100.6 396.1L1099.8 395.9L1099.1 395.8L1098.3 395.6L1097.6 395.5L1096.8 395.3L1096.1 395.2L1095.3 395.0L1094.6 394.9L1093.8 394.8L1093.1 394.8L1092.3 394.8L1091.6 394.7L1090.8 394.7L1090.1 394.7L1089.3 394.6L1088.6 394.6L1087.8 394.5L1087.1 394.4L1086.3 394.4L1085.6 394.3L1084.8 394.2L1084.1 394.1L1083.3 394.0L1082.6 393.9L1081.8 393.8L1081.1 393.6L1080.3 393.5L1079.6 393.3L1078.8 393.1L1078.1 393.0L1077.3 392.8L1076.6 392.6L1075.8 392.4L1075.1 392.2L1074.3 392.0L1073.6 391.8L1072.8 391.5L1072.1 391.3L1071.3 391.1L1070.6 390.9L1069.8 390.6L1069.1 390.4L1068.3 390.2L1067.6 389.9L1066.8 389.7L1066.1 389.4L1065.3 389.2L1064.6 388.9L1063.8 388.6L1063.1 388.4L1062.3 388.1L1061.6 387.8L1060.8 387.4L1060.1 387.1L1059.3 386.8L1058.6 386.5L1057.8 386.1L1057.1 385.8L1056.3 385.5L1055.6 385.2L1054.8 384.8L1054.1 384.5L1053.3 384.1L1052.6 383.8L1051.8 383.4L1051.1 383.1L1050.3 382.8L1049.6 382.5L1048.8 382.2L1048.1 381.9L1047.3 381.6L1046.6 381.3L1045.8 381.1L1045.1 380.8L1044.3 380.5L1043.6 380.3L1042.8 380.0L1042.1 379.8L1041.3 379.5L1040.6 379.3L1039.8 379.1L1039.1 378.8L1038.3 378.6L1037.6 378.3L1036.8 378.1L1036.1 377.9L1035.3 377.7L1034.6 377.4L1033.8 377.2L1033.1 376.9L1032.3 376.7L1031.6 376.4L1030.8 376.2L1030.1 375.9L1029.3 375.7L1028.6 375.4L1027.8 375.2L1027.1 374.9L1026.3 374.7L1025.6 374.5L1024.8 374.2L1024.1 374.0L1023.4 373.7L1022.6 373.5L1021.9 373.2L1021.1 373.0L1020.4 372.7L1019.6 372.5L1018.9 372.3L1018.1 372.0L1017.4 371.8L1016.6 371.6L1015.9 371.3L1015.1 371.1L1014.4 370.9L1013.6 370.7L1012.9 370.5L1012.1 370.2L1011.4 370.0L1010.6 369.8L1009.9 369.6L1009.1 369.4L1008.4 369.2L1007.6 369.0L1006.9 368.8L1006.1 368.6L1005.4 368.4L1004.6 368.2L1003.9 368.0L1003.1 367.8L1002.4 367.7L1001.6 367.5L1000.9 367.3L1000.1 367.1L999.4 366.9L998.6 366.7L997.9 366.6L997.1 366.4L996.4 366.2L995.6 366.1L994.9 365.9L994.1 365.7L993.4 365.6L992.6 365.4L991.9 365.3L991.1 365.1L990.4 365.0L989.6 364.8L988.9 364.7L988.1 364.5L987.4 364.4L986.6 364.2L985.9 364.1L985.1 363.9L984.4 363.8L983.6 363.6L982.9 363.5L982.1 363.4L981.4 363.2L980.6 363.1L979.9 363.0L979.1 362.8L978.4 362.7L977.6 362.5L976.9 362.4L976.1 362.3L975.4 362.1L974.6 362.0L973.9 361.8L973.1 361.7L972.4 361.5L971.6 361.4L970.9 361.3L970.1 361.1L969.4 361.0L968.6 360.8L967.9 360.6L967.1 360.5L966.4 360.3L965.6 360.2L964.9 360.0L964.1 359.8L963.4 359.6L962.6 359.4L961.9 359.3L961.1 359.1L960.4 358.9L959.6 358.7L958.9 358.5L958.1 358.3L957.4 358.1L956.6 357.9L955.9 357.7L955.1 357.5L954.4 357.3L953.6 357.1L952.9 356.9L952.1 356.7L951.4 356.4L950.6 356.2L949.9 356.0L949.1 355.8L948.4 355.5L947.6 355.3L946.9 355.1L946.1 354.8L945.4 354.6L944.6 354.4L943.9 354.1L943.1 353.9L942.4 353.7L941.6 353.5L940.9 353.3L940.1 353.1L939.4 352.9L938.6 352.7L937.9 352.5L937.1 352.3L936.4 352.1L935.6 351.9L934.9 351.7L934.1 351.5L933.4 351.3L932.6 351.0L931.9 350.8L931.1 350.6L930.4 350.4L929.6 350.1L928.9 349.9L928.1 349.7L927.4 349.4L926.6 349.2L925.9 348.9L925.1 348.7L924.4 348.5L923.6 348.2L922.9 347.9L922.1 347.6L921.4 347.4L920.6 347.1L919.9 346.8L919.1 346.6L918.4 346.3L917.6 346.0L916.9 345.8L916.1 345.5L915.4 345.3L914.6 345.0L913.9 344.8L913.1 344.5L912.4 344.3L911.6 344.1L910.9 343.8L910.1 343.6L909.4 343.3L908.6 343.1L907.9 342.9L907.1 342.6L906.4 342.4L905.6 342.2L904.9 341.9L904.1 341.7L903.4 341.4L902.6 341.2L901.9 341.0L901.1 340.7L900.4 340.5L899.6 340.2L898.9 340.0L898.1 339.8L897.4 339.5L896.6 339.3L895.9 339.1L895.1 338.8L894.4 338.6L893.6 338.4L892.9 338.2L892.1 337.9L891.4 337.7L890.6 337.5L889.9 337.3L889.1 337.1L888.4 336.8L887.6 336.6L886.9 336.4L886.1 336.2L885.4 335.9L884.6 335.7L883.9 335.5L883.1 335.3L882.4 335.0L881.6 334.8L880.9 334.6L880.1 334.4L879.4 334.2L878.6 334.0L877.9 333.8L877.1 333.5L876.4 333.3L875.6 333.1L874.9 332.9L874.1 332.7L873.4 332.5L872.6 332.3Z" fill="rgba(26,235,22,0.55)"/>
<path d="M1184.6 415.1L1185.3 415.4L1186.1 415.6L1186.8 415.9L1187.6 416.1L1188.3 416.3L1189.1 416.6L1189.8 416.8L1190.6 417.0L1191.3 417.3L1192.1 417.5L1192.8 417.8L1193.6 418.0L1194.3 418.2L1195.1 418.5L1195.8 418.7L1196.6 418.9L1197.3 419.2L1198.1 419.4L1198.8 419.7L1199.6 419.9L1200.3 420.2L1201.1 420.4L1201.8 420.6L1202.6 420.9L1203.3 421.1L1204.1 421.4L1204.8 421.6L1205.6 421.9L1206.3 422.1L1207.1 422.3L1207.8 422.6L1208.6 422.8L1209.3 423.0L1210.1 423.3L1210.8 423.5L1211.6 423.7L1212.3 424.0L1213.1 424.2L1213.8 424.3L1214.6 424.5L1215.3 424.6L1216.1 424.8L1216.8 424.9L1217.6 425.1L1218.3 425.2L1219.1 425.4L1219.8 425.6L1220.6 425.7L1221.3 425.9L1222.1 426.1L1222.8 426.3L1223.6 426.4L1224.3 426.6L1225.1 426.8L1225.8 426.9L1226.6 427.1L1227.3 427.3L1228.1 427.4L1228.8 427.6L1229.6 427.8L1230.3 427.9L1231.1 428.0L1231.8 428.2L1232.6 428.3L1233.3 428.4L1234.1 428.5L1234.8 428.5L1235.6 428.6L1236.3 428.7L1237.1 428.7L1237.8 428.7L1238.6 428.7L1239.3 428.7L1240.1 428.7L1240.8 428.7L1241.6 428.7L1242.3 428.6L1243.1 428.6L1243.8 428.5L1244.6 428.5L1245.3 428.4L1246.1 428.4L1246.8 428.3L1247.6 428.2L1248.3 428.2L1249.1 428.1L1249.8 428.1L1250.6 428.0L1251.3 428.0L1252.1 427.9L1252.8 427.8L1253.6 427.8L1254.3 427.7L1255.1 427.7L1255.8 427.6L1256.6 427.6L1257.3 427.5L1258.1 427.4L1258.8 427.4L1259.6 427.3L1260.3 427.2L1261.1 427.1L1261.8 427.0L1262.6 426.9L1263.3 426.8L1264.1 426.6L1264.8 426.5L1265.6 426.3L1266.3 426.1L1267.1 425.9L1267.8 425.6L1268.6 425.3L1269.3 425.0L1270.1 424.7L1270.8 424.3L1271.6 424.0L1272.3 423.6L1273.1 423.2L1273.8 422.9L1274.6 422.5L1275.3 422.2L1276.1 422.0L1276.8 421.7L1277.6 421.5L1278.3 421.3L1279.1 421.0L1279.8 420.8L1280.6 420.5L1281.3 420.1L1282.1 419.7L1282.8 419.2L1283.6 418.5L1284.3 417.8L1285.1 416.9L1285.8 415.8L1286.6 414.7L1287.3 413.4L1288.1 412.1L1288.8 410.8L1289.6 409.6L1290.3 408.3L1291.1 407.2L1291.8 406.0L1292.6 404.8L1293.3 403.6L1294.1 402.4L1294.8 401.2L1295.6 400.0L1296.3 398.9L1297.1 397.7L1297.8 396.7L1298.6 395.7L1299.3 394.7L1300.1 393.8L1300.8 392.9L1301.6 392.1L1302.3 391.2L1303.1 390.2L1303.8 389.3L1304.6 388.3L1305.3 387.3L1306.1 386.2L1306.8 385.0L1307.6 383.7L1308.3 382.3L1309.1 380.8L1309.8 379.2L1310.6 377.6L1311.3 375.8L1312.1 374.0L1312.8 372.1L1313.6 370.1L1314.3 368.0L1315.1 365.8L1315.8 363.5L1316.6 361.1L1317.3 358.6L1318.1 356.0L1318.8 353.2L1319.6 350.4L1320.3 347.5L1321.1 344.4L1321.8 341.3L1322.6 338.0L1323.3 334.6L1324.1 330.9L1324.8 327.0L1325.6 322.6L1326.3 317.8L1327.1 312.5L1327.8 307.1L1328.6 301.7L1329.3 296.3L1330.1 290.7L1330.8 284.9L1331.6 279.0L1332.3 273.2L1333.1 267.4L1333.8 261.8L1334.6 256.2L1335.3 250.6L1336.1 244.9L1336.8 239.3L1337.6 233.6L1338.3 227.9L1339.1 222.3L1339.8 216.6L1340.6 210.8L1341.3 204.6L1342.1 198.0L1342.8 190.9L1343.6 183.5L1344.3 176.0L1345.1 168.6L1345.8 161.0L1346.6 153.4L1347.3 145.7L1348.1 138.3L1348.8 131.5L1349.6 125.6L1350.3 120.2L1351.1 114.8L1351.8 108.8L1352.6 102.6L1353.3 96.7L1354.1 91.2L1354.8 86.0L1355.6 81.0L1356.3 76.3L1357.1 71.8L1357.8 68.4L1358.6 66.1L1359.3 63.9L1360.1 62.2L1360.8 61.4L1361.6 61.4L1362.3 61.9L1363.1 62.7L1363.8 63.7L1364.6 64.8L1365.3 66.0L1366.1 67.4L1366.8 69.2L1367.6 71.5L1368.3 74.6L1369.1 78.5L1369.8 82.9L1370.6 87.7L1371.3 92.6L1372.1 97.7L1372.8 103.3L1373.6 109.1L1374.3 114.5L1375.1 119.4L1375.8 124.5L1376.6 130.3L1377.3 137.1L1378.1 144.4L1378.8 152.2L1379.6 160.4L1380.3 169.4L1381.1 180.0L1381.8 191.7L1382.6 202.9L1383.3 213.6L1384.1 224.1L1384.8 234.5L1385.6 244.5L1386.3 254.3L1387.1 264.6L1387.8 276.1L1388.6 288.7L1389.3 300.8L1390.1 311.9L1390.8 322.4L1391.6 332.6L1392.3 342.3L1393.1 351.6L1393.8 360.1L1394.6 367.7L1395.3 374.7L1396.1 381.2L1396.8 387.5L1397.6 393.6L1398.3 399.7L1399.1 405.5L1399.8 411.2L1400.6 416.9L1401.3 422.6L1402.1 428.2L1402.8 434.0L1403.6 440.2L1404.3 446.4L1405.1 452.2L1405.8 457.0L1406.6 460.6L1407.3 463.3L1408.1 465.3L1408.8 467.3L1409.6 469.4L1410.3 471.3L1411.1 473.1L1411.8 474.8L1412.6 476.5L1413.3 478.0L1414.1 479.4L1414.8 480.8L1415.6 482.0L1416.3 483.2L1417.1 484.2L1417.8 485.1L1418.6 485.9L1419.3 486.5L1420.1 486.9L1420.8 487.3L1421.6 487.6L1422.3 488.0L1423.1 488.3L1423.8 488.6L1424.6 489.0L1425.3 489.2L1426.1 489.5L1426.8 489.8L1427.6 490.1L1428.3 490.4L1428.3 490.5L1427.6 490.1L1426.8 489.8L1426.1 489.5L1425.3 489.2L1424.6 489.1L1423.8 489.0L1423.1 489.0L1422.3 488.9L1421.6 488.8L1420.8 488.7L1420.1 488.6L1419.3 488.5L1418.6 488.4L1417.8 488.3L1417.1 488.1L1416.3 488.0L1415.6 487.9L1414.8 487.7L1414.1 487.6L1413.3 487.4L1412.6 487.3L1411.8 487.2L1411.1 487.0L1410.3 486.8L1409.6 486.6L1408.8 486.4L1408.1 486.2L1407.3 486.0L1406.6 485.8L1405.8 485.6L1405.1 485.4L1404.3 485.2L1403.6 485.0L1402.8 484.8L1402.1 484.6L1401.3 484.4L1400.6 484.1L1399.8 483.9L1399.1 483.7L1398.3 483.5L1397.6 483.3L1396.8 483.2L1396.1 482.9L1395.3 482.7L1394.6 482.5L1393.8 482.2L1393.1 482.0L1392.3 481.7L1391.6 481.4L1390.8 481.1L1390.1 480.8L1389.3 480.5L1388.6 480.1L1387.8 479.8L1387.1 479.5L1386.3 479.3L1385.6 479.0L1384.8 478.8L1384.1 478.6L1383.3 478.3L1382.6 478.1L1381.8 477.8L1381.1 477.6L1380.3 477.3L1379.6 477.1L1378.8 476.8L1378.1 476.5L1377.3 476.2L1376.6 475.9L1375.8 475.6L1375.1 475.5L1374.3 475.4L1373.6 475.2L1372.8 475.1L1372.1 474.9L1371.3 474.7L1370.6 474.6L1369.8 474.4L1369.1 474.2L1368.3 474.0L1367.6 473.8L1366.8 473.6L1366.1 473.5L1365.3 473.3L1364.6 473.1L1363.8 472.8L1363.1 472.4L1362.3 472.1L1361.6 471.8L1360.8 471.5L1360.1 471.2L1359.3 470.9L1358.6 470.6L1357.8 470.4L1357.1 470.1L1356.3 469.8L1355.6 469.6L1354.8 469.3L1354.1 469.1L1353.3 468.8L1352.6 468.6L1351.8 468.3L1351.1 468.1L1350.3 467.9L1349.6 467.6L1348.8 467.3L1348.1 466.9L1347.3 466.6L1346.6 466.2L1345.8 465.8L1345.1 465.5L1344.3 465.2L1343.6 464.8L1342.8 464.5L1342.1 464.2L1341.3 463.8L1340.6 463.5L1339.8 463.2L1339.1 462.9L1338.3 462.6L1337.6 462.3L1336.8 462.0L1336.1 461.8L1335.3 461.5L1334.6 461.2L1333.8 461.0L1333.1 460.7L1332.3 460.5L1331.6 460.2L1330.8 459.9L1330.1 459.7L1329.3 459.4L1328.6 459.2L1327.8 459.0L1327.1 458.7L1326.3 458.5L1325.6 458.2L1324.8 458.0L1324.1 457.7L1323.3 457.5L1322.6 457.2L1321.8 457.0L1321.1 456.7L1320.3 456.5L1319.6 456.3L1318.8 456.2L1318.1 456.0L1317.3 455.8L1316.6 455.6L1315.8 455.4L1315.1 455.2L1314.3 455.0L1313.6 454.8L1312.8 454.6L1312.1 454.4L1311.3 454.2L1310.6 454.0L1309.8 453.8L1309.1 453.7L1308.3 453.5L1307.6 453.3L1306.8 453.0L1306.1 452.8L1305.3 452.6L1304.6 452.4L1303.8 452.2L1303.1 452.0L1302.3 451.8L1301.6 451.5L1300.8 451.3L1300.1 451.1L1299.3 450.8L1298.6 450.6L1297.8 450.3L1297.1 450.0L1296.3 449.8L1295.6 449.5L1294.8 449.2L1294.1 448.9L1293.3 448.5L1292.6 448.2L1291.8 447.8L1291.1 447.4L1290.3 447.1L1289.6 446.7L1288.8 446.4L1288.1 446.0L1287.3 445.6L1286.6 445.3L1285.8 444.9L1285.1 444.6L1284.3 444.2L1283.6 443.9L1282.8 443.6L1282.1 443.2L1281.3 442.9L1280.6 442.6L1279.8 442.2L1279.1 441.9L1278.3 441.5L1277.6 441.2L1276.8 440.9L1276.1 440.5L1275.3 440.2L1274.6 439.8L1273.8 439.5L1273.1 439.2L1272.3 439.0L1271.6 438.7L1270.8 438.4L1270.1 438.1L1269.3 437.8L1268.6 437.6L1267.8 437.3L1267.1 437.0L1266.3 436.7L1265.6 436.5L1264.8 436.2L1264.1 435.9L1263.3 435.7L1262.6 435.4L1261.8 435.1L1261.1 434.9L1260.3 434.6L1259.6 434.4L1258.8 434.1L1258.1 433.9L1257.3 433.6L1256.6 433.4L1255.8 433.1L1255.1 432.9L1254.3 432.7L1253.6 432.5L1252.8 432.3L1252.1 432.1L1251.3 431.9L1250.6 431.8L1249.8 431.6L1249.1 431.4L1248.3 431.3L1247.6 431.1L1246.8 430.9L1246.1 430.8L1245.3 430.6L1244.6 430.5L1243.8 430.3L1243.1 430.2L1242.3 430.0L1241.6 429.9L1240.8 429.7L1240.1 429.6L1239.3 429.4L1238.6 429.3L1237.8 429.1L1237.1 429.0L1236.3 428.8L1235.6 428.7L1234.8 428.6L1234.1 428.5L1233.3 428.4L1232.6 428.4L1231.8 428.3L1231.1 428.3L1230.3 428.2L1229.6 428.2L1228.8 428.1L1228.1 428.1L1227.3 428.0L1226.6 428.0L1225.8 427.9L1225.1 427.8L1224.3 427.8L1223.6 427.5L1222.8 427.3L1222.1 427.1L1221.3 426.8L1220.6 426.6L1219.8 426.4L1219.1 426.1L1218.3 425.9L1217.6 425.6L1216.8 425.4L1216.1 425.2L1215.3 424.9L1214.6 424.7L1213.8 424.5L1213.1 424.2L1212.3 424.0L1211.6 423.7L1210.8 423.5L1210.1 423.3L1209.3 423.0L1208.6 422.8L1207.8 422.6L1207.1 422.3L1206.3 422.1L1205.6 421.9L1204.8 421.6L1204.1 421.4L1203.3 421.1L1202.6 420.9L1201.8 420.6L1201.1 420.4L1200.3 420.2L1199.6 419.9L1198.8 419.7L1198.1 419.4L1197.3 419.2L1196.6 418.9L1195.8 418.7L1195.1 418.5L1194.3 418.2L1193.6 418.0L1192.8 417.8L1192.1 417.5L1191.3 417.3L1190.6 417.0L1189.8 416.8L1189.1 416.6L1188.3 416.3L1187.6 416.1L1186.8 415.9L1186.1 415.6L1185.3 415.4L1184.6 415.1Z" fill="rgba(26,235,22,0.55)"/>
<path d="M872.6 326.5L873.4 326.3L874.1 326.1L874.9 325.9L875.6 325.8L876.4 325.5L877.1 325.3L877.9 325.1L878.6 324.8L879.4 324.5L880.1 324.2L880.9 323.9L881.6 323.5L882.4 323.1L883.1 322.7L883.9 322.2L884.6 321.7L885.4 321.2L886.1 320.6L886.9 319.9L887.6 319.2L888.4 318.3L889.1 317.3L889.9 316.2L890.6 315.1L891.4 313.9L892.1 312.6L892.9 311.3L893.6 309.9L894.4 308.5L895.1 307.0L895.9 305.5L896.6 304.0L897.4 302.5L898.1 300.8L898.9 299.2L899.6 297.4L900.4 295.4L901.1 293.4L901.9 291.3L902.6 289.0L903.4 286.4L904.1 283.4L904.9 280.4L905.6 277.6L906.4 274.8L907.1 272.1L907.9 269.4L908.6 266.6L909.4 263.9L910.1 261.2L910.9 258.4L911.6 255.6L912.4 252.8L913.1 250.0L913.9 247.0L914.6 243.9L915.4 240.6L916.1 237.4L916.9 234.4L917.6 231.7L918.4 229.2L919.1 226.9L919.9 224.8L920.6 223.0L921.4 221.5L922.1 220.2L922.9 219.1L923.6 218.1L924.4 217.4L925.1 216.8L925.9 216.5L926.6 216.5L927.4 216.7L928.1 217.2L928.9 217.9L929.6 218.9L930.4 220.0L931.1 221.2L931.9 222.6L932.6 224.1L933.4 225.8L934.1 227.8L934.9 229.9L935.6 232.4L936.4 235.3L937.1 238.8L937.9 242.5L938.6 245.9L939.4 249.1L940.1 252.0L940.9 254.8L941.6 257.5L942.4 260.3L943.1 263.0L943.9 265.6L944.6 268.3L945.4 271.0L946.1 273.6L946.9 276.3L947.6 278.9L948.4 281.4L949.1 283.7L949.9 286.3L950.6 291.4L951.4 297.5L952.1 300.7L952.9 303.1L953.6 305.2L954.4 307.2L955.1 309.3L955.9 311.4L956.6 313.6L957.4 315.9L958.1 318.1L958.9 320.3L959.6 322.5L960.4 324.8L961.1 327.0L961.9 329.1L962.6 331.3L963.4 333.5L964.1 335.9L964.9 338.1L965.6 340.1L966.4 342.0L967.1 343.8L967.9 345.7L968.6 347.5L969.4 349.2L970.1 350.7L970.9 352.1L971.6 353.1L972.4 353.9L973.1 354.1L973.9 354.3L974.6 354.5L975.4 354.6L976.1 354.8L975.4 354.6L974.6 354.5L973.9 354.3L973.1 354.1L972.4 353.9L971.6 353.7L970.9 353.5L970.1 353.4L969.4 353.2L968.6 353.0L967.9 352.8L967.1 352.6L966.4 352.4L965.6 352.2L964.9 352.1L964.1 351.9L963.4 351.7L962.6 351.5L961.9 351.3L961.1 351.1L960.4 350.9L959.6 350.8L958.9 350.6L958.1 350.4L957.4 350.2L956.6 350.0L955.9 349.8L955.1 349.6L954.4 349.5L953.6 349.3L952.9 349.1L952.1 348.9L951.4 348.7L950.6 348.5L949.9 348.4L949.1 348.2L948.4 348.0L947.6 347.8L946.9 347.6L946.1 347.4L945.4 347.2L944.6 347.1L943.9 346.9L943.1 346.7L942.4 346.5L941.6 346.3L940.9 346.1L940.1 345.9L939.4 345.8L938.6 345.6L937.9 345.4L937.1 345.2L936.4 345.0L935.6 344.8L934.9 344.6L934.1 344.5L933.4 344.3L932.6 344.1L931.9 343.9L931.1 343.7L930.4 343.5L929.6 343.3L928.9 343.2L928.1 343.0L927.4 342.8L926.6 342.6L925.9 342.4L925.1 342.2L924.4 342.1L923.6 341.9L922.9 341.7L922.1 341.5L921.4 341.3L920.6 341.1L919.9 340.9L919.1 340.8L918.4 340.6L917.6 340.4L916.9 340.2L916.1 340.0L915.4 339.8L914.6 339.6L913.9 339.5L913.1 339.3L912.4 339.1L911.6 338.9L910.9 338.7L910.1 338.5L909.4 338.3L908.6 338.2L907.9 338.0L907.1 337.8L906.4 337.6L905.6 337.4L904.9 337.2L904.1 337.1L903.4 336.9L902.6 336.7L901.9 336.5L901.1 336.3L900.4 336.1L899.6 335.9L898.9 335.8L898.1 335.6L897.4 335.4L896.6 335.2L895.9 335.0L895.1 334.8L894.4 334.6L893.6 334.5L892.9 334.3L892.1 334.1L891.4 333.9L890.6 333.7L889.9 333.5L889.1 333.3L888.4 333.2L887.6 333.0L886.9 332.8L886.1 332.6L885.4 332.4L884.6 332.2L883.9 332.0L883.1 331.9L882.4 331.7L881.6 331.5L880.9 331.3L880.1 331.1L879.4 330.9L878.6 330.8L877.9 330.6L877.1 330.4L876.4 330.2L875.6 330.0L874.9 329.8L874.1 329.6L873.4 329.5L872.6 329.3Z" fill="rgba(240,173,11,0.45)"/>
<path d="M959.6 363.7L960.4 363.5L961.1 363.3L961.9 363.1L962.6 362.9L963.4 362.7L964.1 362.5L964.9 362.3L965.6 362.1L966.4 361.9L967.1 361.7L967.9 361.5L968.6 361.3L969.4 361.1L970.1 360.9L970.9 360.8L971.6 360.6L972.4 360.4L973.1 360.2L973.9 360.0L974.6 359.8L975.4 359.5L976.1 359.2L976.9 358.9L977.6 358.7L978.4 358.5L979.1 358.3L979.9 358.2L980.6 358.1L981.4 358.0L982.1 358.0L982.9 358.1L983.6 358.1L984.4 358.2L985.1 358.3L985.9 358.5L986.6 358.6L987.4 358.8L988.1 358.9L988.9 359.1L989.6 359.3L990.4 359.5L991.1 359.7L991.9 359.9L992.6 360.1L993.4 360.3L994.1 360.5L994.9 360.7L995.6 360.9L996.4 361.2L997.1 361.4L997.9 361.6L998.6 361.8L999.4 362.1L1000.1 362.3L1000.9 362.5L1001.6 362.8L1002.4 363.0L1003.1 363.3L1003.9 363.5L1004.6 363.7L1005.4 364.0L1006.1 364.2L1006.9 364.5L1007.6 364.7L1008.4 365.0L1009.1 365.2L1009.9 365.4L1010.6 365.7L1011.4 365.9L1012.1 366.2L1012.9 366.4L1013.6 366.7L1014.4 366.9L1015.1 367.2L1015.9 367.5L1016.6 367.7L1017.4 368.0L1018.1 368.3L1018.9 368.6L1019.6 368.8L1020.4 369.1L1021.1 369.4L1021.9 369.7L1022.6 370.0L1023.4 370.2L1024.1 370.5L1024.8 370.8L1025.6 371.1L1026.3 371.4L1027.1 371.6L1027.8 371.9L1028.6 372.2L1029.3 372.4L1030.1 372.7L1030.8 373.0L1031.6 373.2L1032.3 373.5L1033.1 373.7L1033.8 374.0L1034.6 374.2L1035.3 374.5L1036.1 374.7L1036.8 374.9L1037.6 375.2L1038.3 375.4L1039.1 375.6L1039.8 375.9L1040.6 376.1L1041.3 376.3L1042.1 376.5L1042.8 376.8L1043.6 377.0L1044.3 377.2L1045.1 377.4L1045.8 377.7L1046.6 377.9L1047.3 378.1L1048.1 378.3L1048.8 378.5L1049.6 378.7L1050.3 379.0L1051.1 379.2L1051.8 379.4L1052.6 379.6L1053.3 379.8L1054.1 380.0L1054.8 380.3L1055.6 380.5L1056.3 380.7L1057.1 380.9L1057.8 381.1L1058.6 381.3L1059.3 381.5L1060.1 381.8L1060.8 382.0L1061.6 382.2L1062.3 382.4L1063.1 382.6L1063.8 382.8L1064.6 383.0L1065.3 383.2L1066.1 383.4L1066.8 383.7L1067.6 383.9L1068.3 384.1L1069.1 384.3L1069.8 384.5L1070.6 384.7L1071.3 384.9L1072.1 385.1L1072.8 385.3L1073.6 385.6L1074.3 385.8L1075.1 386.0L1075.8 386.2L1076.6 386.4L1077.3 386.6L1078.1 386.8L1078.8 387.0L1079.6 387.2L1080.3 387.4L1081.1 387.6L1081.8 387.8L1082.6 388.1L1083.3 388.3L1084.1 388.5L1084.8 388.7L1085.6 388.9L1086.3 389.1L1087.1 389.3L1087.8 389.5L1088.6 389.7L1089.3 389.9L1090.1 390.1L1090.8 390.3L1091.6 390.5L1092.3 390.8L1093.1 391.0L1093.8 391.2L1094.6 391.4L1095.3 391.6L1096.1 391.8L1096.8 392.0L1097.6 392.2L1098.3 392.4L1099.1 392.6L1099.8 392.8L1100.6 393.0L1101.3 393.1L1102.1 393.3L1102.8 393.5L1103.6 393.7L1104.3 393.9L1105.1 394.1L1105.8 394.2L1106.6 394.4L1107.3 394.6L1108.1 394.8L1108.8 395.1L1109.6 395.3L1110.3 395.5L1111.1 395.8L1111.8 396.1L1112.6 396.4L1113.3 396.8L1114.1 397.2L1114.8 397.5L1115.6 397.9L1116.3 398.2L1117.1 398.6L1117.8 398.9L1118.6 399.3L1119.3 399.7L1120.1 400.0L1120.8 400.4L1121.6 400.8L1122.3 401.1L1123.1 401.5L1123.8 401.9L1124.6 402.2L1125.3 402.6L1126.1 403.0L1126.8 403.3L1127.6 403.7L1128.3 404.1L1129.1 404.4L1129.8 404.8L1130.6 405.1L1131.3 405.5L1132.1 405.8L1132.8 406.2L1133.6 406.5L1134.3 406.8L1135.1 407.1L1135.8 407.5L1136.6 407.8L1137.3 408.0L1138.1 408.3L1138.8 408.6L1139.6 408.8L1140.3 409.0L1141.1 409.1L1141.8 409.3L1142.6 409.4L1143.3 409.4L1144.1 409.4L1144.8 409.4L1145.6 409.4L1146.3 409.4L1147.1 409.3L1147.8 409.3L1148.6 409.2L1149.3 409.3L1150.1 409.3L1150.8 409.4L1151.6 409.5L1152.3 409.7L1153.1 409.8L1153.8 410.0L1154.6 410.1L1155.3 410.3L1156.1 410.4L1156.8 410.5L1157.6 410.6L1158.3 410.6L1159.1 410.7L1159.8 410.7L1160.6 410.7L1161.3 410.6L1162.1 410.5L1162.8 410.4L1163.6 410.2L1164.3 410.0L1165.1 409.7L1165.8 409.4L1166.6 409.1L1167.3 408.7L1168.1 408.3L1168.8 407.9L1169.6 407.4L1170.3 406.8L1171.1 406.2L1171.8 405.6L1172.6 405.0L1173.3 404.3L1174.1 403.5L1174.8 402.5L1175.6 401.4L1176.3 400.2L1177.1 398.8L1177.8 397.3L1178.6 395.6L1179.3 393.8L1180.1 392.1L1180.8 390.4L1181.6 388.7L1182.3 387.0L1183.1 385.3L1183.8 383.9L1184.6 382.6L1185.3 380.9L1186.1 378.3L1186.8 375.0L1187.6 371.4L1188.3 367.6L1189.1 364.0L1189.8 360.9L1190.6 358.7L1191.3 357.5L1192.1 356.1L1192.8 354.0L1193.6 351.6L1194.3 349.2L1195.1 346.8L1195.8 344.3L1196.6 342.0L1197.3 339.6L1198.1 337.2L1198.8 334.8L1199.6 332.3L1200.3 329.6L1201.1 326.7L1201.8 323.8L1202.6 321.0L1203.3 318.2L1204.1 315.4L1204.8 312.6L1205.6 309.8L1206.3 307.1L1207.1 304.3L1207.8 301.7L1208.6 299.3L1209.3 297.2L1210.1 295.7L1210.8 294.6L1211.6 293.8L1212.3 293.2L1213.1 292.9L1213.8 292.8L1214.6 292.8L1215.3 293.0L1216.1 293.5L1216.8 294.2L1217.6 294.9L1218.3 296.0L1219.1 297.5L1219.8 299.5L1220.6 301.9L1221.3 304.5L1222.1 307.4L1222.8 310.3L1223.6 313.2L1224.3 316.2L1225.1 319.2L1225.8 322.3L1226.6 325.6L1227.3 328.8L1228.1 332.0L1228.8 335.2L1229.6 338.2L1230.3 341.0L1231.1 343.7L1231.8 346.4L1232.6 349.0L1233.3 351.7L1234.1 354.4L1234.8 357.3L1235.6 360.3L1236.3 363.6L1237.1 367.0L1237.8 370.5L1238.6 373.9L1239.3 377.3L1240.1 380.6L1240.8 383.7L1241.6 386.6L1242.3 389.4L1243.1 392.1L1243.8 394.7L1244.6 397.2L1245.3 399.7L1246.1 402.1L1246.8 404.4L1247.6 406.7L1248.3 408.8L1249.1 410.9L1249.8 412.9L1250.6 415.0L1251.3 417.0L1252.1 419.0L1252.8 421.2L1253.6 423.4L1254.3 425.4L1255.1 427.1L1255.8 428.4L1256.6 429.4L1257.3 430.2L1258.1 430.9L1258.8 431.5L1259.6 432.1L1260.3 432.7L1261.1 433.3L1261.8 433.9L1262.6 434.6L1263.3 435.4L1264.1 436.1L1264.8 436.9L1265.6 437.6L1266.3 438.3L1267.1 439.1L1267.8 439.8L1268.6 440.6L1269.3 441.3L1270.1 442.1L1270.8 442.8L1271.6 443.6L1272.3 444.3L1273.1 445.1L1273.8 445.8L1273.8 446.2L1273.1 445.9L1272.3 445.7L1271.6 445.4L1270.8 445.1L1270.1 444.8L1269.3 444.5L1268.6 444.3L1267.8 444.0L1267.1 443.7L1266.3 443.4L1265.6 443.2L1264.8 442.9L1264.1 442.6L1263.3 442.4L1262.6 442.1L1261.8 441.8L1261.1 441.6L1260.3 441.3L1259.6 441.1L1258.8 440.8L1258.1 440.6L1257.3 440.3L1256.6 440.1L1255.8 439.8L1255.1 439.6L1254.3 439.4L1253.6 439.1L1252.8 438.9L1252.1 438.7L1251.3 438.5L1250.6 438.3L1249.8 438.1L1249.1 437.9L1248.3 437.7L1247.6 437.5L1246.8 437.3L1246.1 437.1L1245.3 436.9L1244.6 436.7L1243.8 436.5L1243.1 436.3L1242.3 436.1L1241.6 435.9L1240.8 435.7L1240.1 435.5L1239.3 435.4L1238.6 435.2L1237.8 435.0L1237.1 434.8L1236.3 434.6L1235.6 434.5L1234.8 434.3L1234.1 434.1L1233.3 433.9L1232.6 433.7L1231.8 433.6L1231.1 433.4L1230.3 433.2L1229.6 433.0L1228.8 432.9L1228.1 432.7L1227.3 432.5L1226.6 432.3L1225.8 432.1L1225.1 431.9L1224.3 431.8L1223.6 431.6L1222.8 431.4L1222.1 431.2L1221.3 431.0L1220.6 430.8L1219.8 430.6L1219.1 430.4L1218.3 430.2L1217.6 430.1L1216.8 429.9L1216.1 429.7L1215.3 429.5L1214.6 429.3L1213.8 429.1L1213.1 428.9L1212.3 428.7L1211.6 428.5L1210.8 428.3L1210.1 428.1L1209.3 427.9L1208.6 427.8L1207.8 427.6L1207.1 427.4L1206.3 427.2L1205.6 427.0L1204.8 426.8L1204.1 426.6L1203.3 426.4L1202.6 426.2L1201.8 426.0L1201.1 425.9L1200.3 425.7L1199.6 425.5L1198.8 425.3L1198.1 425.1L1197.3 424.9L1196.6 424.7L1195.8 424.6L1195.1 424.4L1194.3 424.2L1193.6 424.0L1192.8 423.8L1192.1 423.6L1191.3 423.5L1190.6 423.3L1189.8 423.1L1189.1 422.9L1188.3 422.7L1187.6 422.6L1186.8 422.4L1186.1 422.2L1185.3 422.0L1184.6 421.8L1183.8 421.7L1183.1 421.5L1182.3 421.3L1181.6 421.1L1180.8 420.9L1180.1 420.8L1179.3 420.6L1178.6 420.4L1177.8 420.2L1177.1 420.0L1176.3 419.9L1175.6 419.7L1174.8 419.5L1174.1 419.4L1173.3 419.2L1172.6 419.0L1171.8 418.8L1171.1 418.7L1170.3 418.5L1169.6 418.4L1168.8 418.2L1168.1 418.0L1167.3 417.9L1166.6 417.7L1165.8 417.6L1165.1 417.4L1164.3 417.3L1163.6 417.1L1162.8 417.0L1162.1 416.8L1161.3 416.7L1160.6 416.6L1159.8 416.4L1159.1 416.3L1158.3 416.2L1157.6 416.1L1156.8 415.9L1156.1 415.8L1155.3 415.7L1154.6 415.6L1153.8 415.5L1153.1 415.3L1152.3 415.2L1151.6 415.1L1150.8 415.0L1150.1 414.9L1149.3 414.8L1148.6 414.7L1147.8 414.6L1147.1 414.5L1146.3 414.4L1145.6 414.3L1144.8 414.1L1144.1 414.0L1143.3 413.9L1142.6 413.8L1141.8 413.7L1141.1 413.6L1140.3 413.5L1139.6 413.4L1138.8 413.3L1138.1 413.2L1137.3 413.1L1136.6 413.0L1135.8 412.9L1135.1 412.8L1134.3 412.7L1133.6 412.6L1132.8 412.4L1132.1 412.3L1131.3 412.2L1130.6 412.1L1129.8 412.0L1129.1 411.9L1128.3 411.8L1127.6 411.6L1126.8 411.5L1126.1 411.4L1125.3 411.3L1124.6 411.2L1123.8 411.0L1123.1 410.9L1122.3 410.8L1121.6 410.7L1120.8 410.6L1120.1 410.4L1119.3 410.3L1118.6 410.2L1117.8 410.1L1117.1 410.0L1116.3 409.8L1115.6 409.7L1114.8 409.6L1114.1 409.5L1113.3 409.4L1112.6 409.2L1111.8 409.1L1111.1 409.0L1110.3 408.9L1109.6 408.8L1108.8 408.6L1108.1 408.5L1107.3 408.4L1106.6 408.3L1105.8 408.2L1105.1 408.0L1104.3 407.9L1103.6 407.8L1102.8 407.7L1102.1 407.6L1101.3 407.5L1100.6 407.4L1099.8 407.3L1099.1 407.2L1098.3 407.1L1097.6 407.0L1096.8 406.9L1096.1 406.8L1095.3 406.7L1094.6 406.6L1093.8 406.5L1093.1 406.4L1092.3 406.3L1091.6 406.1L1090.8 406.0L1090.1 405.9L1089.3 405.8L1088.6 405.7L1087.8 405.5L1087.1 405.4L1086.3 405.3L1085.6 405.1L1084.8 404.9L1084.1 404.8L1083.3 404.6L1082.6 404.4L1081.8 404.2L1081.1 404.0L1080.3 403.8L1079.6 403.5L1078.8 403.3L1078.1 403.0L1077.3 402.8L1076.6 402.5L1075.8 402.2L1075.1 401.9L1074.3 401.7L1073.6 401.4L1072.8 401.1L1072.1 400.8L1071.3 400.5L1070.6 400.2L1069.8 399.9L1069.1 399.5L1068.3 399.2L1067.6 398.9L1066.8 398.6L1066.1 398.3L1065.3 398.0L1064.6 397.6L1063.8 397.3L1063.1 396.9L1062.3 396.5L1061.6 396.2L1060.8 395.8L1060.1 395.4L1059.3 395.0L1058.6 394.6L1057.8 394.2L1057.1 393.8L1056.3 393.4L1055.6 393.0L1054.8 392.6L1054.1 392.2L1053.3 391.8L1052.6 391.4L1051.8 391.0L1051.1 390.6L1050.3 390.3L1049.6 389.9L1048.8 389.6L1048.1 389.3L1047.3 389.0L1046.6 388.6L1045.8 388.3L1045.1 388.0L1044.3 387.7L1043.6 387.4L1042.8 387.2L1042.1 386.9L1041.3 386.6L1040.6 386.3L1039.8 386.0L1039.1 385.7L1038.3 385.5L1037.6 385.2L1036.8 384.9L1036.1 384.7L1035.3 384.4L1034.6 384.1L1033.8 383.9L1033.1 383.6L1032.3 383.3L1031.6 383.1L1030.8 382.8L1030.1 382.5L1029.3 382.3L1028.6 382.0L1027.8 381.7L1027.1 381.5L1026.3 381.2L1025.6 380.9L1024.8 380.7L1024.1 380.4L1023.4 380.1L1022.6 379.9L1021.9 379.6L1021.1 379.3L1020.4 379.1L1019.6 378.8L1018.9 378.6L1018.1 378.3L1017.4 378.1L1016.6 377.8L1015.9 377.6L1015.1 377.3L1014.4 377.1L1013.6 376.9L1012.9 376.7L1012.1 376.4L1011.4 376.2L1010.6 376.0L1009.9 375.8L1009.1 375.6L1008.4 375.4L1007.6 375.2L1006.9 375.0L1006.1 374.8L1005.4 374.6L1004.6 374.4L1003.9 374.2L1003.1 374.0L1002.4 373.8L1001.6 373.6L1000.9 373.4L1000.1 373.2L999.4 373.0L998.6 372.9L997.9 372.7L997.1 372.5L996.4 372.3L995.6 372.1L994.9 371.9L994.1 371.8L993.4 371.6L992.6 371.4L991.9 371.2L991.1 371.1L990.4 370.9L989.6 370.7L988.9 370.5L988.1 370.3L987.4 370.2L986.6 370.0L985.9 369.8L985.1 369.6L984.4 369.5L983.6 369.3L982.9 369.1L982.1 369.0L981.4 368.8L980.6 368.7L979.9 368.5L979.1 368.3L978.4 368.2L977.6 368.0L976.9 367.9L976.1 367.7L975.4 367.6L974.6 367.4L973.9 367.2L973.1 367.1L972.4 366.9L971.6 366.7L970.9 366.6L970.1 366.4L969.4 366.2L968.6 366.1L967.9 365.9L967.1 365.7L966.4 365.5L965.6 365.4L964.9 365.2L964.1 365.0L963.4 364.8L962.6 364.6L961.9 364.4L961.1 364.2L960.4 364.0L959.6 363.8Z" fill="rgba(240,173,11,0.45)"/>
<path d="M1154.6 415.6L1155.3 415.5L1156.1 415.4L1156.8 415.3L1157.6 415.2L1158.3 415.2L1159.1 415.1L1159.8 415.0L1160.6 414.9L1161.3 414.9L1162.1 414.8L1162.8 414.7L1163.6 414.6L1164.3 414.5L1165.1 414.5L1165.8 414.4L1166.6 414.3L1167.3 414.3L1168.1 414.2L1168.8 414.1L1169.6 414.1L1170.3 414.0L1171.1 413.9L1171.8 413.9L1172.6 413.8L1173.3 413.7L1174.1 413.7L1174.8 413.6L1175.6 413.6L1176.3 413.5L1177.1 413.5L1177.8 413.5L1178.6 413.4L1179.3 413.4L1180.1 413.4L1180.8 413.3L1181.6 413.3L1182.3 413.3L1183.1 413.3L1183.8 413.3L1184.6 413.2L1185.3 413.2L1186.1 413.2L1186.8 413.2L1187.6 413.2L1188.3 413.1L1189.1 413.1L1189.8 413.1L1190.6 413.0L1191.3 413.0L1192.1 413.0L1192.8 412.9L1193.6 412.9L1194.3 412.8L1195.1 412.8L1195.8 412.7L1196.6 412.6L1197.3 412.5L1198.1 412.4L1198.8 412.3L1199.6 412.2L1200.3 412.0L1201.1 411.9L1201.8 411.7L1202.6 411.6L1203.3 411.4L1204.1 411.2L1204.8 411.0L1205.6 410.7L1206.3 410.4L1207.1 410.1L1207.8 409.7L1208.6 409.2L1209.3 408.7L1210.1 408.2L1210.8 407.5L1211.6 406.9L1212.3 406.1L1213.1 405.3L1213.8 404.4L1214.6 403.4L1215.3 402.3L1216.1 401.2L1216.8 400.0L1217.6 398.8L1218.3 397.5L1219.1 396.2L1219.8 394.9L1220.6 393.5L1221.3 392.2L1222.1 390.7L1222.8 389.2L1223.6 387.5L1224.3 385.8L1225.1 383.9L1225.8 381.9L1226.6 379.9L1227.3 377.7L1228.1 375.5L1228.8 373.0L1229.6 370.4L1230.3 367.7L1231.1 365.0L1231.8 362.2L1232.6 359.5L1233.3 356.8L1234.1 354.0L1234.8 351.0L1235.6 347.8L1236.3 344.4L1237.1 340.7L1237.8 336.9L1238.6 333.1L1239.3 329.4L1240.1 325.7L1240.8 322.4L1241.6 319.1L1242.3 315.8L1243.1 312.7L1243.8 309.7L1244.6 307.0L1245.3 304.7L1246.1 302.6L1246.8 300.8L1247.6 299.1L1248.3 297.7L1249.1 296.4L1249.8 295.4L1250.6 294.7L1251.3 294.4L1252.1 294.8L1252.8 296.1L1253.6 298.1L1254.3 300.3L1255.1 302.7L1255.8 305.5L1256.6 308.6L1257.3 311.8L1258.1 314.8L1258.8 317.5L1259.6 320.0L1260.3 322.7L1261.1 326.0L1261.8 329.9L1262.6 334.6L1263.3 339.8L1264.1 345.1L1264.8 350.5L1265.6 355.6L1266.3 360.4L1267.1 364.5L1267.8 368.2L1268.6 371.5L1269.3 374.6L1270.1 377.5L1270.8 380.4L1271.6 383.3L1272.3 386.2L1273.1 389.1L1273.8 391.9L1274.6 394.6L1275.3 397.2L1276.1 399.7L1276.8 402.2L1277.6 404.5L1278.3 406.7L1279.1 408.9L1279.8 411.1L1280.6 413.3L1281.3 415.4L1282.1 417.6L1282.8 419.9L1283.6 422.3L1284.3 424.6L1285.1 426.3L1285.8 427.6L1286.6 428.6L1287.3 429.3L1288.1 429.8L1288.8 430.3L1289.6 430.8L1290.3 431.3L1291.1 431.8L1291.8 432.3L1292.6 432.8L1293.3 433.3L1294.1 433.7L1294.8 434.2L1295.6 434.7L1296.3 435.2L1297.1 435.7L1297.8 436.2L1298.6 436.7L1299.3 437.1L1300.1 437.6L1300.8 438.1L1301.6 438.6L1302.3 439.0L1303.1 439.5L1303.8 440.0L1304.6 440.4L1305.3 440.9L1306.1 441.4L1306.8 441.8L1307.6 442.3L1308.3 442.7L1309.1 443.2L1309.8 443.6L1310.6 444.1L1311.3 444.5L1312.1 445.0L1312.8 445.4L1313.6 445.8L1314.3 446.2L1315.1 446.7L1315.8 447.1L1316.6 447.5L1317.3 447.9L1318.1 448.3L1318.8 448.7L1319.6 449.1L1320.3 449.5L1321.1 449.9L1321.8 450.3L1322.6 450.7L1323.3 451.1L1324.1 451.5L1324.8 451.8L1325.6 452.2L1326.3 452.6L1327.1 453.0L1327.8 453.4L1328.6 453.8L1329.3 454.2L1330.1 454.6L1330.8 455.0L1331.6 455.4L1332.3 455.9L1333.1 456.3L1333.8 456.7L1334.6 457.1L1335.3 457.6L1336.1 458.0L1336.8 458.4L1337.6 458.9L1338.3 459.3L1339.1 459.7L1339.8 460.2L1340.6 460.6L1341.3 461.1L1342.1 461.5L1342.8 462.0L1343.6 462.4L1344.3 462.9L1345.1 463.3L1345.8 463.8L1346.6 464.2L1347.3 464.7L1348.1 465.1L1348.8 465.6L1349.6 466.1L1350.3 466.6L1351.1 467.0L1351.8 467.5L1352.6 468.0L1353.3 468.5L1354.1 469.0L1354.8 469.5L1355.6 470.1L1356.3 470.6L1357.1 471.2L1357.8 471.7L1358.6 472.3L1359.3 472.9L1360.1 473.5L1360.8 474.1L1361.6 474.7L1362.3 475.3L1363.1 476.0L1363.8 476.6L1363.8 476.7L1363.1 476.3L1362.3 475.9L1361.6 475.5L1360.8 475.1L1360.1 474.7L1359.3 474.4L1358.6 474.0L1357.8 473.7L1357.1 473.4L1356.3 473.0L1355.6 472.7L1354.8 472.4L1354.1 472.0L1353.3 471.7L1352.6 471.4L1351.8 471.1L1351.1 470.8L1350.3 470.5L1349.6 470.1L1348.8 469.8L1348.1 469.6L1347.3 469.3L1346.6 469.0L1345.8 468.7L1345.1 468.4L1344.3 468.1L1343.6 467.9L1342.8 467.6L1342.1 467.4L1341.3 467.1L1340.6 466.9L1339.8 466.6L1339.1 466.4L1338.3 466.2L1337.6 466.0L1336.8 465.8L1336.1 465.6L1335.3 465.4L1334.6 465.2L1333.8 465.0L1333.1 464.8L1332.3 464.6L1331.6 464.4L1330.8 464.2L1330.1 464.1L1329.3 463.9L1328.6 463.7L1327.8 463.5L1327.1 463.4L1326.3 463.2L1325.6 463.0L1324.8 462.8L1324.1 462.7L1323.3 462.5L1322.6 462.3L1321.8 462.1L1321.1 461.9L1320.3 461.7L1319.6 461.5L1318.8 461.4L1318.1 461.2L1317.3 461.0L1316.6 460.8L1315.8 460.6L1315.1 460.4L1314.3 460.2L1313.6 460.0L1312.8 459.8L1312.1 459.6L1311.3 459.4L1310.6 459.2L1309.8 459.0L1309.1 458.9L1308.3 458.7L1307.6 458.5L1306.8 458.2L1306.1 458.0L1305.3 457.8L1304.6 457.6L1303.8 457.4L1303.1 457.2L1302.3 457.0L1301.6 456.7L1300.8 456.5L1300.1 456.3L1299.3 456.0L1298.6 455.8L1297.8 455.5L1297.1 455.2L1296.3 455.0L1295.6 454.7L1294.8 454.4L1294.1 454.1L1293.3 453.8L1292.6 453.5L1291.8 453.2L1291.1 452.9L1290.3 452.6L1289.6 452.3L1288.8 452.0L1288.1 451.7L1287.3 451.4L1286.6 451.1L1285.8 450.8L1285.1 450.5L1284.3 450.2L1283.6 449.9L1282.8 449.6L1282.1 449.4L1281.3 449.1L1280.6 448.8L1279.8 448.5L1279.1 448.2L1278.3 447.9L1277.6 447.7L1276.8 447.4L1276.1 447.1L1275.3 446.8L1274.6 446.5L1273.8 446.2L1273.1 445.9L1272.3 445.7L1271.6 445.4L1270.8 445.1L1270.1 444.8L1269.3 444.5L1268.6 444.3L1267.8 444.0L1267.1 443.7L1266.3 443.4L1265.6 443.2L1264.8 442.9L1264.1 442.6L1263.3 442.4L1262.6 442.1L1261.8 441.8L1261.1 441.6L1260.3 441.3L1259.6 441.1L1258.8 440.8L1258.1 440.6L1257.3 440.3L1256.6 440.1L1255.8 439.8L1255.1 439.6L1254.3 439.4L1253.6 439.1L1252.8 438.9L1252.1 438.7L1251.3 438.5L1250.6 438.3L1249.8 438.1L1249.1 437.9L1248.3 437.7L1247.6 437.5L1246.8 437.3L1246.1 437.1L1245.3 436.9L1244.6 436.7L1243.8 436.5L1243.1 436.3L1242.3 436.1L1241.6 435.9L1240.8 435.7L1240.1 435.5L1239.3 435.4L1238.6 435.2L1237.8 435.0L1237.1 434.8L1236.3 434.6L1235.6 434.5L1234.8 434.3L1234.1 434.1L1233.3 433.9L1232.6 433.7L1231.8 433.6L1231.1 433.4L1230.3 433.2L1229.6 433.0L1228.8 432.9L1228.1 432.7L1227.3 432.5L1226.6 432.3L1225.8 432.1L1225.1 431.9L1224.3 431.8L1223.6 431.6L1222.8 431.4L1222.1 431.2L1221.3 431.0L1220.6 430.8L1219.8 430.6L1219.1 430.4L1218.3 430.2L1217.6 430.1L1216.8 429.9L1216.1 429.7L1215.3 429.5L1214.6 429.3L1213.8 429.1L1213.1 428.9L1212.3 428.7L1211.6 428.5L1210.8 428.3L1210.1 428.1L1209.3 427.9L1208.6 427.8L1207.8 427.6L1207.1 427.4L1206.3 427.2L1205.6 427.0L1204.8 426.8L1204.1 426.6L1203.3 426.4L1202.6 426.2L1201.8 426.0L1201.1 425.9L1200.3 425.7L1199.6 425.5L1198.8 425.3L1198.1 425.1L1197.3 424.9L1196.6 424.7L1195.8 424.6L1195.1 424.4L1194.3 424.2L1193.6 424.0L1192.8 423.8L1192.1 423.6L1191.3 423.5L1190.6 423.3L1189.8 423.1L1189.1 422.9L1188.3 422.7L1187.6 422.6L1186.8 422.4L1186.1 422.2L1185.3 422.0L1184.6 421.8L1183.8 421.7L1183.1 421.5L1182.3 421.3L1181.6 421.1L1180.8 420.9L1180.1 420.8L1179.3 420.6L1178.6 420.4L1177.8 420.2L1177.1 420.0L1176.3 419.9L1175.6 419.7L1174.8 419.5L1174.1 419.4L1173.3 419.2L1172.6 419.0L1171.8 418.8L1171.1 418.7L1170.3 418.5L1169.6 418.4L1168.8 418.2L1168.1 418.0L1167.3 417.9L1166.6 417.7L1165.8 417.6L1165.1 417.4L1164.3 417.3L1163.6 417.1L1162.8 417.0L1162.1 416.8L1161.3 416.7L1160.6 416.6L1159.8 416.4L1159.1 416.3L1158.3 416.2L1157.6 416.1L1156.8 415.9L1156.1 415.8L1155.3 415.7L1154.6 415.6Z" fill="rgba(240,173,11,0.45)"/>
<path d="M871.1 331.6L871.9 331.8L872.6 332.0L873.4 332.2L874.1 332.4L874.9 332.6L875.6 332.8L876.4 333.0L877.1 333.2L877.9 333.5L878.6 333.7L879.4 333.9L880.1 334.1L880.9 334.3L881.6 334.5L882.4 334.7L883.1 335.0L883.9 335.2L884.6 335.4L885.4 335.6L886.1 335.9L886.9 336.1L887.6 336.3L888.4 336.5L889.1 336.8L889.9 337.0L890.6 337.2L891.4 337.4L892.1 337.6L892.9 337.9L893.6 338.1L894.4 338.3L895.1 338.5L895.9 338.8L896.6 339.0L897.4 339.2L898.1 339.5L898.9 339.7L899.6 339.9L900.4 340.2L901.1 340.4L901.9 340.7L902.6 340.9L903.4 341.1L904.1 341.4L904.9 341.6L905.6 341.9L906.4 342.1L907.1 342.3L907.9 342.6L908.6 342.8L909.4 343.0L910.1 343.3L910.9 343.5L911.6 343.8L912.4 344.0L913.1 344.2L913.9 344.5L914.6 344.7L915.4 345.0L916.1 345.2L916.9 345.5L917.6 345.7L918.4 346.0L919.1 346.3L919.9 346.5L920.6 346.8L921.4 347.1L922.1 347.3L922.9 347.6L923.6 347.9L924.4 348.2L925.1 348.4L925.9 348.6L926.6 348.9L927.4 349.1L928.1 349.4L928.9 349.6L929.6 349.8L930.4 350.1L931.1 350.3L931.9 350.5L932.6 350.7L933.4 351.0L934.1 351.2L934.9 351.4L935.6 351.6L936.4 351.8L937.1 352.0L937.9 352.2L938.6 352.4L939.4 352.6L940.1 352.8L940.9 353.0L941.6 353.2L942.4 353.4L943.1 353.6L943.9 353.8L944.6 354.1L945.4 354.3L946.1 354.5L946.9 354.8L947.6 355.0L948.4 355.2L949.1 355.5L949.9 355.7L950.6 355.9L951.4 356.1L952.1 356.4L952.9 356.6L953.6 356.8L954.4 357.0L955.1 357.2L955.9 357.4L956.6 357.6L957.4 357.8L958.1 358.0L958.9 358.2L959.6 358.4L960.4 358.6L961.1 358.8L961.9 359.0L962.6 359.1L963.4 359.3L964.1 359.5L964.9 359.7L965.6 359.9L966.4 360.0L967.1 360.2L967.9 360.3L968.6 360.5L969.4 360.7L970.1 360.8L970.9 361.0L971.6 361.1L972.4 361.2L973.1 361.4L973.9 361.5L974.6 361.7L975.4 361.8L976.1 362.0L976.9 362.1L977.6 362.2L978.4 362.4L979.1 362.5L979.9 362.7L980.6 362.8L981.4 362.9L982.1 363.1L982.9 363.2L983.6 363.3L984.4 363.5L985.1 363.6L985.9 363.8L986.6 363.9L987.4 364.1L988.1 364.2L988.9 364.4L989.6 364.5L990.4 364.7L991.1 364.8L991.9 365.0L992.6 365.1L993.4 365.3L994.1 365.4L994.9 365.6L995.6 365.8L996.4 365.9L997.1 366.1L997.9 366.3L998.6 366.4L999.4 366.6L1000.1 366.8L1000.9 367.0L1001.6 367.2L1002.4 367.4L1003.1 367.5L1003.9 367.7L1004.6 367.9L1005.4 368.1L1006.1 368.3L1006.9 368.5L1007.6 368.7L1008.4 368.9L1009.1 369.1L1009.9 369.3L1010.6 369.5L1011.4 369.7L1012.1 369.9L1012.9 370.2L1013.6 370.4L1014.4 370.6L1015.1 370.8L1015.9 371.0L1016.6 371.3L1017.4 371.5L1018.1 371.7L1018.9 372.0L1019.6 372.2L1020.4 372.4L1021.1 372.7L1021.9 372.9L1022.6 373.2L1023.4 373.4L1024.1 373.7L1024.8 373.9L1025.6 374.2L1026.3 374.4L1027.1 374.6L1027.8 374.9L1028.6 375.1L1029.3 375.4L1030.1 375.6L1030.8 375.9L1031.6 376.1L1032.3 376.4L1033.1 376.6L1033.8 376.9L1034.6 377.1L1035.3 377.4L1036.1 377.6L1036.8 377.8L1037.6 378.0L1038.3 378.3L1039.1 378.5L1039.8 378.8L1040.6 379.0L1041.3 379.2L1042.1 379.5L1042.8 379.7L1043.6 380.0L1044.3 380.2L1045.1 380.5L1045.8 380.8L1046.6 381.0L1047.3 381.3L1048.1 381.6L1048.8 381.9L1049.6 382.2L1050.3 382.5L1051.1 382.8L1051.8 383.1L1052.6 383.5L1053.3 383.8L1054.1 384.2L1054.8 384.5L1055.6 384.9L1056.3 385.2L1057.1 385.5L1057.8 385.8L1058.6 386.2L1059.3 386.5L1060.1 386.8L1060.8 387.1L1061.6 387.5L1062.3 387.8L1063.1 388.1L1063.8 388.3L1064.6 388.6L1065.3 388.9L1066.1 389.1L1066.8 389.4L1067.6 389.6L1068.3 389.9L1069.1 390.1L1069.8 390.3L1070.6 390.6L1071.3 390.8L1072.1 391.0L1072.8 391.2L1073.6 391.5L1074.3 391.7L1075.1 391.9L1075.8 392.1L1076.6 392.3L1077.3 392.5L1078.1 392.7L1078.8 392.8L1079.6 393.0L1080.3 393.2L1081.1 393.3L1081.8 393.5L1082.6 393.6L1083.3 393.7L1084.1 393.8L1084.8 393.9L1085.6 394.0L1086.3 394.1L1087.1 394.1L1087.8 394.2L1088.6 394.3L1089.3 394.3L1090.1 394.4L1090.8 394.4L1091.6 394.4L1092.3 394.5L1093.1 394.5L1093.8 394.5L1094.6 394.6L1095.3 394.7L1096.1 394.9L1096.8 395.0L1097.6 395.2L1098.3 395.3L1099.1 395.5L1099.8 395.6L1100.6 395.8L1101.3 395.9L1102.1 396.1L1102.8 396.3L1103.6 396.4L1104.3 396.6L1105.1 396.8L1105.8 396.9L1106.6 397.1L1107.3 397.3L1108.1 397.4L1108.8 397.6L1109.6 397.8L1110.3 398.0L1111.1 398.2L1111.8 398.4L1112.6 398.6L1113.3 398.8L1114.1 399.0L1114.8 399.2L1115.6 399.5L1116.3 399.7L1117.1 399.9L1117.8 400.1L1118.6 400.3L1119.3 400.5L1120.1 400.7L1120.8 400.9L1121.6 401.1L1122.3 401.3L1123.1 401.6L1123.8 401.8L1124.6 402.0L1125.3 402.2L1126.1 402.4L1126.8 402.6L1127.6 402.8L1128.3 403.0L1129.1 403.2L1129.8 403.4L1130.6 403.6L1131.3 403.8L1132.1 404.0L1132.8 404.2L1133.6 404.4L1134.3 404.6L1135.1 404.8L1135.8 404.9L1136.6 405.1L1137.3 405.2L1138.1 405.3L1138.8 405.5L1139.6 405.6L1140.3 405.8L1141.1 405.9L1141.8 406.0L1142.6 406.2L1143.3 406.3L1144.1 406.4L1144.8 406.6L1145.6 406.7L1146.3 406.8L1147.1 407.0L1147.8 407.1L1148.6 407.2L1149.3 407.4L1150.1 407.5L1150.8 407.7L1151.6 407.8L1152.3 407.9L1153.1 408.1L1153.8 408.2L1154.6 408.4L1155.3 408.5L1156.1 408.7L1156.8 408.8L1157.6 409.0L1158.3 409.1L1159.1 409.3L1159.8 409.4L1160.6 409.6L1161.3 409.7L1162.1 409.8L1162.8 410.0L1163.6 410.1L1164.3 410.3L1165.1 410.4L1165.8 410.6L1166.6 410.7L1167.3 410.9L1168.1 411.0L1168.8 411.2L1169.6 411.4L1170.3 411.5L1171.1 411.7L1171.8 411.8L1172.6 412.0L1173.3 412.2L1174.1 412.4L1174.8 412.5L1175.6 412.7L1176.3 412.9L1177.1 413.0L1177.8 413.2L1178.6 413.4L1179.3 413.6L1180.1 413.8L1180.8 413.9L1181.6 414.1L1182.3 414.3L1183.1 414.5L1183.8 414.7L1184.6 414.8L1185.3 415.1L1186.1 415.3L1186.8 415.6L1187.6 415.8L1188.3 416.0L1189.1 416.3L1189.8 416.5L1190.6 416.7L1191.3 417.0L1192.1 417.2L1192.8 417.5L1193.6 417.7L1194.3 417.9L1195.1 418.2L1195.8 418.4L1196.6 418.6L1197.3 418.9L1198.1 419.1L1198.8 419.4L1199.6 419.6L1200.3 419.9L1201.1 420.1L1201.8 420.3L1202.6 420.6L1203.3 420.8L1204.1 421.1L1204.8 421.3L1205.6 421.6L1206.3 421.8L1207.1 422.0L1207.8 422.3L1208.6 422.5L1209.3 422.7L1210.1 423.0L1210.8 423.2L1211.6 423.4L1212.3 423.7L1213.1 423.9L1213.8 424.2L1214.6 424.4L1215.3 424.6L1216.1 424.9L1216.8 425.1L1217.6 425.3L1218.3 425.6L1219.1 425.8L1219.8 426.1L1220.6 426.3L1221.3 426.5L1222.1 426.8L1222.8 427.0L1223.6 427.2L1224.3 427.5L1225.1 427.5L1225.8 427.6L1226.6 427.7L1227.3 427.7L1228.1 427.8L1228.8 427.8L1229.6 427.9L1230.3 427.9L1231.1 428.0L1231.8 428.0L1232.6 428.1L1233.3 428.1L1234.1 428.2L1234.8 428.3L1235.6 428.4L1236.3 428.5L1237.1 428.7L1237.8 428.8L1238.6 429.0L1239.3 429.1L1240.1 429.3L1240.8 429.4L1241.6 429.6L1242.3 429.7L1243.1 429.9L1243.8 430.0L1244.6 430.2L1245.3 430.3L1246.1 430.5L1246.8 430.6L1247.6 430.8L1248.3 431.0L1249.1 431.1L1249.8 431.3L1250.6 431.5L1251.3 431.6L1252.1 431.8L1252.8 432.0L1253.6 432.2L1254.3 432.4L1255.1 432.6L1255.8 432.8L1256.6 433.1L1257.3 433.3L1258.1 433.6L1258.8 433.8L1259.6 434.1L1260.3 434.3L1261.1 434.6L1261.8 434.8L1262.6 435.1L1263.3 435.4L1264.1 435.6L1264.8 435.9L1265.6 436.2L1266.3 436.4L1267.1 436.7L1267.8 437.0L1268.6 437.3L1269.3 437.5L1270.1 437.8L1270.8 438.1L1271.6 438.4L1272.3 438.7L1273.1 438.9L1273.8 439.2L1274.6 439.5L1275.3 439.9L1276.1 440.2L1276.8 440.6L1277.6 440.9L1278.3 441.2L1279.1 441.6L1279.8 441.9L1280.6 442.3L1281.3 442.6L1282.1 442.9L1282.8 443.3L1283.6 443.6L1284.3 443.9L1285.1 444.3L1285.8 444.6L1286.6 445.0L1287.3 445.3L1288.1 445.7L1288.8 446.1L1289.6 446.4L1290.3 446.8L1291.1 447.1L1291.8 447.5L1292.6 447.9L1293.3 448.2L1294.1 448.6L1294.8 448.9L1295.6 449.2L1296.3 449.5L1297.1 449.7L1297.8 450.0L1298.6 450.3L1299.3 450.5L1300.1 450.8L1300.8 451.0L1301.6 451.2L1302.3 451.5L1303.1 451.7L1303.8 451.9L1304.6 452.1L1305.3 452.3L1306.1 452.5L1306.8 452.7L1307.6 453.0L1308.3 453.2L1309.1 453.4L1309.8 453.5L1310.6 453.7L1311.3 453.9L1312.1 454.1L1312.8 454.3L1313.6 454.5L1314.3 454.7L1315.1 454.9L1315.8 455.1L1316.6 455.3L1317.3 455.5L1318.1 455.7L1318.8 455.9L1319.6 456.0L1320.3 456.2L1321.1 456.4L1321.8 456.7L1322.6 456.9L1323.3 457.2L1324.1 457.4L1324.8 457.7L1325.6 457.9L1326.3 458.2L1327.1 458.4L1327.8 458.7L1328.6 458.9L1329.3 459.1L1330.1 459.4L1330.8 459.6L1331.6 459.9L1332.3 460.2L1333.1 460.4L1333.8 460.7L1334.6 460.9L1335.3 461.2L1336.1 461.5L1336.8 461.7L1337.6 462.0L1338.3 462.3L1339.1 462.6L1339.8 462.9L1340.6 463.2L1341.3 463.5L1342.1 463.9L1342.8 464.2L1343.6 464.5L1344.3 464.9L1345.1 465.2L1345.8 465.5L1346.6 465.9L1347.3 466.3L1348.1 466.6L1348.8 467.0L1349.6 467.3L1350.3 467.6L1351.1 467.8L1351.8 468.0L1352.6 468.3L1353.3 468.5L1354.1 468.8L1354.8 469.0L1355.6 469.3L1356.3 469.5L1357.1 469.8L1357.8 470.1L1358.6 470.3L1359.3 470.6L1360.1 470.9L1360.8 471.2L1361.6 471.5L1362.3 471.8L1363.1 472.1L1363.8 472.5L1364.6 472.8L1365.3 473.0L1366.1 473.2L1366.8 473.3L1367.6 473.5L1368.3 473.7L1369.1 473.9L1369.8 474.1L1370.6 474.3L1371.3 474.4L1372.1 474.6L1372.8 474.8L1373.6 474.9L1374.3 475.1L1375.1 475.2L1375.8 475.3L1376.6 475.6L1377.3 475.9L1378.1 476.2L1378.8 476.5L1379.6 476.8L1380.3 477.0L1381.1 477.3L1381.8 477.5L1382.6 477.8L1383.3 478.0L1384.1 478.3L1384.8 478.5L1385.6 478.7L1386.3 479.0L1387.1 479.2L1387.8 479.5L1388.6 479.8L1389.3 480.2L1390.1 480.5L1390.8 480.8L1391.6 481.1L1392.3 481.4L1393.1 481.7L1393.8 481.9L1394.6 482.2L1395.3 482.4L1396.1 482.6L1396.8 482.9L1397.6 483.0L1398.3 483.2L1399.1 483.4L1399.8 483.6L1400.6 483.8L1401.3 484.1L1402.1 484.3L1402.8 484.5L1403.6 484.7L1404.3 484.9L1405.1 485.1L1405.8 485.3L1406.6 485.5L1407.3 485.7L1408.1 485.9L1408.8 486.1L1409.6 486.3L1410.3 486.5L1411.1 486.7L1411.8 486.9L1412.6 487.0L1413.3 487.1L1414.1 487.3L1414.8 487.4L1415.6 487.6L1416.3 487.7L1417.1 487.8L1417.8 488.0L1418.6 488.1L1419.3 488.2L1420.1 488.3L1420.8 488.4L1421.6 488.5L1422.3 488.6L1423.1 488.7L1423.8 488.7L1424.6 488.8L1425.3 488.9L1426.1 489.2L1426.8 489.5L1427.6 489.8L1428.3 490.2L1428.3 491.8L1427.6 491.9L1426.8 491.9L1426.1 492.0L1425.3 492.1L1424.6 492.2L1423.8 492.2L1423.1 492.3L1422.3 492.3L1421.6 492.3L1420.8 492.4L1420.1 492.4L1419.3 492.4L1418.6 492.4L1417.8 492.4L1417.1 492.4L1416.3 492.4L1415.6 492.4L1414.8 492.3L1414.1 492.3L1413.3 492.3L1412.6 492.3L1411.8 492.2L1411.1 492.2L1410.3 492.2L1409.6 492.1L1408.8 492.1L1408.1 492.0L1407.3 492.0L1406.6 491.9L1405.8 491.9L1405.1 491.8L1404.3 491.8L1403.6 491.7L1402.8 491.7L1402.1 491.6L1401.3 491.6L1400.6 491.5L1399.8 491.4L1399.1 491.4L1398.3 491.3L1397.6 491.2L1396.8 491.1L1396.1 490.9L1395.3 490.8L1394.6 490.6L1393.8 490.5L1393.1 490.3L1392.3 490.1L1391.6 489.9L1390.8 489.6L1390.1 489.4L1389.3 489.2L1388.6 488.9L1387.8 488.7L1387.1 488.4L1386.3 488.1L1385.6 487.8L1384.8 487.6L1384.1 487.3L1383.3 487.0L1382.6 486.7L1381.8 486.4L1381.1 486.1L1380.3 485.8L1379.6 485.5L1378.8 485.2L1378.1 484.9L1377.3 484.6L1376.6 484.2L1375.8 483.8L1375.1 483.4L1374.3 483.0L1373.6 482.6L1372.8 482.2L1372.1 481.7L1371.3 481.3L1370.6 480.8L1369.8 480.4L1369.1 479.9L1368.3 479.4L1367.6 479.0L1366.8 478.5L1366.1 478.1L1365.3 477.6L1364.6 477.2L1363.8 476.7L1363.1 476.3L1362.3 475.9L1361.6 475.5L1360.8 475.1L1360.1 474.7L1359.3 474.4L1358.6 474.0L1357.8 473.7L1357.1 473.4L1356.3 473.0L1355.6 472.7L1354.8 472.4L1354.1 472.0L1353.3 471.7L1352.6 471.4L1351.8 471.1L1351.1 470.8L1350.3 470.5L1349.6 470.1L1348.8 469.8L1348.1 469.6L1347.3 469.3L1346.6 469.0L1345.8 468.7L1345.1 468.4L1344.3 468.1L1343.6 467.9L1342.8 467.6L1342.1 467.4L1341.3 467.1L1340.6 466.9L1339.8 466.6L1339.1 466.4L1338.3 466.2L1337.6 466.0L1336.8 465.8L1336.1 465.6L1335.3 465.4L1334.6 465.2L1333.8 465.0L1333.1 464.8L1332.3 464.6L1331.6 464.4L1330.8 464.2L1330.1 464.1L1329.3 463.9L1328.6 463.7L1327.8 463.5L1327.1 463.4L1326.3 463.2L1325.6 463.0L1324.8 462.8L1324.1 462.7L1323.3 462.5L1322.6 462.3L1321.8 462.1L1321.1 461.9L1320.3 461.7L1319.6 461.5L1318.8 461.4L1318.1 461.2L1317.3 461.0L1316.6 460.8L1315.8 460.6L1315.1 460.4L1314.3 460.2L1313.6 460.0L1312.8 459.8L1312.1 459.6L1311.3 459.4L1310.6 459.2L1309.8 459.0L1309.1 458.9L1308.3 458.7L1307.6 458.5L1306.8 458.2L1306.1 458.0L1305.3 457.8L1304.6 457.6L1303.8 457.4L1303.1 457.2L1302.3 457.0L1301.6 456.7L1300.8 456.5L1300.1 456.3L1299.3 456.0L1298.6 455.8L1297.8 455.5L1297.1 455.2L1296.3 455.0L1295.6 454.7L1294.8 454.4L1294.1 454.1L1293.3 453.8L1292.6 453.5L1291.8 453.2L1291.1 452.9L1290.3 452.6L1289.6 452.3L1288.8 452.0L1288.1 451.7L1287.3 451.4L1286.6 451.1L1285.8 450.8L1285.1 450.5L1284.3 450.2L1283.6 449.9L1282.8 449.6L1282.1 449.4L1281.3 449.1L1280.6 448.8L1279.8 448.5L1279.1 448.2L1278.3 447.9L1277.6 447.7L1276.8 447.4L1276.1 447.1L1275.3 446.8L1274.6 446.5L1273.8 446.2L1273.1 445.9L1272.3 445.7L1271.6 445.4L1270.8 445.1L1270.1 444.8L1269.3 444.5L1268.6 444.3L1267.8 444.0L1267.1 443.7L1266.3 443.4L1265.6 443.2L1264.8 442.9L1264.1 442.6L1263.3 442.4L1262.6 442.1L1261.8 441.8L1261.1 441.6L1260.3 441.3L1259.6 441.1L1258.8 440.8L1258.1 440.6L1257.3 440.3L1256.6 440.1L1255.8 439.8L1255.1 439.6L1254.3 439.4L1253.6 439.1L1252.8 438.9L1252.1 438.7L1251.3 438.5L1250.6 438.3L1249.8 438.1L1249.1 437.9L1248.3 437.7L1247.6 437.5L1246.8 437.3L1246.1 437.1L1245.3 436.9L1244.6 436.7L1243.8 436.5L1243.1 436.3L1242.3 436.1L1241.6 435.9L1240.8 435.7L1240.1 435.5L1239.3 435.4L1238.6 435.2L1237.8 435.0L1237.1 434.8L1236.3 434.6L1235.6 434.5L1234.8 434.3L1234.1 434.1L1233.3 433.9L1232.6 433.7L1231.8 433.6L1231.1 433.4L1230.3 433.2L1229.6 433.0L1228.8 432.9L1228.1 432.7L1227.3 432.5L1226.6 432.3L1225.8 432.1L1225.1 431.9L1224.3 431.8L1223.6 431.6L1222.8 431.4L1222.1 431.2L1221.3 431.0L1220.6 430.8L1219.8 430.6L1219.1 430.4L1218.3 430.2L1217.6 430.1L1216.8 429.9L1216.1 429.7L1215.3 429.5L1214.6 429.3L1213.8 429.1L1213.1 428.9L1212.3 428.7L1211.6 428.5L1210.8 428.3L1210.1 428.1L1209.3 427.9L1208.6 427.8L1207.8 427.6L1207.1 427.4L1206.3 427.2L1205.6 427.0L1204.8 426.8L1204.1 426.6L1203.3 426.4L1202.6 426.2L1201.8 426.0L1201.1 425.9L1200.3 425.7L1199.6 425.5L1198.8 425.3L1198.1 425.1L1197.3 424.9L1196.6 424.7L1195.8 424.6L1195.1 424.4L1194.3 424.2L1193.6 424.0L1192.8 423.8L1192.1 423.6L1191.3 423.5L1190.6 423.3L1189.8 423.1L1189.1 422.9L1188.3 422.7L1187.6 422.6L1186.8 422.4L1186.1 422.2L1185.3 422.0L1184.6 421.8L1183.8 421.7L1183.1 421.5L1182.3 421.3L1181.6 421.1L1180.8 420.9L1180.1 420.8L1179.3 420.6L1178.6 420.4L1177.8 420.2L1177.1 420.0L1176.3 419.9L1175.6 419.7L1174.8 419.5L1174.1 419.4L1173.3 419.2L1172.6 419.0L1171.8 418.8L1171.1 418.7L1170.3 418.5L1169.6 418.4L1168.8 418.2L1168.1 418.0L1167.3 417.9L1166.6 417.7L1165.8 417.6L1165.1 417.4L1164.3 417.3L1163.6 417.1L1162.8 417.0L1162.1 416.8L1161.3 416.7L1160.6 416.6L1159.8 416.4L1159.1 416.3L1158.3 416.2L1157.6 416.1L1156.8 415.9L1156.1 415.8L1155.3 415.7L1154.6 415.6L1153.8 415.5L1153.1 415.3L1152.3 415.2L1151.6 415.1L1150.8 415.0L1150.1 414.9L1149.3 414.8L1148.6 414.7L1147.8 414.6L1147.1 414.5L1146.3 414.4L1145.6 414.3L1144.8 414.1L1144.1 414.0L1143.3 413.9L1142.6 413.8L1141.8 413.7L1141.1 413.6L1140.3 413.5L1139.6 413.4L1138.8 413.3L1138.1 413.2L1137.3 413.1L1136.6 413.0L1135.8 412.9L1135.1 412.8L1134.3 412.7L1133.6 412.6L1132.8 412.4L1132.1 412.3L1131.3 412.2L1130.6 412.1L1129.8 412.0L1129.1 411.9L1128.3 411.8L1127.6 411.6L1126.8 411.5L1126.1 411.4L1125.3 411.3L1124.6 411.2L1123.8 411.0L1123.1 410.9L1122.3 410.8L1121.6 410.7L1120.8 410.6L1120.1 410.4L1119.3 410.3L1118.6 410.2L1117.8 410.1L1117.1 410.0L1116.3 409.8L1115.6 409.7L1114.8 409.6L1114.1 409.5L1113.3 409.4L1112.6 409.2L1111.8 409.1L1111.1 409.0L1110.3 408.9L1109.6 408.8L1108.8 408.6L1108.1 408.5L1107.3 408.4L1106.6 408.3L1105.8 408.2L1105.1 408.0L1104.3 407.9L1103.6 407.8L1102.8 407.7L1102.1 407.6L1101.3 407.5L1100.6 407.4L1099.8 407.3L1099.1 407.2L1098.3 407.1L1097.6 407.0L1096.8 406.9L1096.1 406.8L1095.3 406.7L1094.6 406.6L1093.8 406.5L1093.1 406.4L1092.3 406.3L1091.6 406.1L1090.8 406.0L1090.1 405.9L1089.3 405.8L1088.6 405.7L1087.8 405.5L1087.1 405.4L1086.3 405.3L1085.6 405.1L1084.8 404.9L1084.1 404.8L1083.3 404.6L1082.6 404.4L1081.8 404.2L1081.1 404.0L1080.3 403.8L1079.6 403.5L1078.8 403.3L1078.1 403.0L1077.3 402.8L1076.6 402.5L1075.8 402.2L1075.1 401.9L1074.3 401.7L1073.6 401.4L1072.8 401.1L1072.1 400.8L1071.3 400.5L1070.6 400.2L1069.8 399.9L1069.1 399.5L1068.3 399.2L1067.6 398.9L1066.8 398.6L1066.1 398.3L1065.3 398.0L1064.6 397.6L1063.8 397.3L1063.1 396.9L1062.3 396.5L1061.6 396.2L1060.8 395.8L1060.1 395.4L1059.3 395.0L1058.6 394.6L1057.8 394.2L1057.1 393.8L1056.3 393.4L1055.6 393.0L1054.8 392.6L1054.1 392.2L1053.3 391.8L1052.6 391.4L1051.8 391.0L1051.1 390.6L1050.3 390.3L1049.6 389.9L1048.8 389.6L1048.1 389.3L1047.3 389.0L1046.6 388.6L1045.8 388.3L1045.1 388.0L1044.3 387.7L1043.6 387.4L1042.8 387.2L1042.1 386.9L1041.3 386.6L1040.6 386.3L1039.8 386.0L1039.1 385.7L1038.3 385.5L1037.6 385.2L1036.8 384.9L1036.1 384.7L1035.3 384.4L1034.6 384.1L1033.8 383.9L1033.1 383.6L1032.3 383.3L1031.6 383.1L1030.8 382.8L1030.1 382.5L1029.3 382.3L1028.6 382.0L1027.8 381.7L1027.1 381.5L1026.3 381.2L1025.6 380.9L1024.8 380.7L1024.1 380.4L1023.4 380.1L1022.6 379.9L1021.9 379.6L1021.1 379.3L1020.4 379.1L1019.6 378.8L1018.9 378.6L1018.1 378.3L1017.4 378.1L1016.6 377.8L1015.9 377.6L1015.1 377.3L1014.4 377.1L1013.6 376.9L1012.9 376.7L1012.1 376.4L1011.4 376.2L1010.6 376.0L1009.9 375.8L1009.1 375.6L1008.4 375.4L1007.6 375.2L1006.9 375.0L1006.1 374.8L1005.4 374.6L1004.6 374.4L1003.9 374.2L1003.1 374.0L1002.4 373.8L1001.6 373.6L1000.9 373.4L1000.1 373.2L999.4 373.0L998.6 372.9L997.9 372.7L997.1 372.5L996.4 372.3L995.6 372.1L994.9 371.9L994.1 371.8L993.4 371.6L992.6 371.4L991.9 371.2L991.1 371.1L990.4 370.9L989.6 370.7L988.9 370.5L988.1 370.3L987.4 370.2L986.6 370.0L985.9 369.8L985.1 369.6L984.4 369.5L983.6 369.3L982.9 369.1L982.1 369.0L981.4 368.8L980.6 368.7L979.9 368.5L979.1 368.3L978.4 368.2L977.6 368.0L976.9 367.9L976.1 367.7L975.4 367.6L974.6 367.4L973.9 367.2L973.1 367.1L972.4 366.9L971.6 366.7L970.9 366.6L970.1 366.4L969.4 366.2L968.6 366.1L967.9 365.9L967.1 365.7L966.4 365.5L965.6 365.4L964.9 365.2L964.1 365.0L963.4 364.8L962.6 364.6L961.9 364.4L961.1 364.2L960.4 364.0L959.6 363.8L958.9 363.5L958.1 363.3L957.4 363.1L956.6 362.9L955.9 362.7L955.1 362.4L954.4 362.2L953.6 362.0L952.9 361.7L952.1 361.5L951.4 361.2L950.6 361.0L949.9 360.7L949.1 360.5L948.4 360.2L947.6 360.0L946.9 359.7L946.1 359.5L945.4 359.2L944.6 359.0L943.9 358.7L943.1 358.4L942.4 358.2L941.6 357.9L940.9 357.6L940.1 357.4L939.4 357.1L938.6 356.8L937.9 356.6L937.1 356.3L936.4 356.0L935.6 355.7L934.9 355.4L934.1 355.2L933.4 354.9L932.6 354.6L931.9 354.3L931.1 354.0L930.4 353.6L929.6 353.3L928.9 353.0L928.1 352.7L927.4 352.4L926.6 352.1L925.9 351.8L925.1 351.5L924.4 351.2L923.6 350.8L922.9 350.5L922.1 350.2L921.4 349.9L920.6 349.6L919.9 349.3L919.1 349.0L918.4 348.7L917.6 348.4L916.9 348.1L916.1 347.8L915.4 347.5L914.6 347.2L913.9 346.9L913.1 346.7L912.4 346.4L911.6 346.1L910.9 345.8L910.1 345.6L909.4 345.3L908.6 345.0L907.9 344.7L907.1 344.5L906.4 344.2L905.6 343.9L904.9 343.6L904.1 343.4L903.4 343.1L902.6 342.8L901.9 342.6L901.1 342.3L900.4 342.0L899.6 341.8L898.9 341.5L898.1 341.3L897.4 341.0L896.6 340.8L895.9 340.5L895.1 340.2L894.4 340.0L893.6 339.7L892.9 339.5L892.1 339.2L891.4 339.0L890.6 338.8L889.9 338.5L889.1 338.3L888.4 338.0L887.6 337.8L886.9 337.6L886.1 337.3L885.4 337.1L884.6 336.9L883.9 336.6L883.1 336.4L882.4 336.2L881.6 335.9L880.9 335.7L880.1 335.5L879.4 335.3L878.6 335.0L877.9 334.8L877.1 334.6L876.4 334.4L875.6 334.2L874.9 334.0L874.1 333.7L873.4 333.5L872.6 333.3L871.9 333.1L871.1 332.9Z" fill="rgba(240,173,11,0.83)"/>
<path d="M871.1 332.9L871.9 333.1L872.6 333.3L873.4 333.5L874.1 333.7L874.9 334.0L875.6 334.2L876.4 334.4L877.1 334.6L877.9 334.8L878.6 335.0L879.4 335.3L880.1 335.5L880.9 335.7L881.6 335.9L882.4 336.2L883.1 336.4L883.9 336.6L884.6 336.9L885.4 337.1L886.1 337.3L886.9 337.6L887.6 337.8L888.4 338.0L889.1 338.3L889.9 338.5L890.6 338.8L891.4 339.0L892.1 339.2L892.9 339.5L893.6 339.7L894.4 340.0L895.1 340.2L895.9 340.5L896.6 340.8L897.4 341.0L898.1 341.3L898.9 341.5L899.6 341.8L900.4 342.0L901.1 342.3L901.9 342.6L902.6 342.8L903.4 343.1L904.1 343.4L904.9 343.6L905.6 343.9L906.4 344.2L907.1 344.5L907.9 344.7L908.6 345.0L909.4 345.3L910.1 345.6L910.9 345.8L911.6 346.1L912.4 346.4L913.1 346.7L913.9 346.9L914.6 347.2L915.4 347.5L916.1 347.8L916.9 348.1L917.6 348.4L918.4 348.7L919.1 349.0L919.9 349.3L920.6 349.6L921.4 349.9L922.1 350.2L922.9 350.5L923.6 350.8L924.4 351.2L925.1 351.5L925.9 351.8L926.6 352.1L927.4 352.4L928.1 352.7L928.9 353.0L929.6 353.3L930.4 353.6L931.1 354.0L931.9 354.3L932.6 354.6L933.4 354.9L934.1 355.2L934.9 355.4L935.6 355.7L936.4 356.0L937.1 356.3L937.9 356.6L938.6 356.8L939.4 357.1L940.1 357.4L940.9 357.6L941.6 357.9L942.4 358.2L943.1 358.4L943.9 358.7L944.6 359.0L945.4 359.2L946.1 359.5L946.9 359.7L947.6 360.0L948.4 360.2L949.1 360.5L949.9 360.7L950.6 361.0L951.4 361.2L952.1 361.5L952.9 361.7L953.6 362.0L954.4 362.2L955.1 362.4L955.9 362.7L956.6 362.9L957.4 363.1L958.1 363.3L958.9 363.5L959.6 363.8L960.4 364.0L961.1 364.2L961.9 364.4L962.6 364.6L963.4 364.8L964.1 365.0L964.9 365.2L965.6 365.4L966.4 365.5L967.1 365.7L967.9 365.9L968.6 366.1L969.4 366.2L970.1 366.4L970.9 366.6L971.6 366.7L972.4 366.9L973.1 367.1L973.9 367.2L974.6 367.4L975.4 367.6L976.1 367.7L976.9 367.9L977.6 368.0L978.4 368.2L979.1 368.3L979.9 368.5L980.6 368.7L981.4 368.8L982.1 369.0L982.9 369.1L983.6 369.3L984.4 369.5L985.1 369.6L985.9 369.8L986.6 370.0L987.4 370.2L988.1 370.3L988.9 370.5L989.6 370.7L990.4 370.9L991.1 371.1L991.9 371.2L992.6 371.4L993.4 371.6L994.1 371.8L994.9 371.9L995.6 372.1L996.4 372.3L997.1 372.5L997.9 372.7L998.6 372.9L999.4 373.0L1000.1 373.2L1000.9 373.4L1001.6 373.6L1002.4 373.8L1003.1 374.0L1003.9 374.2L1004.6 374.4L1005.4 374.6L1006.1 374.8L1006.9 375.0L1007.6 375.2L1008.4 375.4L1009.1 375.6L1009.9 375.8L1010.6 376.0L1011.4 376.2L1012.1 376.4L1012.9 376.7L1013.6 376.9L1014.4 377.1L1015.1 377.3L1015.9 377.6L1016.6 377.8L1017.4 378.1L1018.1 378.3L1018.9 378.6L1019.6 378.8L1020.4 379.1L1021.1 379.3L1021.9 379.6L1022.6 379.9L1023.4 380.1L1024.1 380.4L1024.8 380.7L1025.6 380.9L1026.3 381.2L1027.1 381.5L1027.8 381.7L1028.6 382.0L1029.3 382.3L1030.1 382.5L1030.8 382.8L1031.6 383.1L1032.3 383.3L1033.1 383.6L1033.8 383.9L1034.6 384.1L1035.3 384.4L1036.1 384.7L1036.8 384.9L1037.6 385.2L1038.3 385.5L1039.1 385.7L1039.8 386.0L1040.6 386.3L1041.3 386.6L1042.1 386.9L1042.8 387.2L1043.6 387.4L1044.3 387.7L1045.1 388.0L1045.8 388.3L1046.6 388.6L1047.3 389.0L1048.1 389.3L1048.8 389.6L1049.6 389.9L1050.3 390.3L1051.1 390.6L1051.8 391.0L1052.6 391.4L1053.3 391.8L1054.1 392.2L1054.8 392.6L1055.6 393.0L1056.3 393.4L1057.1 393.8L1057.8 394.2L1058.6 394.6L1059.3 395.0L1060.1 395.4L1060.8 395.8L1061.6 396.2L1062.3 396.5L1063.1 396.9L1063.8 397.3L1064.6 397.6L1065.3 398.0L1066.1 398.3L1066.8 398.6L1067.6 398.9L1068.3 399.2L1069.1 399.5L1069.8 399.9L1070.6 400.2L1071.3 400.5L1072.1 400.8L1072.8 401.1L1073.6 401.4L1074.3 401.7L1075.1 401.9L1075.8 402.2L1076.6 402.5L1077.3 402.8L1078.1 403.0L1078.8 403.3L1079.6 403.5L1080.3 403.8L1081.1 404.0L1081.8 404.2L1082.6 404.4L1083.3 404.6L1084.1 404.8L1084.8 404.9L1085.6 405.1L1086.3 405.3L1087.1 405.4L1087.8 405.5L1088.6 405.7L1089.3 405.8L1090.1 405.9L1090.8 406.0L1091.6 406.1L1092.3 406.3L1093.1 406.4L1093.8 406.5L1094.6 406.6L1095.3 406.7L1096.1 406.8L1096.8 406.9L1097.6 407.0L1098.3 407.1L1099.1 407.2L1099.8 407.3L1100.6 407.4L1101.3 407.5L1102.1 407.6L1102.8 407.7L1103.6 407.8L1104.3 407.9L1105.1 408.0L1105.8 408.2L1106.6 408.3L1107.3 408.4L1108.1 408.5L1108.8 408.6L1109.6 408.8L1110.3 408.9L1111.1 409.0L1111.8 409.1L1112.6 409.2L1113.3 409.4L1114.1 409.5L1114.8 409.6L1115.6 409.7L1116.3 409.8L1117.1 410.0L1117.8 410.1L1118.6 410.2L1119.3 410.3L1120.1 410.4L1120.8 410.6L1121.6 410.7L1122.3 410.8L1123.1 410.9L1123.8 411.0L1124.6 411.2L1125.3 411.3L1126.1 411.4L1126.8 411.5L1127.6 411.6L1128.3 411.8L1129.1 411.9L1129.8 412.0L1130.6 412.1L1131.3 412.2L1132.1 412.3L1132.8 412.4L1133.6 412.6L1134.3 412.7L1135.1 412.8L1135.8 412.9L1136.6 413.0L1137.3 413.1L1138.1 413.2L1138.8 413.3L1139.6 413.4L1140.3 413.5L1141.1 413.6L1141.8 413.7L1142.6 413.8L1143.3 413.9L1144.1 414.0L1144.8 414.1L1145.6 414.3L1146.3 414.4L1147.1 414.5L1147.8 414.6L1148.6 414.7L1149.3 414.8L1150.1 414.9L1150.8 415.0L1151.6 415.1L1152.3 415.2L1153.1 415.3L1153.8 415.5L1154.6 415.6L1155.3 415.7L1156.1 415.8L1156.8 415.9L1157.6 416.1L1158.3 416.2L1159.1 416.3L1159.8 416.4L1160.6 416.6L1161.3 416.7L1162.1 416.8L1162.8 417.0L1163.6 417.1L1164.3 417.3L1165.1 417.4L1165.8 417.6L1166.6 417.7L1167.3 417.9L1168.1 418.0L1168.8 418.2L1169.6 418.4L1170.3 418.5L1171.1 418.7L1171.8 418.8L1172.6 419.0L1173.3 419.2L1174.1 419.4L1174.8 419.5L1175.6 419.7L1176.3 419.9L1177.1 420.0L1177.8 420.2L1178.6 420.4L1179.3 420.6L1180.1 420.8L1180.8 420.9L1181.6 421.1L1182.3 421.3L1183.1 421.5L1183.8 421.7L1184.6 421.8L1185.3 422.0L1186.1 422.2L1186.8 422.4L1187.6 422.6L1188.3 422.7L1189.1 422.9L1189.8 423.1L1190.6 423.3L1191.3 423.5L1192.1 423.6L1192.8 423.8L1193.6 424.0L1194.3 424.2L1195.1 424.4L1195.8 424.6L1196.6 424.7L1197.3 424.9L1198.1 425.1L1198.8 425.3L1199.6 425.5L1200.3 425.7L1201.1 425.9L1201.8 426.0L1202.6 426.2L1203.3 426.4L1204.1 426.6L1204.8 426.8L1205.6 427.0L1206.3 427.2L1207.1 427.4L1207.8 427.6L1208.6 427.8L1209.3 427.9L1210.1 428.1L1210.8 428.3L1211.6 428.5L1212.3 428.7L1213.1 428.9L1213.8 429.1L1214.6 429.3L1215.3 429.5L1216.1 429.7L1216.8 429.9L1217.6 430.1L1218.3 430.2L1219.1 430.4L1219.8 430.6L1220.6 430.8L1221.3 431.0L1222.1 431.2L1222.8 431.4L1223.6 431.6L1224.3 431.8L1225.1 431.9L1225.8 432.1L1226.6 432.3L1227.3 432.5L1228.1 432.7L1228.8 432.9L1229.6 433.0L1230.3 433.2L1231.1 433.4L1231.8 433.6L1232.6 433.7L1233.3 433.9L1234.1 434.1L1234.8 434.3L1235.6 434.5L1236.3 434.6L1237.1 434.8L1237.8 435.0L1238.6 435.2L1239.3 435.4L1240.1 435.5L1240.8 435.7L1241.6 435.9L1242.3 436.1L1243.1 436.3L1243.8 436.5L1244.6 436.7L1245.3 436.9L1246.1 437.1L1246.8 437.3L1247.6 437.5L1248.3 437.7L1249.1 437.9L1249.8 438.1L1250.6 438.3L1251.3 438.5L1252.1 438.7L1252.8 438.9L1253.6 439.1L1254.3 439.4L1255.1 439.6L1255.8 439.8L1256.6 440.1L1257.3 440.3L1258.1 440.6L1258.8 440.8L1259.6 441.1L1260.3 441.3L1261.1 441.6L1261.8 441.8L1262.6 442.1L1263.3 442.4L1264.1 442.6L1264.8 442.9L1265.6 443.2L1266.3 443.4L1267.1 443.7L1267.8 444.0L1268.6 444.3L1269.3 444.5L1270.1 444.8L1270.8 445.1L1271.6 445.4L1272.3 445.7L1273.1 445.9L1273.8 446.2L1274.6 446.5L1275.3 446.8L1276.1 447.1L1276.8 447.4L1277.6 447.7L1278.3 447.9L1279.1 448.2L1279.8 448.5L1280.6 448.8L1281.3 449.1L1282.1 449.4L1282.8 449.6L1283.6 449.9L1284.3 450.2L1285.1 450.5L1285.8 450.8L1286.6 451.1L1287.3 451.4L1288.1 451.7L1288.8 452.0L1289.6 452.3L1290.3 452.6L1291.1 452.9L1291.8 453.2L1292.6 453.5L1293.3 453.8L1294.1 454.1L1294.8 454.4L1295.6 454.7L1296.3 455.0L1297.1 455.2L1297.8 455.5L1298.6 455.8L1299.3 456.0L1300.1 456.3L1300.8 456.5L1301.6 456.7L1302.3 457.0L1303.1 457.2L1303.8 457.4L1304.6 457.6L1305.3 457.8L1306.1 458.0L1306.8 458.2L1307.6 458.5L1308.3 458.7L1309.1 458.9L1309.8 459.0L1310.6 459.2L1311.3 459.4L1312.1 459.6L1312.8 459.8L1313.6 460.0L1314.3 460.2L1315.1 460.4L1315.8 460.6L1316.6 460.8L1317.3 461.0L1318.1 461.2L1318.8 461.4L1319.6 461.5L1320.3 461.7L1321.1 461.9L1321.8 462.1L1322.6 462.3L1323.3 462.5L1324.1 462.7L1324.8 462.8L1325.6 463.0L1326.3 463.2L1327.1 463.4L1327.8 463.5L1328.6 463.7L1329.3 463.9L1330.1 464.1L1330.8 464.2L1331.6 464.4L1332.3 464.6L1333.1 464.8L1333.8 465.0L1334.6 465.2L1335.3 465.4L1336.1 465.6L1336.8 465.8L1337.6 466.0L1338.3 466.2L1339.1 466.4L1339.8 466.6L1340.6 466.9L1341.3 467.1L1342.1 467.4L1342.8 467.6L1343.6 467.9L1344.3 468.1L1345.1 468.4L1345.8 468.7L1346.6 469.0L1347.3 469.3L1348.1 469.6L1348.8 469.8L1349.6 470.1L1350.3 470.5L1351.1 470.8L1351.8 471.1L1352.6 471.4L1353.3 471.7L1354.1 472.0L1354.8 472.4L1355.6 472.7L1356.3 473.0L1357.1 473.4L1357.8 473.7L1358.6 474.0L1359.3 474.4L1360.1 474.7L1360.8 475.1L1361.6 475.5L1362.3 475.9L1363.1 476.3L1363.8 476.7L1364.6 477.2L1365.3 477.6L1366.1 478.1L1366.8 478.5L1367.6 479.0L1368.3 479.4L1369.1 479.9L1369.8 480.4L1370.6 480.8L1371.3 481.3L1372.1 481.7L1372.8 482.2L1373.6 482.6L1374.3 483.0L1375.1 483.4L1375.8 483.8L1376.6 484.2L1377.3 484.6L1378.1 484.9L1378.8 485.2L1379.6 485.5L1380.3 485.8L1381.1 486.1L1381.8 486.4L1382.6 486.7L1383.3 487.0L1384.1 487.3L1384.8 487.6L1385.6 487.8L1386.3 488.1L1387.1 488.4L1387.8 488.7L1388.6 488.9L1389.3 489.2L1390.1 489.4L1390.8 489.6L1391.6 489.9L1392.3 490.1L1393.1 490.3L1393.8 490.5L1394.6 490.6L1395.3 490.8L1396.1 490.9L1396.8 491.1L1397.6 491.2L1398.3 491.3L1399.1 491.4L1399.8 491.4L1400.6 491.5L1401.3 491.6L1402.1 491.6L1402.8 491.7L1403.6 491.7L1404.3 491.8L1405.1 491.8L1405.8 491.9L1406.6 491.9L1407.3 492.0L1408.1 492.0L1408.8 492.1L1409.6 492.1L1410.3 492.2L1411.1 492.2L1411.8 492.2L1412.6 492.3L1413.3 492.3L1414.1 492.3L1414.8 492.3L1415.6 492.4L1416.3 492.4L1417.1 492.4L1417.8 492.4L1418.6 492.4L1419.3 492.4L1420.1 492.4L1420.8 492.4L1421.6 492.3L1422.3 492.3L1423.1 492.3L1423.8 492.2L1424.6 492.2L1425.3 492.1L1426.1 492.0L1426.8 491.9L1427.6 491.9L1428.3 491.8" fill="none" stroke="#9A9A2A" stroke-width="1.2" stroke-opacity="0.8"/>
</g>
<rect x="806.6" y="5.3" width="687.2" height="553.2" fill="none" stroke="#000" stroke-width="2.5" stroke-linejoin="round"/>
<g stroke="#000" stroke-width="2.5" stroke-linecap="butt">
<line x1="806.6" y1="558.5" x2="806.6" y2="569.3"/>
<line x1="883.0" y1="558.5" x2="883.0" y2="563.8"/>
<line x1="959.3" y1="558.5" x2="959.3" y2="569.3"/>
<line x1="1035.7" y1="558.5" x2="1035.7" y2="563.8"/>
<line x1="1112.0" y1="558.5" x2="1112.0" y2="569.3"/>
<line x1="1188.4" y1="558.5" x2="1188.4" y2="563.8"/>
<line x1="1264.7" y1="558.5" x2="1264.7" y2="569.3"/>
<line x1="1341.1" y1="558.5" x2="1341.1" y2="563.8"/>
<line x1="1417.4" y1="558.5" x2="1417.4" y2="569.3"/>
<line x1="1493.8" y1="558.5" x2="1493.8" y2="563.8"/>
<line x1="1493.8" y1="558.5" x2="1493.8" y2="563.8"/>
</g>
<g font-family="Liberation Serif" font-weight="bold" font-size="31.8" fill="#000">
<text transform="translate(806.6,601.5) scale(1,1.057)" text-anchor="middle">970</text>
<text transform="translate(959.3,601.5) scale(1,1.057)" text-anchor="middle">960</text>
<text transform="translate(1112.0,601.5) scale(1,1.057)" text-anchor="middle">950</text>
<text transform="translate(1264.7,601.5) scale(1,1.057)" text-anchor="middle">940</text>
<text transform="translate(1417.4,601.5) scale(1,1.057)" text-anchor="middle">930</text>
</g>
<text transform="translate(1004.6,639.6) scale(1,1.03)" font-family="Liberation Serif" font-weight="bold" font-size="36.75" fill="#000">Binding Energy (eV)</text>
<text transform="translate(783.5,385.0) rotate(-90)" font-family="Liberation Serif" font-weight="bold" font-size="36.6" fill="#000">Intensity (a.u.)</text>
<g stroke-width="2.2">
<line x1="809.3" y1="30.4" x2="847.8" y2="30.4" stroke="#555555"/>
<line x1="809.3" y1="70.4" x2="847.8" y2="70.4" stroke="#E0343A"/>
<line x1="809.3" y1="109.8" x2="847.8" y2="109.8" stroke="#2F72D6"/>
</g>
<g font-family="Liberation Sans" font-weight="bold" font-size="31.3" fill="#000">
<text x="856.0" y="36.3">Spectrum</text>
<text x="856.0" y="75.0">Composite spectrum</text>
<text x="856.0" y="114.8">Background</text>
</g>
<g font-family="Liberation Serif" font-weight="bold" font-size="31.5" fill="#000">
<text x="1310.2" y="39.8">Cu2p<tspan dy="12.2">3/2</tspan></text>
<text x="1013.9" y="194.4">Cu2p<tspan dy="12.0">1/2</tspan></text>
<text x="1462.6" y="42.0" font-size="30.5">b</text>
</g>

</svg>
</body></html>
